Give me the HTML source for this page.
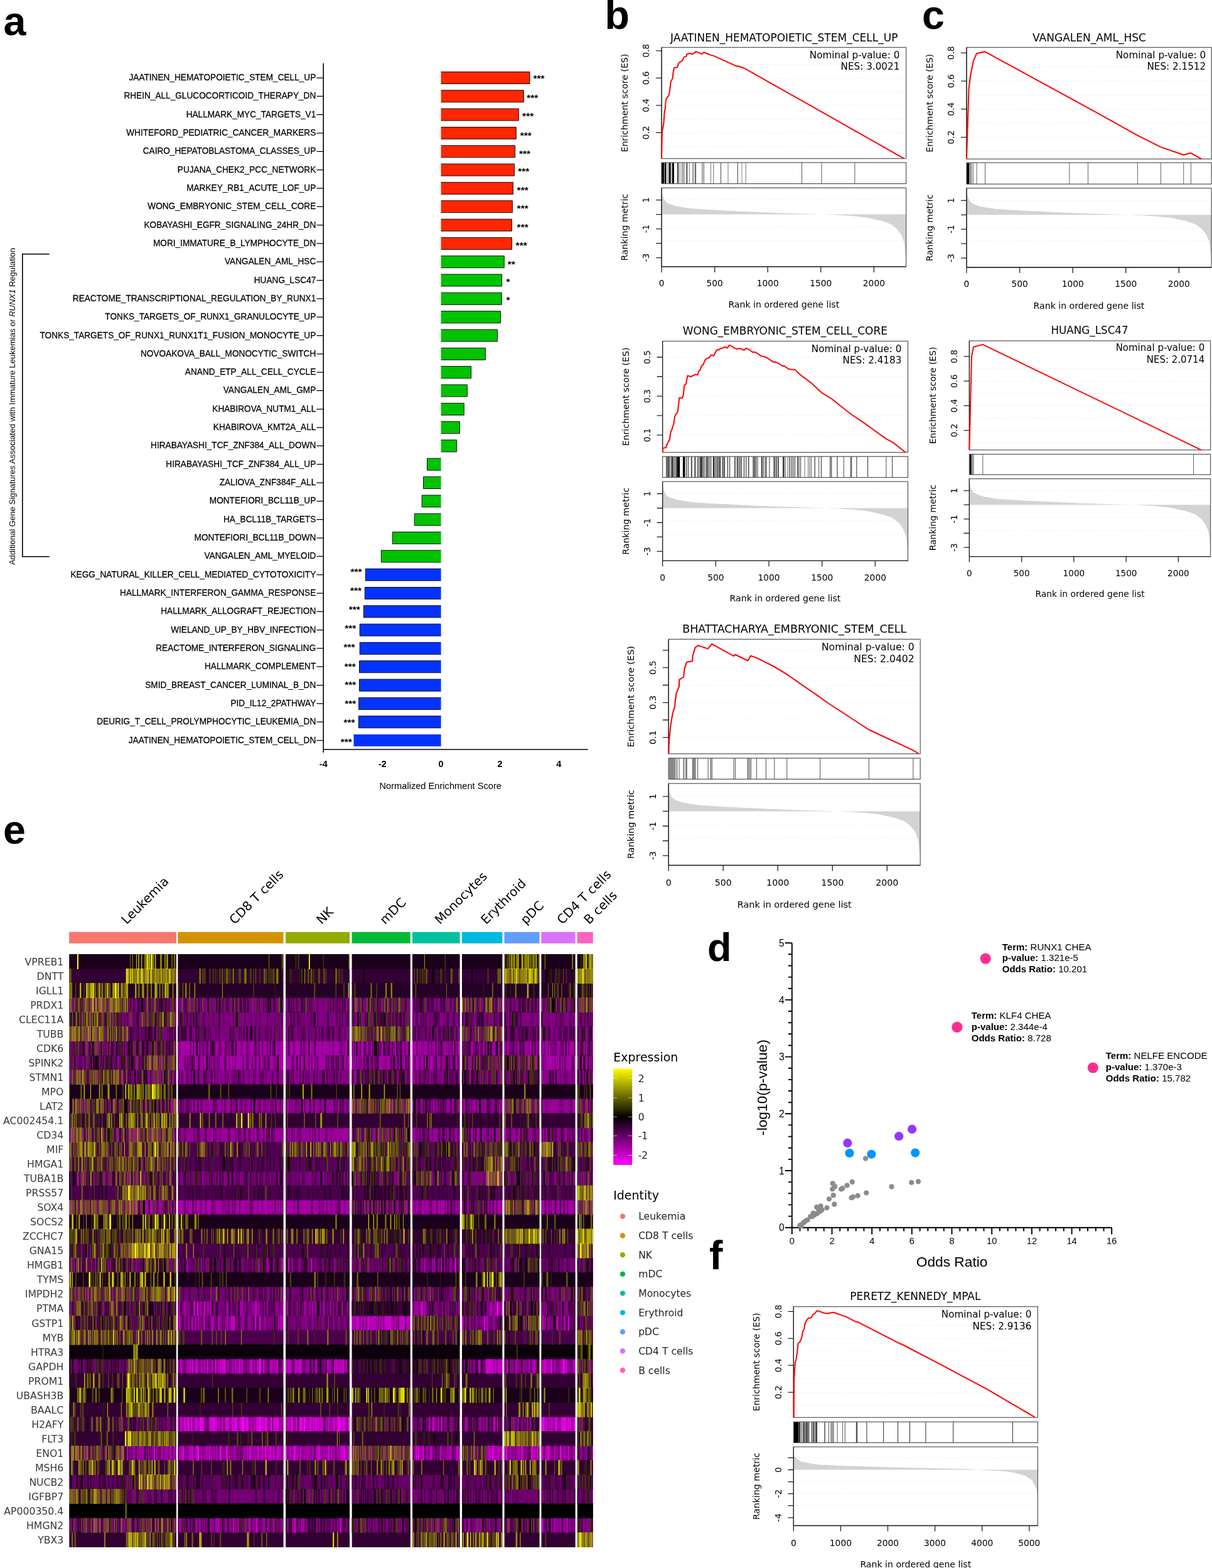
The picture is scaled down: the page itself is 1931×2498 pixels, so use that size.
<!DOCTYPE html>
<html><head><meta charset="utf-8"><title>Figure</title>
<style>html,body{margin:0;padding:0;background:#fff}svg{display:block}</style></head>
<body><svg width="1931" height="2498" viewBox="0 0 1931 2498">
<rect width="1931" height="2498" fill="#fff"/>
<text x="5.5" y="56.1" font-family="Liberation Sans, Arial, sans-serif" font-weight="bold" font-size="64.5">a</text>
<g font-family="Liberation Sans, Arial, sans-serif" font-size="14" text-anchor="end" fill="#000" stroke="#000" stroke-width="0.25" transform="translate(503.3 0) scale(0.975 1)">
<text x="0" y="128.1">JAATINEN_HEMATOPOIETIC_STEM_CELL_UP</text>
<text x="0" y="157.4">RHEIN_ALL_GLUCOCORTICOID_THERAPY_DN</text>
<text x="0" y="186.7">HALLMARK_MYC_TARGETS_V1</text>
<text x="0" y="216.1">WHITEFORD_PEDIATRIC_CANCER_MARKERS</text>
<text x="0" y="245.4">CAIRO_HEPATOBLASTOMA_CLASSES_UP</text>
<text x="0" y="274.7">PUJANA_CHEK2_PCC_NETWORK</text>
<text x="0" y="304.0">MARKEY_RB1_ACUTE_LOF_UP</text>
<text x="0" y="333.3">WONG_EMBRYONIC_STEM_CELL_CORE</text>
<text x="0" y="362.7">KOBAYASHI_EGFR_SIGNALING_24HR_DN</text>
<text x="0" y="392.0">MORI_IMMATURE_B_LYMPHOCYTE_DN</text>
<text x="0" y="421.3">VANGALEN_AML_HSC</text>
<text x="0" y="450.6">HUANG_LSC47</text>
<text x="0" y="479.9">REACTOME_TRANSCRIPTIONAL_REGULATION_BY_RUNX1</text>
<text x="0" y="509.3">TONKS_TARGETS_OF_RUNX1_GRANULOCYTE_UP</text>
<text x="0" y="538.6">TONKS_TARGETS_OF_RUNX1_RUNX1T1_FUSION_MONOCYTE_UP</text>
<text x="0" y="567.9">NOVOAKOVA_BALL_MONOCYTIC_SWITCH</text>
<text x="0" y="597.2">ANAND_ETP_ALL_CELL_CYCLE</text>
<text x="0" y="626.5">VANGALEN_AML_GMP</text>
<text x="0" y="655.9">KHABIROVA_NUTM1_ALL</text>
<text x="0" y="685.2">KHABIROVA_KMT2A_ALL</text>
<text x="0" y="714.5">HIRABAYASHI_TCF_ZNF384_ALL_DOWN</text>
<text x="0" y="743.8">HIRABAYASHI_TCF_ZNF384_ALL_UP</text>
<text x="0" y="773.1">ZALIOVA_ZNF384F_ALL</text>
<text x="0" y="802.5">MONTEFIORI_BCL11B_UP</text>
<text x="0" y="831.8">HA_BCL11B_TARGETS</text>
<text x="0" y="861.1">MONTEFIORI_BCL11B_DOWN</text>
<text x="0" y="890.4">VANGALEN_AML_MYELOID</text>
<text x="0" y="919.7">KEGG_NATURAL_KILLER_CELL_MEDIATED_CYTOTOXICITY</text>
<text x="0" y="949.1">HALLMARK_INTERFERON_GAMMA_RESPONSE</text>
<text x="0" y="978.4">HALLMARK_ALLOGRAFT_REJECTION</text>
<text x="0" y="1007.7">WIELAND_UP_BY_HBV_INFECTION</text>
<text x="0" y="1037.0">REACTOME_INTERFERON_SIGNALING</text>
<text x="0" y="1066.3">HALLMARK_COMPLEMENT</text>
<text x="0" y="1095.7">SMID_BREAST_CANCER_LUMINAL_B_DN</text>
<text x="0" y="1125.0">PID_IL12_2PATHWAY</text>
<text x="0" y="1154.3">DEURIG_T_CELL_PROLYMPHOCYTIC_LEUKEMIA_DN</text>
<text x="0" y="1183.6">JAATINEN_HEMATOPOIETIC_STEM_CELL_DN</text>
</g>
<path d="M504.5 124.0H515M504.5 153.3H515M504.5 182.6H515M504.5 212.0H515M504.5 241.3H515M504.5 270.6H515M504.5 299.9H515M504.5 329.2H515M504.5 358.6H515M504.5 387.9H515M504.5 417.2H515M504.5 446.5H515M504.5 475.8H515M504.5 505.2H515M504.5 534.5H515M504.5 563.8H515M504.5 593.1H515M504.5 622.4H515M504.5 651.8H515M504.5 681.1H515M504.5 710.4H515M504.5 739.7H515M504.5 769.0H515M504.5 798.4H515M504.5 827.7H515M504.5 857.0H515M504.5 886.3H515M504.5 915.6H515M504.5 945.0H515M504.5 974.3H515M504.5 1003.6H515M504.5 1032.9H515M504.5 1062.2H515M504.5 1091.6H515M504.5 1120.9H515M504.5 1150.2H515M504.5 1179.5H515" stroke="#000" stroke-width="1.25" fill="none"/>
<path d="M515.2 100.8V1199M514.2 1194H936.6" stroke="#000" stroke-width="1.6" fill="none"/>
<rect x="702.6" y="114.5" width="141.4" height="19" fill="#ff2600"/>
<path d="M702.6 114.5H844.0V133.5H702.6" fill="none" stroke="#111" stroke-width="1"/>
<rect x="702.6" y="143.8" width="131.7" height="19" fill="#ff2600"/>
<path d="M702.6 143.8H834.3V162.8H702.6" fill="none" stroke="#111" stroke-width="1"/>
<rect x="702.6" y="173.1" width="123.7" height="19" fill="#ff2600"/>
<path d="M702.6 173.1H826.3V192.1H702.6" fill="none" stroke="#111" stroke-width="1"/>
<rect x="702.6" y="202.5" width="119.7" height="19" fill="#ff2600"/>
<path d="M702.6 202.5H822.3V221.5H702.6" fill="none" stroke="#111" stroke-width="1"/>
<rect x="702.6" y="231.8" width="118.0" height="19" fill="#ff2600"/>
<path d="M702.6 231.8H820.6V250.8H702.6" fill="none" stroke="#111" stroke-width="1"/>
<rect x="702.6" y="261.1" width="116.9" height="19" fill="#ff2600"/>
<path d="M702.6 261.1H819.5V280.1H702.6" fill="none" stroke="#111" stroke-width="1"/>
<rect x="702.6" y="290.4" width="114.9" height="19" fill="#ff2600"/>
<path d="M702.6 290.4H817.5V309.4H702.6" fill="none" stroke="#111" stroke-width="1"/>
<rect x="702.6" y="319.7" width="113.8" height="19" fill="#ff2600"/>
<path d="M702.6 319.7H816.4V338.7H702.6" fill="none" stroke="#111" stroke-width="1"/>
<rect x="702.6" y="349.1" width="112.9" height="19" fill="#ff2600"/>
<path d="M702.6 349.1H815.5V368.1H702.6" fill="none" stroke="#111" stroke-width="1"/>
<rect x="702.6" y="378.4" width="112.9" height="19" fill="#ff2600"/>
<path d="M702.6 378.4H815.5V397.4H702.6" fill="none" stroke="#111" stroke-width="1"/>
<rect x="702.6" y="407.7" width="100.7" height="19" fill="#00c300"/>
<path d="M702.6 407.7H803.3V426.7H702.6" fill="none" stroke="#111" stroke-width="1"/>
<rect x="702.6" y="437.0" width="97.0" height="19" fill="#00c300"/>
<path d="M702.6 437.0H799.6V456.0H702.6" fill="none" stroke="#111" stroke-width="1"/>
<rect x="702.6" y="466.3" width="96.7" height="19" fill="#00c300"/>
<path d="M702.6 466.3H799.3V485.3H702.6" fill="none" stroke="#111" stroke-width="1"/>
<rect x="702.6" y="495.7" width="95.0" height="19" fill="#00c300"/>
<path d="M702.6 495.7H797.6V514.7H702.6" fill="none" stroke="#111" stroke-width="1"/>
<rect x="702.6" y="525.0" width="89.9" height="19" fill="#00c300"/>
<path d="M702.6 525.0H792.5V544.0H702.6" fill="none" stroke="#111" stroke-width="1"/>
<rect x="702.6" y="554.3" width="70.8" height="19" fill="#00c300"/>
<path d="M702.6 554.3H773.4V573.3H702.6" fill="none" stroke="#111" stroke-width="1"/>
<rect x="702.6" y="583.6" width="48.1" height="19" fill="#00c300"/>
<path d="M702.6 583.6H750.7V602.6H702.6" fill="none" stroke="#111" stroke-width="1"/>
<rect x="702.6" y="612.9" width="41.8" height="19" fill="#00c300"/>
<path d="M702.6 612.9H744.4V631.9H702.6" fill="none" stroke="#111" stroke-width="1"/>
<rect x="702.6" y="642.3" width="36.7" height="19" fill="#00c300"/>
<path d="M702.6 642.3H739.3V661.3H702.6" fill="none" stroke="#111" stroke-width="1"/>
<rect x="702.6" y="671.6" width="29.9" height="19" fill="#00c300"/>
<path d="M702.6 671.6H732.5V690.6H702.6" fill="none" stroke="#111" stroke-width="1"/>
<rect x="702.6" y="700.9" width="25.1" height="19" fill="#00c300"/>
<path d="M702.6 700.9H727.7V719.9H702.6" fill="none" stroke="#111" stroke-width="1"/>
<rect x="680.5" y="730.2" width="22.1" height="19" fill="#00c300"/>
<path d="M702.6 730.2H680.5V749.2H702.6" fill="none" stroke="#111" stroke-width="1"/>
<rect x="674.5" y="759.5" width="28.1" height="19" fill="#00c300"/>
<path d="M702.6 759.5H674.5V778.5H702.6" fill="none" stroke="#111" stroke-width="1"/>
<rect x="672.2" y="788.9" width="30.4" height="19" fill="#00c300"/>
<path d="M702.6 788.9H672.2V807.9H702.6" fill="none" stroke="#111" stroke-width="1"/>
<rect x="660.3" y="818.2" width="42.3" height="19" fill="#00c300"/>
<path d="M702.6 818.2H660.3V837.2H702.6" fill="none" stroke="#111" stroke-width="1"/>
<rect x="625.3" y="847.5" width="77.3" height="19" fill="#00c300"/>
<path d="M702.6 847.5H625.3V866.5H702.6" fill="none" stroke="#111" stroke-width="1"/>
<rect x="607.4" y="876.8" width="95.2" height="19" fill="#00c300"/>
<path d="M702.6 876.8H607.4V895.8H702.6" fill="none" stroke="#111" stroke-width="1"/>
<rect x="582.3" y="906.1" width="120.3" height="19" fill="#0433ff"/>
<path d="M702.6 906.1H582.3V925.1H702.6" fill="none" stroke="#111" stroke-width="1"/>
<rect x="581.3" y="935.5" width="121.3" height="19" fill="#0433ff"/>
<path d="M702.6 935.5H581.3V954.5H702.6" fill="none" stroke="#111" stroke-width="1"/>
<rect x="579.3" y="964.8" width="123.3" height="19" fill="#0433ff"/>
<path d="M702.6 964.8H579.3V983.8H702.6" fill="none" stroke="#111" stroke-width="1"/>
<rect x="573.2" y="994.1" width="129.4" height="19" fill="#0433ff"/>
<path d="M702.6 994.1H573.2V1013.1H702.6" fill="none" stroke="#111" stroke-width="1"/>
<rect x="573.2" y="1023.4" width="129.4" height="19" fill="#0433ff"/>
<path d="M702.6 1023.4H573.2V1042.4H702.6" fill="none" stroke="#111" stroke-width="1"/>
<rect x="572.5" y="1052.7" width="130.1" height="19" fill="#0433ff"/>
<path d="M702.6 1052.7H572.5V1071.7H702.6" fill="none" stroke="#111" stroke-width="1"/>
<rect x="572.5" y="1082.1" width="130.1" height="19" fill="#0433ff"/>
<path d="M702.6 1082.1H572.5V1101.1H702.6" fill="none" stroke="#111" stroke-width="1"/>
<rect x="571.7" y="1111.4" width="130.9" height="19" fill="#0433ff"/>
<path d="M702.6 1111.4H571.7V1130.4H702.6" fill="none" stroke="#111" stroke-width="1"/>
<rect x="571.4" y="1140.7" width="131.2" height="19" fill="#0433ff"/>
<path d="M702.6 1140.7H571.4V1159.7H702.6" fill="none" stroke="#111" stroke-width="1"/>
<rect x="563.5" y="1170.0" width="139.1" height="19" fill="#0433ff"/>
<g font-family="Liberation Sans, Arial, sans-serif" font-weight="bold" font-size="15.5" fill="#000">
<text x="849.4" y="129.7">***</text>
<text x="839.3" y="161.0">***</text>
<text x="832.1" y="190.1">***</text>
<text x="828.8" y="221.4">***</text>
<text x="826.9" y="250.2">***</text>
<text x="825.2" y="277.5">***</text>
<text x="823.6" y="307.9">***</text>
<text x="823.6" y="336.8">***</text>
<text x="823.6" y="367.2">***</text>
<text x="821.6" y="396.1">***</text>
<text x="808.8" y="425.7">**</text>
<text x="806.4" y="453.8">*</text>
<text x="806.4" y="483.1">*</text>
<text x="576.6" y="915.7" text-anchor="end">***</text>
<text x="576.1" y="945.9" text-anchor="end">***</text>
<text x="573.9" y="976.2" text-anchor="end">***</text>
<text x="567.3" y="1005.9" text-anchor="end">***</text>
<text x="565.6" y="1036.2" text-anchor="end">***</text>
<text x="566.9" y="1066.6" text-anchor="end">***</text>
<text x="567.3" y="1095.5" text-anchor="end">***</text>
<text x="567.3" y="1126.3" text-anchor="end">***</text>
<text x="565.6" y="1156.3" text-anchor="end">***</text>
<text x="560.8" y="1186.8" text-anchor="end">***</text>
</g>
<g font-family="Liberation Sans, Arial, sans-serif" font-weight="bold" font-size="14.5" text-anchor="middle">
<text x="515.3" y="1221.6">-4</text>
<text x="609.4" y="1221.6">-2</text>
<text x="702.6" y="1221.6">0</text>
<text x="796.5" y="1221.6">2</text>
<text x="890.3" y="1221.6">4</text>
</g>
<text x="701.7" y="1256.8" font-family="Liberation Sans, Arial, sans-serif" font-size="14.65" text-anchor="middle">Normalized Enrichment Score</text>
<path d="M78.6 404.7H35.8V886.8H78.6" stroke="#000" stroke-width="1.6" fill="none"/>
<text transform="translate(23.6 647.5) rotate(-90)" font-family="Liberation Sans, Arial, sans-serif" font-size="13" text-anchor="middle">Additional Gene Signatures Associated with Immature Leukemias or <tspan font-style="italic">RUNX1</tspan> Regulation</text>
<text x="963.5" y="46" font-family="Liberation Sans, Arial, sans-serif" font-weight="bold" font-size="64.5">b</text>
<text x="1469" y="46" font-family="Liberation Sans, Arial, sans-serif" font-weight="bold" font-size="64.5">c</text>
<path d="M1056.1 233.2H1441.6M1056.1 211.4H1441.6M1056.1 189.7H1441.6M1056.1 167.9H1441.6M1056.1 146.2H1441.6M1056.1 124.4H1441.6M1056.1 102.7H1441.6M1056.1 318.5H1441.6M1056.1 362.2H1441.6M1056.1 383.1H1441.6" stroke="#efefef" stroke-width="1" stroke-dasharray="4 3" fill="none"/>
<polygon points="1054.1,341.6 1054.1,306.0 1054.2,306.2 1054.4,307.0 1054.7,308.2 1055.2,310.0 1055.8,312.2 1056.5,314.2 1057.4,315.9 1058.4,317.9 1059.5,320.1 1060.7,321.2 1062.1,322.3 1063.6,323.4 1065.3,324.4 1067.0,325.0 1068.9,325.6 1070.9,326.3 1073.1,327.0 1075.3,327.8 1077.7,328.4 1080.2,328.8 1082.8,329.3 1085.5,329.7 1088.4,330.2 1091.3,330.6 1094.3,331.1 1097.5,331.6 1100.8,332.2 1104.1,332.4 1107.6,332.6 1111.1,332.8 1114.8,333.0 1118.5,333.3 1122.4,333.5 1126.3,333.8 1130.3,334.0 1134.4,334.3 1138.5,334.5 1142.8,334.7 1147.1,335.0 1151.5,335.2 1155.9,335.4 1160.4,335.7 1165.0,335.9 1169.6,336.2 1174.3,336.4 1179.1,336.6 1183.8,336.9 1188.7,337.1 1193.5,337.3 1198.4,337.5 1203.4,337.7 1208.4,338.0 1213.4,338.2 1218.4,338.4 1223.4,338.6 1228.5,338.8 1233.6,339.0 1238.7,339.2 1243.8,339.4 1248.8,339.5 1253.9,339.7 1259.0,339.9 1264.1,340.1 1269.2,340.2 1274.3,340.4 1279.3,340.6 1284.3,340.7 1289.3,340.9 1294.3,341.0 1299.3,341.2 1304.2,341.3 1309.0,341.4 1313.9,341.6 1318.6,341.8 1323.4,342.0 1328.1,342.2 1332.7,342.4 1337.3,342.7 1341.8,343.0 1346.2,343.3 1350.6,343.5 1354.9,343.8 1359.2,344.2 1363.3,344.7 1367.4,345.1 1371.4,345.5 1375.3,345.9 1379.2,346.3 1382.9,347.1 1386.6,347.9 1390.1,348.7 1393.6,349.5 1396.9,350.2 1400.2,350.9 1403.4,351.7 1406.4,352.6 1409.3,353.6 1412.2,354.5 1414.9,355.5 1417.5,356.4 1420.0,357.8 1422.4,359.6 1424.6,361.3 1426.8,362.9 1428.8,364.6 1430.7,367.1 1432.4,369.4 1434.1,371.5 1435.6,373.5 1437.0,376.8 1438.2,380.1 1439.3,383.0 1440.3,385.6 1441.2,392.0 1441.9,398.1 1442.5,403.1 1443.0,407.2 1443.3,410.4 1443.5,412.3 1443.6,412.9 1443.6,341.6" fill="#d3d3d3"/>
<rect x="1053.70" y="259.0" width="4.20" height="33.6" fill="#000000"/>
<rect x="1058.30" y="259.0" width="0.80" height="33.6" fill="#727272"/>
<rect x="1059.10" y="259.0" width="2.50" height="33.6" fill="#000000"/>
<rect x="1063.70" y="259.0" width="1.20" height="33.6" fill="#727272"/>
<rect x="1065.80" y="259.0" width="2.90" height="33.6" fill="#000000"/>
<rect x="1070.10" y="259.0" width="0.80" height="33.6" fill="#505050"/>
<rect x="1071.00" y="259.0" width="0.80" height="33.6" fill="#000000"/>
<rect x="1072.00" y="259.0" width="2.00" height="33.6" fill="#000000"/>
<rect x="1079.00" y="259.0" width="0.9" height="33.6" fill="#000000"/>
<rect x="1080.60" y="259.0" width="0.9" height="33.6" fill="#000000"/>
<rect x="1083.40" y="259.0" width="0.80" height="33.6" fill="#727272"/>
<rect x="1086.50" y="259.0" width="0.9" height="33.6" fill="#161616"/>
<rect x="1089.30" y="259.0" width="0.9" height="33.6" fill="#161616"/>
<rect x="1093.10" y="259.0" width="0.9" height="33.6" fill="#272727"/>
<rect x="1094.70" y="259.0" width="0.9" height="33.6" fill="#272727"/>
<rect x="1098.30" y="259.0" width="0.80" height="33.6" fill="#505050"/>
<rect x="1103.30" y="259.0" width="0.80" height="33.6" fill="#3f3f3f"/>
<rect x="1105.20" y="259.0" width="0.80" height="33.6" fill="#727272"/>
<rect x="1107.00" y="259.0" width="0.80" height="33.6" fill="#727272"/>
<rect x="1108.20" y="259.0" width="0.80" height="33.6" fill="#0c0c0c"/>
<rect x="1118.40" y="259.0" width="0.9" height="33.6" fill="#383838"/>
<rect x="1120.80" y="259.0" width="0.9" height="33.6" fill="#383838"/>
<rect x="1131.90" y="259.0" width="0.80" height="33.6" fill="#505050"/>
<rect x="1136.50" y="259.0" width="0.80" height="33.6" fill="#505050"/>
<rect x="1148.20" y="259.0" width="0.80" height="33.6" fill="#1d1d1d"/>
<rect x="1159.60" y="259.0" width="0.80" height="33.6" fill="#505050"/>
<rect x="1174.80" y="259.0" width="0.80" height="33.6" fill="#0c0c0c"/>
<rect x="1181.60" y="259.0" width="0.80" height="33.6" fill="#616161"/>
<rect x="1187.80" y="259.0" width="0.80" height="33.6" fill="#505050"/>
<rect x="1277.00" y="259.0" width="0.80" height="33.6" fill="#2e2e2e"/>
<rect x="1308.60" y="259.0" width="0.80" height="33.6" fill="#2e2e2e"/>
<rect x="1361.50" y="259.0" width="0.80" height="33.6" fill="#2e2e2e"/>
<g fill="none" stroke="#555" stroke-width="1.2"><rect x="1054.1" y="75.5" width="389.5" height="177.1"/><rect x="1054.1" y="259.0" width="389.5" height="33.6"/><rect x="1054.1" y="299.3" width="389.5" height="125.6"/></g>
<path d="M1054.1 75.5V252.6M1054.1 299.3V424.9H1443.6M1045.1 211.4H1054.1M1045.1 167.9H1054.1M1045.1 124.4H1054.1M1045.1 80.9H1054.1M1045.1 318.6H1054.1M1045.1 341.6H1054.1M1045.1 364.6H1054.1M1045.1 387.6H1054.1M1045.1 410.6H1054.1M1054.1 424.9V433.9M1138.7 424.9V433.9M1223.2 424.9V433.9M1307.8 424.9V433.9M1392.4 424.9V433.9" stroke="#222" stroke-width="1.3" fill="none"/>
<polyline points="1054.1,252.6 1054.9,210.5 1057.4,196.8 1058.4,181.3 1059.9,172.0 1060.9,158.3 1065.5,152.1 1067.1,144.6 1068.6,130.3 1071.7,124.7 1072.6,114.7 1074.2,107.9 1079.2,107.3 1081.1,101.1 1082.9,99.2 1086.7,97.0 1089.8,90.9 1093.2,89.9 1094.7,86.1 1098.5,85.3 1103.4,86.1 1105.9,84.6 1109.0,82.1 1118.4,86.1 1121.5,83.3 1132.1,87.6 1137.0,88.9 1174.4,105.8 1175.6,105.0 1188.0,109.8 1439.9,252.4" fill="none" stroke="#ff0000" stroke-width="2.00" stroke-linejoin="round"/>
<text x="1249.2" y="65.8" font-family="DejaVu Sans, Verdana, sans-serif" font-size="17.00" text-anchor="middle">JAATINEN_HEMATOPOIETIC_STEM_CELL_UP</text>
<g font-family="DejaVu Sans, Verdana, sans-serif" font-size="15.20" text-anchor="end"><text x="1433.3" y="92.7">Nominal p-value: 0</text><text x="1433.3" y="111.1">NES: 3.0021</text></g>
<g font-family="DejaVu Sans, Verdana, sans-serif" font-size="14.10" text-anchor="middle"><text transform="translate(1000.0 164.1) rotate(-90)">Enrichment score (ES)</text><text transform="translate(1000.0 362.1) rotate(-90)">Ranking metric</text><text x="1248.8" y="490.2">Rank in ordered gene list</text></g>
<g font-family="DejaVu Sans, Verdana, sans-serif" font-size="13.80" text-anchor="middle"><text transform="translate(1034.0 211.4) rotate(-90)">0.2</text><text transform="translate(1034.0 167.9) rotate(-90)">0.4</text><text transform="translate(1034.0 124.4) rotate(-90)">0.6</text><text transform="translate(1034.0 80.9) rotate(-90)">0.8</text><text transform="translate(1034.0 318.6) rotate(-90)">1</text><text transform="translate(1034.0 364.6) rotate(-90)">-1</text><text transform="translate(1034.0 410.6) rotate(-90)">-3</text><text x="1054.1" y="456.4">0</text><text x="1138.7" y="456.4">500</text><text x="1223.2" y="456.4">1000</text><text x="1307.8" y="456.4">1500</text><text x="1392.4" y="456.4">2000</text></g>
<path d="M1542.0 241.0H1928.1M1542.0 218.7H1928.1M1542.0 196.3H1928.1M1542.0 173.9H1928.1M1542.0 151.5H1928.1M1542.0 129.2H1928.1M1542.0 106.8H1928.1M1542.0 319.3H1928.1M1542.0 363.0H1928.1M1542.0 384.0H1928.1" stroke="#efefef" stroke-width="1" stroke-dasharray="4 3" fill="none"/>
<polygon points="1540.0,342.3 1540.0,306.7 1540.1,307.0 1540.3,307.7 1540.6,309.0 1541.1,310.8 1541.7,313.0 1542.4,315.0 1543.3,316.7 1544.3,318.6 1545.4,320.8 1546.6,322.0 1548.0,323.0 1549.5,324.2 1551.2,325.1 1553.0,325.7 1554.8,326.4 1556.9,327.0 1559.0,327.8 1561.3,328.5 1563.6,329.2 1566.1,329.6 1568.7,330.0 1571.5,330.4 1574.3,330.9 1577.3,331.4 1580.3,331.8 1583.5,332.4 1586.7,332.9 1590.1,333.1 1593.6,333.3 1597.1,333.5 1600.8,333.8 1604.5,334.0 1608.4,334.2 1612.3,334.5 1616.3,334.7 1620.4,335.0 1624.6,335.2 1628.8,335.5 1633.1,335.7 1637.5,335.9 1642.0,336.2 1646.5,336.4 1651.1,336.6 1655.7,336.9 1660.4,337.1 1665.2,337.4 1669.9,337.6 1674.8,337.8 1679.7,338.0 1684.6,338.2 1689.5,338.5 1694.5,338.7 1699.5,338.9 1704.5,339.1 1709.6,339.3 1714.7,339.5 1719.7,339.7 1724.8,339.9 1729.9,340.1 1735.0,340.3 1740.2,340.4 1745.3,340.6 1750.4,340.8 1755.4,340.9 1760.5,341.1 1765.6,341.3 1770.6,341.4 1775.6,341.6 1780.6,341.7 1785.5,341.9 1790.4,342.0 1795.3,342.1 1800.2,342.3 1804.9,342.5 1809.7,342.7 1814.4,342.9 1819.0,343.1 1823.6,343.4 1828.1,343.7 1832.6,344.0 1837.0,344.2 1841.3,344.5 1845.5,344.9 1849.7,345.4 1853.8,345.8 1857.8,346.2 1861.7,346.6 1865.6,347.0 1869.3,347.7 1873.0,348.6 1876.5,349.4 1880.0,350.1 1883.4,350.9 1886.6,351.6 1889.8,352.3 1892.8,353.2 1895.8,354.2 1898.6,355.2 1901.4,356.2 1904.0,357.0 1906.5,358.4 1908.8,360.2 1911.1,361.9 1913.2,363.5 1915.3,365.3 1917.1,367.7 1918.9,370.0 1920.6,372.2 1922.1,374.1 1923.5,377.4 1924.7,380.7 1925.8,383.6 1926.8,386.2 1927.7,392.6 1928.4,398.7 1929.0,403.7 1929.5,407.8 1929.8,410.9 1930.0,412.8 1930.1,413.4 1930.1,342.3" fill="#d3d3d3"/>
<rect x="1540.00" y="259.2" width="4.00" height="34.0" fill="#000000"/>
<rect x="1544.50" y="259.2" width="0.80" height="34.0" fill="#1d1d1d"/>
<rect x="1546.00" y="259.2" width="0.80" height="34.0" fill="#2e2e2e"/>
<rect x="1548.00" y="259.2" width="0.80" height="34.0" fill="#3f3f3f"/>
<rect x="1550.50" y="259.2" width="0.80" height="34.0" fill="#505050"/>
<rect x="1555.70" y="259.2" width="0.80" height="34.0" fill="#3f3f3f"/>
<rect x="1569.00" y="259.2" width="0.80" height="34.0" fill="#3f3f3f"/>
<rect x="1703.50" y="259.2" width="0.80" height="34.0" fill="#3f3f3f"/>
<rect x="1733.10" y="259.2" width="0.80" height="34.0" fill="#3f3f3f"/>
<rect x="1811.90" y="259.2" width="0.80" height="34.0" fill="#3f3f3f"/>
<rect x="1849.20" y="259.2" width="0.80" height="34.0" fill="#3f3f3f"/>
<rect x="1885.40" y="259.2" width="0.80" height="34.0" fill="#3f3f3f"/>
<rect x="1897.20" y="259.2" width="0.80" height="34.0" fill="#3f3f3f"/>
<g fill="none" stroke="#555" stroke-width="1.2"><rect x="1540.0" y="75.5" width="390.1" height="177.8"/><rect x="1540.0" y="259.2" width="390.1" height="34.0"/><rect x="1540.0" y="299.8" width="390.1" height="126.2"/></g>
<path d="M1540.0 75.5V253.3M1540.0 299.8V426.0H1930.1M1531.0 218.7H1540.0M1531.0 173.9H1540.0M1531.0 129.2H1540.0M1531.0 84.4H1540.0M1531.0 319.4H1540.0M1531.0 342.3H1540.0M1531.0 365.2H1540.0M1531.0 388.2H1540.0M1531.0 411.1H1540.0M1540.0 426.0V435.0M1624.6 426.0V435.0M1709.2 426.0V435.0M1793.7 426.0V435.0M1878.3 426.0V435.0" stroke="#222" stroke-width="1.3" fill="none"/>
<polyline points="1540.0,253.3 1543.6,140.7 1546.5,118.5 1551.0,96.3 1556.0,85.3 1569.3,82.3 1739.0,174.8 1813.1,216.2 1850.1,234.6 1885.7,246.7 1897.5,243.8 1914.4,253.3" fill="none" stroke="#ff0000" stroke-width="2.00" stroke-linejoin="round"/>
<text x="1735.5" y="65.8" font-family="DejaVu Sans, Verdana, sans-serif" font-size="17.00" text-anchor="middle">VANGALEN_AML_HSC</text>
<g font-family="DejaVu Sans, Verdana, sans-serif" font-size="15.20" text-anchor="end"><text x="1921.2" y="92.7">Nominal p-value: 0</text><text x="1921.2" y="111.1">NES: 2.1512</text></g>
<g font-family="DejaVu Sans, Verdana, sans-serif" font-size="14.10" text-anchor="middle"><text transform="translate(1486.0 164.4) rotate(-90)">Enrichment score (ES)</text><text transform="translate(1486.0 362.9) rotate(-90)">Ranking metric</text><text x="1735.0" y="491.5">Rank in ordered gene list</text></g>
<g font-family="DejaVu Sans, Verdana, sans-serif" font-size="13.80" text-anchor="middle"><text transform="translate(1520.0 218.7) rotate(-90)">0.2</text><text transform="translate(1520.0 173.9) rotate(-90)">0.4</text><text transform="translate(1520.0 129.2) rotate(-90)">0.6</text><text transform="translate(1520.0 84.4) rotate(-90)">0.8</text><text transform="translate(1520.0 319.4) rotate(-90)">1</text><text transform="translate(1520.0 365.2) rotate(-90)">-1</text><text transform="translate(1520.0 411.1) rotate(-90)">-3</text><text x="1540.0" y="457.4">0</text><text x="1624.6" y="457.4">500</text><text x="1709.2" y="457.4">1000</text><text x="1793.7" y="457.4">1500</text><text x="1878.3" y="457.4">2000</text></g>
<path d="M1057.6 693.2H1444.5M1057.6 662.1H1444.5M1057.6 631.1H1444.5M1057.6 600.0H1444.5M1057.6 569.0H1444.5M1057.6 786.4H1444.5M1057.6 830.0H1444.5M1057.6 851.0H1444.5" stroke="#efefef" stroke-width="1" stroke-dasharray="4 3" fill="none"/>
<polygon points="1055.6,809.5 1055.6,773.9 1055.7,774.1 1055.9,774.9 1056.2,776.2 1056.7,777.9 1057.3,780.2 1058.0,782.1 1058.9,783.8 1059.9,785.8 1061.0,788.0 1062.3,789.2 1063.6,790.2 1065.2,791.4 1066.8,792.3 1068.6,792.9 1070.5,793.5 1072.5,794.2 1074.6,795.0 1076.9,795.7 1079.3,796.3 1081.8,796.7 1084.4,797.2 1087.1,797.6 1090.0,798.1 1092.9,798.5 1096.0,799.0 1099.2,799.5 1102.4,800.1 1105.8,800.3 1109.3,800.5 1112.8,800.7 1116.5,801.0 1120.3,801.2 1124.1,801.4 1128.0,801.7 1132.1,801.9 1136.2,802.2 1140.3,802.4 1144.6,802.7 1148.9,802.9 1153.3,803.1 1157.8,803.3 1162.3,803.6 1166.9,803.8 1171.6,804.1 1176.3,804.3 1181.0,804.6 1185.8,804.8 1190.7,805.0 1195.5,805.2 1200.5,805.4 1205.4,805.7 1210.4,805.9 1215.4,806.1 1220.5,806.3 1225.5,806.5 1230.6,806.7 1235.7,806.9 1240.8,807.1 1245.9,807.3 1251.0,807.4 1256.2,807.6 1261.3,807.8 1266.4,808.0 1271.5,808.1 1276.6,808.3 1281.6,808.5 1286.7,808.6 1291.7,808.8 1296.7,808.9 1301.6,809.1 1306.6,809.2 1311.4,809.3 1316.3,809.5 1321.1,809.7 1325.8,809.9 1330.5,810.1 1335.2,810.3 1339.8,810.6 1344.3,810.9 1348.8,811.2 1353.2,811.4 1357.5,811.7 1361.8,812.1 1365.9,812.6 1370.0,813.0 1374.1,813.4 1378.0,813.8 1381.8,814.2 1385.6,815.0 1389.3,815.8 1392.8,816.6 1396.3,817.3 1399.7,818.1 1402.9,818.8 1406.1,819.5 1409.2,820.4 1412.1,821.5 1415.0,822.4 1417.7,823.4 1420.3,824.3 1422.8,825.7 1425.2,827.5 1427.5,829.2 1429.6,830.8 1431.6,832.5 1433.5,835.0 1435.3,837.3 1436.9,839.4 1438.5,841.4 1439.8,844.7 1441.1,847.9 1442.2,850.9 1443.2,853.5 1444.1,859.8 1444.8,865.9 1445.4,871.0 1445.9,875.0 1446.2,878.2 1446.4,880.1 1446.5,880.7 1446.5,809.5" fill="#d3d3d3"/>
<rect x="1061.26" y="727.3" width="1.19" height="33.3" fill="#1d1d1d"/>
<rect x="1062.44" y="727.3" width="1.19" height="33.3" fill="#505050"/>
<rect x="1063.98" y="727.3" width="1.43" height="33.3" fill="#1d1d1d"/>
<rect x="1066.00" y="727.3" width="0.9" height="33.3" fill="#000000"/>
<rect x="1068.66" y="727.3" width="0.9" height="33.3" fill="#000000"/>
<rect x="1069.55" y="727.3" width="0.9" height="33.3" fill="#161616"/>
<rect x="1071.03" y="727.3" width="0.9" height="33.3" fill="#161616"/>
<rect x="1071.92" y="727.3" width="0.9" height="33.3" fill="#050505"/>
<rect x="1074.14" y="727.3" width="0.9" height="33.3" fill="#050505"/>
<rect x="1076.36" y="727.3" width="0.9" height="33.3" fill="#050505"/>
<rect x="1077.25" y="727.3" width="1.78" height="33.3" fill="#505050"/>
<rect x="1079.03" y="727.3" width="4.15" height="33.3" fill="#000000"/>
<rect x="1087.91" y="727.3" width="3.56" height="33.3" fill="#000000"/>
<rect x="1093.25" y="727.3" width="0.9" height="33.3" fill="#000000"/>
<rect x="1095.91" y="727.3" width="0.9" height="33.3" fill="#000000"/>
<rect x="1100.95" y="727.3" width="1.78" height="33.3" fill="#3f3f3f"/>
<rect x="1106.28" y="727.3" width="0.9" height="33.3" fill="#161616"/>
<rect x="1107.76" y="727.3" width="0.9" height="33.3" fill="#161616"/>
<rect x="1111.02" y="727.3" width="0.9" height="33.3" fill="#383838"/>
<rect x="1112.50" y="727.3" width="0.9" height="33.3" fill="#383838"/>
<rect x="1114.57" y="727.3" width="0.9" height="33.3" fill="#000000"/>
<rect x="1116.05" y="727.3" width="0.9" height="33.3" fill="#000000"/>
<rect x="1116.94" y="727.3" width="0.9" height="33.3" fill="#050505"/>
<rect x="1118.42" y="727.3" width="0.9" height="33.3" fill="#050505"/>
<rect x="1119.91" y="727.3" width="0.9" height="33.3" fill="#000000"/>
<rect x="1122.42" y="727.3" width="0.9" height="33.3" fill="#000000"/>
<rect x="1124.94" y="727.3" width="0.9" height="33.3" fill="#000000"/>
<rect x="1126.42" y="727.3" width="1.78" height="33.3" fill="#3f3f3f"/>
<rect x="1128.79" y="727.3" width="0.9" height="33.3" fill="#383838"/>
<rect x="1130.71" y="727.3" width="0.9" height="33.3" fill="#383838"/>
<rect x="1132.64" y="727.3" width="0.9" height="33.3" fill="#383838"/>
<rect x="1135.90" y="727.3" width="1.78" height="33.3" fill="#1d1d1d"/>
<rect x="1137.68" y="727.3" width="0.9" height="33.3" fill="#000000"/>
<rect x="1139.90" y="727.3" width="0.9" height="33.3" fill="#000000"/>
<rect x="1142.12" y="727.3" width="0.9" height="33.3" fill="#000000"/>
<rect x="1143.60" y="727.3" width="1.78" height="33.3" fill="#505050"/>
<rect x="1145.97" y="727.3" width="0.9" height="33.3" fill="#050505"/>
<rect x="1147.45" y="727.3" width="0.9" height="33.3" fill="#050505"/>
<rect x="1150.71" y="727.3" width="1.55" height="33.3" fill="#2e2e2e"/>
<rect x="1153.08" y="727.3" width="0.9" height="33.3" fill="#383838"/>
<rect x="1154.20" y="727.3" width="0.9" height="33.3" fill="#383838"/>
<rect x="1159.00" y="727.3" width="0.9" height="33.3" fill="#000000"/>
<rect x="1162.26" y="727.3" width="0.9" height="33.3" fill="#000000"/>
<rect x="1170.26" y="727.3" width="1.43" height="33.3" fill="#1d1d1d"/>
<rect x="1173.82" y="727.3" width="1.78" height="33.3" fill="#2e2e2e"/>
<rect x="1176.78" y="727.3" width="1.78" height="33.3" fill="#505050"/>
<rect x="1179.74" y="727.3" width="1.78" height="33.3" fill="#3f3f3f"/>
<rect x="1185.07" y="727.3" width="0.9" height="33.3" fill="#000000"/>
<rect x="1188.33" y="727.3" width="0.9" height="33.3" fill="#000000"/>
<rect x="1192.18" y="727.3" width="1.19" height="33.3" fill="#1d1d1d"/>
<rect x="1199.29" y="727.3" width="1.19" height="33.3" fill="#3f3f3f"/>
<rect x="1201.07" y="727.3" width="0.9" height="33.3" fill="#161616"/>
<rect x="1202.54" y="727.3" width="0.9" height="33.3" fill="#161616"/>
<rect x="1204.03" y="727.3" width="1.19" height="33.3" fill="#505050"/>
<rect x="1206.40" y="727.3" width="1.19" height="33.3" fill="#505050"/>
<rect x="1212.91" y="727.3" width="0.9" height="33.3" fill="#050505"/>
<rect x="1214.39" y="727.3" width="0.9" height="33.3" fill="#050505"/>
<rect x="1216.47" y="727.3" width="1.19" height="33.3" fill="#505050"/>
<rect x="1219.43" y="727.3" width="1.78" height="33.3" fill="#2e2e2e"/>
<rect x="1225.36" y="727.3" width="1.19" height="33.3" fill="#505050"/>
<rect x="1232.46" y="727.3" width="0.9" height="33.3" fill="#000000"/>
<rect x="1233.94" y="727.3" width="0.9" height="33.3" fill="#000000"/>
<rect x="1236.02" y="727.3" width="1.78" height="33.3" fill="#505050"/>
<rect x="1238.98" y="727.3" width="1.78" height="33.3" fill="#3f3f3f"/>
<rect x="1247.27" y="727.3" width="1.78" height="33.3" fill="#000000"/>
<rect x="1250.24" y="727.3" width="1.00" height="33.3" fill="#1d1d1d"/>
<rect x="1254.39" y="727.3" width="1.00" height="33.3" fill="#727272"/>
<rect x="1257.35" y="727.3" width="1.00" height="33.3" fill="#000000"/>
<rect x="1260.07" y="727.3" width="0.9" height="33.3" fill="#383838"/>
<rect x="1262.14" y="727.3" width="0.9" height="33.3" fill="#383838"/>
<rect x="1264.22" y="727.3" width="0.9" height="33.3" fill="#383838"/>
<rect x="1266.29" y="727.3" width="0.9" height="33.3" fill="#383838"/>
<rect x="1270.14" y="727.3" width="1.78" height="33.3" fill="#505050"/>
<rect x="1272.75" y="727.3" width="1.00" height="33.3" fill="#505050"/>
<rect x="1275.12" y="727.3" width="1.00" height="33.3" fill="#3f3f3f"/>
<rect x="1281.64" y="727.3" width="1.00" height="33.3" fill="#727272"/>
<rect x="1287.32" y="727.3" width="0.9" height="33.3" fill="#494949"/>
<rect x="1289.84" y="727.3" width="0.9" height="33.3" fill="#494949"/>
<rect x="1292.35" y="727.3" width="0.9" height="33.3" fill="#494949"/>
<rect x="1297.64" y="727.3" width="1.00" height="33.3" fill="#0c0c0c"/>
<rect x="1304.15" y="727.3" width="1.00" height="33.3" fill="#505050"/>
<rect x="1307.94" y="727.3" width="1.00" height="33.3" fill="#2e2e2e"/>
<rect x="1322.27" y="727.3" width="0.9" height="33.3" fill="#000000"/>
<rect x="1324.34" y="727.3" width="0.9" height="33.3" fill="#000000"/>
<rect x="1333.54" y="727.3" width="1.00" height="33.3" fill="#1d1d1d"/>
<rect x="1343.84" y="727.3" width="1.00" height="33.3" fill="#505050"/>
<rect x="1354.86" y="727.3" width="0.9" height="33.3" fill="#272727"/>
<rect x="1356.34" y="727.3" width="0.9" height="33.3" fill="#272727"/>
<rect x="1364.34" y="727.3" width="1.00" height="33.3" fill="#2e2e2e"/>
<rect x="1382.11" y="727.3" width="1.00" height="33.3" fill="#2e2e2e"/>
<rect x="1411.38" y="727.3" width="1.00" height="33.3" fill="#505050"/>
<rect x="1421.21" y="727.3" width="1.00" height="33.3" fill="#2e2e2e"/>
<g fill="none" stroke="#555" stroke-width="1.2"><rect x="1055.6" y="543.5" width="390.9" height="177.1"/><rect x="1055.6" y="727.3" width="390.9" height="33.3"/><rect x="1055.6" y="767.2" width="390.9" height="126.2"/></g>
<path d="M1055.6 543.5V720.6M1055.6 767.2V893.4H1446.5M1046.6 693.2H1055.6M1046.6 662.1H1055.6M1046.6 631.1H1055.6M1046.6 600.0H1055.6M1046.6 569.0H1055.6M1046.6 786.5H1055.6M1046.6 809.5H1055.6M1046.6 832.5H1055.6M1046.6 855.4H1055.6M1046.6 878.4H1055.6M1055.6 893.4V902.4M1140.3 893.4V902.4M1225.0 893.4V902.4M1309.7 893.4V902.4M1394.4 893.4V902.4" stroke="#222" stroke-width="1.3" fill="none"/>
<polyline points="1056.0,720.4 1056.0,714.1 1061.2,712.9 1063.1,706.7 1066.8,700.5 1068.7,688.0 1070.5,684.3 1073.6,674.3 1074.9,664.4 1076.7,660.0 1079.2,657.5 1080.5,650.7 1082.3,633.9 1087.3,633.9 1088.6,629.6 1090.4,613.4 1092.9,612.1 1095.4,598.4 1101.0,600.3 1102.9,598.4 1105.4,598.4 1107.2,596.6 1111.6,597.2 1113.2,591.6 1115.3,589.7 1117.8,582.9 1120.3,581.0 1124.0,572.3 1127.8,570.5 1130.2,569.8 1132.7,565.5 1137.1,566.7 1140.8,559.3 1142.7,557.1 1145.8,557.4 1147.7,554.9 1150.8,554.7 1154.5,552.7 1158.9,554.3 1162.0,549.9 1166.3,551.8 1170.7,554.9 1173.8,556.1 1175.7,555.5 1179.4,555.2 1185.6,558.0 1188.7,554.7 1193.1,556.8 1199.3,561.1 1203.0,561.1 1206.8,563.0 1213.0,567.6 1215.5,567.6 1220.4,569.2 1232.9,577.1 1235.4,576.7 1240.3,578.8 1246.6,583.3 1249.1,582.9 1256.5,587.9 1260.0,588.5 1266.6,588.9 1274.0,596.3 1291.8,609.6 1309.5,625.9 1324.3,634.8 1354.0,658.5 1382.1,677.7 1411.7,699.1 1422.1,704.4 1442.8,720.7" fill="none" stroke="#ff0000" stroke-width="2.00" stroke-linejoin="round"/>
<text x="1250.9" y="533.2" font-family="DejaVu Sans, Verdana, sans-serif" font-size="17.00" text-anchor="middle">WONG_EMBRYONIC_STEM_CELL_CORE</text>
<g font-family="DejaVu Sans, Verdana, sans-serif" font-size="15.20" text-anchor="end"><text x="1436.3" y="560.7">Nominal p-value: 0</text><text x="1436.3" y="579.1">NES: 2.4183</text></g>
<g font-family="DejaVu Sans, Verdana, sans-serif" font-size="14.10" text-anchor="middle"><text transform="translate(1001.5 632.0) rotate(-90)">Enrichment score (ES)</text><text transform="translate(1001.5 830.3) rotate(-90)">Ranking metric</text><text x="1251.0" y="957.6">Rank in ordered gene list</text></g>
<g font-family="DejaVu Sans, Verdana, sans-serif" font-size="13.80" text-anchor="middle"><text transform="translate(1035.5 693.2) rotate(-90)">0.1</text><text transform="translate(1035.5 631.1) rotate(-90)">0.3</text><text transform="translate(1035.5 569.0) rotate(-90)">0.5</text><text transform="translate(1035.5 786.5) rotate(-90)">1</text><text transform="translate(1035.5 832.5) rotate(-90)">-1</text><text transform="translate(1035.5 878.4) rotate(-90)">-3</text><text x="1055.6" y="925.0">0</text><text x="1140.3" y="925.0">500</text><text x="1225.0" y="925.0">1000</text><text x="1309.7" y="925.0">1500</text><text x="1394.4" y="925.0">2000</text></g>
<path d="M1546.4 705.4H1926.6M1546.4 685.7H1926.6M1546.4 666.0H1926.6M1546.4 646.4H1926.6M1546.4 626.8H1926.6M1546.4 607.1H1926.6M1546.4 587.5H1926.6M1546.4 781.1H1926.6M1546.4 824.0H1926.6M1546.4 845.0H1926.6" stroke="#efefef" stroke-width="1" stroke-dasharray="4 3" fill="none"/>
<polygon points="1544.4,804.2 1544.4,769.1 1544.5,769.3 1544.7,770.1 1545.0,771.3 1545.5,773.1 1546.0,775.3 1546.8,777.2 1547.6,778.9 1548.6,780.8 1549.7,783.0 1550.9,784.2 1552.3,785.2 1553.8,786.3 1555.4,787.2 1557.2,787.8 1559.0,788.5 1561.0,789.1 1563.1,789.9 1565.3,790.6 1567.7,791.2 1570.1,791.6 1572.7,792.0 1575.4,792.5 1578.2,792.9 1581.1,793.4 1584.1,793.9 1587.2,794.4 1590.4,794.9 1593.7,795.1 1597.2,795.3 1600.7,795.6 1604.3,795.8 1608.0,796.0 1611.7,796.2 1615.6,796.5 1619.6,796.7 1623.6,797.0 1627.7,797.2 1631.9,797.5 1636.1,797.7 1640.5,797.9 1644.8,798.1 1649.3,798.4 1653.8,798.6 1658.4,798.8 1663.0,799.1 1667.7,799.3 1672.4,799.6 1677.1,799.8 1681.9,800.0 1686.8,800.2 1691.7,800.4 1696.6,800.6 1701.5,800.8 1706.4,801.0 1711.4,801.2 1716.4,801.5 1721.4,801.7 1726.4,801.8 1731.5,802.0 1736.5,802.2 1741.5,802.3 1746.6,802.5 1751.6,802.7 1756.6,802.8 1761.6,803.0 1766.6,803.2 1771.5,803.3 1776.4,803.5 1781.3,803.6 1786.2,803.8 1791.1,803.9 1795.9,804.0 1800.6,804.2 1805.3,804.4 1810.0,804.6 1814.6,804.7 1819.2,805.0 1823.7,805.3 1828.2,805.5 1832.5,805.8 1836.9,806.1 1841.1,806.4 1845.3,806.8 1849.4,807.2 1853.4,807.6 1857.4,808.1 1861.3,808.5 1865.0,808.9 1868.7,809.6 1872.3,810.4 1875.8,811.2 1879.3,811.9 1882.6,812.7 1885.8,813.4 1888.9,814.1 1891.9,815.0 1894.8,816.0 1897.6,816.9 1900.3,817.9 1902.9,818.8 1905.3,820.1 1907.7,821.9 1909.9,823.6 1912.0,825.2 1914.0,826.9 1915.8,829.3 1917.6,831.6 1919.2,833.7 1920.7,835.6 1922.1,838.9 1923.3,842.1 1924.4,845.0 1925.4,847.5 1926.2,853.8 1927.0,859.9 1927.5,864.8 1928.0,868.8 1928.3,871.9 1928.5,873.8 1928.6,874.4 1928.6,804.2" fill="#d3d3d3"/>
<rect x="1544.40" y="723.6" width="3.60" height="32.6" fill="#000000"/>
<rect x="1549.20" y="723.6" width="0.80" height="32.6" fill="#1d1d1d"/>
<rect x="1550.70" y="723.6" width="0.80" height="32.6" fill="#3f3f3f"/>
<rect x="1565.50" y="723.6" width="0.80" height="32.6" fill="#3f3f3f"/>
<rect x="1901.10" y="723.6" width="0.80" height="32.6" fill="#3f3f3f"/>
<g fill="none" stroke="#555" stroke-width="1.2"><rect x="1544.4" y="543.0" width="384.2" height="173.8"/><rect x="1544.4" y="723.6" width="384.2" height="32.6"/><rect x="1544.4" y="762.7" width="384.2" height="123.9"/></g>
<path d="M1544.4 543.0V716.8M1544.4 762.7V886.6H1928.6M1535.5 685.7H1544.4M1535.5 646.4H1544.4M1535.5 607.1H1544.4M1535.5 567.8H1544.4M1535.5 781.6H1544.4M1535.5 804.2H1544.4M1535.5 826.9H1544.4M1535.5 849.5H1544.4M1535.5 872.2H1544.4M1544.4 886.6V895.5M1627.7 886.6V895.5M1710.9 886.6V895.5M1794.2 886.6V895.5M1877.4 886.6V895.5" stroke="#222" stroke-width="1.3" fill="none"/>
<polyline points="1544.4,716.8 1546.2,640.0 1548.0,568.1 1551.0,552.7 1565.8,548.9 1913.8,716.8" fill="none" stroke="#ff0000" stroke-width="1.97" stroke-linejoin="round"/>
<text x="1736.1" y="532.0" font-family="DejaVu Sans, Verdana, sans-serif" font-size="16.76" text-anchor="middle">HUANG_LSC47</text>
<g font-family="DejaVu Sans, Verdana, sans-serif" font-size="14.99" text-anchor="end"><text x="1919.2" y="559.2">Nominal p-value: 0</text><text x="1919.2" y="577.6">NES: 2.0714</text></g>
<g font-family="DejaVu Sans, Verdana, sans-serif" font-size="13.90" text-anchor="middle"><text transform="translate(1491.0 629.9) rotate(-90)">Enrichment score (ES)</text><text transform="translate(1491.0 824.7) rotate(-90)">Ranking metric</text><text x="1736.5" y="950.8">Rank in ordered gene list</text></g>
<g font-family="DejaVu Sans, Verdana, sans-serif" font-size="13.61" text-anchor="middle"><text transform="translate(1525.0 685.7) rotate(-90)">0.2</text><text transform="translate(1525.0 646.4) rotate(-90)">0.4</text><text transform="translate(1525.0 607.1) rotate(-90)">0.6</text><text transform="translate(1525.0 567.8) rotate(-90)">0.8</text><text transform="translate(1525.0 781.6) rotate(-90)">1</text><text transform="translate(1525.0 826.9) rotate(-90)">-1</text><text transform="translate(1525.0 872.2) rotate(-90)">-3</text><text x="1544.4" y="917.6">0</text><text x="1627.7" y="917.6">500</text><text x="1710.9" y="917.6">1000</text><text x="1794.2" y="917.6">1500</text><text x="1877.4" y="917.6">2000</text></g>
<path d="M1067.2 1174.8H1464.2M1067.2 1147.0H1464.2M1067.2 1119.3H1464.2M1067.2 1091.5H1464.2M1067.2 1063.7H1464.2M1067.2 1035.9H1464.2M1067.2 1268.8H1464.2M1067.2 1313.0H1464.2M1067.2 1335.0H1464.2" stroke="#efefef" stroke-width="1" stroke-dasharray="4 3" fill="none"/>
<polygon points="1065.2,1292.4 1065.2,1255.9 1065.3,1256.2 1065.5,1256.9 1065.8,1258.2 1066.3,1260.0 1066.9,1262.3 1067.7,1264.3 1068.6,1266.1 1069.6,1268.1 1070.7,1270.4 1072.0,1271.6 1073.5,1272.6 1075.0,1273.8 1076.7,1274.8 1078.5,1275.4 1080.5,1276.0 1082.5,1276.7 1084.7,1277.5 1087.1,1278.3 1089.5,1278.9 1092.1,1279.3 1094.7,1279.8 1097.5,1280.2 1100.5,1280.7 1103.5,1281.2 1106.6,1281.7 1109.9,1282.2 1113.2,1282.7 1116.7,1283.0 1120.3,1283.2 1123.9,1283.4 1127.7,1283.6 1131.5,1283.9 1135.5,1284.1 1139.5,1284.4 1143.6,1284.6 1147.8,1284.9 1152.1,1285.2 1156.5,1285.4 1160.9,1285.6 1165.5,1285.9 1170.0,1286.1 1174.7,1286.3 1179.4,1286.6 1184.1,1286.8 1189.0,1287.1 1193.8,1287.3 1198.8,1287.6 1203.7,1287.8 1208.8,1288.0 1213.8,1288.2 1218.9,1288.5 1224.0,1288.7 1229.2,1288.9 1234.3,1289.1 1239.5,1289.3 1244.7,1289.6 1250.0,1289.8 1255.2,1290.0 1260.5,1290.1 1265.7,1290.3 1270.9,1290.5 1276.2,1290.6 1281.4,1290.8 1286.7,1291.0 1291.9,1291.2 1297.1,1291.3 1302.2,1291.5 1307.4,1291.6 1312.5,1291.8 1317.6,1291.9 1322.6,1292.1 1327.7,1292.2 1332.6,1292.4 1337.6,1292.6 1342.4,1292.8 1347.3,1293.0 1352.0,1293.2 1356.7,1293.5 1361.4,1293.8 1366.0,1294.1 1370.5,1294.4 1374.9,1294.7 1379.3,1295.1 1383.6,1295.5 1387.8,1296.0 1391.9,1296.4 1395.9,1296.8 1399.9,1297.2 1403.7,1298.0 1407.5,1298.8 1411.1,1299.7 1414.7,1300.4 1418.2,1301.2 1421.5,1302.0 1424.8,1302.7 1427.9,1303.6 1430.9,1304.7 1433.9,1305.7 1436.7,1306.6 1439.3,1307.5 1441.9,1309.0 1444.3,1310.8 1446.7,1312.6 1448.9,1314.2 1450.9,1316.0 1452.9,1318.5 1454.7,1320.9 1456.4,1323.0 1457.9,1325.1 1459.4,1328.5 1460.7,1331.8 1461.8,1334.8 1462.8,1337.5 1463.7,1344.0 1464.5,1350.3 1465.1,1355.4 1465.6,1359.6 1465.9,1362.8 1466.1,1364.8 1466.2,1365.4 1466.2,1292.4" fill="#d3d3d3"/>
<rect x="1065.34" y="1207.8" width="0.9" height="33.5" fill="#000000"/>
<rect x="1067.27" y="1207.8" width="0.9" height="33.5" fill="#000000"/>
<rect x="1069.20" y="1207.8" width="0.9" height="33.5" fill="#000000"/>
<rect x="1071.13" y="1207.8" width="0.9" height="33.5" fill="#000000"/>
<rect x="1073.06" y="1207.8" width="0.9" height="33.5" fill="#000000"/>
<rect x="1075.06" y="1207.8" width="0.9" height="33.5" fill="#050505"/>
<rect x="1077.92" y="1207.8" width="0.9" height="33.5" fill="#050505"/>
<rect x="1081.51" y="1207.8" width="1.00" height="33.5" fill="#505050"/>
<rect x="1089.15" y="1207.8" width="0.9" height="33.5" fill="#000000"/>
<rect x="1092.49" y="1207.8" width="0.9" height="33.5" fill="#000000"/>
<rect x="1093.66" y="1207.8" width="1.00" height="33.5" fill="#505050"/>
<rect x="1103.24" y="1207.8" width="0.9" height="33.5" fill="#000000"/>
<rect x="1105.15" y="1207.8" width="0.9" height="33.5" fill="#000000"/>
<rect x="1107.06" y="1207.8" width="0.9" height="33.5" fill="#000000"/>
<rect x="1111.14" y="1207.8" width="1.00" height="33.5" fill="#505050"/>
<rect x="1127.66" y="1207.8" width="1.00" height="33.5" fill="#505050"/>
<rect x="1131.65" y="1207.8" width="0.9" height="33.5" fill="#161616"/>
<rect x="1133.78" y="1207.8" width="0.9" height="33.5" fill="#161616"/>
<rect x="1168.47" y="1207.8" width="1.00" height="33.5" fill="#505050"/>
<rect x="1170.90" y="1207.8" width="1.00" height="33.5" fill="#505050"/>
<rect x="1190.68" y="1207.8" width="0.9" height="33.5" fill="#000000"/>
<rect x="1193.20" y="1207.8" width="0.9" height="33.5" fill="#000000"/>
<rect x="1195.72" y="1207.8" width="0.9" height="33.5" fill="#000000"/>
<rect x="1204.90" y="1207.8" width="1.00" height="33.5" fill="#505050"/>
<rect x="1219.96" y="1207.8" width="1.00" height="33.5" fill="#505050"/>
<rect x="1233.32" y="1207.8" width="1.00" height="33.5" fill="#505050"/>
<rect x="1253.24" y="1207.8" width="1.00" height="33.5" fill="#505050"/>
<rect x="1306.19" y="1207.8" width="1.00" height="33.5" fill="#505050"/>
<rect x="1383.92" y="1207.8" width="1.00" height="33.5" fill="#505050"/>
<rect x="1454.35" y="1207.8" width="1.00" height="33.5" fill="#505050"/>
<g fill="none" stroke="#555" stroke-width="1.2"><rect x="1065.2" y="1018.4" width="401.0" height="182.5"/><rect x="1065.2" y="1207.8" width="401.0" height="33.5"/><rect x="1065.2" y="1248.2" width="401.0" height="130.3"/></g>
<path d="M1065.2 1018.4V1200.9M1065.2 1248.2V1378.5H1466.2M1055.9 1174.8H1065.2M1055.9 1147.0H1065.2M1055.9 1119.3H1065.2M1055.9 1091.5H1065.2M1055.9 1063.7H1065.2M1055.9 1035.9H1065.2M1055.9 1268.9H1065.2M1055.9 1292.4H1065.2M1055.9 1316.0H1065.2M1055.9 1339.5H1065.2M1055.9 1363.1H1065.2M1065.2 1378.5V1387.8M1152.2 1378.5V1387.8M1239.2 1378.5V1387.8M1326.3 1378.5V1387.8M1413.3 1378.5V1387.8" stroke="#222" stroke-width="1.3" fill="none"/>
<polyline points="1065.3,1200.7 1066.1,1180.0 1068.5,1155.7 1071.7,1136.3 1075.1,1125.4 1075.8,1116.9 1077.5,1104.7 1081.9,1093.8 1082.3,1082.9 1089.1,1078.5 1090.4,1065.9 1094.0,1054.9 1103.2,1053.2 1103.7,1045.2 1107.4,1031.9 1112.2,1028.2 1128.0,1033.6 1134.1,1025.8 1168.8,1045.2 1171.2,1042.8 1191.2,1052.5 1193.1,1050.1 1196.0,1044.7 1204.5,1047.6 1232.5,1061.5 1251.9,1073.2 1302.9,1108.4 1319.9,1120.5 1384.3,1162.5 1453.5,1194.6 1463.7,1200.7" fill="none" stroke="#ff0000" stroke-width="2.06" stroke-linejoin="round"/>
<text x="1265.7" y="1007.8" font-family="DejaVu Sans, Verdana, sans-serif" font-size="17.51" text-anchor="middle">BHATTACHARYA_EMBRYONIC_STEM_CELL</text>
<g font-family="DejaVu Sans, Verdana, sans-serif" font-size="15.66" text-anchor="end"><text x="1456.8" y="1035.9">Nominal p-value: 0</text><text x="1456.8" y="1055.2">NES: 2.0402</text></g>
<g font-family="DejaVu Sans, Verdana, sans-serif" font-size="14.52" text-anchor="middle"><text transform="translate(1009.5 1109.7) rotate(-90)">Enrichment score (ES)</text><text transform="translate(1009.5 1313.3) rotate(-90)">Ranking metric</text><text x="1265.7" y="1445.8">Rank in ordered gene list</text></g>
<g font-family="DejaVu Sans, Verdana, sans-serif" font-size="14.21" text-anchor="middle"><text transform="translate(1044.6 1174.8) rotate(-90)">0.1</text><text transform="translate(1044.6 1119.3) rotate(-90)">0.3</text><text transform="translate(1044.6 1063.7) rotate(-90)">0.5</text><text transform="translate(1044.6 1268.9) rotate(-90)">1</text><text transform="translate(1044.6 1316.0) rotate(-90)">-1</text><text transform="translate(1044.6 1363.1) rotate(-90)">-3</text><text x="1065.2" y="1411.0">0</text><text x="1152.2" y="1411.0">500</text><text x="1239.2" y="1411.0">1000</text><text x="1326.3" y="1411.0">1500</text><text x="1413.3" y="1411.0">2000</text></g>
<path d="M1266.3 2239.6H1651.4M1266.3 2218.1H1651.4M1266.3 2196.7H1651.4M1266.3 2175.2H1651.4M1266.3 2153.8H1651.4M1266.3 2132.3H1651.4M1266.3 2110.8H1651.4M1266.3 2322.6H1651.4M1266.3 2360.8H1651.4M1266.3 2379.7H1651.4M1266.3 2398.9H1651.4" stroke="#efefef" stroke-width="1" stroke-dasharray="4 3" fill="none"/>
<polygon points="1264.3,2341.5 1264.3,2316.7 1264.4,2316.8 1264.6,2317.2 1264.9,2317.7 1265.4,2318.5 1266.0,2319.6 1266.7,2320.8 1267.6,2322.3 1268.6,2323.6 1269.7,2324.3 1270.9,2325.1 1272.3,2326.0 1273.8,2327.0 1275.5,2328.0 1277.2,2328.6 1279.1,2328.9 1281.1,2329.3 1283.3,2329.7 1285.5,2330.1 1287.9,2330.6 1290.4,2331.0 1293.0,2331.5 1295.7,2332.0 1298.5,2332.6 1301.5,2333.1 1304.5,2333.4 1307.7,2333.5 1310.9,2333.7 1314.3,2333.8 1317.7,2334.0 1321.3,2334.2 1324.9,2334.3 1328.7,2334.5 1332.5,2334.7 1336.4,2334.9 1340.4,2335.0 1344.5,2335.2 1348.7,2335.4 1352.9,2335.6 1357.2,2335.7 1361.6,2335.8 1366.0,2336.0 1370.5,2336.1 1375.1,2336.2 1379.7,2336.3 1384.4,2336.5 1389.1,2336.6 1393.9,2336.7 1398.7,2336.8 1403.6,2337.0 1408.5,2337.1 1413.4,2337.2 1418.4,2337.4 1423.4,2337.5 1428.4,2337.6 1433.5,2337.8 1438.5,2337.9 1443.6,2338.0 1448.7,2338.2 1453.8,2338.3 1458.8,2338.4 1463.9,2338.5 1469.0,2338.7 1474.1,2338.8 1479.2,2338.9 1484.2,2339.0 1489.3,2339.1 1494.3,2339.2 1499.3,2339.4 1504.3,2339.5 1509.2,2339.6 1514.1,2339.7 1519.0,2339.8 1523.8,2339.9 1528.6,2340.0 1533.3,2340.1 1538.0,2340.2 1542.6,2340.4 1547.2,2340.5 1551.7,2340.7 1556.1,2341.5 1560.5,2341.7 1564.8,2342.0 1569.0,2342.2 1573.2,2342.4 1577.3,2342.7 1581.3,2342.9 1585.2,2343.1 1589.0,2343.3 1592.8,2343.5 1596.4,2343.7 1600.0,2343.9 1603.4,2344.3 1606.8,2344.8 1610.0,2345.3 1613.2,2345.8 1616.2,2346.3 1619.2,2346.9 1622.0,2347.8 1624.7,2348.6 1627.3,2349.3 1629.8,2350.1 1632.2,2350.8 1634.4,2351.5 1636.6,2352.9 1638.6,2354.2 1640.5,2355.5 1642.2,2356.6 1643.9,2357.7 1645.4,2360.0 1646.8,2362.8 1648.0,2365.3 1649.1,2367.6 1650.1,2369.6 1651.0,2371.3 1651.7,2376.2 1652.3,2380.5 1652.8,2383.8 1653.1,2386.1 1653.3,2387.6 1653.4,2388.0 1653.4,2341.5" fill="#d3d3d3"/>
<rect x="1264.72" y="2265.2" width="7.89" height="33.2" fill="#000000"/>
<rect x="1273.22" y="2265.2" width="0.9" height="33.2" fill="#000000"/>
<rect x="1274.13" y="2265.2" width="0.9" height="33.2" fill="#000000"/>
<rect x="1276.37" y="2265.2" width="0.9" height="33.2" fill="#000000"/>
<rect x="1278.99" y="2265.2" width="0.9" height="33.2" fill="#000000"/>
<rect x="1280.50" y="2265.2" width="0.9" height="33.2" fill="#050505"/>
<rect x="1281.90" y="2265.2" width="0.9" height="33.2" fill="#050505"/>
<rect x="1283.66" y="2265.2" width="0.9" height="33.2" fill="#000000"/>
<rect x="1285.06" y="2265.2" width="0.9" height="33.2" fill="#000000"/>
<rect x="1286.58" y="2265.2" width="0.9" height="33.2" fill="#161616"/>
<rect x="1287.49" y="2265.2" width="0.9" height="33.2" fill="#161616"/>
<rect x="1288.66" y="2265.2" width="1.00" height="33.2" fill="#727272"/>
<rect x="1292.65" y="2265.2" width="0.9" height="33.2" fill="#000000"/>
<rect x="1294.78" y="2265.2" width="0.9" height="33.2" fill="#000000"/>
<rect x="1296.29" y="2265.2" width="0.9" height="33.2" fill="#000000"/>
<rect x="1298.42" y="2265.2" width="0.9" height="33.2" fill="#000000"/>
<rect x="1299.94" y="2265.2" width="0.9" height="33.2" fill="#050505"/>
<rect x="1300.85" y="2265.2" width="0.9" height="33.2" fill="#050505"/>
<rect x="1312.94" y="2265.2" width="1.00" height="33.2" fill="#727272"/>
<rect x="1314.16" y="2265.2" width="1.00" height="33.2" fill="#727272"/>
<rect x="1319.75" y="2265.2" width="1.00" height="33.2" fill="#505050"/>
<rect x="1323.50" y="2265.2" width="0.9" height="33.2" fill="#272727"/>
<rect x="1325.53" y="2265.2" width="0.9" height="33.2" fill="#272727"/>
<rect x="1327.57" y="2265.2" width="0.9" height="33.2" fill="#272727"/>
<rect x="1333.59" y="2265.2" width="1.00" height="33.2" fill="#616161"/>
<rect x="1342.09" y="2265.2" width="1.00" height="33.2" fill="#616161"/>
<rect x="1345.74" y="2265.2" width="1.00" height="33.2" fill="#505050"/>
<rect x="1363.82" y="2265.2" width="0.9" height="33.2" fill="#161616"/>
<rect x="1365.22" y="2265.2" width="0.9" height="33.2" fill="#161616"/>
<rect x="1380.47" y="2265.2" width="1.00" height="33.2" fill="#2e2e2e"/>
<rect x="1407.19" y="2265.2" width="1.00" height="33.2" fill="#2e2e2e"/>
<rect x="1430.02" y="2265.2" width="1.00" height="33.2" fill="#2e2e2e"/>
<rect x="1448.97" y="2265.2" width="1.00" height="33.2" fill="#2e2e2e"/>
<rect x="1474.47" y="2265.2" width="1.00" height="33.2" fill="#2e2e2e"/>
<rect x="1518.19" y="2265.2" width="1.00" height="33.2" fill="#2e2e2e"/>
<rect x="1612.92" y="2265.2" width="1.00" height="33.2" fill="#2e2e2e"/>
<g fill="none" stroke="#555" stroke-width="1.2"><rect x="1264.3" y="2081.6" width="389.1" height="176.6"/><rect x="1264.3" y="2265.2" width="389.1" height="33.2"/><rect x="1264.3" y="2305.0" width="389.1" height="125.5"/></g>
<path d="M1264.3 2081.6V2258.2M1264.3 2305.0V2430.5H1653.4M1255.3 2218.1H1264.3M1255.3 2175.2H1264.3M1255.3 2132.3H1264.3M1255.3 2089.4H1264.3M1255.3 2322.4H1264.3M1255.3 2341.5H1264.3M1255.3 2360.6H1264.3M1255.3 2379.6H1264.3M1255.3 2398.7H1264.3M1255.3 2417.8H1264.3M1264.3 2430.5V2439.5M1339.4 2430.5V2439.5M1414.5 2430.5V2439.5M1489.6 2430.5V2439.5M1564.7 2430.5V2439.5M1639.8 2430.5V2439.5" stroke="#222" stroke-width="1.3" fill="none"/>
<polyline points="1264.7,2258.4 1265.2,2196.4 1266.7,2172.2 1268.4,2164.9 1270.1,2155.2 1271.5,2140.6 1274.4,2137.7 1276.4,2133.3 1278.1,2127.2 1279.3,2119.9 1281.2,2117.5 1282.2,2110.2 1284.6,2104.1 1287.8,2099.8 1292.6,2099.3 1295.1,2094.4 1298.2,2092.5 1301.2,2088.4 1303.6,2088.4 1313.3,2092.0 1319.4,2092.5 1323.0,2091.5 1327.9,2090.8 1335.2,2093.2 1343.7,2096.4 1347.3,2097.3 1364.3,2106.1 1366.7,2106.1 1391.0,2118.7 1429.9,2138.6 1439.6,2143.0 1497.9,2173.4 1570.8,2212.2 1648.5,2257.7" fill="none" stroke="#ff0000" stroke-width="2.00" stroke-linejoin="round"/>
<text x="1458.4" y="2071.1" font-family="DejaVu Sans, Verdana, sans-serif" font-size="17.00" text-anchor="middle">PERETZ_KENNEDY_MPAL</text>
<g font-family="DejaVu Sans, Verdana, sans-serif" font-size="15.20" text-anchor="end"><text x="1643.3" y="2098.8">Nominal p-value: 0</text><text x="1643.3" y="2117.5">NES: 2.9136</text></g>
<g font-family="DejaVu Sans, Verdana, sans-serif" font-size="14.10" text-anchor="middle"><text transform="translate(1210.0 2169.9) rotate(-90)">Enrichment score (ES)</text><text transform="translate(1210.0 2367.8) rotate(-90)">Ranking metric</text><text x="1458.8" y="2496.8">Rank in ordered gene list</text></g>
<g font-family="DejaVu Sans, Verdana, sans-serif" font-size="13.80" text-anchor="middle"><text transform="translate(1245.0 2218.1) rotate(-90)">0.2</text><text transform="translate(1245.0 2175.2) rotate(-90)">0.4</text><text transform="translate(1245.0 2132.3) rotate(-90)">0.6</text><text transform="translate(1245.0 2089.4) rotate(-90)">0.8</text><text transform="translate(1245.0 2341.5) rotate(-90)">0</text><text transform="translate(1245.0 2379.6) rotate(-90)">-2</text><text transform="translate(1245.0 2417.8) rotate(-90)">-4</text><text x="1264.3" y="2462.5">0</text><text x="1339.4" y="2462.5">1000</text><text x="1414.5" y="2462.5">2000</text><text x="1489.6" y="2462.5">3000</text><text x="1564.7" y="2462.5">4000</text><text x="1639.8" y="2462.5">5000</text></g>
<g fill="none" stroke-width="23.93">
<path stroke="#e600e6" d="M283.4 2268.88h168.1m3.6 0h101.9m305.4 0h54.2"/>
<path stroke="#cc00cc" d="M560.6 2107.66h93.2"/>
<path stroke="#b200b2" d="M283.4 2176.76h168.1m3.6 0h101.9m179.0 0h38.6m0.0 0h25.8m3.1 0h56.0m2.9 0h54.2m3.1 0h25.1"/>
<path stroke="#a600a6" d="M110.2 1670.10h170.7m2.5 0h168.1m3.6 0h101.9m3.6 0h93.2m3.2 0h75.6m3.4 0h64.4m3.1 0h56.0m2.9 0h54.2m3.1 0h25.1m-834.6 23.03h119.5m0.0 0h51.2m2.5 0h168.1m3.6 0h101.9m3.6 0h93.2m3.2 0h75.6m3.4 0h64.4m3.1 0h56.0m2.9 0h54.2m3.1 0h25.1m-834.6 230.30h111.0m0.0 0h59.7m2.5 0h168.1m3.6 0h101.9m3.6 0h93.2m3.2 0h75.6m3.4 0h45.1m0.0 0h19.3m3.1 0h56.0m2.9 0h54.2m3.1 0h25.1"/>
<path stroke="#990099" d="M110.2 1762.22h170.7m2.5 0h168.1m3.6 0h101.9m3.6 0h93.2m3.2 0h75.6m3.4 0h64.4m3.1 0h56.0m2.9 0h54.2m3.1 0h25.1m-834.6 46.06h170.7m2.5 0h168.1m3.6 0h101.9m3.6 0h93.2m3.2 0h75.6m3.4 0h64.4m3.1 0h56.0m2.9 0h54.2m3.1 0h25.1m-834.6 506.66h88.8m0.0 0h81.9m2.5 0h168.1m3.6 0h101.9m3.6 0h93.2m3.2 0h75.6m3.4 0h38.6m0.0 0h25.8m3.1 0h56.0m2.9 0h54.2m3.1 0h25.1m-834.6 115.15h170.7m2.5 0h168.1m3.6 0h101.9m3.6 0h93.2m3.2 0h75.6m3.4 0h64.4m3.1 0h56.0m2.9 0h54.2m3.1 0h25.1"/>
<path stroke="#8c008c" d="M110.2 1716.16h85.4m0.0 0h85.3m2.5 0h168.1m3.6 0h101.9m3.6 0h93.2m3.2 0h75.6m3.4 0h64.4m3.1 0h56.0m2.9 0h54.2m3.1 0h25.1"/>
<path stroke="#800080" d="M110.2 1601.01h93.9m0.0 0h76.8m2.5 0h168.1m3.6 0h101.9m3.6 0h93.2m3.2 0h75.6m3.4 0h64.4m3.1 0h56.0m2.9 0h54.2m3.1 0h25.1m-834.6 23.03h81.9m0.0 0h34.1m0.0 0h54.6m2.5 0h168.1m3.6 0h101.9m3.6 0h93.2m3.2 0h75.6m3.4 0h64.4m3.1 0h56.0m2.9 0h54.2m3.1 0h25.1m-834.6 23.03h93.9m0.0 0h76.8m2.5 0h168.1m3.6 0h101.9m3.6 0h93.2m3.2 0h75.6m3.4 0h64.4m3.1 0h56.0m2.9 0h54.2m3.1 0h25.1m-834.6 230.30h170.7m2.5 0h168.1m3.6 0h101.9m3.6 0h93.2m3.2 0h75.6m3.4 0h38.6m0.0 0h25.8m3.1 0h56.0m2.9 0h54.2m3.1 0h25.1m-661.4 207.27h168.1m3.6 0h101.9m100.0 0h22.7m0.0 0h52.9m3.4 0h38.6m0.0 0h25.8m3.1 0h56.0m2.9 0h54.2m3.1 0h25.1m-661.4 23.03h168.1m3.6 0h101.9m100.0 0h75.6m3.4 0h64.4m3.1 0h56.0m2.9 0h54.2m3.1 0h25.1m-834.6 69.09h93.9m356.5 92.12h93.2m3.2 0h75.6m3.4 0h64.4m3.1 0h56.0m60.2 0h25.1"/>
<path stroke="#730073" d="M110.2 2061.61h170.7m2.5 0h168.1m3.6 0h101.9m3.6 0h93.2m3.2 0h75.6m3.4 0h64.4m3.1 0h56.0m2.9 0h54.2m3.1 0h25.1m-834.6 322.42h90.5m0.0 0h29.0m0.0 0h51.2m2.5 0h25.2m0.0 0h142.9m3.6 0h101.9m3.6 0h93.2m3.2 0h75.6m3.4 0h64.4m3.1 0h56.0m2.9 0h54.2m3.1 0h25.1"/>
<path stroke="#660066" d="M283.4 2015.55h168.1m3.6 0h101.9m3.6 0h93.2m3.2 0h75.6m3.4 0h64.4m3.1 0h56.0m2.9 0h54.2m3.1 0h25.1m-740.7 161.21h76.8m-170.7 92.12h85.4m0.0 0h85.3m-170.7 92.12h85.4m0.0 0h25.6m0.0 0h59.7m2.5 0h168.1m3.6 0h101.9m3.6 0h93.2m3.2 0h75.6m3.4 0h64.4m3.1 0h56.0m2.9 0h54.2m3.1 0h25.1"/>
<path stroke="#590059" d="M110.2 1854.34h170.7m2.5 0h168.1m3.6 0h101.9m3.6 0h93.2m3.2 0h75.6m3.4 0h38.6m0.0 0h25.8m3.1 0h56.0m2.9 0h54.2m3.1 0h25.1m-834.6 161.21h170.7m-170.7 69.09h170.7m-170.7 23.03h170.7"/>
<path stroke="#4c004c" d="M110.2 1831.31h170.7m2.5 0h67.2m0.0 0h100.9m3.6 0h101.9m3.6 0h93.2m3.2 0h75.6m3.4 0h64.4m3.1 0h56.0m2.9 0h19.0m0.0 0h35.2m3.1 0h25.1m-834.6 69.09h85.4m0.0 0h37.6m0.0 0h47.8m2.5 0h168.1m3.6 0h101.9m3.6 0h93.2m3.2 0h75.6m3.4 0h64.4m3.1 0h56.0m2.9 0h54.2m3.1 0h25.1m-834.6 92.12h85.4m0.0 0h85.3m2.5 0h168.1m3.6 0h101.9m3.6 0h93.2m3.2 0h75.6m3.4 0h64.4m3.1 0h56.0m2.9 0h54.2m3.1 0h25.1m-834.6 138.18h170.7m2.5 0h11.8m0.0 0h156.3m3.6 0h101.9m3.6 0h93.2m3.2 0h75.6m3.4 0h64.4m3.1 0h56.0m2.9 0h54.2m3.1 0h25.1m-384.2 46.06h93.2m3.2 0h75.6"/>
<path stroke="#400040" d="M560.6 2084.63h93.2"/>
<path stroke="#330033" d="M110.2 1554.95h90.5m0.0 0h80.2m2.5 0h33.6m0.0 0h134.5m3.6 0h101.9m3.6 0h93.2m3.2 0h75.6m3.4 0h51.5m0.0 0h12.9m3.1 0h56.0m2.9 0h54.2m3.1 0h25.1m-834.6 230.30h85.4m0.0 0h85.3m2.5 0h168.1m3.6 0h101.9m3.6 0h93.2m3.2 0h75.6m3.4 0h64.4m3.1 0h56.0m2.9 0h54.2m3.1 0h25.1m-834.6 184.24h170.7m2.5 0h168.1m3.6 0h101.9m3.6 0h93.2m3.2 0h75.6m3.4 0h64.4m3.1 0h56.0m2.9 0h54.2m3.1 0h25.1m-834.6 230.30h90.5m0.0 0h80.2m2.5 0h168.1m3.6 0h101.9m3.6 0h93.2m3.2 0h75.6m3.4 0h64.4m3.1 0h56.0m2.9 0h54.2m3.1 0h25.1m-834.6 46.06h90.5m0.0 0h37.6m0.0 0h42.7m2.5 0h168.1m3.6 0h101.9m3.6 0h93.2m3.2 0h75.6m3.4 0h64.4m3.1 0h22.4m0.0 0h33.6m2.9 0h54.2m3.1 0h25.1m-834.6 46.06h88.8m0.0 0h81.9m2.5 0h168.1m3.6 0h101.9m3.6 0h93.2m3.2 0h75.6m3.4 0h64.4m3.1 0h56.0m2.9 0h54.2m3.1 0h25.1m-834.6 46.06h170.7m2.5 0h168.1m3.6 0h101.9m3.6 0h93.2m3.2 0h75.6m3.4 0h32.2m0.0 0h32.2m3.1 0h56.0m2.9 0h54.2m3.1 0h25.1m-834.6 115.15h90.5m0.0 0h32.4m0.0 0h47.8m2.5 0h168.1m3.6 0h101.9m3.6 0h93.2m3.2 0h75.6m3.4 0h64.4m3.1 0h56.0m2.9 0h54.2m3.1 0h25.1"/>
<path stroke="#260026" d="M110.2 1577.98h93.9m0.0 0h76.8m2.5 0h20.2m0.0 0h147.9m3.6 0h101.9m3.6 0h93.2m3.2 0h75.6m3.4 0h64.4m3.1 0h56.0m2.9 0h54.2m3.1 0h25.1"/>
<path stroke="#1a001a" d="M110.2 1531.92h93.9m0.0 0h76.8m2.5 0h168.1m3.6 0h101.9m3.6 0h93.2m3.2 0h75.6m3.4 0h64.4m3.1 0h56.0m2.9 0h54.2m3.1 0h10.0m0.0 0h15.1m-834.6 207.27h85.4m0.0 0h68.3m0.0 0h17.1m2.5 0h168.1m3.6 0h101.9m3.6 0h93.2m3.2 0h75.6m3.4 0h64.4m3.1 0h56.0m2.9 0h54.2m3.1 0h25.1m-834.6 207.27h170.7m2.5 0h33.6m0.0 0h134.5m3.6 0h101.9m3.6 0h93.2m3.2 0h75.6m3.4 0h19.3m0.0 0h45.1m3.1 0h56.0m2.9 0h54.2m3.1 0h25.1m-834.6 92.12h170.7m2.5 0h168.1m3.6 0h101.9m3.6 0h93.2m3.2 0h75.6m3.4 0h29.0m0.0 0h35.4m3.1 0h56.0m2.9 0h54.2m3.1 0h25.1m-834.6 184.24h90.5m0.0 0h80.2m2.5 0h168.1m3.6 0h101.9m3.6 0h93.2m3.2 0h75.6m3.4 0h45.1m0.0 0h19.3m3.1 0h56.0m2.9 0h54.2m3.1 0h25.1"/>
<path stroke="#0d000d" d="M110.2 2153.72h102.4m0.0 0h6.8m0.0 0h61.5m2.5 0h168.1m3.6 0h101.9m3.6 0h93.2m3.2 0h75.6m3.4 0h64.4m3.1 0h56.0m2.9 0h54.2m3.1 0h25.1"/>
<path stroke="#000000" d="M110.2 2407.05h90.0m0.0 0h1.4m0.0 0h79.4m2.5 0h168.1m3.6 0h101.9m3.6 0h93.2m3.2 0h75.6m3.4 0h64.4m3.1 0h56.0m2.9 0h54.2m3.1 0h25.1"/>
<path stroke="#ff00ff" stroke-opacity="0.45" d="M284.9 2107.66h2.5m17.3 0h2.5m31.6 0h2.0m77.9 69.09h1.5m-193.2 138.18h1.0m100.8 0h1.8m67.9 0h2.0m34.1 0h2.5m12.0 0h1.2m54.1 0h1.0m2.2 0h1.0m11.9 0h1.0m151.5 0h1.2m151.4 0h1.5m28.4 0h2.5m10.6 0h1.0"/>
<path stroke="#ff00ff" stroke-opacity="0.7" d="M350.5 2176.76h1.5m29.4 0h2.0m394.4 0h2.5m3.7 0h1.0m-387.3 138.18h0.8m19.2 0h1.5m12.8 0h0.8m36.1 0h2.0m35.5 0h1.2m15.4 0h2.5m148.7 0h1.5m108.2 0h1.5m106.3 0h1.5m11.3 0h2.0"/>
<path stroke="#ff00ff" d="M791.3 2084.63h2.5m-490.3 92.12h1.0m1.5 0h0.8m35.7 0h1.2m65.4 0h1.0m2.8 0h2.0m359.7 0h2.0m16.7 0h0.8m121.8 0h0.7m-530.1 92.12h2.5m23.8 0h2.5m61.8 0h0.8m44.8 0h1.0m15.5 0h2.0m-296.5 46.06h2.0m66.1 0h0.8m1.5 0h2.0m151.0 0h0.8m78.3 0h2.5m5.5 0h1.0m106.6 0h1.2m2.5 0h1.5"/>
<path stroke="#f200f2" stroke-opacity="0.45" d="M663.8 2015.55h1.0m-280.1 69.09h2.0m-51.2 23.03h1.5m38.2 69.09h1.2m39.5 0h0.8m42.7 0h2.5m84.2 0h1.5m-276.4 138.18h2.0m205.2 0h2.0m235.9 0h2.5m11.7 0h2.1m115.7 0h1.0m13.1 0h2.5m8.5 0h1.0m23.3 0h0.8"/>
<path stroke="#f200f2" stroke-opacity="0.7" d="M285.9 2084.63h1.0m39.1 0h0.8m9.7 0h1.0m444.4 0h1.5m-472.7 23.03h1.5m12.0 0h2.5m43.7 0h0.8m-16.8 69.09h1.5m432.9 0h1.0m-105.9 92.12h1.5m-394.7 46.06h2.5m150.2 0h1.2m385.7 0h1.5m14.5 0h2.0"/>
<path stroke="#f200f2" d="M450.6 2084.63h0.9m219.5 0h1.5m-222.6 23.03h1.5m-94.7 69.09h1.2m42.7 0h1.0m495.5 0h2.5m-611.9 92.12h1.5m141.6 0h1.2m29.0 0h1.0m2.7 0h1.8m16.9 0h2.0m217.7 0h1.0m-343.7 46.06h2.5m47.8 0h1.5m42.9 0h2.0m270.2 0h2.0m163.9 0h1.0"/>
<path stroke="#e600e6" stroke-opacity="0.45" d="M460.1 2015.55h1.5m29.7 0h1.2m9.8 0h1.0m162.5 0h1.0m-358.6 69.09h0.8m9.5 0h1.2m4.3 0h1.0m36.2 0h1.5m-62.5 23.03h1.5m484.7 0h1.2m-461.6 69.09h1.5m77.9 0h1.2m24.1 0h1.0m348.6 0h1.2m-11.6 92.12h1.5m-513.7 46.06h1.0m8.2 0h0.8m104.2 0h1.0m118.5 0h1.0m283.7 0h0.8m20.2 0h2.5m-261.6 115.15h0.8"/>
<path stroke="#e600e6" stroke-opacity="0.7" d="M310.0 2015.55h1.2m115.2 0h1.5m244.6 69.09h1.5m124.5 0h1.9m-394.4 23.03h2.5m62.7 69.09h1.0m395.0 0h2.5m-178.1 92.12h0.8m-435.7 46.06h1.0m43.6 0h1.0m127.7 0h2.0m29.1 0h2.0m206.9 0h1.5m29.0 0h2.0m110.7 0h1.2m60.0 0h2.0"/>
<path stroke="#e600e6" d="M353.2 2015.55h0.8m58.1 0h1.5m35.3 0h1.0m-136.4 69.09h2.5m91.5 0h1.5m15.9 0h1.2m-55.7 92.12h1.5m64.2 0h1.2m4.0 0h1.2m435.7 0h2.0m-678.2 138.18h1.5m25.5 0h1.0m119.9 0h2.2m38.3 0h1.2m50.8 0h1.0m2.7 0h1.5m61.0 0h1.5m22.1 0h1.0m12.0 0h1.0m260.3 0h1.5"/>
<path stroke="#d900d9" stroke-opacity="0.45" d="M726.7 2015.55h1.0m-437.3 69.09h1.0m-8.0 23.03h1.5m28.9 69.09h1.2m32.5 0h1.0m192.4 0h1.5m243.4 0h1.5m10.8 0h0.8m-56.4 92.12h2.0m-392.4 46.06h1.0m84.8 0h1.2m355.8 0h1.2"/>
<path stroke="#d900d9" stroke-opacity="0.7" d="M495.0 2015.55h2.5m209.9 0h1.5m-393.2 92.12h1.5m68.3 0h0.8m26.7 0h2.5m8.1 0h1.2m351.0 0h1.5m109.3 0h2.5m-601.7 69.09h1.0m22.9 0h2.5m15.7 0h2.5m1.5 0h1.0m24.2 0h1.2m116.8 0h2.5m43.0 0h1.2m12.5 0h1.0m10.7 0h0.8m155.7 92.12h0.8m-308.0 46.06h0.8m42.4 0h1.5m338.8 0h1.2m23.9 0h1.0m-264.5 115.15h1.5"/>
<path stroke="#d900d9" d="M458.6 2015.55h1.5m228.8 0h1.0m34.3 0h2.5m-325.7 69.09h1.0m393.0 0h1.0m-437.4 23.03h1.0m86.8 0h2.5m287.1 0h2.5m32.6 0h2.0m-398.9 69.09h1.0m423.7 0h1.5m-329.8 92.12h1.5m65.6 0h1.5m5.3 0h1.2m8.2 0h1.0m231.5 0h1.2m-551.1 46.06h1.2m68.1 0h1.5m108.6 0h0.8m5.3 0h2.5m52.9 0h1.0m38.4 0h1.0m10.0 0h1.2m14.2 0h2.0m140.6 0h1.5m98.1 0h1.5m84.5 0h2.0m-404.3 115.15h2.0m392.5 0h1.5m37.9 0h1.0m11.8 0h0.8"/>
<path stroke="#cc00cc" stroke-opacity="0.45" d="M365.0 2015.55h1.2m40.5 0h1.2m389.3 0h1.0m-466.9 69.09h2.5m142.7 0h2.0m-191.1 23.03h2.0m5.3 0h1.0m462.7 0h1.5m21.6 69.09h2.5m65.6 0h2.5m-631.6 138.18h1.0m82.8 0h1.5m30.3 0h1.5m50.0 0h2.0m122.0 0h1.5m148.2 0h1.5m202.1 0h1.2m17.1 0h1.0m-535.9 115.15h2.0m24.6 0h1.5m90.2 0h1.0m431.2 0h1.2"/>
<path stroke="#cc00cc" stroke-opacity="0.7" d="M385.4 2015.55h1.5m158.7 69.09h1.5m-200.3 23.03h1.0m39.3 0h1.0m359.5 0h2.0m117.8 0h2.5m19.2 0h1.2m8.7 0h2.0m-106.9 69.09h1.5m-102.0 92.12h1.0m-375.0 46.06h1.2m167.6 0h1.5m13.0 0h1.5m1.0 0h1.0m280.5 0h1.5m43.4 0h1.5m48.9 0h1.0m-558.2 115.15h0.8m156.9 0h0.8m399.5 0h1.2"/>
<path stroke="#cc00cc" d="M465.3 2015.55h1.0m66.2 0h1.0m1.8 0h1.0m139.5 0h1.5m25.3 0h1.5m206.1 0h0.8m-602.0 69.09h2.5m100.7 0h1.5m-52.1 23.03h1.5m8.1 0h2.7m368.1 0h0.8m121.1 0h2.5m38.6 0h2.0m-522.8 69.09h2.0m25.7 0h1.0m2.0 0h1.0m486.0 0h1.0m-439.4 92.12h1.2m24.2 0h1.0m4.8 0h2.5m191.9 0h2.5m96.0 0h2.0m-476.0 46.06h1.5m17.8 0h2.0m6.2 0h0.8m323.6 0h1.0m111.4 0h2.5m13.0 0h1.5m56.9 0h1.5m-482.7 115.15h1.5m6.3 0h1.5m17.3 0h1.2m9.4 0h2.7m55.1 0h1.0"/>
<path stroke="#bf00bf" stroke-opacity="0.45" d="M401.5 2015.55h1.0m-13.8 69.09h1.0m13.3 0h1.0m80.7 0h1.5m183.3 0h1.5m108.4 0h2.5m-384.6 23.03h1.0m36.4 0h1.2m343.7 0h1.0m-229.2 69.09h1.0m243.2 0h2.5m-461.3 92.12h2.0m116.3 0h1.2m406.9 0h1.2m-654.9 46.06h1.0m78.7 0h1.5m118.5 0h1.5m60.2 0h1.5m12.5 0h1.5m305.5 0h1.5m-448.6 115.15h2.0"/>
<path stroke="#bf00bf" stroke-opacity="0.7" d="M477.3 2015.55h1.0m237.9 0h1.5m25.7 0h1.5m-230.0 69.09h2.5m-164.2 92.12h1.2m36.0 0h1.2m42.1 0h1.2m98.5 0h2.5m6.5 0h1.2m352.0 0h1.5m-591.0 92.12h0.8m109.9 0h2.5m15.9 0h0.8m378.0 0h1.5m-539.3 46.06h2.5m89.3 115.15h0.8m3.3 0h0.8"/>
<path stroke="#bf00bf" d="M878.2 1670.10h1.0m-554.2 414.54h1.0m0.8 0h1.0m2.5 0h1.0m3.7 0h1.5m339.5 0h1.5m111.4 0h1.2m-422.2 23.03h2.5m81.0 0h0.1m127.6 0h0.8m12.8 0h1.5m13.5 0h2.5m5.3 0h1.5m23.0 0h2.5m111.9 0h0.8m19.4 0h1.2m-487.4 69.09h1.5m88.0 0h1.5m75.7 0h1.5m13.1 0h1.5m9.0 0h1.0m258.9 0h1.0m79.7 0h0.8m72.5 0h1.5m-612.2 92.12h1.0m98.1 0h1.0m20.8 0h1.0m131.4 0h1.0m159.9 0h1.5m76.5 0h1.5m14.8 0h1.5m-492.9 46.06h0.8m1.0 0h2.0m88.8 0h2.0m29.4 0h1.0m2.0 0h2.5m108.7 0h1.0m234.9 0h1.5m51.0 0h1.2m41.3 0h0.8m43.4 0h1.2m-457.1 115.15h1.5"/>
<path stroke="#b200b2" stroke-opacity="0.45" d="M146.8 2015.55h1.0m55.9 0h1.0m16.0 0h2.0m92.0 0h1.5m131.2 0h1.5m230.4 0h1.5m34.6 0h0.8m-376.2 69.09h2.0m106.8 0h1.0m41.4 0h2.5m294.0 0h1.2m-495.0 23.03h0.8m91.6 0h0.8m24.9 0h1.0m223.0 0h2.5m-293.2 161.21h1.2m22.2 0h1.0m-83.5 46.06h0.8m1.0 0h1.2m111.3 0h1.0m1.5 0h2.5m9.2 0h1.2m105.6 0h1.5m156.0 0h1.5m101.1 0h1.5m-489.1 115.15h1.5m256.3 0h1.5"/>
<path stroke="#b200b2" stroke-opacity="0.7" d="M768.2 2015.55h1.0m-468.8 69.09h1.5m17.8 0h1.5m83.8 0h2.5m34.6 0h1.5m1.5 0h1.2m-109.3 23.03h1.0m73.3 161.21h1.5m2.5 0h1.5m12.4 0h0.8m62.4 0h1.5m25.8 0h2.0m277.9 0h0.8m44.1 0h1.5m28.9 0h2.0m-665.6 46.06h1.2m74.5 0h1.0m75.7 0h1.2m130.0 0h1.0m44.8 0h2.5m138.1 0h1.2m107.9 0h1.5m108.1 0h2.0m-613.9 115.15h1.0m22.7 0h3.0m32.0 0h1.5m50.1 0h1.2m141.2 0h1.2m218.9 0h1.5m1.0 0h1.0m21.0 0h1.0m104.9 0h1.5"/>
<path stroke="#b200b2" d="M291.6 1670.10h2.0m94.1 0h0.8m11.4 0h1.0m12.7 0h1.5m58.2 0h1.5m76.2 0h0.8m24.1 0h2.0m13.0 0h2.0m22.7 0h1.0m83.7 0h1.0m106.7 0h0.8m66.2 0h1.0m22.9 0h1.5m-600.0 23.03h1.0m19.7 0h2.0m44.1 0h2.5m15.4 0h0.8m48.7 0h1.0m13.7 0h1.5m28.3 0h2.0m7.7 0h1.0m72.6 0h1.5m23.8 0h1.5m95.9 0h2.0m188.5 0h2.5m-391.5 69.09h1.0m43.0 0h1.2m159.5 0h1.5m46.4 0h1.2m-508.3 161.21h2.0m5.3 0h2.5m48.3 0h1.0m23.8 0h3.3m4.3 0h1.2m8.2 0h3.3m41.2 0h1.0m44.6 0h2.5m7.8 0h0.8m38.9 0h1.0m12.5 0h1.0m185.7 0h2.5m28.6 0h1.0m1.0 0h0.8m19.3 0h1.0m-588.0 92.12h1.0m76.2 0h1.5m80.3 0h1.5m136.2 0h1.0m97.3 0h1.0m184.2 0h1.0m179.7 0h1.0m-607.0 69.09h1.5m202.0 0h2.5m-161.4 23.03h0.8m9.0 0h2.5m70.6 0h1.2m20.8 0h2.5m146.3 0h1.0m-291.3 161.21h1.5m61.1 0h1.2m92.6 0h1.2m30.9 0h1.5m5.8 0h1.5m380.2 0h1.0m-631.2 46.06h2.0m60.6 0h1.5m31.6 0h2.5m6.2 0h0.8m52.6 0h1.5m50.3 0h0.8m14.8 0h2.0m21.5 0h2.0m52.3 0h2.5m158.9 0h1.0m41.9 0h1.0m76.3 0h1.0m15.0 0h2.5"/>
<path stroke="#a600a6" stroke-opacity="0.45" d="M155.1 2015.55h1.0m15.9 0h2.0m300.8 0h2.5m416.1 0h1.0m17.4 0h2.0m-617.9 69.09h2.5m195.3 0h2.0m387.5 0h2.0m-418.4 23.03h1.0m18.4 0h1.5m106.5 0h2.5m26.8 0h0.8m-134.1 69.09h2.5m31.9 0h2.5m281.4 0h2.0m-536.0 92.12h1.0m60.1 0h1.2m62.0 0h1.0m105.9 0h2.5m210.8 0h1.0m43.7 0h1.2m-550.9 46.06h2.0m80.2 0h2.0m248.0 0h1.0m338.5 0h2.0m-545.4 115.15h2.5m13.9 0h2.5"/>
<path stroke="#a600a6" stroke-opacity="0.7" d="M184.0 2015.55h1.0m264.9 0h1.6m105.4 0h0.1m113.8 0h2.5m-310.6 69.09h1.2m110.1 0h1.0m8.5 0h1.2m1.5 0h2.0m172.8 0h1.5m2.5 0h1.5m235.6 0h2.5m-539.0 23.03h1.5m15.6 0h2.0m10.6 0h2.0m202.7 0h2.5m21.8 0h1.5m-325.5 69.09h1.2m201.2 0h2.5m321.2 0h1.0m-530.0 92.12h1.5m63.1 0h1.0m26.0 0h1.5m30.0 0h1.5m86.2 0h1.0m38.8 0h1.2m215.7 0h1.5m19.0 0h1.0m-544.5 46.06h2.0m293.3 0h1.5m118.3 0h1.0m125.1 0h0.8m114.6 0h1.5m-583.0 115.15h2.5m76.7 0h1.0m147.3 0h1.0m229.7 0h1.2m91.5 0h1.0"/>
<path stroke="#a600a6" d="M286.4 1716.16h1.2m5.7 0h1.5m104.2 0h1.2m164.6 0h2.5m365.5 0h0.8m-661.5 46.06h4.5m56.3 0h1.5m28.1 0h1.0m16.5 0h1.5m77.8 0h1.2m34.6 0h0.8m5.8 0h1.0m47.5 0h0.8m120.0 0h2.5m37.9 0h1.0m7.5 0h1.5m50.3 0h1.2m27.4 0h0.1m73.7 0h1.0m4.3 0h1.0m33.7 0h0.8m-577.8 46.06h1.2m33.6 0h0.8m33.4 0h1.5m22.2 0h1.5m26.8 0h1.0m91.4 0h1.5m106.0 0h1.2m72.2 0h1.2m18.3 0h2.0m8.6 0h1.5m40.5 0h2.0m76.7 0h1.2m54.3 0h2.5m-822.5 207.27h1.5m153.1 0h1.5m46.2 0h1.5m270.9 0h0.8m14.6 0h0.8m82.3 0h2.5m-408.5 69.09h1.0m9.0 0h1.0m64.3 0h1.0m21.5 0h2.0m72.9 0h2.0m41.0 0h2.5m22.6 0h1.2m135.6 0h2.5m13.5 0h1.2m-281.4 23.03h1.5m63.5 0h1.0m58.0 0h1.2m127.3 0h1.2m242.7 0h1.5m-544.2 69.09h1.2m14.2 0h1.5m10.5 0h2.0m476.7 0h1.0m15.6 0h1.0m8.7 0h1.0m-632.8 92.12h1.0m111.5 0h1.5m10.8 0h2.5m25.3 0h3.5m35.5 0h1.0m53.4 0h0.8m46.2 0h0.8m194.0 0h2.0m93.2 0h1.5m64.9 0h2.2m-640.6 46.06h3.2m57.9 0h2.0m46.1 0h1.5m1.0 0h2.0m28.1 0h1.0m13.5 0h1.0m45.6 0h1.5m4.3 0h1.5m41.7 0h1.2m185.7 0h1.0m84.9 0h2.0m-503.8 115.15h1.5m103.6 0h1.5m25.9 0h3.0m13.2 0h1.5m43.7 0h1.0m263.7 0h2.5m130.4 0h1.2"/>
<path stroke="#990099" stroke-opacity="0.45" d="M478.3 2015.55h1.0m312.6 0h0.8m-353.6 69.09h1.5m80.8 0h1.5m206.3 0h1.5m63.2 0h1.2m-298.3 23.03h2.5m24.3 0h1.5m9.8 0h1.0m117.0 0h1.0m-196.4 69.09h2.0m-204.2 92.12h1.5m2.0 0h1.0m8.3 0h1.2m169.1 0h2.5m340.6 0h1.5m55.8 0h1.5"/>
<path stroke="#990099" stroke-opacity="0.7" d="M218.2 2015.55h1.5m103.6 0h1.0m196.9 0h1.5m47.9 0h2.5m214.2 0h0.8m-75.2 69.09h2.0m11.8 0h1.5m-361.1 23.03h0.8m32.9 0h2.5m15.2 0h1.2m68.0 0h2.0m-88.1 69.09h2.0m-94.3 92.12h2.0m84.4 0h0.8m116.7 0h1.5m310.2 0h2.5m12.8 0h1.5m70.9 0h1.5"/>
<path stroke="#990099" d="M299.3 1670.10h1.5m75.7 0h2.0m4.7 0h1.5m14.0 0h1.2m8.5 0h1.0m9.7 0h0.8m24.4 0h2.5m218.2 0h0.8m13.3 0h2.5m27.5 0h1.5m41.1 0h1.5m21.0 0h1.5m27.8 0h2.5m-518.9 23.03h1.5m29.5 0h3.0m96.7 0h1.5m233.4 0h1.1m13.5 0h0.8m29.5 0h2.5m166.3 0h0.8m13.1 0h1.5m30.8 0h1.5m-718.5 23.03h1.2m19.9 0h1.5m17.8 0h1.0m1.5 0h1.0m14.8 0h0.8m83.3 0h1.5m69.8 0h1.0m37.1 0h1.5m22.5 0h1.0m1.0 0h1.0m55.0 0h1.5m125.7 0h1.5m6.2 0h2.2m196.5 0h1.5m45.3 0h1.0m16.8 0h2.0m-653.6 207.27h2.0m17.6 0h2.0m12.5 0h1.5m106.6 0h1.0m56.5 0h1.0m9.5 0h1.0m10.8 0h1.5m4.6 0h1.0m20.1 0h2.0m1.5 0h2.5m19.1 0h1.0m-423.3 92.12h0.8m135.6 0h0.8m159.3 0h1.5m199.4 0h1.0m54.8 0h1.0m-266.2 69.09h1.2m286.8 0h1.5m13.4 0h0.8m-400.9 23.03h1.5m254.1 0h1.0m72.5 0h1.0m223.6 0h1.5m22.8 0h0.8m-79.6 69.09h1.2m9.8 0h1.2m17.5 0h1.5m21.6 0h2.5m13.7 0h2.0m-664.5 92.12h0.8m44.2 0h1.0m15.2 0h1.5m1.5 0h0.8m16.9 0h1.2m142.0 0h1.4m250.6 0h1.0m14.4 0h1.5m162.9 0h1.0m9.0 0h2.5m17.2 0h1.0"/>
<path stroke="#8c008c" stroke-opacity="0.45" d="M179.5 2015.55h1.0m89.8 0h2.0m29.2 0h1.2m257.9 0h1.0m1.0 0h2.0m200.6 0h1.5m-345.3 69.09h1.0m237.1 0h1.5m16.5 0h1.0m47.2 0h1.0m-530.7 23.03h2.5m398.2 0h1.5m165.4 0h1.5m-420.6 69.09h1.5m152.2 0h0.8m-280.3 92.12h1.2m16.5 0h2.5m12.7 0h1.0m89.4 0h1.2m26.4 0h0.8m65.5 0h0.8m-230.8 46.06h1.0m44.7 0h1.0m26.0 0h1.5m87.7 0h2.0m31.6 0h1.5m18.0 0h1.0m22.6 0h1.5m89.1 0h2.0m186.4 0h2.5m-404.1 115.15h2.0m11.3 0h2.0m28.2 0h2.5m524.8 0h2.5"/>
<path stroke="#8c008c" stroke-opacity="0.7" d="M697.3 1670.10h1.0m-302.5 253.33h1.5m44.6 0h1.2m-317.7 92.12h1.0m169.9 0h1.2m216.3 0h2.5m214.1 0h1.2m145.8 0h1.0m-525.7 69.09h1.0m61.5 0h1.2m263.3 0h0.8m2.0 0h1.2m24.7 0h1.0m65.3 0h0.8m-588.9 23.03h0.8m119.9 0h1.0m221.3 0h2.5m14.3 0h1.0m43.2 0h1.2m-292.2 69.09h0.8m145.7 0h1.0m2.2 0h2.3m325.1 0h1.2m-581.3 92.12h1.0m19.2 0h2.0m28.8 0h0.8m18.6 0h1.0m45.3 0h1.5m29.5 0h1.0m9.7 0h1.0m24.0 0h2.5m64.6 0h1.5m101.8 0h2.0m146.7 0h1.0m-406.9 46.06h2.0m121.5 0h1.0m1.5 0h0.8m79.4 0h1.0m12.7 0h1.5m214.7 0h1.2m80.9 0h0.8m-512.7 115.15h2.5m103.5 0h2.3m41.0 0h0.8m93.9 0h1.0m356.5 0h2.0"/>
<path stroke="#8c008c" d="M314.6 1601.01h1.0m3.0 0h1.5m179.1 0h2.5m2.7 0h0.8m13.5 0h0.8m171.8 0h1.0m117.0 0h1.0m6.2 0h0.8m-499.5 23.03h0.8m2.7 0h1.0m14.0 0h1.5m8.9 0h1.0m19.5 0h2.2m9.8 0h1.0m74.9 0h1.0m58.0 0h1.0m16.6 0h1.5m127.8 0h1.0m40.5 0h1.5m70.3 0h1.0m74.6 0h1.0m7.5 0h1.1m15.7 0h1.0m1.5 0h1.2m22.6 0h2.5m24.7 0h1.2m-715.8 23.03h1.0m225.7 0h0.8m76.5 0h0.8m212.8 0h0.9m200.9 0h1.5m-735.7 23.03h2.0m28.0 0h1.0m1.5 0h1.0m124.2 0h2.0m3.5 0h2.0m21.2 0h2.0m5.8 0h5.2m44.8 0h0.8m35.7 0h1.5m58.2 0h1.0m28.4 0h0.8m51.5 0h3.5m81.9 0h1.5m110.7 0h2.5m13.6 0h1.5m18.9 0h1.2m1.0 0h1.5m31.7 0h2.5m29.5 0h2.0m-628.7 23.03h2.0m9.0 0h1.2m22.3 0h2.5m55.9 0h1.0m127.8 0h1.2m10.2 0h1.0m20.8 0h1.0m60.3 0h2.5m140.2 0h1.5m-460.5 69.09h1.0m31.8 0h1.0m29.3 0h0.8m10.0 0h0.8m40.6 0h2.5m10.9 0h1.5m13.9 0h1.0m65.2 0h2.0m4.5 0h1.5m179.4 0h0.8m26.8 0h2.5m59.2 0h2.5m113.0 0h1.0m5.2 0h2.0m26.2 0h1.0m-800.7 46.06h1.0m50.6 0h1.5m189.3 0h3.5m2.5 0h1.0m8.7 0h1.0m30.9 0h1.0m10.5 0h1.5m13.7 0h1.2m14.6 0h1.2m21.0 0h1.2m9.7 0h1.5m29.4 0h2.0m23.7 0h1.5m82.9 0h0.8m18.5 0h2.5m39.8 0h1.5m8.4 0h1.2m58.2 0h2.5m69.7 0h2.5m-523.8 69.09h2.5m32.8 0h1.5m28.3 0h1.0m23.7 0h1.2m14.1 0h1.0m65.4 0h1.2m58.8 0h2.5m161.7 0h1.0m164.3 0h1.5m-660.5 46.06h1.5m66.8 0h1.5m14.8 0h1.2m18.8 0h1.2m12.8 0h1.2m8.8 0h2.5m2.0 0h2.0m30.5 0h2.0m2.3 0h1.0m74.5 0h1.5m76.8 0h1.5m65.5 0h2.3m13.6 0h1.5m43.0 0h2.5m37.1 0h1.5m6.8 0h0.8m3.0 0h2.0m140.9 0h1.0m5.7 0h1.5m10.2 0h1.0m10.7 0h1.5m-784.8 92.12h1.5m33.1 0h2.5m52.4 0h1.5m24.0 0h2.0m95.1 0h1.5m214.8 0h1.2m41.1 0h2.5m59.3 0h1.0m47.9 0h2.5m17.6 0h1.0m152.4 0h1.2m56.4 0h1.2m-473.8 69.09h1.5m56.1 0h1.2m33.4 0h0.8m117.4 0h1.5m6.0 0h2.0m46.6 0h1.5m6.6 0h1.5m24.7 0h1.2m39.4 0h1.0m71.7 0h1.0m-527.9 23.03h1.0m6.0 0h2.5m24.8 0h1.5m43.0 0h1.5m8.6 0h1.0m79.1 0h1.0m47.3 0h1.0m1.5 0h1.0m8.2 0h2.5m2.8 0h1.5m3.1 0h2.0m15.0 0h0.8m-465.5 69.09h0.8m210.7 0h1.5m2.0 0h1.0m163.0 0h1.0m2.5 0h1.5m9.4 0h2.5m254.6 0h0.8m19.2 0h1.5m17.1 0h2.8m-536.4 92.12h1.0m108.8 0h1.0m55.5 0h1.5m24.6 0h1.0m8.0 0h1.0m164.6 0h2.5m32.9 0h1.2m13.6 0h1.2m1.0 0h1.5m108.1 0h1.5m38.0 0h1.0m14.2 0h1.2m6.0 0h1.0m5.7 0h1.5m21.0 0h1.5m-581.0 46.06h1.5m25.6 0h1.5m21.2 0h2.5m67.4 0h1.2m11.6 0h2.0m63.9 0h0.8m141.7 0h1.5m30.5 0h1.0m3.8 0h0.8m67.8 0h1.0m34.3 0h1.0m74.5 0h2.0m-485.4 115.15h1.2m20.0 0h1.0m20.3 0h2.0m18.8 0h1.5m34.1 0h3.0m60.6 0h0.8m19.4 0h1.0m2.0 0h1.2m3.0 0h1.5m8.6 0h0.8m186.0 0h1.5m1.5 0h1.0m90.1 0h1.5"/>
<path stroke="#800080" stroke-opacity="0.45" d="M624.4 1693.13h1.5m279.1 23.03h1.2m-764.4 299.39h1.5m52.6 0h1.0m435.0 0h1.5m290.1 0h1.2m-736.5 69.09h1.2m-10.8 23.03h1.5m224.5 69.09h0.8m485.5 0h1.2m-681.4 92.12h1.5m32.9 0h0.8m106.6 0h1.5m49.3 0h1.0m42.0 0h0.8m62.1 0h2.5m12.0 0h1.5m354.7 0h1.0m-655.4 46.06h1.5m114.9 0h2.5m195.3 0h1.0m164.6 0h1.5m169.6 0h2.5m28.4 0h2.5m-590.3 115.15h1.0m31.8 0h1.5m31.9 0h1.0m478.4 0h0.8m20.8 0h0.8"/>
<path stroke="#800080" stroke-opacity="0.7" d="M365.5 1670.10h2.0m233.4 0h1.5m88.7 0h1.5m-319.1 23.03h0.8m267.0 0h1.5m-310.9 69.09h1.0m-120.7 253.33h2.5m134.5 0h1.5m243.7 0h1.5m-430.9 69.09h1.0m91.2 23.03h1.0m352.8 0h2.0m17.0 0h2.0m-210.3 69.09h2.5m13.9 0h1.2m-174.1 92.12h1.0m18.2 0h0.8m86.8 0h1.0m152.2 0h6.0m4.0 0h1.5m-317.2 46.06h1.0m77.7 0h0.8m9.8 0h2.5m28.8 0h1.0m33.3 0h1.0m157.8 0h1.0m303.6 0h1.0m73.0 0h2.0m29.0 0h1.5m-360.7 46.06h1.5m18.5 0h2.0m-487.4 69.09h2.0m74.5 0h2.5m358.6 0h1.2m239.1 0h1.2m138.6 0h2.0"/>
<path stroke="#800080" d="M157.2 1670.10h2.0m9.1 0h1.0m52.0 0h1.5m101.2 0h1.5m24.1 0h1.5m1.2 0h1.0m131.8 0h2.0m42.6 0h2.5m11.0 0h2.5m0.8 0h1.0m120.3 0h1.2m167.6 0h1.0m3.0 0h1.0m-499.0 23.03h1.0m4.0 0h1.5m25.2 0h1.5m43.5 0h1.5m14.8 0h4.0m1.2 0h0.8m48.2 0h1.0m15.1 0h2.0m29.2 0h1.5m32.1 0h2.0m23.6 0h1.2m70.6 0h1.5m5.6 0h0.8m16.1 0h2.5m19.0 0h1.5m185.0 0h2.0m-693.7 23.03h1.2m57.2 0h1.0m35.1 0h1.2m179.6 0h2.5m35.5 0h2.0m2.3 0h1.2m136.2 0h1.2m50.2 0h1.0m76.5 0h2.5m-493.3 46.06h1.0m2.3 0h1.0m63.1 0h1.0m18.9 0h2.0m2.7 0h1.5m8.1 0h1.0m30.8 0h3.2m10.7 0h2.0m45.0 0h1.0m35.9 0h1.0m14.6 0h1.0m1.6 0h1.0m111.3 0h1.5m72.4 0h2.0m66.5 0h2.0m39.3 0h1.5m80.0 0h1.5m-620.2 46.06h0.8m165.7 0h1.5m2.0 0h1.0m36.9 0h1.5m7.8 0h2.0m174.0 0h1.2m3.7 0h2.5m73.1 0h1.2m38.2 0h2.0m41.5 0h1.5m5.0 0h1.0m41.8 0h0.9m-597.5 115.15h3.5m32.2 0h2.0m2.0 0h2.5m41.8 0h1.2m12.3 0h2.0m90.9 0h1.5m16.6 0h1.5m27.1 0h0.8m19.1 0h2.0m42.4 0h2.0m38.0 0h2.0m4.5 0h1.0m11.3 0h0.8m2.5 0h1.0m0.8 0h1.5m4.6 0h0.8m107.3 0h1.5m70.3 0h1.2m41.6 0h2.5m-635.2 92.12h0.4m2.5 0h1.2m7.0 0h1.0m34.5 0h1.2m282.3 0h1.2m65.5 0h2.0m-190.3 46.06h0.8m24.3 0h1.2m9.1 0h1.0m73.4 0h2.0m81.5 0h2.5m33.0 0h1.5m2.3 0h0.8m-541.4 23.03h1.2m28.4 0h1.5m37.1 23.03h1.0m334.0 0h1.0m21.5 0h1.0m-311.4 69.09h1.2m37.0 0h2.5m34.9 0h1.5m3.0 0h1.5m59.4 0h0.8m57.6 0h2.5m276.4 0h0.0m57.5 0h1.0m8.3 0h1.2m50.5 0h1.0m15.8 0h2.5m-621.4 92.12h0.8m34.5 0h1.0m19.2 0h1.0m19.2 0h2.0m57.3 0h1.0m18.3 0h1.0m15.7 0h1.5m24.4 0h1.0m388.0 0h1.0m12.0 0h1.0m-623.2 46.06h1.5m11.0 0h0.7m42.4 0h1.5m108.0 0h0.8m257.4 0h2.5m128.1 0h1.2m11.5 0h3.5m52.9 0h1.0m4.0 0h2.0m4.3 0h2.5m27.0 0h1.5m1.6 0h2.0m-725.0 69.09h2.5m29.1 0h2.0m114.8 0h1.0m7.3 0h1.0m5.3 0h1.0m9.7 0h1.2m107.9 0h1.0m114.3 0h0.8m94.1 0h2.5m34.9 0h1.5m51.4 0h2.0m16.9 0h2.0m24.9 0h1.2m-512.6 46.06h0.8m46.3 0h1.0m34.1 0h0.8m63.3 0h1.0m42.2 0h1.5m1.5 0h1.2m112.1 0h2.0m1.5 0h2.0m290.6 0h1.2"/>
<path stroke="#730073" stroke-opacity="0.45" d="M809.0 1624.04h0.8m70.1 0h2.0m-555.6 46.06h2.5m243.9 23.03h2.5m34.5 0h1.5m-300.2 23.03h1.0m239.6 0h1.5m204.6 46.06h1.0m-419.4 161.21h1.0m86.3 0h1.5m230.9 0h1.5m-520.2 92.12h1.5m217.7 0h2.5m40.5 0h1.2m269.6 0h1.5m67.8 0h0.8m3.0 0h1.5m-626.7 69.09h1.0m74.4 0h1.0m252.2 0h0.8m411.8 0h2.5m6.3 0h1.0m-744.9 23.03h1.2m173.2 0h1.5m20.2 0h0.8m63.9 0h1.5m19.9 0h1.0m-17.4 69.09h1.0m91.1 0h1.0m15.3 0h1.2m284.6 0h1.5m26.4 0h2.0m19.2 0h2.5m13.2 0h1.0m-590.2 92.12h1.2m5.0 0h0.8m5.5 0h2.0m189.0 0h0.8m65.9 0h2.0m7.8 0h1.5m124.6 0h2.0m9.8 0h1.0m41.6 0h0.8m27.6 0h0.8m19.7 0h3.2m-476.6 46.06h1.5m34.4 0h1.2m12.3 0h1.5m4.0 0h0.8m57.5 0h2.5m72.7 0h1.0m7.5 0h1.5m53.3 0h1.0m108.6 0h1.0m47.8 0h2.5m102.8 0h1.0m9.4 0h0.8m-706.6 46.06h2.5m-11.3 69.09h0.8m67.3 0h1.5m35.8 0h0.8m53.7 0h1.0m66.2 0h1.0m62.5 0h3.5m195.0 0h2.5m282.4 0h1.0"/>
<path stroke="#730073" stroke-opacity="0.7" d="M355.9 1647.07h1.5m-9.8 23.03h2.0m215.5 0h1.0m83.3 0h1.5m43.9 0h1.5m114.0 0h1.0m-150.8 23.03h0.8m136.3 69.09h1.2m-293.9 115.15h2.5m-167.1 46.06h1.0m345.4 0h1.0m14.5 0h1.2m-357.2 92.12h1.5m42.2 0h1.0m45.3 0h2.5m236.1 0h1.0m43.9 0h2.0m-539.5 69.09h1.0m61.7 0h2.5m32.0 0h1.5m509.2 0h1.2m-493.6 23.03h2.5m154.9 0h2.0m45.4 0h2.5m60.3 0h1.5m193.1 0h1.2m-466.3 69.09h1.5m146.2 0h2.0m310.7 0h1.0m-554.3 92.12h2.0m62.3 0h0.8m57.8 0h1.5m393.7 0h0.8m32.7 0h0.8m-387.9 46.06h1.5m2.0 0h2.0m17.7 0h0.8m90.0 0h1.0m36.4 0h1.5m296.1 0h1.0m41.6 0h1.5m-478.4 46.06h1.5m388.6 69.09h2.0"/>
<path stroke="#730073" d="M128.7 1601.01h0.8m84.5 0h2.5m53.5 0h2.0m28.9 0h1.0m51.9 0h1.0m41.2 0h1.5m64.9 0h1.5m4.2 0h1.0m37.1 0h1.0m16.8 0h0.8m13.1 0h2.0m30.6 0h2.5m142.8 0h2.0m8.2 0h1.0m145.9 0h0.8m15.8 0h1.5m17.0 0h2.0m27.4 0h1.5m-636.3 23.03h0.8m110.8 0h1.2m16.9 0h1.5m3.5 0h2.5m31.5 0h1.5m18.8 0h2.5m52.9 0h1.5m117.7 0h1.0m21.2 0h2.5m17.6 0h1.5m60.3 0h1.5m72.6 0h2.5m10.7 0h0.8m54.3 0h2.5m-638.4 23.03h1.5m59.8 0h1.5m70.5 0h2.0m9.2 0h2.0m4.5 0h1.5m18.3 0h1.5m50.9 0h0.8m36.1 0h2.5m200.1 0h1.0m6.8 0h1.5m101.1 0h0.8m19.7 0h1.5m30.7 0h1.0m12.0 0h1.0m8.7 0h1.2m-643.1 23.03h1.0m125.0 0h1.2m14.3 0h2.0m72.5 0h2.0m11.7 0h0.8m67.5 0h2.5m2.5 0h4.5m113.4 0h1.5m11.7 0h1.5m42.5 0h0.8m49.0 0h2.0m18.3 0h1.5m33.0 0h1.2m-573.6 23.03h2.5m20.9 0h1.0m51.6 0h1.0m21.4 0h1.0m98.9 0h1.5m70.4 0h0.8m24.5 0h1.5m4.4 0h1.2m78.1 0h0.8m189.7 0h1.5m28.7 0h1.0m2.5 0h1.5m35.6 0h1.5m-637.9 23.03h1.0m30.3 0h1.5m91.2 0h2.5m17.7 0h0.8m64.8 0h0.8m36.5 0h1.2m1.5 0h2.5m16.7 0h1.5m61.8 0h1.0m46.6 0h1.5m42.7 0h2.0m84.2 0h1.0m63.5 0h1.0m3.9 0h1.5m23.0 0h1.5m34.5 0h1.2m-768.5 46.06h1.0m154.5 0h1.2m14.0 0h1.2m37.4 0h3.5m41.3 0h1.0m2.7 0h2.5m32.3 0h1.5m5.8 0h2.5m0.8 0h2.0m74.6 0h1.5m109.0 0h0.8m31.3 0h0.8m48.5 0h2.0m0.8 0h2.5m31.4 0h2.5m86.0 0h2.0m2.0 0h1.0m66.4 0h1.2m-652.0 46.06h0.8m21.1 0h1.5m29.7 0h2.0m4.4 0h1.0m0.8 0h0.8m12.3 0h1.5m8.6 0h1.5m7.0 0h2.0m2.5 0h1.0m7.4 0h2.5m6.0 0h1.0m55.0 0h1.5m5.4 0h2.0m23.9 0h1.0m26.1 0h2.0m135.0 0h1.0m13.0 0h1.5m15.5 0h2.0m14.2 0h1.2m108.5 0h0.8m83.7 0h1.0m35.6 0h1.5m-723.1 69.09h2.5m59.5 0h1.0m28.5 0h2.5m45.9 0h1.2m50.8 0h2.5m7.9 0h2.0m121.4 0h1.5m6.3 0h1.5m86.9 0h1.0m131.5 0h0.8m-469.6 46.06h1.5m40.8 0h1.0m23.0 0h1.0m3.0 0h2.7m3.5 0h1.0m60.7 0h2.5m15.4 0h2.5m10.0 0h1.5m25.8 0h2.0m14.9 0h1.2m6.4 0h2.0m27.5 0h1.0m166.8 0h1.2m37.6 0h1.5m-636.3 92.12h0.8m177.5 0h2.5m85.4 0h1.0m5.2 0h2.5m93.7 0h1.0m28.5 0h1.2m149.8 0h1.0m41.3 0h2.5m192.6 0h1.5m12.5 0h1.5m7.2 0h0.8m-779.2 69.09h2.0m21.5 0h1.0m88.2 0h2.5m36.2 0h1.8m11.3 0h2.5m23.5 0h2.0m9.7 0h1.5m54.6 0h1.2m44.1 0h1.0m10.2 0h2.0m2.2 0h2.0m31.4 0h1.0m49.7 0h2.0m111.4 0h1.5m26.9 0h2.5m60.2 0h0.8m106.5 0h0.8m1.5 0h1.5m29.9 0h1.2m-784.1 23.03h1.0m93.4 0h2.5m15.5 0h1.5m149.8 0h0.8m3.0 0h0.8m132.8 0h1.5m60.1 0h0.8m45.1 0h1.5m17.7 0h2.5m118.6 0h2.5m14.5 0h1.0m7.2 0h2.5m72.6 0h1.0m-746.7 69.09h2.0m5.5 0h0.8m4.5 0h1.0m15.0 0h2.5m51.9 0h0.2m100.4 0h1.5m12.2 0h1.2m12.6 0h1.5m32.4 0h1.5m56.8 0h1.5m2.5 0h1.5m35.2 0h2.5m0.8 0h1.5m38.8 0h1.0m47.1 0h0.4m235.3 0h1.0m45.6 0h2.5m3.2 0h1.5m35.6 0h1.2m-555.6 92.12h2.0m2.0 0h2.0m14.2 0h1.0m53.3 0h1.5m66.3 0h1.0m2.5 0h4.0m41.1 0h1.5m32.7 0h1.5m109.4 0h0.8m32.0 0h1.5m13.3 0h1.0m15.9 0h1.0m23.9 0h0.8m25.6 0h0.8m49.5 0h1.5m37.5 0h1.0m-641.4 46.06h1.0m88.1 0h1.5m28.3 0h1.5m30.5 0h1.5m3.7 0h1.0m72.0 0h1.2m231.5 0h1.2m129.4 0h1.2m101.6 0h0.8m-790.7 46.06h0.8m149.3 0h1.5m0.8 0h1.2m149.3 0h2.0m129.4 0h0.8m23.7 0h0.8m30.4 0h1.0m111.7 0h1.5m-426.7 69.09h1.0m15.5 0h2.0m87.0 0h2.0m99.5 0h1.0m7.4 0h2.5m81.9 0h1.5m32.7 0h2.4m260.1 0h1.0"/>
<path stroke="#660066" stroke-opacity="0.45" d="M331.3 1624.04h2.0m383.0 0h1.5m89.7 0h1.5m-351.9 46.06h2.5m367.2 0h1.5m-345.2 23.03h1.5m456.6 0h2.5m-591.7 23.03h2.5m131.8 0h1.0m216.1 0h1.2m17.8 0h1.0m-296.6 92.12h1.0m-95.9 69.09h1.2m58.2 46.06h1.5m-166.6 92.12h1.5m48.4 0h1.2m-107.8 69.09h2.0m28.6 0h2.5m152.6 0h1.5m37.1 0h2.0m346.7 0h1.0m14.6 0h1.0m-418.3 23.03h1.5m50.5 0h2.5m72.5 0h1.2m9.6 0h0.8m64.6 0h1.5m31.3 0h0.8m-404.5 69.09h0.8m116.0 0h1.2m23.9 0h2.0m206.4 0h1.2m-228.7 92.12h1.5m61.1 0h1.0m31.0 0h1.2m76.4 0h1.5m31.1 0h1.5m380.7 0h2.0m-632.2 46.06h1.0m5.0 0h1.5m35.0 0h1.0m429.9 0h1.2m179.2 0h0.8m-187.7 69.09h0.8m18.9 0h1.2m-318.4 46.06h1.2m110.4 0h1.0m2.3 0h1.0m385.5 0h1.0"/>
<path stroke="#660066" stroke-opacity="0.7" d="M489.1 1624.04h2.5m399.3 0h2.0m-82.9 23.03h1.2m83.7 0h1.2m-270.0 23.03h0.8m84.9 0h1.0m43.7 0h1.0m122.5 0h1.5m-246.2 23.03h2.0m-149.2 23.03h1.5m21.8 0h1.0m22.9 0h0.8m-243.7 46.06h1.2m50.5 0h1.2m330.7 0h1.5m10.3 0h2.5m-27.6 46.06h2.0m-340.5 69.09h1.0m75.9 0h1.2m33.5 0h1.0m30.0 0h2.5m30.1 0h2.5m15.0 0h2.0m-408.7 138.18h1.5m11.3 0h1.2m23.6 0h1.0m76.4 0h1.0m-60.2 69.09h2.0m183.7 0h1.0m22.2 0h1.2m515.0 0h1.5m-596.9 23.03h2.0m16.5 0h1.5m148.6 0h1.5m139.7 0h1.2m20.6 0h1.5m-510.6 69.09h2.5m73.0 0h1.0m114.1 0h2.5m12.2 0h1.0m69.6 0h2.5m-63.3 92.12h0.8m62.4 0h1.5m492.9 0h1.0m-573.3 46.06h1.0m65.5 0h2.5m72.5 0h1.0m245.7 0h1.5m171.4 0h1.0m52.3 0h0.8m-183.3 69.09h1.2m19.7 0h2.5m-635.4 46.06h2.5m56.2 0h1.5m35.5 0h1.0"/>
<path stroke="#660066" d="M242.4 1601.01h2.0m16.1 0h1.0m31.1 0h0.8m69.7 0h2.0m25.6 0h2.0m19.2 0h1.0m36.1 0h1.2m48.2 0h0.8m16.0 0h1.0m44.4 0h2.0m28.5 0h1.2m68.4 0h2.0m3.1 0h1.5m148.2 0h1.0m22.3 0h1.5m61.2 0h1.0m28.4 0h1.5m-716.0 23.03h1.5m81.2 0h1.0m1.5 0h1.0m11.1 0h0.8m7.8 0h1.5m1.0 0h2.5m12.1 0h1.5m88.4 0h1.0m35.8 0h1.5m9.7 0h2.0m4.3 0h1.5m11.5 0h2.0m42.1 0h2.5m61.0 0h1.5m29.6 0h1.0m20.7 0h1.0m4.0 0h2.2m26.7 0h0.8m14.5 0h1.5m24.1 0h0.8m21.0 0h1.2m35.2 0h1.2m130.0 0h1.5m16.0 0h2.0m-736.6 23.03h3.0m3.0 0h1.5m36.3 0h1.0m138.0 0h1.2m1.8 0h1.5m24.9 0h1.0m27.8 0h1.0m37.7 0h1.5m35.6 0h1.5m19.0 0h2.0m125.9 0h2.0m95.2 0h0.8m23.7 0h1.0m36.0 0h1.0m6.1 0h2.0m3.5 0h1.5m69.2 0h1.5m-797.6 23.03h1.5m1.2 0h2.0m71.9 0h1.0m132.7 0h0.8m33.7 0h2.5m54.6 0h2.0m63.6 0h1.2m40.8 0h0.8m23.0 0h1.0m63.6 0h1.5m13.8 0h0.8m69.1 0h1.0m28.0 0h1.5m12.7 0h2.0m2.2 0h1.0m68.8 0h2.5m33.0 0h1.5m14.8 0h1.2m10.7 0h0.8m4.9 0h2.5m7.0 0h1.0m-509.5 23.03h2.0m7.4 0h1.2m67.8 0h2.5m130.7 0h2.5m59.5 0h1.0m42.6 0h2.0m163.1 0h1.0m44.9 0h1.0m-718.4 23.03h1.5m136.6 0h1.5m33.1 0h1.0m17.8 0h1.5m16.9 0h1.0m33.3 0h1.5m17.4 0h2.0m30.4 0h1.0m7.7 0h1.5m30.8 0h1.2m8.6 0h0.8m289.2 0h1.2m76.9 0h2.0m-799.0 46.06h1.0m27.8 0h1.5m85.5 0h1.2m8.3 0h1.0m62.1 0h1.5m15.4 0h1.2m112.8 0h1.5m263.4 0h1.5m41.3 0h1.5m50.7 0h1.2m97.0 0h1.5m2.8 0h1.2m12.5 0h2.0m-718.2 46.06h0.8m91.0 0h2.5m121.4 0h2.0m40.1 0h0.3m22.8 0h2.0m1.5 0h2.0m39.4 0h0.8m159.0 0h2.0m19.5 0h1.0m108.0 0h2.0m56.4 0h1.5m9.0 0h1.8m5.7 0h2.0m25.3 0h2.5m14.8 0h1.0m1.0 0h2.5m-811.4 46.06h1.2m41.8 0h1.2m96.0 0h2.5m23.9 0h1.0m84.1 0h2.5m62.9 0h1.0m26.9 0h2.5m2.5 0h1.5m5.5 0h0.8m2.7 0h2.5m5.2 0h0.8m6.2 0h1.5m30.9 0h2.0m7.0 0h1.5m15.2 0h0.1m114.2 0h1.5m16.4 0h2.5m11.0 0h1.0m131.1 0h1.2m1.2 0h1.5m32.3 0h2.0m-683.9 23.03h1.5m105.4 0h1.5m4.5 0h1.0m48.9 0h1.5m41.5 0h1.0m14.5 0h1.2m1.2 0h1.5m24.6 0h0.8m11.2 0h0.7m11.8 0h2.5m11.3 0h1.5m10.0 0h1.0m17.8 0h1.2m135.2 0h1.0m160.2 0h1.2m52.3 0h1.0m-601.8 46.06h1.0m34.8 0h2.5m16.0 0h1.2m49.6 0h2.5m35.0 0h2.0m30.9 0h1.0m16.2 0h1.0m83.0 0h1.0m1.0 0h1.5m128.1 0h1.0m64.1 0h0.8m50.2 0h1.0m94.5 0h1.5m-739.6 92.12h0.8m33.7 0h2.0m26.7 0h1.0m4.5 0h1.0m-57.4 46.06h0.8m12.8 0h1.2m153.4 0h2.0m107.9 0h1.0m41.0 0h2.5m16.9 0h1.2m6.5 0h1.0m3.5 0h1.2m2.7 0h1.2m8.2 0h1.0m4.6 0h2.0m89.2 0h1.2m258.6 0h2.0m-762.2 23.03h2.0m1.5 0h2.0m88.6 0h2.5m2.3 0h1.5m46.6 0h1.2m72.4 0h1.2m45.9 0h1.0m35.7 0h1.5m282.3 0h3.0m1.5 0h1.0m42.1 0h1.5m2.5 0h1.2m9.2 0h2.5m-559.1 23.03h1.5m99.9 0h2.5m11.2 0h1.5m30.4 0h1.5m20.1 0h2.2m22.2 0h1.0m16.2 0h1.5m42.0 0h2.0m11.3 0h2.0m9.4 0h1.0m56.3 0h1.5m58.5 0h1.5m28.0 0h0.8m1.2 0h2.0m289.4 0h1.0m16.8 0h1.5m-796.4 69.09h1.2m50.2 0h2.0m125.8 0h1.0m36.4 0h1.0m40.7 0h1.5m81.1 0h1.0m24.3 0h2.5m10.1 0h0.8m318.2 0h1.2m32.9 0h1.5m-447.7 92.12h1.2m276.7 0h0.8m81.7 0h1.0m133.3 0h1.5m-695.7 46.06h2.0m36.7 0h1.5m108.2 0h1.2m7.5 0h1.5m46.0 0h1.0m7.5 0h1.5m76.4 0h1.5m192.8 0h1.0m145.3 0h2.5m12.1 0h1.5m28.6 0h1.0m29.5 0h1.5m-736.6 69.09h1.5m61.8 0h2.0m9.0 0h0.4m33.5 0h1.5m47.6 0h0.8m5.0 0h1.0m24.2 0h1.0m8.7 0h1.5m13.4 0h1.0m25.1 0h2.0m53.7 0h2.0m2.0 0h1.5m9.7 0h1.0m44.5 0h1.5m3.7 0h2.5m7.8 0h1.0m78.9 0h0.8m30.1 0h4.0m23.5 0h1.0m14.5 0h1.5m6.1 0h0.8m34.6 0h2.5m4.2 0h2.0m27.2 0h1.5m30.6 0h2.0m8.1 0h1.5m20.2 0h1.5m16.2 0h0.8m12.5 0h2.2m9.0 0h0.7m18.7 0h1.2m-753.9 46.06h2.5m15.8 0h1.5m6.9 0h0.8m104.7 0h1.2m14.1 0h1.2m48.6 0h0.8m83.9 0h1.0m7.0 0h3.0m59.9 0h1.5m77.1 0h2.0m137.1 0h1.5m150.3 0h1.5"/>
<path stroke="#590059" stroke-opacity="0.45" d="M364.7 1624.04h2.5m529.6 0h2.0m-565.7 23.03h1.2m67.6 0h1.5m97.4 0h1.5m-33.5 23.03h0.8m295.2 0h1.0m55.7 0h1.0m20.3 0h1.0m-262.1 23.03h2.0m105.9 0h2.5m170.3 0h2.5m55.8 0h2.5m-552.7 23.03h1.5m155.3 0h1.5m12.8 0h1.5m-186.1 46.06h1.0m317.0 0h1.0m27.2 0h1.5m45.7 0h2.5m15.8 0h2.0m-475.4 46.06h2.0m157.8 69.09h2.5m28.0 0h1.5m-10.0 46.06h1.0m43.3 0h1.2m3.6 92.12h2.5m125.0 0h0.1m32.3 0h2.0m1.8 0h1.0m2.5 0h1.2m34.3 0h1.5m76.6 0h2.0m76.7 0h1.5m-523.3 69.09h1.0m-73.0 23.03h2.0m110.9 0h1.2m13.7 0h1.2m167.8 0h1.0m-419.8 69.09h1.0m7.6 0h1.2m468.8 0h0.8m111.9 0h1.0m6.7 0h1.5m43.6 0h1.2m97.2 0h0.8m-682.8 92.12h1.0m619.5 0h2.5m17.9 0h2.3m33.1 0h0.8m-239.6 46.06h2.0m140.4 0h1.0m41.9 0h1.2m-667.4 46.06h1.0m178.5 0h2.0m22.8 0h1.5m115.2 0h2.0m39.8 0h1.0m91.9 0h0.8m2.7 0h1.2m32.6 0h1.0m-555.4 69.09h1.5m20.8 0h0.8m418.8 0h1.2m185.9 0h2.0m109.2 0h0.8m4.7 0h1.5"/>
<path stroke="#590059" stroke-opacity="0.7" d="M399.2 1624.04h2.0m541.7 0h1.9m-729.7 23.03h2.0m99.5 0h2.0m158.2 0h1.0m-166.0 23.03h1.2m469.9 0h1.5m151.3 0h2.5m1.5 23.03h1.5m-498.1 230.30h1.0m212.9 0h1.0m-266.1 92.12h1.2m366.6 0h2.5m164.0 0h2.5m-556.3 69.09h2.5m27.1 0h1.0m23.1 0h1.5m152.3 0h1.5m104.3 0h2.5m185.5 0h1.5m-544.5 23.03h1.0m113.7 0h1.0m58.6 0h1.5m14.8 0h1.0m33.0 0h1.0m224.3 0h2.5m10.7 0h0.8m-608.6 69.09h1.5m8.2 0h2.0m213.4 0h0.8m23.0 0h1.2m45.1 0h1.5m97.2 0h1.0m22.9 0h1.0m4.0 0h0.8m4.3 0h1.2m10.1 0h1.5m19.3 0h1.0m180.4 0h2.0m-536.8 92.12h0.8m14.7 0h1.2m117.7 0h2.2m30.8 0h1.0m233.6 0h1.5m18.9 0h2.5m73.6 0h0.8m49.8 0h0.8m-502.1 92.12h0.8m120.9 0h2.0m30.5 0h1.5m23.3 0h2.5m5.3 0h2.0m148.2 0h1.2m47.6 0h2.5m160.8 0h1.5m-222.1 23.03h2.0m-548.7 46.06h1.0m17.8 0h1.0m215.2 0h1.5m140.8 0h1.2m437.2 0h0.8"/>
<path stroke="#590059" d="M237.2 1601.01h2.5m25.3 0h1.5m18.1 0h1.0m67.2 0h1.0m18.5 0h0.8m46.3 0h1.5m39.0 0h1.0m83.0 0h1.0m10.6 0h1.5m125.8 0h2.0m4.0 0h1.5m69.2 0h2.5m22.4 0h0.8m3.7 0h1.5m43.9 0h1.0m5.0 0h0.8m78.6 0h1.5m-744.3 23.03h1.2m19.6 0h1.5m16.0 0h1.2m93.8 0h2.5m28.2 0h1.0m65.5 0h1.5m4.3 0h1.0m49.7 0h1.2m4.0 0h1.2m24.8 0h1.5m59.5 0h0.9m63.8 0h2.5m40.9 0h2.0m5.2 0h1.0m77.7 0h2.0m23.2 0h1.5m14.4 0h1.2m36.0 0h1.5m18.5 0h1.5m5.5 0h1.0m39.2 0h1.2m26.9 0h4.0m-781.8 23.03h1.0m70.2 0h2.0m5.2 0h0.8m88.2 0h0.8m28.5 0h2.5m26.3 0h2.0m51.9 0h2.5m16.5 0h0.8m22.2 0h1.0m5.5 0h1.5m20.0 0h1.2m5.8 0h2.5m6.5 0h1.0m27.1 0h1.0m8.7 0h1.5m107.4 0h1.2m2.4 0h1.2m13.6 0h2.5m6.8 0h1.2m20.2 0h1.0m95.4 0h2.0m25.3 0h0.8m52.5 0h0.8m4.5 0h1.5m12.7 0h1.5m-770.9 23.03h1.0m151.2 0h1.2m47.0 0h3.2m69.1 0h1.5m25.6 0h2.0m31.6 0h1.2m110.6 0h1.2m34.0 0h1.0m9.3 0h1.2m37.4 0h1.5m36.3 0h1.0m12.0 0h1.2m4.5 0h1.5m101.0 0h1.5m38.4 0h1.2m29.8 0h1.0m20.5 0h0.8m-756.3 23.03h2.0m136.8 0h1.2m37.0 0h1.5m11.2 0h0.8m10.0 0h0.8m4.5 0h1.0m26.9 0h1.2m26.5 0h2.0m1.5 0h1.0m1.2 0h0.8m39.5 0h1.5m3.5 0h1.0m28.7 0h1.2m2.0 0h1.2m17.4 0h1.5m2.0 0h2.5m5.0 0h0.8m17.0 0h0.8m30.8 0h2.0m36.7 0h2.0m22.2 0h2.0m12.7 0h0.8m39.5 0h1.5m21.5 0h1.0m-520.1 23.03h1.0m56.4 0h1.0m21.0 0h1.5m59.6 0h1.0m15.5 0h1.2m19.9 0h0.8m11.6 0h1.5m65.4 0h1.5m26.4 0h1.5m39.0 0h0.8m103.0 0h1.0m1.5 0h1.2m10.5 0h1.0m11.7 0h1.5m5.9 0h2.0m1.5 0h0.8m1.2 0h2.5m9.8 0h1.0m2.0 0h1.5m24.2 0h2.5m7.0 0h1.2m89.0 0h2.5m8.2 0h0.8m65.6 0h1.2m4.9 0h1.5m-600.7 46.06h2.0m12.5 0h2.7m3.9 0h2.0m18.2 0h2.0m2.4 0h1.0m25.5 0h1.5m97.8 0h1.0m6.8 0h1.2m19.3 0h2.3m45.2 0h1.5m125.1 0h1.5m116.1 0h1.5m-475.2 46.06h1.5m7.2 0h2.5m52.1 0h1.0m8.5 0h1.2m32.9 0h2.5m9.5 0h1.5m229.9 0h2.5m13.1 0h1.0m30.8 0h1.0m61.2 0h2.0m79.1 0h1.0m32.5 0h1.0m3.0 0h2.5m44.4 0h2.0m-825.5 23.03h0.8m17.3 0h2.5m32.0 0h1.0m15.5 0h1.5m10.0 0h2.0m138.1 0h1.5m63.2 0h1.0m11.8 0h1.5m17.0 0h1.0m2.5 0h0.8m37.3 0h1.2m35.6 0h1.0m40.9 0h0.7m78.3 0h0.8m29.6 0h2.5m15.0 0h1.0m2.5 0h1.2m3.7 0h2.0m23.1 0h2.0m110.0 0h1.5m2.5 0h2.0m1.5 0h1.2m49.5 0h1.2m9.3 0h1.2m14.0 0h1.0m-802.2 46.06h1.2m1.0 0h1.0m203.8 0h2.5m8.0 0h1.0m57.9 0h2.5m13.0 0h1.2m21.5 0h0.8m1.0 0h2.0m2.5 0h2.0m23.3 0h0.8m13.4 0h1.0m133.1 0h1.0m88.6 0h1.0m3.5 0h2.0m68.6 0h1.0m72.5 0h1.2m36.2 0h1.2m12.3 0h1.2m-781.8 23.03h1.0m28.4 0h1.0m20.0 0h1.5m6.5 0h1.5m80.9 0h2.0m15.1 0h0.8m16.0 0h2.5m33.4 0h1.0m29.6 0h2.7m43.0 0h2.5m17.9 0h1.0m47.9 0h0.8m28.8 0h1.5m19.5 0h1.5m26.9 0h1.2m70.3 0h0.8m8.1 0h1.8m25.2 0h1.2m2.5 0h1.5m8.8 0h1.0m79.2 0h0.8m5.7 0h1.0m8.0 0h0.8m2.5 0h1.2m18.9 0h1.5m51.3 0h1.5m27.3 0h1.2m19.1 0h2.0m11.7 0h1.5m4.5 0h1.0m1.5 0h1.0m-651.5 23.03h2.5m52.1 0h0.8m53.9 0h1.5m35.5 0h0.8m62.3 0h1.0m22.8 0h1.5m16.1 0h1.5m207.5 0h2.0m59.1 0h2.5m4.0 0h1.2m75.6 0h1.5m28.1 0h2.0m4.0 0h1.5m-777.5 69.09h0.8m30.0 0h1.2m126.4 0h2.5m12.8 0h1.2m17.2 0h0.8m178.9 0h1.2m105.3 0h2.0m8.6 0h1.5m4.7 0h1.0m63.5 0h2.0m15.0 0h1.2m92.9 0h2.2m77.0 0h1.5m16.7 0h1.0m-609.5 23.03h1.5m50.4 0h2.0m49.9 0h1.0m21.7 0h1.0m6.8 0h2.5m4.0 0h2.5m210.1 0h1.2m8.0 0h1.0m34.4 0h1.0m24.8 0h1.2m36.6 0h0.8m48.7 0h1.0m5.8 0h2.0m11.6 0h2.0m47.5 0h1.5m5.8 0h1.0m5.5 0h1.0m11.5 0h2.5m-781.7 46.06h2.0m170.2 0h2.0m39.1 0h2.5m57.4 0h1.2m14.0 0h1.5m16.5 0h3.0m14.1 0h0.8m38.4 0h2.5m196.9 0h1.2m7.8 0h1.5m26.0 0h1.5m64.9 0h2.5m92.7 0h1.5m-553.7 23.03h0.8m69.0 0h0.8m49.8 0h1.5m16.5 0h2.5m35.3 0h1.2m77.3 0h1.2m21.0 0h1.2m167.1 0h4.5m-452.2 23.03h1.2m11.3 0h1.5m45.4 0h0.8m8.7 0h1.2m17.7 0h1.0m53.0 0h0.8m286.3 0h1.0m39.5 0h1.2m109.7 0h2.5m10.8 0h1.2m23.4 0h0.8m-773.8 69.09h0.8m174.3 0h1.5m30.9 0h0.8m42.5 0h2.0m99.8 0h2.5m105.7 0h1.0m118.9 0h2.0m-463.4 92.12h1.0m30.1 0h1.2m11.8 0h2.0m66.7 0h0.8m31.2 0h0.8m84.9 0h2.5m3.5 0h1.0m137.6 0h2.0m4.3 0h2.5m7.8 0h1.0m48.4 0h1.5m21.0 0h1.5m71.4 0h1.2m118.6 0h1.2m-659.3 46.06h0.8m78.7 0h0.8m13.7 0h1.5m97.0 0h1.5m23.0 0h2.5m31.3 0h1.0m14.5 0h1.0m107.3 0h0.8m23.7 0h0.8m11.7 0h1.0m26.8 0h0.8m72.5 0h1.0m31.2 0h0.8m60.6 0h1.0m49.6 0h1.0m-779.5 46.06h1.0m124.1 0h0.8m30.7 0h1.5m11.9 0h1.5m3.2 0h1.2m14.8 0h1.5m68.4 0h1.5m59.0 0h1.2m38.6 0h1.0m1.0 0h2.5m5.7 0h1.2m41.1 0h1.2m16.5 0h1.0m8.7 0h1.0m4.5 0h2.5m78.0 0h2.5m5.7 0h2.0m9.3 0h1.6m43.6 0h4.5m13.5 0h2.5m105.6 0h1.0m-646.2 23.03h1.2m76.0 0h3.0m26.8 0h0.8m80.1 0h2.0m4.5 0h1.0m5.5 0h2.0m58.3 0h1.2m32.7 0h0.8m4.5 0h0.8m52.2 0h2.0m22.7 0h2.5m67.4 0h1.5m33.7 0h1.2m69.8 0h1.5m16.1 0h1.5m8.3 0h2.5m5.2 0h2.7m12.3 0h1.2m31.5 0h2.5m12.7 0h2.0m1.0 0h2.0m0.8 0h2.0m7.5 0h1.0m-760.7 46.06h2.5m30.3 0h1.0m23.9 0h1.2m105.9 0h2.5m114.0 0h1.2m64.5 0h2.5m57.0 0h2.5m37.0 0h2.0m59.2 0h1.5m92.0 0h1.0m42.7 0h1.0m5.2 0h1.5m83.0 0h1.0m12.4 0h0.8"/>
<path stroke="#4c004c" stroke-opacity="0.45" d="M813.5 1601.01h2.0m-471.3 23.03h1.0m333.9 0h2.0m29.9 0h0.8m40.3 0h1.5m-488.1 23.03h2.5m152.1 0h1.2m122.9 0h1.2m91.0 23.03h0.8m138.5 0h1.2m36.4 0h1.0m105.4 0h1.2m21.3 0h1.5m-741.8 23.03h2.0m411.0 0h1.5m4.5 0h1.5m94.7 0h1.0m205.1 0h1.0m-117.7 23.03h1.5m47.1 0h1.0m-371.3 46.06h0.8m307.0 0h0.8m64.0 46.06h1.0m-549.0 69.09h2.5m59.3 0h1.5m4.3 0h2.5m43.8 0h1.5m71.8 0h1.0m246.6 0h1.5m150.5 0h1.2m-177.2 46.06h2.5m-126.8 92.12h1.2m16.2 0h1.5m66.0 0h0.8m60.2 0h0.8m8.4 0h1.5m-560.9 69.09h2.5m25.4 0h1.2m400.6 0h0.8m16.8 0h1.0m194.3 0h2.5m-604.6 23.03h2.0m258.9 0h2.5m14.8 0h2.0m244.1 0h2.0m40.2 0h0.8m137.0 0h2.5m2.3 0h2.0m-820.5 69.09h2.5m21.6 0h1.5m617.1 0h0.8m66.9 0h0.8m-385.3 92.12h1.5m54.6 0h1.0m239.6 0h1.5m-88.0 46.06h1.5m270.0 0h1.2m-803.7 46.06h1.5m15.5 0h2.5m155.0 0h0.8m7.8 0h0.8m78.7 0h1.0m90.0 0h1.5m58.5 0h1.0m2.0 0h1.5m-433.4 69.09h2.5m58.0 0h0.8m30.1 0h1.0m168.0 0h2.0m43.4 0h0.8m9.9 0h1.5m318.7 0h1.0m129.1 0h2.5"/>
<path stroke="#4c004c" stroke-opacity="0.7" d="M505.8 1624.04h1.0m28.4 0h1.5m160.0 0h2.5m-328.8 23.03h1.0m321.7 0h1.5m128.8 0h1.5m5.1 0h0.8m-270.2 23.03h1.5m197.4 0h2.0m0.8 0h1.0m157.6 0h2.0m-736.6 23.03h1.2m219.5 0h1.5m112.8 0h2.0m57.4 0h1.0m-277.5 23.03h1.5m52.3 0h2.5m316.9 0h1.0m22.3 0h1.2m-388.0 92.12h1.0m540.0 0h1.0m-530.2 46.06h1.0m508.6 23.03h0.8m-499.3 46.06h2.5m436.9 0h1.5m-645.8 92.12h0.8m66.7 0h2.5m106.3 0h0.8m172.8 0h2.5m105.1 0h1.0m45.8 0h0.8m-505.8 69.09h0.8m486.7 0h0.8m14.1 0h1.0m-477.4 23.03h0.8m59.1 0h2.5m4.5 0h1.5m264.1 0h0.8m60.8 0h0.8m265.1 69.09h1.2m71.0 0h1.5m16.5 0h2.5m-607.0 92.12h1.2m45.9 0h2.5m3.5 0h2.5m108.8 0h0.8m46.6 0h1.0m-265.0 46.06h1.0m23.0 0h1.5m399.5 0h2.5m260.9 0h1.2m-784.0 46.06h2.0m136.5 0h2.5m28.1 0h1.2m35.5 0h3.0m79.6 0h0.8m271.4 0h0.8m3.8 0h1.5m34.8 0h1.5m-23.3 23.03h1.5m75.3 0h1.0m5.5 0h1.0m-558.6 46.06h1.5m181.4 0h1.2m139.2 0h2.0m11.3 0h1.0m24.8 0h1.0m302.9 0h1.2"/>
<path stroke="#4c004c" d="M229.7 1601.01h1.5m85.9 0h1.5m29.5 0h1.2m59.1 0h1.5m27.1 0h1.5m22.4 0h1.5m26.6 0h1.0m190.3 0h2.5m12.2 0h1.0m28.8 0h1.2m6.0 0h0.6m37.8 0h2.5m17.5 0h2.5m43.9 0h1.2m-551.9 23.03h4.8m23.6 0h1.0m8.3 0h1.0m31.4 0h1.0m165.7 0h1.5m26.1 0h1.5m0.8 0h2.5m46.4 0h2.5m20.6 0h1.5m15.8 0h2.5m41.0 0h0.8m12.8 0h0.8m21.3 0h2.0m7.0 0h1.5m142.6 0h0.8m17.7 0h1.5m13.3 0h0.8m26.7 0h2.5m-825.2 23.03h1.0m119.3 0h0.8m5.0 0h0.8m18.0 0h1.0m15.1 0h2.5m90.6 0h2.0m14.8 0h1.2m20.3 0h1.2m101.7 0h1.5m3.0 0h0.8m17.0 0h2.5m165.5 0h2.0m8.0 0h1.0m9.5 0h2.3m112.7 0h1.5m23.1 0h1.0m-665.2 23.03h2.0m121.5 0h2.0m39.5 0h1.0m4.5 0h1.0m2.8 0h1.5m1.0 0h2.0m56.6 0h0.8m71.2 0h2.0m38.8 0h1.0m60.2 0h1.0m94.9 0h1.0m66.7 0h2.0m108.2 0h1.0m46.7 0h2.0m-814.2 23.03h1.5m194.2 0h1.5m35.7 0h1.0m10.8 0h2.5m112.9 0h2.0m21.2 0h1.5m37.6 0h2.0m5.5 0h1.5m17.5 0h0.8m30.5 0h1.0m6.1 0h1.0m33.1 0h1.2m34.3 0h0.8m100.0 0h1.0m119.4 0h2.0m-694.6 23.03h2.5m97.0 0h1.5m29.3 0h1.0m11.8 0h1.5m33.1 0h1.2m9.9 0h1.2m25.2 0h1.5m1.2 0h2.0m38.4 0h2.5m13.7 0h1.0m13.5 0h0.8m28.5 0h1.2m11.0 0h1.0m6.3 0h2.0m24.5 0h1.2m114.6 0h0.8m73.2 0h2.5m12.0 0h1.0m3.0 0h1.5m102.7 0h1.2m-579.2 46.06h2.5m8.8 0h2.0m29.0 0h1.5m12.1 0h1.0m4.0 0h1.2m25.8 0h1.2m4.7 0h1.2m21.8 0h1.5m4.5 0h1.0m34.2 0h1.5m29.0 0h1.0m55.1 0h2.5m9.3 0h1.0m129.3 0h2.5m39.1 0h2.0m51.6 0h0.8m114.3 0h0.8m-714.0 46.06h2.5m100.8 0h1.0m23.1 0h1.5m53.5 0h0.8m15.1 0h1.5m17.4 0h1.0m33.2 0h2.5m21.8 0h1.5m39.8 0h1.0m3.0 0h1.0m214.0 0h1.0m94.8 0h1.2m69.5 0h2.5m19.0 0h0.8m-790.0 46.06h1.0m35.6 0h2.5m93.8 0h2.0m36.8 0h0.8m8.7 0h1.0m15.8 0h0.8m17.9 0h1.5m11.7 0h2.0m49.6 0h1.5m4.5 0h2.5m23.1 0h1.2m33.3 0h0.8m22.5 0h1.5m18.7 0h2.5m100.0 0h1.0m75.8 0h1.5m34.8 0h0.8m63.3 0h1.5m53.1 0h0.8m-693.9 23.03h1.0m96.1 0h0.8m6.7 0h1.5m48.8 0h2.0m23.0 0h1.0m61.4 0h2.0m1.0 0h1.5m46.8 0h1.2m17.1 0h1.0m1.6 0h0.8m18.3 0h1.5m37.8 0h2.0m127.9 0h2.5m188.5 0h1.5m54.1 0h1.0m8.3 0h1.5m-580.9 46.06h1.0m52.9 0h1.5m91.4 0h2.0m31.9 0h1.5m31.4 0h1.5m126.8 0h0.8m17.7 0h0.8m7.5 0h1.0m54.5 0h2.0m120.6 0h1.2m-729.5 92.12h1.0m2.8 0h1.2m7.6 0h0.8m135.9 0h1.2m80.4 0h1.5m37.9 0h0.8m17.5 0h0.8m8.2 0h2.0m27.9 0h1.5m10.5 0h1.0m62.8 0h0.8m51.2 0h1.0m44.6 0h1.0m104.8 0h2.5m8.7 0h1.5m15.9 0h1.5m10.1 0h2.5m36.1 0h1.5m107.9 0h1.0m-617.2 46.06h2.5m19.2 0h2.0m10.0 0h1.5m3.5 0h3.5m3.3 0h1.5m22.1 0h1.5m7.0 0h1.5m37.9 0h1.5m54.0 0h2.0m20.3 0h0.8m6.8 0h1.2m17.0 0h2.0m6.8 0h1.5m28.2 0h1.0m33.7 0h1.0m43.2 0h1.5m30.0 0h2.5m15.8 0h1.5m130.7 0h1.5m23.8 0h0.8m20.4 0h0.8m24.7 0h0.1m21.6 0h1.5m-704.0 23.03h1.2m34.5 0h2.5m14.0 0h1.5m81.0 0h2.0m62.2 0h1.5m32.2 0h1.0m26.4 0h1.2m218.8 0h1.2m1.2 0h1.2m21.2 0h0.8m-618.0 23.03h2.0m28.6 0h2.5m98.4 0h0.8m33.8 0h2.5m52.4 0h1.0m12.5 0h0.8m112.9 0h1.5m60.8 0h1.0m1.0 0h2.0m72.4 0h0.8m-426.0 69.09h1.0m262.2 0h1.0m43.5 0h1.0m17.8 0h1.2m239.7 0h0.8m-503.8 92.12h1.5m27.8 0h2.2m378.6 0h0.8m44.6 0h0.8m55.3 0h1.2m17.7 0h1.5m-572.9 46.06h1.0m486.5 0h0.8m65.5 0h1.2m77.3 0h1.2m86.8 0h1.5m-750.5 46.06h2.5m16.2 0h1.0m13.7 0h1.0m142.6 0h1.0m16.6 0h1.0m19.5 0h1.0m53.8 0h1.8m100.2 0h1.5m7.4 0h1.0m11.3 0h0.8m12.9 0h1.5m153.4 0h2.5m26.3 0h1.0m112.5 0h1.2m2.0 0h2.5m14.0 0h2.5m-686.9 23.03h3.0m16.6 0h2.5m76.7 0h1.2m17.4 0h2.5m20.2 0h0.8m105.6 0h2.0m13.9 0h1.5m88.8 0h1.0m16.8 0h2.3m14.3 0h1.5m13.3 0h2.0m24.5 0h2.0m69.1 0h1.0m23.9 0h1.5m19.4 0h1.5m18.2 0h2.5m35.7 0h1.2m16.2 0h1.0m8.0 0h1.0m6.8 0h3.0m16.5 0h2.0m22.7 0h1.0m9.2 0h1.5m13.6 0h0.8m12.2 0h1.0m-808.8 46.06h2.0m13.3 0h1.5m149.5 0h2.0m159.9 0h1.0m85.1 0h1.5m44.2 0h1.0m9.6 0h2.5m13.3 0h2.5m322.6 0h1.0"/>
<path stroke="#400040" stroke-opacity="0.45" d="M807.8 1601.01h1.5m-97.5 23.03h1.0m-486.2 23.03h2.5m159.8 0h1.0m334.8 0h1.0m-544.2 23.03h0.8m139.2 0h2.5m430.0 0h2.5m172.4 0h0.8m-815.5 23.03h1.0m31.4 0h0.8m75.6 0h2.5m100.6 23.03h1.5m54.0 0h1.2m310.9 0h2.0m47.8 0h1.2m25.2 0h1.0m106.9 0h1.2m22.5 0h2.0m-434.2 46.06h1.0m70.2 0h1.2m123.1 0h1.5m109.6 0h1.5m-330.2 92.12h1.5m64.2 0h1.2m-344.6 23.03h2.0m90.5 0h2.0m194.4 0h1.5m9.4 0h2.5m11.3 0h2.5m346.7 0h1.5m52.9 0h2.5m-312.4 23.03h1.5m138.9 0h2.0m-48.4 23.03h1.5m64.5 0h2.5m19.2 0h1.0m-626.8 92.12h1.0m214.0 0h1.5m58.7 0h1.0m295.2 0h0.8m98.6 0h1.5m51.5 46.06h1.5m-722.5 23.03h1.5m380.4 0h2.0m170.8 0h2.3m162.9 0h0.8m-585.3 23.03h1.0m161.3 0h1.5m343.4 0h1.5m131.4 0h0.8m-779.8 69.09h1.5m38.6 0h1.0m15.9 0h1.5m126.5 0h1.2m21.3 0h1.5m46.7 0h1.2m36.8 0h1.5m213.6 0h1.2m112.2 0h1.0m149.2 0h2.0m-685.0 92.12h1.0m39.2 46.06h1.0m441.8 0h0.8m-532.3 46.06h2.5m193.9 0h1.2m47.3 0h1.5m212.2 0h2.0m155.2 0h1.0m101.2 0h1.5m13.5 0h1.5m-333.9 23.03h1.5m-249.3 46.06h1.5m105.2 0h2.0m202.6 0h1.5m19.2 0h1.0m30.8 0h0.8m90.2 0h0.8m43.8 0h0.8m14.7 0h1.5"/>
<path stroke="#400040" stroke-opacity="0.7" d="M456.1 1624.04h0.8m338.5 0h1.2m-448.7 23.03h2.5m-162.6 23.03h2.5m70.7 0h1.0m376.7 0h2.5m-526.0 23.03h0.8m14.4 0h1.5m51.6 0h0.8m155.8 0h2.5m224.6 0h1.5m-185.9 23.03h0.8m393.8 0h2.5m50.7 0h2.5m-314.4 46.06h1.5m197.2 0h2.5m59.9 0h0.8m81.8 0h2.0m-399.8 46.06h1.2m254.9 0h2.5m116.5 0h1.5m22.2 0h1.5m66.6 0h1.0m-636.6 46.06h1.0m71.1 0h1.2m26.5 0h1.5m-270.4 23.03h0.8m226.9 0h1.5m380.0 0h0.8m66.7 23.03h2.0m28.5 0h1.0m-185.4 23.03h1.2m-377.0 92.12h0.8m234.2 0h1.5m152.5 0h1.0m57.9 0h1.0m122.1 0h1.0m-717.1 69.09h1.0m123.5 0h2.0m56.3 0h1.0m87.3 0h1.2m12.7 0h1.5m12.4 0h1.5m269.8 0h2.5m-487.3 23.03h2.0m29.3 0h1.5m98.4 0h1.5m32.3 0h1.0m60.6 0h1.0m352.9 0h1.0m-668.4 69.09h1.0m2.8 0h1.0m26.1 0h2.0m8.6 0h1.2m316.3 0h1.0m93.7 0h1.0m41.7 0h0.8m6.5 0h1.2m65.9 138.18h2.5m20.3 0h2.0m-392.2 46.06h1.2m148.8 0h0.8m385.2 0h2.0m-123.6 23.03h2.5m2.0 0h1.0m10.9 0h1.5m24.5 0h1.0m141.4 0h2.5m-701.1 46.06h1.5m83.3 0h1.0m52.8 0h0.8m202.2 0h1.2m126.2 0h1.0"/>
<path stroke="#400040" d="M253.6 1601.01h3.5m6.9 0h1.0m50.6 0h1.5m37.7 0h1.0m20.8 0h0.8m4.2 0h4.0m7.9 0h2.5m67.9 0h1.2m6.5 0h1.2m6.8 0h1.5m3.4 0h1.5m8.7 0h1.0m9.5 0h1.0m20.1 0h1.0m93.3 0h1.0m42.6 0h0.8m40.3 0h4.0m116.6 0h1.5m3.9 0h1.5m54.7 0h2.0m-659.0 23.03h1.0m65.1 0h1.5m5.3 0h1.5m32.9 0h0.8m9.1 0h2.5m39.7 0h1.0m34.7 0h1.2m40.8 0h1.5m4.7 0h2.5m68.4 0h1.5m61.5 0h1.2m17.4 0h1.0m65.9 0h2.5m17.1 0h2.0m8.5 0h1.5m71.8 0h0.8m1.5 0h1.2m20.4 0h1.5m40.4 0h2.5m75.8 0h1.0m-711.6 23.03h1.5m62.0 0h2.0m5.8 0h1.2m25.0 0h1.0m102.2 0h1.5m5.5 0h1.0m24.5 0h4.0m12.5 0h1.0m10.8 0h1.2m20.3 0h1.5m9.0 0h1.0m1.0 0h1.0m156.6 0h1.5m130.5 0h2.0m9.3 0h1.5m69.6 0h1.5m21.4 0h1.5m-794.7 23.03h1.2m101.8 0h1.5m21.0 0h2.0m85.5 0h2.5m262.8 0h1.5m293.3 0h2.5m-741.5 23.03h0.8m42.9 0h0.8m2.0 0h1.0m192.6 0h1.2m-86.5 23.03h1.2m101.8 0h1.0m155.9 0h2.0m88.8 0h2.5m211.1 0h1.0m-594.1 46.06h1.5m86.4 0h1.5m281.7 0h1.0m8.0 0h1.0m24.3 0h1.0m-274.5 46.06h1.5m87.3 0h0.8m165.8 0h1.5m161.0 0h2.5m32.2 0h1.0m34.3 0h1.5m-714.3 23.03h2.5m19.0 0h1.0m24.7 0h2.5m50.0 0h1.0m3.2 0h2.0m31.7 0h2.0m1.5 0h4.5m3.0 0h1.0m5.1 0h1.5m14.5 0h1.0m6.3 0h2.5m30.8 0h2.0m21.3 0h1.5m46.1 0h1.0m13.4 0h3.2m2.0 0h1.5m3.3 0h1.0m38.4 0h1.5m8.1 0h0.8m123.3 0h1.5m91.3 0h2.5m76.5 0h1.0m51.7 0h1.0m12.2 0h0.8m-774.3 23.03h1.0m25.3 0h1.0m125.6 0h1.2m17.3 0h2.5m2.3 0h2.5m9.7 0h1.0m3.2 0h1.5m46.4 0h1.5m8.2 0h1.2m11.5 0h2.0m8.8 0h1.2m54.2 0h1.2m2.5 0h1.5m30.7 0h2.5m24.6 0h0.8m137.5 0h2.5m22.4 0h1.2m13.3 0h1.0m6.3 0h2.0m45.6 0h1.5m64.6 0h0.8m8.7 0h2.5m41.5 0h1.0m-740.6 23.03h1.0m2.0 0h2.0m124.9 0h1.5m18.0 0h2.5m81.3 0h0.8m71.8 0h2.0m24.0 0h1.5m26.6 0h1.2m24.0 0h1.5m4.7 0h0.8m16.6 0h1.5m116.2 0h1.5m36.1 0h1.0m99.0 0h1.0m6.3 0h1.5m20.3 0h1.0m39.8 0h1.5m32.3 0h2.5m-785.6 23.03h2.0m34.2 0h1.0m25.1 0h2.5m48.3 0h2.0m7.0 0h2.5m15.3 0h1.0m1.8 0h2.0m29.6 0h1.0m9.5 0h1.5m14.5 0h2.0m1.5 0h1.0m17.0 0h2.0m10.4 0h1.2m83.9 0h1.5m43.0 0h1.5m6.0 0h0.8m11.7 0h1.0m9.8 0h2.7m11.7 0h2.0m43.0 0h0.8m17.2 0h1.0m16.0 0h1.0m51.4 0h1.5m32.1 0h2.5m1.0 0h1.2m22.8 0h2.0m23.1 0h2.0m7.5 0h1.5m17.7 0h1.5m11.2 0h3.3m49.5 0h0.8m4.2 0h2.0m5.5 0h1.2m17.5 0h1.0m3.2 0h1.5m28.4 0h1.2m-313.0 23.03h1.0m143.1 0h1.0m-636.8 69.09h1.0m8.8 0h1.0m175.7 0h1.5m12.0 0h1.5m1.2 0h1.5m53.4 0h2.5m4.0 0h0.8m4.0 0h1.0m11.0 0h2.0m42.5 0h1.2m3.0 0h1.0m8.9 0h0.3m36.5 0h1.0m7.3 0h1.0m37.4 0h1.5m48.3 0h1.5m50.7 0h1.2m5.0 0h4.0m6.5 0h0.4m3.2 0h0.8m1.0 0h1.0m7.2 0h2.0m37.3 0h1.0m11.0 0h2.8m27.2 0h2.0m57.5 0h1.5m24.4 0h1.5m6.5 0h1.5m19.2 0h2.0m5.0 0h2.0m34.7 0h1.8m-502.7 23.03h1.5m109.6 0h2.5m3.9 0h1.0m10.8 0h0.8m1.0 0h1.5m176.8 0h0.8m67.2 0h1.2m15.4 0h1.2m12.6 0h1.8m59.1 0h1.5m7.5 0h0.8m-685.0 46.06h1.5m14.8 0h1.0m75.4 0h2.0m20.9 0h1.2m17.0 0h1.5m58.6 0h1.0m20.0 0h1.5m65.3 0h1.5m29.7 0h2.5m41.3 0h1.0m12.2 0h1.0m49.7 0h1.5m31.8 0h1.0m17.4 0h1.5m7.0 0h1.2m134.8 0h0.8m46.1 0h1.2m50.9 0h2.0m-727.1 23.03h1.0m96.5 0h1.0m24.6 0h1.0m30.5 0h3.7m83.4 0h1.5m1.0 0h1.0m98.7 0h1.5m3.5 0h1.5m364.8 0h1.0m0.8 0h1.5m-653.9 23.03h0.8m48.4 0h1.5m22.0 0h1.5m6.5 0h0.8m46.2 0h1.0m42.1 0h1.2m12.4 0h0.8m483.5 0h1.2m2.5 0h1.0m-544.0 69.09h0.8m62.8 0h1.2m83.0 0h1.0m33.2 0h2.5m10.5 0h1.5m31.7 0h0.8m9.2 0h2.0m113.2 0h0.8m-528.0 92.12h1.2m572.1 0h2.5m-547.7 46.06h1.0m5.2 0h0.8m448.8 0h1.5m147.8 0h2.5m64.5 0h1.0m-732.5 46.06h1.5m8.3 0h1.0m188.3 0h1.2m23.5 0h1.0m20.8 0h1.0m39.2 0h2.5m88.6 0h1.0m22.7 0h2.0m37.2 0h2.5m81.0 0h2.0m88.9 0h1.5m74.6 0h0.8m3.0 0h3.0m-630.2 23.03h2.5m10.3 0h1.0m12.5 0h2.5m5.5 0h1.0m9.4 0h2.0m32.6 0h1.5m19.0 0h0.8m61.1 0h2.5m33.0 0h2.8m61.2 0h2.0m45.6 0h1.5m30.1 0h2.0m41.4 0h2.0m39.9 0h0.8m13.5 0h2.7m234.8 0h0.8m4.3 0h2.0m-814.8 46.06h2.0m93.1 0h2.5m11.3 0h1.5m19.1 0h2.5m93.8 0h1.5m388.9 0h1.4m119.0 0h2.0m70.9 0h1.2"/>
<path stroke="#330033" stroke-opacity="0.45" d="M673.8 1601.01h2.5m-442.7 46.06h2.5m132.5 0h0.8m28.0 0h2.0m268.7 0h1.2m18.6 0h1.0m140.1 0h1.0m-690.3 23.03h2.5m22.6 0h2.5m57.0 0h2.5m44.9 0h1.0m78.4 0h1.2m131.6 0h1.2m-306.3 23.03h3.5m9.9 0h1.2m229.1 23.03h0.8m16.5 0h1.2m137.1 0h1.0m166.8 46.06h0.8m195.0 0h1.0m-391.5 92.12h1.2m196.6 0h1.0m-624.2 23.03h1.0m25.2 0h1.5m114.3 0h2.5m50.6 0h0.8m115.1 0h1.0m307.9 0h1.0m70.1 0h1.5m-250.2 23.03h1.0m172.2 23.03h2.0m-607.6 92.12h0.8m105.9 0h1.0m226.6 0h0.8m398.8 0h1.5m-711.6 69.09h2.5m247.0 0h0.8m428.4 0h1.0m73.2 0h1.0m-777.0 23.03h2.0m28.4 0h1.2m38.0 0h0.8m28.8 0h0.8m205.3 0h1.2m16.6 0h1.0m292.9 0h1.0m-562.7 69.09h2.0m1.0 0h1.0m89.2 0h2.5m6.2 0h1.2m74.1 0h1.5m33.2 0h1.0m215.5 0h1.5m91.8 0h1.5m17.3 0h0.4m20.6 0h1.0m2.0 0h1.5m-631.5 92.12h1.0m35.8 0h1.5m571.5 0h2.0m33.4 0h1.0m-568.9 46.06h2.5m11.2 0h0.8m707.5 0h0.8m-792.2 46.06h1.5m197.7 0h1.0m36.3 0h2.0m48.6 0h1.2m199.4 0h1.5m10.3 0h1.5m37.5 0h1.0m42.3 0h1.0m82.1 0h1.4m64.7 0h1.5m59.6 0h1.0m-348.1 23.03h1.5m197.0 0h2.0m10.3 0h2.0m-631.9 46.06h2.3m26.3 0h0.8m75.0 0h2.0m148.4 0h1.5m365.1 0h2.5"/>
<path stroke="#330033" stroke-opacity="0.7" d="M548.2 1601.01h1.0m286.1 0h1.5m-300.1 23.03h1.0m92.1 0h2.0m4.5 0h2.0m185.2 0h2.5m-538.4 23.03h2.5m1.0 0h2.5m225.3 0h1.0m152.9 0h1.0m-557.1 23.03h1.2m49.4 0h1.0m38.7 0h2.5m54.7 0h1.0m298.9 0h1.0m281.7 0h2.7m3.0 0h1.5m-730.8 23.03h1.5m4.2 0h1.5m192.7 0h0.8m70.4 0h1.0m254.1 0h2.5m-363.1 23.03h2.5m359.0 0h1.2m55.6 0h2.5m77.3 0h1.0m152.8 0h1.0m-657.1 46.06h1.0m97.2 92.12h1.0m158.9 0h2.5m164.7 0h1.2m-574.4 23.03h2.5m463.2 0h1.0m249.6 0h1.0m26.0 0h1.5m-375.3 23.03h1.0m134.0 0h1.0m178.1 0h1.0m6.2 0h1.5m24.9 0h1.0m-82.4 23.03h1.2m126.9 69.09h1.5m-768.4 23.03h2.0m7.6 0h1.5m112.3 0h2.5m112.6 0h2.0m334.7 0h2.0m51.3 0h1.5m86.8 46.06h1.5m-382.7 23.03h1.2m93.6 0h0.8m39.7 0h1.0m210.3 0h1.0m60.8 0h1.0m-694.9 23.03h1.5m560.8 0h1.5m-419.1 69.09h1.0m218.9 0h1.5m39.0 0h1.0m94.8 0h1.5m26.2 0h1.0m8.5 0h1.0m-580.5 92.12h2.5m88.1 0h1.0m490.3 0h1.0m72.8 0h1.5m130.6 0h1.5m-808.2 92.12h1.5m66.6 0h1.5m306.5 0h2.0m40.8 0h2.0m20.2 0h1.0m34.3 0h1.5m14.2 0h2.5m-81.7 23.03h1.2m9.0 0h2.0m100.9 0h1.5m15.6 0h0.8m-361.4 46.06h0.8m204.7 0h0.8m161.9 0h1.0m62.0 0h2.5m76.1 0h2.5m10.7 0h1.0"/>
<path stroke="#330033" d="M429.7 1601.01h2.0m426.4 0h1.0m-656.2 23.03h0.8m14.2 0h2.5m475.3 0h1.0m103.4 0h0.3m21.6 0h1.5m-615.4 23.03h2.0m105.0 0h1.5m8.5 0h2.5m154.7 0h1.5m183.3 0h1.0m76.4 0h0.8m80.4 0h0.8m25.2 0h1.5m-730.8 23.03h1.2m25.1 0h1.5m30.5 0h0.8m35.3 0h2.0m211.4 0h1.5m425.0 0h1.0m-731.0 23.03h1.2m27.5 0h2.5m12.6 0h1.5m5.3 0h1.5m248.5 0h2.0m-114.3 23.03h1.2m87.8 0h1.2m110.4 0h1.0m124.7 0h1.5m78.6 0h1.0m4.2 0h1.0m17.1 0h1.5m107.9 0h1.0m1.0 0h1.5m-568.7 46.06h1.5m375.9 0h1.2m11.5 0h2.0m24.7 0h2.0m-392.8 46.06h1.5m448.1 0h2.5m-607.1 23.03h1.0m19.0 0h2.5m5.0 0h1.0m45.5 0h1.2m92.6 0h1.0m22.9 0h1.5m21.8 0h0.8m4.3 0h1.2m16.5 0h1.0m26.8 0h1.0m58.3 0h1.5m64.5 0h2.5m92.4 0h0.8m47.1 0h1.5m4.8 0h1.5m137.5 0h1.5m44.0 0h1.5m13.7 0h1.0m-617.2 23.03h1.5m10.0 0h1.0m16.3 0h1.5m4.3 0h2.5m15.4 0h1.0m13.7 0h0.8m2.5 0h1.5m11.1 0h1.5m42.5 0h1.5m4.7 0h3.5m24.0 0h2.0m4.0 0h1.2m39.2 0h1.2m138.8 0h2.5m45.8 0h2.5m10.2 0h2.0m182.0 0h1.5m-539.7 23.03h1.5m68.9 0h1.5m8.4 0h1.0m155.9 0h0.8m20.2 0h1.5m-479.9 23.03h1.0m16.6 0h2.0m10.5 0h2.5m8.0 0h1.0m2.5 0h2.5m24.9 0h1.2m4.1 0h1.0m89.4 0h1.0m15.0 0h1.5m4.3 0h2.2m5.5 0h1.0m28.2 0h0.8m3.0 0h1.2m20.9 0h1.8m2.5 0h2.0m9.7 0h1.0m17.8 0h2.0m4.7 0h2.0m2.0 0h1.5m1.2 0h2.5m23.7 0h1.5m13.7 0h1.5m2.0 0h2.0m4.0 0h2.5m0.8 0h2.0m1.0 0h1.2m1.0 0h1.5m19.8 0h1.5m3.8 0h0.8m15.2 0h2.0m26.9 0h1.5m12.5 0h2.0m15.7 0h0.8m18.0 0h1.5m3.5 0h2.0m5.5 0h2.5m74.4 0h2.5m8.9 0h1.2m11.3 0h1.0m9.3 0h0.8m13.0 0h0.8m15.2 0h1.2m18.0 0h2.8m13.1 0h0.8m23.9 0h1.0m17.7 0h1.0m36.4 0h1.5m13.9 0h2.0m21.9 0h2.5m-602.9 23.03h1.5m264.5 0h1.0m22.1 0h1.0m21.6 0h2.0m65.4 0h0.8m31.2 0h1.5m23.9 0h1.0m139.5 0h2.5m-772.6 69.09h1.0m59.5 0h1.5m107.7 0h2.5m87.4 0h2.5m30.3 0h1.5m3.5 0h2.0m7.0 0h1.0m46.6 0h1.0m6.0 0h1.0m7.8 0h1.0m34.3 0h1.5m5.5 0h2.0m12.4 0h2.5m5.0 0h0.8m41.3 0h2.5m36.6 0h1.5m5.3 0h1.0m26.1 0h1.0m31.8 0h2.5m15.5 0h1.0m37.2 0h2.0m34.7 0h1.2m1.0 0h2.0m17.4 0h0.8m9.0 0h1.5m76.7 0h1.0m-779.9 23.03h1.5m167.9 0h2.0m31.9 0h0.8m75.8 0h1.2m19.1 0h2.0m10.0 0h1.5m7.8 0h1.5m13.9 0h2.5m150.0 0h2.0m48.9 0h1.0m4.3 0h1.0m278.3 0h0.7m-767.6 46.06h1.0m137.3 0h2.0m54.0 0h1.2m43.9 0h1.5m102.8 0h1.5m8.2 0h1.2m214.4 0h1.5m21.7 0h1.5m75.1 0h2.0m1.5 0h1.0m41.3 0h1.0m-737.8 23.03h1.0m64.7 0h1.0m318.1 0h0.8m9.3 0h2.0m330.1 0h1.2m-679.7 23.03h1.5m26.1 0h1.0m19.1 0h2.0m3.2 0h0.8m153.3 0h1.5m496.5 0h1.5m-739.1 69.09h1.2m219.5 0h1.5m51.4 0h1.5m47.7 0h2.0m10.3 0h2.5m52.1 0h0.8m36.0 0h1.2m20.5 0h1.0m9.6 0h1.2m31.3 0h2.0m18.0 0h2.5m1.5 0h1.0m30.4 0h0.8m5.3 0h1.5m-537.1 92.12h0.8m36.9 0h1.2m2.5 0h1.0m523.8 0h1.2m-556.5 46.06h1.5m-61.4 46.06h2.5m30.4 0h1.0m16.1 0h1.0m7.4 0h1.0m101.2 0h1.0m7.8 0h1.5m51.0 0h1.0m10.5 0h0.8m19.5 0h1.2m26.1 0h1.0m94.9 0h2.5m43.0 0h1.0m13.8 0h2.5m2.0 0h1.2m45.4 0h0.8m62.8 0h1.5m11.0 0h2.5m38.9 0h1.0m0.8 0h1.0m17.0 0h1.5m14.8 0h2.0m60.2 0h2.0m50.2 0h1.2m3.8 0h1.0m28.5 0h1.0m-656.2 23.03h1.0m2.7 0h1.0m14.7 0h1.2m26.7 0h1.2m4.2 0h1.5m11.2 0h1.0m1.8 0h1.0m20.3 0h2.5m53.3 0h2.0m35.5 0h3.5m134.8 0h1.5m14.1 0h0.8m6.0 0h1.5m56.4 0h1.0m121.9 0h1.2m4.7 0h1.0m3.0 0h0.8m65.4 0h0.8m19.7 0h2.0m1.5 0h1.5m-766.0 46.06h1.5m82.2 0h2.0m76.3 0h0.8m452.7 0h1.0m86.8 0h1.5m104.2 0h1.1"/>
<path stroke="#260026" stroke-opacity="0.45" d="M539.9 1601.01h2.0m120.8 0h1.5m-371.3 23.03h1.5m278.8 0h2.5m356.0 0h1.5m-708.1 23.03h1.5m288.0 0h1.5m302.6 0h2.5m-709.8 23.03h0.8m57.1 0h2.0m31.5 0h1.0m366.1 0h1.0m103.5 0h1.0m6.2 0h2.5m211.3 0h2.5m-773.2 23.03h2.0m8.9 0h0.8m571.2 0h1.0m187.5 0h1.0m-525.1 23.03h2.5m58.3 0h2.5m69.0 0h2.0m213.6 0h1.5m33.5 0h2.5m167.1 0h2.0m-635.1 46.06h1.0m241.4 0h1.5m193.1 0h1.0m-436.6 46.06h2.5m369.4 0h1.0m10.5 0h2.0m32.2 0h1.0m63.4 0h1.5m5.2 0h2.0m-480.1 46.06h2.0m78.4 0h1.2m541.8 0h0.8m7.2 0h2.0m-768.5 23.03h1.2m38.9 0h1.0m16.3 0h2.0m113.4 0h1.0m159.8 0h1.0m359.5 0h1.5m-76.0 23.03h1.0m-346.7 115.15h1.2m88.1 0h1.0m109.2 0h1.5m94.3 0h1.0m9.4 0h0.8m-47.2 46.06h1.5m-512.6 23.03h1.2m60.8 0h0.8m236.5 0h1.5m28.2 0h2.0m1.5 0h1.0m91.0 0h1.0m225.8 0h2.5m34.5 0h0.8m30.4 0h2.5m-799.7 23.03h0.8m60.4 0h2.0m155.8 0h1.5m115.7 0h1.0m67.4 0h1.0m179.5 0h2.5m8.7 0h1.0m52.1 0h1.5m-628.3 69.09h2.5m26.1 0h1.0m195.0 0h1.5m311.3 0h2.5m-550.5 92.12h1.5m8.2 0h2.0m33.3 0h1.5m9.7 0h1.2m432.6 0h1.2m84.2 0h2.0m94.5 0h1.5m126.1 0h1.0m-776.9 92.12h1.5m13.0 0h2.5m139.3 0h1.5m72.5 0h2.5m158.5 23.03h1.0m2.0 0h0.8m87.6 0h0.8m309.4 0h1.2m-777.9 46.06h1.0m117.9 0h1.2m102.1 0h2.5m53.9 0h1.5m361.1 0h2.5m101.6 0h2.5m20.1 0h0.8"/>
<path stroke="#260026" stroke-opacity="0.7" d="M278.0 1601.01h1.0m41.1 0h1.5m345.7 0h2.5m59.7 0h2.5m-171.4 23.03h1.0m183.9 0h0.8m14.5 0h1.0m146.7 0h1.2m-639.2 23.03h2.0m12.4 0h1.2m126.0 0h2.7m114.3 0h1.0m275.4 0h1.5m132.3 0h2.5m-762.6 23.03h1.5m88.0 0h2.0m208.1 0h1.2m139.4 0h1.2m13.8 0h1.2m153.8 0h1.5m7.3 0h2.2m-658.3 23.03h1.0m41.2 0h1.0m26.6 0h2.0m11.6 0h2.5m55.4 0h1.2m294.6 0h1.5m140.9 0h1.5m-342.7 23.03h1.2m201.5 0h1.5m30.3 0h1.5m3.7 0h2.5m182.9 0h1.0m-47.8 46.06h1.0m62.0 46.06h1.2m-329.1 46.06h2.5m428.3 0h1.0m-651.2 23.03h1.0m248.7 0h2.0m73.8 0h1.0m8.8 0h1.5m252.7 0h0.8m-278.3 23.03h2.0m49.8 0h2.0m58.0 0h1.2m107.6 0h0.8m42.9 0h1.0m5.2 0h1.0m-107.9 23.03h1.5m28.2 0h1.4m-614.6 92.12h1.5m94.8 0h2.0m85.9 0h2.5m157.1 0h2.0m149.7 0h0.8m59.9 0h1.5m3.5 0h1.2m105.9 0h2.5m-680.3 69.09h1.5m277.6 0h1.5m103.0 0h1.5m14.5 0h0.4m27.4 0h1.5m36.2 0h1.2m18.1 0h1.0m5.2 0h1.0m3.3 0h1.5m102.3 0h1.2m118.3 0h2.5m-605.8 23.03h1.0m2.5 0h1.0m114.4 0h2.0m43.1 0h2.5m89.6 0h1.5m138.2 0h1.5m126.4 0h1.0m-651.3 69.09h1.5m145.8 0h1.0m114.5 0h1.0m144.8 0h1.5m7.5 0h1.0m5.0 0h1.5m30.7 0h1.5m97.0 0h2.0m1.8 0h1.0m66.0 0h1.5m90.5 0h0.8m-731.8 92.12h1.2m35.6 0h1.5m5.4 0h2.0m5.0 0h1.0m606.5 0h1.5m63.9 0h1.0m-645.5 46.06h0.8m35.4 0h2.0m671.0 0h2.0m6.1 0h1.0m-303.3 46.06h2.0m103.7 0h1.4m57.2 0h1.5m120.7 0h1.0m27.5 0h1.5m1.5 0h1.3m-728.2 23.03h2.5m283.8 0h2.0m73.2 0h1.0m183.8 0h1.5m-443.9 46.06h1.5m173.5 0h2.0m67.8 0h1.5m60.3 0h0.8m31.7 0h1.2m59.9 0h2.5m89.8 0h2.0m32.1 0h2.0m17.6 0h1.2"/>
<path stroke="#260026" d="M659.5 1601.01h1.2m9.1 0h2.0m161.0 0h1.5m-642.2 23.03h0.8m248.4 0h0.8m121.0 0h1.0m31.1 0h1.5m165.1 0h1.0m5.5 0h2.0m-563.2 23.03h1.0m127.2 0h0.8m52.0 0h0.8m133.5 0h1.2m155.3 0h0.8m165.7 0h1.0m66.4 0h2.0m-768.6 23.03h2.5m36.3 0h2.0m18.0 0h2.0m36.3 0h2.0m512.2 0h2.0m73.6 0h1.0m-690.0 23.03h2.5m155.8 0h0.8m2.5 0h1.5m8.7 0h1.2m16.1 0h1.2m184.7 0h1.0m10.2 0h2.0m179.3 0h2.0m7.0 0h1.0m17.2 0h1.5m-403.9 23.03h2.0m247.0 0h1.5m140.7 0h1.2m-51.3 46.06h1.5m3.0 0h0.8m94.6 0h0.8m151.8 0h1.2m-27.1 46.06h0.8m20.6 0h1.5m-545.8 23.03h1.5m106.8 0h1.5m6.7 0h0.8m172.2 0h1.2m168.5 0h2.5m40.0 0h1.5m9.5 0h1.5m-674.8 23.03h2.5m7.0 0h1.5m1.2 0h0.8m135.6 0h2.0m75.0 0h1.0m29.9 0h1.0m189.1 0h1.5m63.5 0h0.4m23.6 0h1.0m5.0 0h0.8m63.8 0h1.5m48.8 0h2.5m-761.8 23.03h2.5m61.0 0h2.0m262.5 0h1.5m14.4 0h0.8m47.9 0h1.0m23.7 0h2.5m44.3 0h1.0m39.5 0h1.0m-470.8 23.03h1.0m2.7 0h1.5m159.6 0h1.2m8.6 0h1.2m23.5 0h2.5m28.1 0h2.5m44.5 0h1.5m59.1 0h0.8m25.0 0h2.5m7.0 0h2.0m16.2 0h2.5m4.7 0h2.5m42.3 0h1.5m4.0 0h2.5m2.8 0h2.7m4.5 0h2.0m16.2 0h1.2m47.5 0h1.0m42.3 0h1.5m14.5 0h1.2m26.5 0h2.5m15.9 0h1.2m82.3 0h1.5m8.7 0h1.5m-659.9 23.03h1.5m415.1 0h2.0m-503.5 69.09h2.5m36.9 0h1.5m170.9 0h1.5m7.0 0h2.5m19.5 0h1.2m16.0 0h1.5m8.0 0h0.8m21.0 0h2.5m65.9 0h0.8m16.7 0h1.5m6.8 0h2.0m10.2 0h1.2m17.8 0h2.0m57.1 0h0.8m45.4 0h1.0m39.3 0h2.0m1.2 0h0.8m127.1 0h1.2m43.5 0h0.8m37.7 0h1.5m-429.6 23.03h1.0m183.5 0h1.0m0.2 46.06h1.0m-512.5 23.03h1.0m50.3 0h0.8m17.6 0h2.0m337.4 0h2.5m24.8 0h1.2m87.6 0h2.0m88.2 0h0.7m44.6 0h1.0m4.5 0h1.2m-578.2 23.03h1.5m6.4 0h0.8m16.5 0h2.5m127.9 0h1.5m278.0 0h2.0m46.0 0h1.8m148.8 0h1.2m-455.4 69.09h1.0m135.7 0h1.5m9.8 0h2.0m61.1 0h1.5m9.5 0h1.5m65.6 0h1.2m49.8 0h1.5m50.7 0h1.2m-637.7 92.12h1.0m88.4 0h2.0m355.2 0h2.5m31.9 0h2.5m93.4 0h1.0m-545.0 46.06h1.2m3.8 46.06h0.2m76.1 0h2.5m15.4 0h2.0m217.9 0h0.8m187.1 0h2.0m172.7 0h0.8m-642.0 23.03h1.5m227.7 0h1.2m295.7 0h1.5m-571.5 46.06h1.5m78.7 0h1.2m69.7 0h0.8m95.9 0h1.2m29.9 0h2.5m6.7 0h2.5m12.1 0h2.5m29.2 0h1.5m4.8 0h2.5m187.9 0h1.5"/>
<path stroke="#1a001a" stroke-opacity="0.45" d="M205.1 1601.01h0.8m87.5 0h2.5m139.1 0h2.0m13.2 0h1.3m234.3 0h2.0m130.3 0h1.0m31.3 0h1.2m-649.7 23.03h1.0m415.2 0h1.5m-408.0 23.03h2.5m90.0 0h2.0m74.3 0h1.5m309.0 0h1.2m14.0 0h1.0m175.0 0h0.8m8.0 0h1.0m-690.6 23.03h1.5m181.9 0h1.0m286.0 0h1.2m13.7 0h2.0m77.2 0h1.2m67.1 0h1.0m-695.7 23.03h1.5m49.8 0h1.5m439.9 0h1.2m96.1 0h2.5m32.2 0h1.0m63.5 0h2.5m112.6 0h1.1m-725.8 23.03h2.5m302.4 0h1.5m55.8 0h2.0m196.8 0h2.5m55.9 0h2.0m-579.2 46.06h1.5m32.5 0h1.0m126.0 0h1.5m36.9 0h1.5m238.7 0h2.5m71.7 0h1.0m-52.7 46.06h1.0m14.6 0h2.5m-439.4 46.06h1.5m612.2 0h1.0m-656.8 23.03h1.2m148.3 0h1.0m266.9 0h0.8m30.0 0h1.0m22.9 0h0.7m-112.5 23.03h1.0m-342.7 23.03h1.5m415.1 0h1.0m12.7 0h1.0m18.8 0h1.0m2.4 0h0.7m-569.4 92.12h1.5m189.3 0h1.5m115.3 0h1.5m268.7 0h0.8m53.4 0h2.0m140.5 0h1.0m-637.9 46.06h2.5m287.0 0h1.0m4.5 0h1.5m38.7 0h1.2m66.8 0h3.3m1.5 0h2.0m222.9 0h1.2m2.3 0h1.0m-823.0 23.03h1.5m365.3 0h1.5m103.4 0h2.0m16.7 0h2.5m42.3 0h1.5m60.0 0h1.0m227.4 0h1.5m-682.4 23.03h1.0m295.9 0h0.7m145.3 0h2.0m38.5 0h2.5m183.6 0h1.0m-568.5 69.09h1.0m26.5 0h1.5m162.0 0h1.5m62.7 0h2.5m41.6 0h1.5m66.5 0h1.5m155.2 0h2.0m-740.2 92.12h2.5m58.4 0h1.5m10.4 0h1.5m546.9 0h1.5m39.6 0h2.0m-580.0 46.06h1.5m-118.8 46.06h0.8m206.4 0h2.0m561.6 0h2.0m37.7 0h1.5m8.1 0h2.5m-463.5 23.03h2.5m148.4 0h1.0m98.2 0h1.5m-504.5 46.06h2.5m29.8 0h1.5m6.3 0h1.2m99.5 0h2.5m46.8 0h1.0m82.5 0h1.5m124.6 0h2.5m20.7 0h1.5m25.9 0h1.2m84.8 0h1.2m4.5 0h1.0m169.8 0h1.2"/>
<path stroke="#1a001a" stroke-opacity="0.7" d="M895.2 1554.95h1.0m-684.0 46.06h1.0m6.5 0h2.5m26.7 0h1.5m279.9 0h1.0m186.5 0h1.2m177.2 0h1.2m-449.5 23.03h1.5m160.5 0h2.5m32.2 0h1.0m100.7 0h1.0m-507.9 23.03h3.0m422.9 0h1.0m60.4 0h1.5m131.0 0h0.3m-724.3 23.03h1.0m24.5 0h2.5m417.4 0h0.8m63.3 0h1.2m92.6 0h1.0m8.7 0h2.0m-613.8 23.03h1.0m702.0 0h0.8m43.8 0h1.0m-402.7 23.03h1.5m145.3 0h2.5m97.2 0h1.5m59.6 0h2.5m59.4 0h0.8m-155.2 46.06h1.0m243.4 46.06h1.0m-242.7 46.06h2.5m3.0 0h1.5m34.9 0h0.8m120.4 0h1.5m-703.2 23.03h1.0m16.3 0h2.5m13.4 0h1.5m407.2 0h1.5m114.3 0h1.0m-102.1 23.03h1.2m168.2 92.12h1.0m-583.8 23.03h1.0m86.9 0h1.5m32.0 0h1.0m500.0 0h1.0m-201.3 46.06h1.2m242.6 0h0.8m-608.4 23.03h1.2m128.0 0h0.8m119.2 0h1.5m61.4 0h0.8m5.5 0h1.5m6.0 0h2.5m2.5 0h1.0m7.2 0h2.5m37.8 0h2.5m100.6 0h2.0m72.7 0h2.5m-701.7 23.03h1.5m62.8 0h1.2m568.7 0h1.2m-575.2 69.09h1.5m316.3 0h2.5m133.8 0h1.0m56.8 0h1.0m-544.4 92.12h1.5m438.2 0h0.8m52.5 0h2.5m41.2 0h1.5m69.6 0h2.5m174.7 0h2.5m-531.8 92.12h0.8m21.5 0h0.8m122.4 0h0.8m169.0 0h0.8m-127.1 23.03h1.5m57.6 0h0.3m260.6 0h1.5m-239.5 46.06h1.0m236.9 0h1.5"/>
<path stroke="#1a001a" d="M207.9 1601.01h0.8m15.8 0h2.5m255.7 0h0.8m328.8 0h1.2m33.6 0h1.5m34.8 0h1.8m-664.8 23.03h0.8m-1.0 23.03h1.5m61.6 0h1.5m26.9 0h1.5m347.1 0h1.2m178.0 0h1.0m26.3 0h1.0m-597.2 23.03h1.0m519.2 0h2.5m-587.5 23.03h1.0m199.3 0h0.8m178.7 0h2.0m92.8 0h1.0m255.7 0h1.0m-733.8 23.03h1.0m24.3 0h2.0m1.0 0h2.0m207.7 0h1.0m70.1 0h2.0m83.2 0h1.5m13.0 0h0.8m8.5 0h1.0m117.4 0h2.5m183.0 0h1.5m-663.1 46.06h1.2m265.7 0h1.0m12.9 0h1.2m395.8 0h1.0m-156.5 46.06h2.5m-472.7 46.06h1.0m429.8 0h1.2m97.9 0h1.5m32.2 0h1.0m-721.6 23.03h1.5m99.5 0h1.0m23.9 0h1.0m94.1 0h0.8m10.5 0h1.0m162.4 0h1.3m27.9 0h2.0m1.0 0h2.5m6.7 0h0.8m14.5 0h1.5m43.1 0h0.8m1.8 0h3.5m160.2 0h1.5m6.0 0h1.5m34.6 0h1.5m-699.6 23.03h1.5m289.8 0h1.0m184.4 0h1.5m25.0 0h2.0m89.2 0h2.0m45.1 0h1.5m-221.7 23.03h0.8m78.1 69.09h1.2m167.0 0h1.5m9.0 0h1.5m5.8 0h2.0m-726.3 23.03h1.2m65.0 0h2.5m94.7 0h1.0m79.1 0h1.0m200.4 0h0.8m71.3 0h1.0m9.8 0h1.0m7.3 0h2.0m69.7 0h2.5m87.1 0h1.0m-253.5 46.06h1.0m-336.7 23.03h1.5m2.0 0h1.5m25.3 0h1.2m66.1 0h2.5m18.7 0h1.5m5.7 0h1.0m57.0 0h1.0m135.7 0h1.0m61.7 0h2.5m6.0 0h0.8m13.8 0h1.2m40.6 0h2.0m128.2 0h0.8m17.5 0h1.5m13.7 0h1.2m19.1 0h1.5m5.8 0h1.0m-675.5 23.03h1.0m37.4 0h0.8m552.4 0h2.0m32.2 23.03h1.0m-720.6 46.06h1.0m397.3 0h2.0m18.9 0h0.8m61.7 0h2.5m40.9 0h2.0m70.1 0h1.5m8.5 0h0.8m16.8 0h0.8m73.7 0h1.5m121.2 0h1.5m-722.5 92.12h2.0m348.9 0h2.5m112.3 0h1.2m71.2 0h0.8m76.3 0h2.0m24.1 0h1.5m87.7 0h2.1m-714.8 46.06h1.5m153.1 46.06h0.8m15.2 0h1.5m55.5 0h1.5m437.6 0h1.0m-668.2 23.03h0.2m225.4 0h2.5m124.8 0h1.0m-345.7 46.06h0.8m33.6 0h2.0m223.4 0h2.0m12.8 0h1.5m91.3 0h1.0m228.2 0h1.0m40.6 0h1.2"/>
<path stroke="#0d000d" stroke-opacity="0.45" d="M329.0 1554.95h1.5m285.4 46.06h1.2m211.5 0h1.2m100.1 23.03h0.8m-661.7 23.03h1.5m166.1 0h1.2m219.2 0h1.0m47.1 0h1.0m15.6 0h1.5m134.0 0h1.0m15.9 0h2.5m-750.8 23.03h1.5m59.7 0h0.8m141.8 0h2.5m260.8 0h1.5m-466.5 23.03h1.0m40.8 0h0.8m80.7 0h1.0m462.9 0h2.0m58.8 0h2.0m153.8 0h1.5m-715.1 23.03h0.8m12.8 0h1.0m94.8 0h1.0m367.1 0h1.5m66.2 0h1.0m-646.9 46.06h1.5m10.7 0h1.0m2.5 0h0.8m75.2 0h1.0m23.5 0h1.2m0.8 0h0.8m700.0 0h2.5m-374.1 46.06h2.5m8.1 0h1.8m65.7 0h1.0m207.2 0h2.5m57.0 0h2.5m-483.2 46.06h2.0m277.1 0h0.8m-595.3 23.03h1.2m155.5 0h0.8m152.7 0h1.2m115.4 0h2.5m137.6 0h1.5m30.2 0h1.0m93.8 0h0.8m66.1 0h2.0m-738.1 23.03h2.5m442.6 0h2.5m255.0 0h1.5m-576.7 23.03h1.5m2.0 0h2.0m126.6 0h2.0m46.6 0h1.0m152.7 0h0.8m21.1 0h1.0m8.3 0h0.8m18.8 69.09h2.0m222.5 0h1.5m-699.4 23.03h1.5m366.3 0h2.5m21.1 0h1.2m74.6 0h1.5m125.7 0h1.5m169.0 0h1.2m-408.0 46.06h1.0m45.5 0h1.0m27.0 0h1.5m183.2 0h2.5m30.7 0h2.0m-681.5 23.03h1.0m118.7 0h1.5m31.7 0h1.0m119.5 0h1.5m5.2 0h1.0m93.8 0h1.0m94.6 0h0.8m9.0 0h1.5m3.8 0h0.8m13.2 0h1.8m288.1 0h0.8m-740.8 23.03h1.0m39.9 0h1.5m586.5 0h1.0m3.5 0h1.0m97.0 0h2.5m-270.2 23.03h2.0m-554.0 46.06h1.0m14.0 0h1.0m16.4 0h1.2m35.9 0h1.5m286.2 0h0.8m178.8 0h1.5m57.7 0h1.0m-597.0 92.12h1.5m102.5 0h1.0m16.2 0h1.5m13.0 0h0.8m12.9 0h0.8m415.6 0h0.8m165.6 0h0.8m-707.5 46.06h1.0m116.9 0h2.0m241.4 46.06h2.5m124.7 0h1.2m37.0 0h1.2m-120.3 23.03h1.2m28.2 0h0.8m180.6 0h1.2m-568.3 46.06h1.5m1.8 0h2.0m161.4 0h1.2m257.1 0h2.0m74.7 0h0.8m205.7 0h1.2"/>
<path stroke="#0d000d" stroke-opacity="0.7" d="M497.3 1554.95h1.5m216.9 0h2.0m156.2 0h1.0m4.7 0h2.5m28.8 0h2.5m-564.1 46.06h2.5m107.1 0h1.0m102.7 0h1.5m36.8 0h2.0m2.3 0h1.0m246.4 0h2.0m-333.2 23.03h1.5m274.5 0h1.5m-375.6 23.03h1.2m483.1 0h1.2m1.0 0h1.5m-733.6 23.03h1.5m17.8 0h0.8m67.4 0h1.0m37.1 0h1.0m101.1 0h1.5m146.4 0h2.5m54.8 0h2.5m7.5 0h0.8m15.8 0h1.5m12.2 0h2.0m93.8 0h1.5m32.7 0h2.0m23.1 0h1.2m-634.4 23.03h2.0m124.6 0h1.0m112.4 0h2.0m130.8 0h2.5m208.5 0h2.5m9.3 0h2.0m26.9 0h2.0m13.0 0h1.5m42.4 0h2.0m-358.7 23.03h1.5m238.0 0h2.0m178.7 0h2.5m-756.5 46.06h2.0m2.0 0h2.5m29.7 0h2.5m48.7 0h2.5m3.0 0h2.5m443.6 0h1.0m12.2 46.06h1.0m-556.4 69.09h1.0m68.7 0h1.2m33.4 0h1.0m27.1 0h1.0m271.2 0h1.0m69.2 0h2.5m98.2 0h1.2m-158.6 23.03h1.5m55.1 0h1.0m-67.7 23.03h0.8m11.8 0h0.8m4.7 0h1.5m5.0 0h0.8m177.8 0h1.5m140.5 0h0.9m-747.6 92.12h1.5m24.6 0h0.8m58.5 0h1.5m111.1 0h1.0m64.9 0h1.5m27.2 0h1.2m60.9 0h2.5m91.4 0h1.2m41.7 0h1.5m42.9 0h2.5m108.2 0h2.0m-469.4 46.06h1.0m155.5 0h1.5m56.4 0h1.0m82.7 0h1.5m52.2 0h1.5m133.5 0h1.5m91.9 0h2.5m-762.9 23.03h1.5m119.9 0h1.0m14.3 0h2.5m310.7 0h0.8m7.1 0h2.0m115.7 0h0.8m87.4 0h2.5m13.7 0h1.5m-729.2 23.03h0.8m28.4 0h2.5m10.1 0h2.5m564.3 0h2.0m-533.1 69.09h2.0m355.7 0h1.2m11.3 0h1.0m63.2 0h1.2m26.2 0h1.2m44.7 0h0.8m-569.8 92.12h2.5m1.0 0h2.5m58.7 0h0.8m54.8 0h1.0m318.3 0h1.5m27.0 0h1.5m-493.8 46.06h0.8m34.3 0h1.5m-37.1 46.06h2.5m52.6 0h1.5m217.1 0h1.5m41.6 0h1.0m92.4 0h0.8m135.8 0h1.5m185.3 0h1.0m-578.3 23.03h1.5m201.6 0h1.2m51.5 0h2.7m22.1 0h1.0m82.2 0h1.5m93.6 0h1.5m9.1 0h1.0m29.4 0h1.2m22.8 0h1.0m-669.7 46.06h2.5m116.3 0h2.5m51.0 0h1.2m158.4 0h2.0m20.7 0h1.2m31.7 0h0.8m18.7 0h1.5m51.8 0h1.5"/>
<path stroke="#0d000d" d="M360.5 1601.01h1.0m119.6 0h0.8m94.6 0h1.5m109.8 0h1.0m13.5 0h1.5m123.6 0h1.2m85.4 0h1.5m-452.6 23.03h1.0m35.9 0h2.5m110.1 0h1.5m149.9 0h1.5m1.5 0h1.5m-490.0 23.03h1.2m113.4 0h1.5m319.2 0h1.5m91.9 0h1.0m5.7 0h1.5m-588.4 23.03h2.5m78.5 0h1.0m66.5 0h1.2m115.1 0h1.5m80.3 0h1.0m127.9 0h2.0m124.0 0h0.8m109.9 0h1.0m-821.8 23.03h1.0m34.7 0h1.5m9.3 0h1.0m98.5 0h1.0m457.9 0h1.5m84.9 0h2.0m33.5 0h1.2m64.9 0h1.5m-705.4 23.03h1.2m170.7 0h1.2m86.5 0h1.2m64.0 0h1.2m27.3 0h1.0m8.2 0h1.5m71.5 0h1.5m106.6 0h1.5m65.7 0h2.0m2.0 0h1.2m34.3 0h1.9m26.0 0h1.5m-710.1 46.06h2.5m57.1 0h1.0m4.0 0h1.5m133.8 0h1.2m26.2 0h2.5m110.2 0h1.8m140.8 0h3.0m80.2 0h1.2m19.3 0h2.0m143.6 0h0.8m-569.3 46.06h1.0m47.9 0h1.0m315.2 0h2.5m8.2 0h0.8m112.5 0h1.5m91.1 0h0.8m-567.4 46.06h3.7m2.5 0h1.0m19.2 0h1.0m164.9 0h1.5m204.0 0h2.0m126.4 0h1.0m2.8 0h2.5m46.1 0h0.8m-824.6 23.03h1.2m127.5 0h1.2m11.3 0h1.2m194.7 0h1.5m91.8 0h0.8m34.0 0h1.0m15.2 0h1.5m100.9 0h1.5m24.7 0h2.5m80.8 0h1.5m21.8 0h2.0m112.8 0h1.0m-395.5 23.03h1.0m43.8 0h1.5m-365.5 23.03h3.2m6.0 0h1.5m300.3 0h0.8m95.9 0h1.2m-70.2 69.09h1.5m-259.1 23.03h1.0m26.7 0h0.8m43.2 0h2.5m235.6 0h1.0m19.7 0h1.0m54.1 0h2.0m77.3 0h1.0m42.7 0h1.0m10.5 0h1.0m27.7 0h1.0m30.9 0h1.2m43.3 0h0.8m-294.3 46.06h2.5m4.6 0h1.0m98.9 0h1.5m6.3 0h1.0m-539.2 23.03h1.2m200.6 0h0.8m87.5 0h1.5m82.5 0h1.5m135.3 0h1.0m186.2 0h1.2m17.4 0h1.0m-812.5 23.03h0.8m333.8 0h1.2m204.2 0h1.0m10.6 23.03h2.0m56.2 0h0.3m-617.9 46.06h2.0m67.5 0h0.8m327.7 0h0.8m89.1 0h1.2m54.7 0h1.0m4.7 0h2.0m74.9 0h2.5m14.1 0h1.0m1.0 0h1.5m-647.7 92.12h1.0m505.1 0h1.5m125.7 0h2.0m28.3 0h2.0m161.4 0h1.0m-250.6 23.03h2.5m-492.9 23.03h1.5m734.6 0h2.5m-780.8 46.06h2.0m153.4 0h1.5m2.0 0h1.2m57.0 0h2.0m124.2 0h2.5m7.0 0h2.5m22.3 0h2.5m28.2 0h1.0m104.0 0h1.0m42.1 0h1.2m160.5 0h1.0m-628.7 23.03h1.5m258.2 0h1.0m42.6 0h2.0m30.6 0h1.0m11.8 0h1.5m72.8 0h1.0m22.2 0h1.5m-534.1 46.06h1.2m167.8 0h2.5m318.4 0h1.6m7.0 0h2.5m15.1 0h1.2m109.0 0h2.5"/>
<path stroke="#000000" stroke-opacity="0.45" d="M455.1 1554.95h2.0m-253.0 46.06h1.0m13.6 0h1.0m2.5 0h0.8m87.6 0h2.0m58.2 0h1.5m15.1 0h1.0m24.5 0h1.0m122.5 0h1.5m94.8 0h2.0m37.1 0h2.0m192.1 0h1.5m-193.8 23.03h2.0m60.4 0h2.0m21.3 0h1.5m26.0 0h1.2m-87.9 23.03h2.5m110.1 0h1.0m37.0 0h1.0m85.6 0h2.0m-810.8 23.03h1.0m68.3 0h1.5m66.9 0h2.5m6.5 0h1.2m116.1 0h1.0m181.7 23.03h1.0m57.1 0h0.8m146.6 0h1.5m5.3 0h1.0m48.9 0h2.0m-636.1 23.03h1.2m7.2 0h0.8m381.5 0h0.8m5.5 0h1.0m25.8 0h2.0m62.6 0h2.0m-294.2 46.06h1.2m108.7 0h2.0m197.5 0h2.5m-487.1 46.06h1.5m30.4 0h2.0m319.1 0h3.0m117.5 0h1.5m-123.1 46.06h1.5m43.8 0h1.5m207.9 0h1.0m30.5 0h0.8m21.4 0h0.8m-665.0 23.03h2.5m425.2 0h1.5m53.4 0h1.5m-150.0 23.03h1.5m68.7 0h1.5m14.0 0h1.0m142.4 0h0.8m-213.1 23.03h1.5m67.0 0h2.5m132.9 0h1.0m-295.2 69.09h2.5m124.3 0h1.5m28.6 0h1.0m34.3 0h2.5m140.9 0h0.8m-602.7 23.03h1.0m37.7 0h1.0m79.9 0h0.8m279.7 0h1.0m217.0 0h2.0m-402.9 46.06h0.8m318.5 0h1.5m64.8 0h1.0m-683.8 23.03h0.8m120.7 0h2.5m69.1 0h1.0m257.1 0h1.0m137.2 0h0.8m183.0 0h2.0m3.5 0h1.0m-772.5 23.03h1.5m322.4 0h1.0m11.0 0h0.8m74.7 0h2.0m357.5 0h1.5m-313.2 23.03h1.0m49.2 0h1.5m-495.5 46.06h0.8m16.6 0h1.5m306.5 0h2.5m96.7 0h2.5m26.0 0h1.2m82.5 0h1.5m55.8 0h1.0m83.0 0h1.0m105.1 0h2.5m-822.8 92.12h2.0m43.8 0h1.2m29.4 0h1.5m7.8 0h1.2m365.9 0h0.8m17.4 0h2.5m30.7 0h1.0m111.6 0h2.5m52.9 0h1.0m-684.2 46.06h2.0m143.5 0h1.0m488.8 0h2.0m-459.8 46.06h2.5m522.8 0h2.0m22.6 0h1.0m-633.4 23.03h1.0m500.9 0h3.5m38.1 0h0.8m-380.7 46.06h1.0m72.3 0h1.0m81.1 0h2.0m66.0 0h2.0m39.9 0h1.0m13.1 0h1.0m53.5 0h1.0m108.5 0h0.8m2.0 0h0.8"/>
<path stroke="#000000" stroke-opacity="0.7" d="M405.1 1554.95h1.0m40.0 0h1.5m84.5 0h2.5m43.8 0h2.5m-323.8 46.06h1.2m37.6 0h1.2m298.2 0h1.2m306.0 0h1.5m-787.6 23.03h3.0m518.9 0h1.5m-403.7 23.03h2.5m7.3 0h2.0m47.7 0h1.5m5.5 0h1.5m533.0 0h2.5m53.3 0h1.0m6.2 0h2.5m28.4 0h1.5m9.3 0h1.2m-810.0 23.03h1.2m8.0 0h2.2m27.9 0h2.0m163.5 0h2.5m119.3 0h1.5m155.5 0h1.0m76.2 0h1.0m48.7 0h1.0m73.5 0h1.0m10.1 0h1.5m107.6 0h0.8m-400.4 23.03h1.5m87.0 0h2.5m107.2 0h2.0m12.9 0h1.2m94.5 0h2.5m-636.2 23.03h1.0m391.1 0h1.5m221.8 0h1.5m50.9 0h0.8m52.5 0h2.0m-792.3 46.06h2.0m39.9 0h1.5m305.2 0h2.0m313.6 0h0.8m-610.8 46.06h2.5m546.2 0h2.5m-349.7 46.06h1.0m58.1 0h1.5m31.8 0h1.2m274.2 0h0.8m-581.8 23.03h2.0m53.1 0h1.0m91.0 0h0.8m33.8 0h2.5m68.4 0h2.0m217.2 0h0.8m8.2 0h0.8m24.4 0h1.0m123.8 23.03h2.5m81.1 0h1.0m-333.1 23.03h1.2m41.4 0h2.5m98.0 0h2.0m39.1 0h2.0m4.0 0h1.0m-272.2 92.12h1.0m367.5 0h1.0m20.6 0h1.5m23.5 0h1.0m31.8 0h1.5m-475.4 46.06h1.5m116.8 0h1.0m212.2 0h1.5m73.0 0h1.5m-628.4 23.03h2.0m365.7 0h0.8m70.6 0h2.0m42.4 0h0.8m47.2 0h1.0m147.6 0h1.0m-421.8 23.03h1.0m218.9 0h1.5m83.7 0h2.0m20.6 0h1.5m-101.1 23.03h2.0m-543.3 46.06h1.5m75.4 0h1.5m6.8 0h1.5m584.9 0h0.4m75.2 0h1.5m-818.0 92.12h1.5m13.9 0h0.8m511.8 0h1.5m3.0 0h2.5m150.3 0h2.0m50.5 0h2.5m74.2 0h2.0m-763.8 46.06h1.5m9.8 0h1.0m57.5 0h1.2m-114.9 46.06h0.8m231.0 0h0.8m206.0 0h1.0m27.3 0h2.5m121.3 0h2.0m115.9 0h1.0m-600.2 23.03h0.8m370.5 0h2.0m27.1 0h2.0m83.1 0h1.5m34.5 0h2.0m176.6 0h1.5m-417.7 46.06h1.5m12.9 0h0.8m71.6 0h2.5m18.3 0h1.0m34.4 0h1.5m261.7 0h1.5"/>
<path stroke="#000000" d="M688.4 1554.95h2.5m60.4 0h1.5m116.6 0h2.5m-644.9 46.06h1.2m116.6 0h1.0m44.1 0h0.8m36.0 0h1.5m157.8 0h0.8m291.9 0h3.5m-634.3 23.03h1.0m63.8 0h1.0m255.5 0h2.5m-172.3 23.03h2.5m138.5 0h1.0m307.3 0h1.2m-631.1 23.03h1.5m93.7 0h1.0m121.8 0h1.5m157.6 0h2.5m4.0 0h1.0m194.0 0h0.8m-649.8 23.03h1.5m43.5 0h1.5m1.5 0h1.0m0.8 0h1.2m33.0 0h1.2m95.1 0h2.0m307.4 0h2.0m103.7 0h1.2m15.6 0h2.0m58.8 0h1.0m-598.4 23.03h1.5m35.6 0h0.8m11.0 0h1.2m185.1 0h0.8m17.7 0h1.0m114.6 0h0.8m-482.3 46.06h2.5m83.2 0h4.5m44.1 0h2.5m231.6 0h2.0m-291.2 46.06h1.5m37.9 0h1.0m42.6 0h0.8m4.3 0h1.5m319.1 0h1.0m38.1 0h1.2m28.3 23.03h2.5m41.0 0h2.5m-256.1 23.03h1.2m153.0 0h1.0m111.1 0h1.2m164.8 0h1.0m22.7 0h1.5m-799.8 23.03h2.0m161.6 0h1.0m117.9 0h0.8m309.9 0h1.5m114.3 0h2.0m20.8 0h2.0m16.3 0h1.0m-756.7 23.03h1.2m669.8 0h1.2m-216.3 23.03h1.2m10.8 0h1.0m48.4 0h2.0m12.8 0h1.0m7.5 0h1.2m87.3 0h2.0m151.0 0h1.2m-179.4 46.06h1.2m-30.7 23.03h2.5m94.4 0h2.0m75.0 0h1.0m-652.3 23.03h1.0m19.5 0h2.5m30.6 0h2.0m78.2 0h2.5m31.7 0h1.5m246.3 0h0.8m7.3 0h0.8m20.8 0h1.0m82.3 0h1.5m92.6 0h1.2m6.0 0h2.5m101.9 0h1.2m-321.1 46.06h2.0m33.2 0h1.5m44.5 0h1.0m64.4 0h1.0m-571.8 23.03h2.5m37.8 0h2.0m125.0 0h1.0m13.8 0h1.2m97.6 0h1.5m24.9 0h2.5m39.7 0h1.2m44.6 0h1.0m173.0 0h1.5m35.1 0h2.0m7.1 0h2.5m30.3 0h2.5m48.2 0h1.5m-228.4 23.03h0.8m135.0 0h0.8m24.1 0h2.0m5.0 0h0.8m44.9 0h2.5m-756.1 69.09h2.0m117.9 0h1.5m17.5 0h0.8m446.2 0h1.5m140.2 0h1.5m-719.2 92.12h1.0m11.3 0h1.0m63.1 0h1.5m348.9 0h2.0m53.5 0h1.0m18.1 0h2.5m2.5 0h1.0m7.0 0h0.6m157.7 0h2.5m-86.9 23.03h1.0m-586.6 23.03h1.0m621.8 0h1.2m-636.2 46.06h2.5m153.1 0h0.8m79.4 0h1.5m36.5 0h1.5m22.1 0h1.0m43.6 0h1.5m353.9 0h2.0m69.8 0h2.0m-416.3 23.03h1.5m14.2 0h1.0m74.2 0h1.0m137.0 0h1.5m205.1 0h1.2m-280.3 46.06h1.5m81.1 0h2.5m94.4 0h1.0m5.9 0h2.0m14.4 0h2.5m28.0 0h2.0"/>
<path stroke="#0d0d00" stroke-opacity="0.45" d="M330.5 1554.95h2.0m-74.2 46.06h1.0m127.3 0h0.8m431.7 0h1.0m70.9 0h1.2m-628.7 23.03h0.8m33.8 0h1.0m282.6 0h2.5m24.7 0h1.0m21.9 0h2.5m109.7 0h1.5m-526.4 23.03h1.2m186.8 0h1.0m208.8 0h1.0m-357.9 23.03h1.0m510.7 0h2.5m40.1 0h1.2m-682.4 23.03h2.5m26.6 0h2.5m475.4 0h1.2m124.8 0h1.5m-558.0 23.03h0.8m67.0 0h2.5m292.1 0h2.0m74.2 0h1.0m60.3 0h2.5m221.5 0h1.2m-815.8 46.06h1.0m658.2 0h0.8m8.6 0h2.5m37.7 0h2.5m11.7 0h1.0m-659.6 46.06h1.5m674.5 0h0.1m-133.3 23.03h0.8m92.0 0h0.8m-404.1 23.03h1.0m18.8 0h2.0m149.7 0h2.0m268.2 0h1.2m-738.3 23.03h3.0m86.1 0h2.5m187.2 0h2.0m136.5 0h1.5m61.8 0h1.5m17.5 0h2.5m68.3 0h1.5m54.5 0h0.8m110.4 23.03h1.6m-685.5 23.03h1.2m33.8 0h1.5m388.9 0h1.2m22.9 0h1.0m-20.5 69.09h0.8m36.6 0h1.5m195.8 0h2.0m-592.3 23.03h2.5m18.4 0h1.0m148.1 0h1.0m79.6 0h1.0m50.9 0h3.5m260.4 0h0.8m7.8 0h1.5m37.5 0h1.0m16.5 0h1.2m-420.8 46.06h2.0m144.5 0h1.5m3.8 0h1.5m124.9 0h1.0m-568.0 23.03h2.5m31.1 0h1.2m41.1 0h1.5m362.5 0h2.5m2.0 0h2.0m22.0 0h1.5m175.5 0h1.5m66.8 0h1.5m-728.7 23.03h2.0m61.1 0h1.5m21.6 0h1.2m493.1 0h2.0m69.8 0h1.0m-201.7 23.03h1.5m19.7 0h0.8m254.5 0h0.8m-657.8 46.06h0.8m385.2 0h1.5m16.7 0h1.0m42.4 0h1.5m80.5 0h1.0m-574.1 92.12h1.5m12.0 0h2.0m376.4 0h0.8m17.6 0h1.2m16.6 0h1.0m136.4 0h0.8m-573.5 46.06h1.5m17.4 0h1.5m440.6 0h2.5m-313.8 46.06h1.0m57.8 0h2.5m30.0 0h0.8m148.2 0h1.0m300.0 0h2.0m57.8 0h0.8m-454.2 23.03h1.0m53.3 0h1.5m2.2 0h0.8m-379.3 46.06h2.5m98.4 0h0.8m188.8 0h1.0m85.9 0h1.0m5.1 0h2.0m56.7 0h0.8m27.8 0h1.0m87.8 0h3.5m99.9 0h1.0"/>
<path stroke="#0d0d00" stroke-opacity="0.7" d="M505.0 1554.95h1.5m-293.3 46.06h0.8m116.5 0h2.5m212.7 0h1.5m2.0 0h0.8m95.3 0h1.2m43.8 0h1.0m149.8 0h2.0m-151.4 23.03h1.5m110.3 0h2.5m-474.9 23.03h1.0m127.2 0h2.0m24.0 0h1.0m-253.5 23.03h1.5m78.7 0h1.0m14.8 0h0.8m553.1 0h1.0m22.2 0h0.8m34.5 0h1.0m-823.0 23.03h0.8m102.2 0h0.8m19.8 0h1.2m357.0 0h2.5m22.4 0h1.2m18.7 0h0.8m172.8 0h2.0m-599.9 23.03h1.5m297.4 0h1.5m-373.3 46.06h1.0m8.0 0h2.0m28.4 0h0.8m178.8 0h1.5m76.9 0h1.0m89.6 0h1.0m298.2 0h0.8m-694.0 46.06h0.8m15.2 0h2.5m103.7 0h2.5m98.4 0h1.0m195.0 0h2.5m34.5 0h1.0m99.7 0h1.2m56.0 0h2.5m168.0 0h1.0m-209.3 23.03h1.0m93.8 0h2.0m5.3 0h1.0m-226.1 23.03h1.2m0.8 0h1.5m38.6 0h1.0m126.7 0h2.5m0.8 0h1.5m142.3 0h1.5m22.7 0h1.2m-797.3 23.03h0.8m98.6 0h2.0m21.9 0h0.8m149.4 0h1.5m208.7 0h2.5m95.8 0h1.5m130.8 0h2.5m-660.8 46.06h1.5m64.0 0h1.5m296.9 0h0.8m12.4 0h0.8m42.1 0h0.8m101.9 0h0.8m45.8 0h1.5m-38.2 46.06h1.0m-66.5 23.03h1.2m94.6 0h0.8m1.5 0h1.2m61.3 0h2.5m-646.4 23.03h1.5m213.6 0h0.8m34.0 0h1.0m147.0 0h1.2m176.6 0h2.0m114.9 0h0.8m2.5 0h1.0m-248.2 46.06h2.5m97.9 0h1.0m59.5 0h2.5m71.0 0h1.5m-405.5 23.03h2.0m111.3 0h1.0m146.2 0h2.5m13.4 0h1.5m195.3 0h1.2m-808.7 23.03h2.0m83.5 0h0.8m333.9 0h0.8m172.1 0h1.0m93.9 0h2.0m4.2 0h1.0m18.7 0h2.5m-147.7 23.03h1.2m110.8 0h1.0m-680.8 46.06h1.0m13.9 0h1.5m595.0 0h2.5m197.6 0h1.0m-809.5 92.12h1.2m28.1 0h1.0m17.6 0h1.5m92.4 0h1.5m574.5 0h2.5m82.2 0h1.0m-800.2 46.06h0.8m7.2 0h1.0m780.2 0h1.5m-737.6 46.06h1.5m103.1 0h0.8m82.4 0h1.0m35.8 0h1.2m26.8 0h1.5m21.4 0h1.0m208.0 0h1.5m34.5 0h1.2m66.5 0h0.8m56.3 0h1.2m-535.5 23.03h2.0m257.7 0h0.7m219.4 0h1.2m20.5 0h1.0m89.3 0h1.0m-587.4 46.06h2.5m95.1 0h1.2m37.0 0h1.0m18.3 0h0.8m4.7 0h2.0m226.6 0h2.0m110.3 0h1.0m64.4 0h2.5"/>
<path stroke="#0d0d00" d="M458.3 1554.95h0.8m22.4 0h2.5m-37.5 46.06h2.5m138.6 0h1.5m36.3 0h1.0m255.8 0h1.2m-759.7 23.03h2.0m61.6 0h0.8m187.6 0h2.5m206.8 0h1.0m155.5 0h2.5m-453.9 23.03h1.0m314.0 0h1.0m82.8 0h2.0m126.3 0h1.5m108.8 0h2.0m-797.5 23.03h1.0m70.8 0h1.2m4.5 0h2.0m22.8 0h2.0m133.5 0h1.0m196.8 0h1.5m29.3 0h2.5m17.7 0h0.8m12.3 0h1.5m143.7 0h2.5m-628.0 23.03h2.5m55.0 0h3.0m265.7 0h1.5m112.8 0h1.0m101.7 0h1.5m14.0 0h1.5m95.4 0h2.5m6.1 0h2.0m5.8 0h1.0m99.8 0h2.5m-712.1 23.03h2.0m47.2 0h1.5m43.1 0h2.5m13.6 0h1.5m283.7 0h2.5m6.6 0h1.2m115.9 0h1.5m21.4 0h2.5m79.9 0h2.5m32.5 0h1.5m-607.9 46.06h1.2m167.9 0h1.2m325.0 0h1.0m23.9 0h1.0m27.9 0h2.5m-686.2 46.06h1.2m9.8 0h1.5m23.2 0h1.0m456.4 0h1.5m18.8 0h4.0m29.1 0h1.5m83.7 0h0.8m126.6 0h1.5m-187.2 23.03h2.0m139.2 0h2.5m-314.7 23.03h2.5m104.9 0h1.0m14.4 0h1.0m23.4 0h1.2m188.0 0h1.5m-599.2 23.03h1.5m233.5 0h2.0m37.5 0h0.8m8.9 0h2.5m166.3 0h1.0m159.8 0h0.8m7.4 0h1.5m-302.8 23.03h1.5m20.7 0h0.8m-45.5 23.03h1.5m31.3 0h2.0m137.9 69.09h1.0m-589.1 23.03h1.5m175.2 0h0.8m20.3 0h2.5m196.4 0h1.0m293.4 0h1.0m-415.1 46.06h1.0m7.3 0h1.0m36.4 0h1.0m68.5 0h2.5m7.7 0h1.0m164.3 0h1.5m87.9 0h1.2m20.0 0h1.0m71.5 0h2.5m-780.5 23.03h1.2m134.3 0h1.2m376.2 0h1.5m114.7 0h0.8m4.0 0h1.0m86.2 0h1.5m-724.9 23.03h1.0m39.5 0h1.2m62.7 0h1.5m31.8 0h2.5m423.4 0h1.5m28.1 0h1.0m101.0 0h2.5m42.5 0h1.5m24.8 0h1.0m24.5 0h1.0m-303.4 23.03h2.5m12.8 0h1.0m78.2 0h0.8m95.7 0h1.5m-673.0 46.06h1.5m12.7 0h0.8m23.2 0h1.5m57.2 0h1.0m20.7 0h2.5m327.0 0h2.0m20.7 0h0.8m29.4 0h1.0m61.6 0h1.0m40.2 0h1.5m85.5 0h1.5m-670.6 92.12h1.5m79.9 0h1.0m339.1 0h0.8m17.9 0h1.2m7.5 0h2.0m61.1 0h2.5m37.4 0h1.5m119.7 0h1.0m-659.3 46.06h0.8m6.0 0h1.0m26.5 46.06h2.5m99.5 0h1.0m40.3 0h0.8m44.8 0h1.0m5.6 0h1.5m58.9 0h1.5m145.0 0h1.0m160.5 0h1.5m64.7 0h2.5m11.9 0h0.8m-654.3 23.03h1.0m420.3 0h1.2m255.8 0h1.2m-754.0 46.06h1.5m311.1 0h0.8m201.5 0h1.2m155.8 0h1.3m25.6 0h1.0m69.5 0h0.8"/>
<path stroke="#1a1a00" stroke-opacity="0.45" d="M261.5 1601.01h2.5m72.5 0h1.0m24.8 0h0.8m11.5 0h2.0m61.9 0h1.0m432.6 0h0.8m39.1 0h1.0m-793.6 23.03h1.5m23.5 0h1.2m13.1 0h1.0m29.9 0h1.2m-7.0 23.03h1.2m5.4 0h2.0m128.7 0h1.5m275.0 0h1.5m186.9 0h2.0m67.7 0h1.5m15.9 0h1.0m-760.9 23.03h1.2m99.6 0h0.8m379.6 0h1.5m148.6 0h1.2m127.3 0h2.0m22.9 0h1.0m-640.2 23.03h2.5m139.0 23.03h0.8m360.4 0h2.0m51.2 0h1.0m-626.9 46.06h1.0m220.7 0h1.0m185.9 0h1.0m0.8 0h1.5m21.4 0h0.8m-503.3 46.06h2.0m42.0 0h0.8m67.0 0h1.5m178.3 0h2.0m151.0 0h0.8m283.1 0h2.0m-265.8 23.03h2.5m120.5 0h1.5m11.0 0h2.5m13.8 0h1.0m90.7 0h1.0m106.8 0h1.2m-663.9 23.03h2.5m234.0 0h0.8m-375.7 23.03h1.5m120.9 0h1.5m40.6 0h1.5m43.7 0h2.5m251.3 0h2.0m319.8 0h1.5m-726.2 23.03h0.6m636.0 0h2.5m17.7 0h1.0m-680.7 23.03h2.0m74.4 0h4.5m376.6 0h0.8m133.2 0h2.5m-430.9 92.12h0.8m67.8 0h1.5m123.5 0h2.0m59.7 0h1.0m1.8 0h1.2m330.3 0h1.5m-550.0 46.06h1.5m398.0 0h1.0m10.2 0h1.2m65.9 0h1.0m-631.8 23.03h1.5m25.2 0h2.5m348.9 0h0.8m54.9 23.03h1.5m14.0 0h2.0m-104.1 23.03h1.5m293.0 0h2.0m-750.2 46.06h1.5m19.6 0h1.0m43.9 0h1.5m35.0 0h1.0m499.0 0h1.5m201.5 0h2.0m-779.3 92.12h0.8m41.4 0h1.0m7.5 0h1.0m388.1 46.06h1.2m175.3 0h1.2m11.7 0h0.6m-473.8 46.06h1.5m32.0 0h1.0m47.3 0h2.0m13.8 0h1.2m301.0 0h1.0m-532.9 23.03h2.0m28.7 0h0.8m100.9 0h1.5m160.0 0h1.5m139.8 0h0.8m99.1 0h0.8m82.0 0h0.8m-620.9 46.06h1.5m122.3 0h1.0m89.4 0h1.5m11.0 0h1.5m17.6 0h2.5m70.7 0h2.0m137.6 0h1.0m43.4 0h1.2m30.5 0h1.5m24.5 0h1.0m49.2 0h1.2m53.7 0h2.0m65.7 0h1.0m18.7 0h1.5"/>
<path stroke="#1a1a00" stroke-opacity="0.7" d="M356.0 1554.95h1.5m68.8 0h1.5m16.5 0h1.0m-168.3 46.06h1.0m91.8 0h1.0m57.4 0h1.5m62.8 0h1.2m171.3 0h0.8m-537.4 23.03h1.5m39.7 0h0.8m14.7 0h1.2m130.7 0h0.8m282.9 0h1.0m146.8 0h0.8m80.6 0h1.0m-637.5 23.03h1.5m170.7 0h1.0m225.0 0h1.5m17.5 0h0.8m137.4 0h3.0m79.8 0h2.0m-704.1 23.03h2.5m280.1 0h1.5m-263.7 23.03h1.5m113.8 0h1.5m38.0 0h1.0m467.7 0h2.5m58.5 0h2.0m-698.0 23.03h2.5m129.0 0h1.0m316.0 0h1.0m-373.4 46.06h1.5m350.5 0h1.2m357.3 23.03h1.2m15.4 0h1.5m-825.6 23.03h1.0m34.8 0h1.2m480.9 0h2.5m116.2 0h1.2m-401.0 23.03h1.5m455.2 0h2.5m4.0 0h1.5m89.3 0h1.5m-792.1 23.03h1.2m149.4 0h2.0m94.7 0h1.5m59.8 0h1.0m33.5 0h2.5m55.6 0h1.5m193.2 0h1.0m55.7 0h1.0m70.6 0h1.0m-493.6 23.03h2.5m70.7 0h0.8m106.3 0h3.5m103.2 0h1.0m35.6 0h0.8m148.6 0h1.0m-201.4 23.03h0.8m-466.4 23.03h1.0m36.9 0h1.0m624.7 0h1.2m29.5 0h1.2m75.4 0h1.5m10.2 0h1.0m-269.9 46.06h2.5m17.5 0h1.5m-543.4 23.03h1.0m213.2 0h1.0m146.7 0h2.0m-261.1 23.03h1.0m65.8 0h1.5m222.4 0h2.0m367.4 0h0.8m23.2 0h1.2m-705.4 46.06h2.0m3.0 0h2.0m174.8 0h1.0m277.4 0h1.5m51.5 0h1.2m-162.3 23.03h1.5m13.2 0h2.5m116.8 0h1.2m139.3 0h2.0m-598.0 23.03h2.0m256.4 0h1.5m282.2 0h1.5m-235.6 23.03h1.0m160.4 0h1.5m-565.6 46.06h2.0m473.3 0h2.5m51.1 0h1.0m106.9 0h1.5m-221.1 92.12h2.5m138.9 0h1.0m195.9 0h1.0m-757.9 92.12h1.5m337.3 0h1.5m66.3 0h1.0m155.8 0h1.0m66.8 0h2.5m9.5 0h1.0m98.0 0h2.0m29.8 0h1.2m-815.8 23.03h2.5m157.2 0h1.0m226.2 0h2.0m67.8 0h1.0m-393.0 46.06h1.0m89.7 0h0.8m8.2 0h1.2m215.9 0h2.0m14.8 0h1.2m195.7 0h0.8m47.0 0h1.5m4.0 0h2.0m8.7 0h1.5m39.0 0h0.8m10.1 0h1.5"/>
<path stroke="#1a1a00" d="M874.9 1554.95h2.0m-453.2 46.06h1.0m42.2 0h1.2m154.3 0h1.0m123.1 0h1.5m5.0 0h2.5m29.7 0h1.2m108.3 0h1.5m-784.0 23.03h2.0m18.2 0h1.0m34.2 0h2.0m77.3 0h1.0m13.1 0h2.5m43.9 0h2.0m40.8 0h1.0m27.0 0h1.0m217.5 0h2.5m6.5 0h2.0m69.4 0h0.8m134.4 0h1.0m2.2 0h2.5m67.7 0h1.2m-708.8 23.03h0.8m9.1 0h1.2m42.4 0h1.2m397.5 0h2.5m232.1 0h2.0m-690.4 23.03h1.2m64.1 0h1.5m15.5 0h1.2m464.0 0h1.5m190.2 0h0.8m-748.3 23.03h1.5m6.1 0h1.5m8.0 0h1.0m34.9 0h1.0m5.8 0h1.5m43.1 0h0.8m5.0 0h1.0m162.2 0h2.5m40.5 0h1.5m189.9 0h1.0m2.0 0h1.5m3.0 0h0.8m83.3 0h0.8m89.8 0h1.2m69.8 0h2.5m-769.5 23.03h1.5m14.6 0h1.0m49.0 0h1.5m9.7 0h1.5m20.9 0h1.0m334.7 0h1.2m2.5 0h0.8m36.7 0h2.5m40.6 0h1.0m29.2 0h2.0m-563.1 46.06h2.0m75.0 0h2.0m18.5 0h0.8m318.4 0h1.0m15.0 0h2.5m17.6 0h1.5m8.7 0h1.0m-480.7 46.06h1.0m16.5 0h1.5m13.0 0h2.5m3.2 0h2.0m28.8 0h1.5m28.5 0h1.0m46.7 0h0.4m47.7 0h0.8m99.4 0h1.0m157.2 0h2.5m31.6 0h1.5m4.3 0h1.5m45.1 0h1.2m54.7 0h1.0m68.8 0h0.8m11.5 0h1.2m61.2 0h2.5m64.6 0h0.8m-557.6 23.03h1.2m182.5 0h1.2m30.1 0h1.5m104.0 0h2.5m63.2 0h2.0m-646.1 23.03h1.5m53.0 0h1.0m104.6 0h1.0m277.0 0h1.5m132.2 0h1.0m123.7 0h2.0m85.8 0h2.0m-549.9 23.03h2.5m132.4 0h1.0m46.3 0h2.0m67.0 0h2.0m131.6 0h1.5m129.4 0h0.8m-711.4 23.03h1.0m478.2 0h1.0m173.3 0h1.0m-678.5 23.03h1.2m115.2 0h1.0m332.9 0h1.0m175.9 0h1.5m60.1 0h2.0m10.5 0h1.0m11.9 0h1.0m-567.1 69.09h0.8m396.4 0h2.0m-509.1 23.03h2.0m57.2 0h1.2m123.8 0h0.8m119.3 0h2.0m31.7 0h1.2m398.5 0h1.5m-790.5 46.06h0.8m460.8 0h2.0m21.7 0h1.5m180.3 0h0.8m15.4 0h1.5m109.4 0h1.0m5.0 0h2.0m-670.7 23.03h0.8m212.0 0h1.5m102.6 0h0.8m40.4 0h1.0m85.6 0h1.5m23.8 0h0.4m4.9 0h1.5m2.3 0h1.2m1.8 0h1.2m14.4 0h1.2m64.8 0h0.8m-682.1 23.03h2.5m377.9 0h1.0m161.8 0h1.5m118.5 0h2.5m-196.7 23.03h1.2m107.7 0h0.8m19.9 0h1.2m-600.6 46.06h1.5m14.8 0h1.5m489.2 0h1.5m34.9 0h1.2m77.8 0h1.2m157.8 0h1.5m-762.2 92.12h2.5m72.9 0h1.0m12.7 0h1.5m9.0 0h1.0m368.2 0h1.5m93.9 0h2.5m-416.3 23.03h1.2m9.5 0h1.0m102.2 0h0.8m161.5 0h2.0m-428.8 23.03h2.0m438.2 0h1.5m-484.6 46.06h2.0m20.1 0h1.2m49.3 0h1.4m20.7 0h1.2m195.0 0h2.5m90.7 0h1.0m154.9 0h1.0m3.9 0h1.2m112.0 0h1.5m70.7 0h1.0m48.7 0h1.2m-763.1 23.03h2.5m33.1 0h1.2m122.2 0h1.0m179.4 0h2.5m53.9 0h1.0m19.1 0h0.8m45.6 0h2.0m125.5 0h1.5m9.6 0h1.5m58.3 0h0.1m-626.6 46.06h1.0m134.5 0h1.5m44.2 0h1.0m68.5 0h1.0m36.1 0h1.0m88.4 0h0.8m19.5 0h1.5m56.1 0h1.5m16.8 0h1.0m2.5 0h1.5m20.5 0h1.5m61.8 0h1.2m32.0 0h2.0m27.1 0h0.8m5.4 0h1.2m47.9 0h1.0m67.4 0h1.5"/>
<path stroke="#262600" stroke-opacity="0.45" d="M149.5 1601.01h0.8m101.3 0h2.0m219.2 0h2.0m139.1 0h2.0m257.8 0h1.0m61.2 0h1.5m-749.3 23.03h1.5m74.7 0h2.7m1.2 0h1.5m101.7 0h1.0m247.2 0h1.2m-378.4 23.03h2.0m74.2 0h1.5m2.5 0h2.5m264.0 0h1.0m3.0 0h1.5m325.1 0h0.8m3.0 0h0.8m-812.1 23.03h1.0m123.1 0h2.5m24.4 0h1.0m14.7 0h1.2m455.9 0h2.5m40.9 0h1.5m150.8 0h2.5m-720.3 23.03h2.5m35.8 0h1.0m539.3 0h4.0m-667.6 23.03h1.0m11.0 0h1.5m436.7 0h2.0m8.8 0h2.5m227.7 0h2.0m-565.0 46.06h1.5m364.2 0h1.0m20.7 0h2.0m85.4 0h0.7m88.9 0h1.5m4.0 0h0.8m6.4 0h1.5m11.6 23.03h1.5m-701.0 23.03h2.5m89.7 0h1.5m331.2 0h0.8m169.4 0h1.0m-451.0 23.03h1.2m36.4 0h1.5m249.1 0h0.8m59.8 0h3.2m1.6 0h1.2m267.9 0h1.0m-756.8 23.03h1.0m118.5 0h0.8m25.3 0h0.8m298.8 0h0.8m137.0 0h2.0m76.8 0h1.2m13.1 0h1.2m-695.6 23.03h1.5m154.4 0h1.5m18.0 0h1.5m157.9 0h0.8m170.0 0h1.0m50.9 0h1.0m138.1 0h3.7m10.2 0h1.0m50.7 0h1.5m30.2 0h1.2m-302.1 23.03h1.5m-417.3 23.03h2.5m375.7 0h2.5m5.1 46.06h0.8m42.7 0h1.0m147.1 0h1.5m-357.3 23.03h1.0m140.8 23.03h0.8m-449.4 46.06h2.5m35.4 0h1.0m9.8 0h2.0m197.0 0h1.0m314.3 0h1.0m61.7 0h1.0m6.7 0h1.5m43.1 0h2.5m-684.3 23.03h1.5m445.9 0h0.8m57.5 0h1.0m-496.5 23.03h2.0m95.5 0h2.0m7.5 0h0.8m16.7 0h2.0m455.7 0h0.8m167.4 0h2.0m27.4 0h1.0m-358.3 23.03h1.5m40.7 0h2.5m174.7 0h2.0m-523.9 46.06h1.0m5.0 0h2.0m9.6 0h2.4m311.5 0h1.5m59.4 0h1.0m37.1 0h1.2m53.5 0h1.5m2.8 0h2.0m-134.0 92.12h1.0m103.9 0h1.2m33.0 0h1.0m49.5 0h2.5m-447.4 23.03h1.5m160.3 0h1.0m-362.5 23.03h2.0m403.2 0h1.2m14.3 0h1.5m173.4 0h1.5m4.0 0h0.8m-472.5 46.06h1.0m27.1 0h1.5m36.4 0h1.0m9.8 0h0.8m90.7 0h1.0m368.8 0h1.0m88.8 0h2.5m-762.8 23.03h2.5m47.0 0h1.2m350.5 0h1.0m305.3 0h2.5m-689.6 46.06h2.0m168.5 0h2.0m330.0 0h1.5m67.4 0h2.0m101.4 0h0.8"/>
<path stroke="#262600" stroke-opacity="0.7" d="M913.4 1554.95h2.0m-794.0 46.06h2.5m7.1 0h0.8m9.7 0h1.5m13.6 0h1.0m82.1 0h1.5m26.3 0h2.5m263.9 0h1.0m74.8 0h1.2m30.1 0h1.0m4.5 0h1.5m89.5 0h1.2m171.3 0h2.0m-759.1 23.03h0.8m39.2 0h1.5m42.5 0h2.0m241.3 0h0.8m132.8 0h1.2m172.9 0h2.0m-645.3 23.03h1.2m260.2 0h1.0m149.5 0h0.4m17.6 0h1.5m133.0 0h2.0m29.4 0h1.0m3.8 0h1.0m95.8 0h0.8m25.0 0h2.5m56.1 0h1.0m-783.1 23.03h1.0m18.6 0h0.8m74.0 0h2.0m498.7 0h2.0m-621.5 23.03h2.0m67.7 0h1.0m40.2 0h1.5m572.6 0h2.0m-266.4 23.03h1.0m176.8 0h1.5m132.7 0h1.5m75.9 0h2.8m-785.3 46.06h1.0m452.1 0h2.0m24.7 0h2.5m38.7 0h2.5m185.7 0h2.0m-748.5 46.06h1.2m474.6 0h1.0m54.5 0h1.5m9.7 0h1.1m153.7 0h1.0m-448.8 23.03h1.5m38.5 0h1.5m248.7 0h1.0m28.5 0h1.0m77.4 0h1.0m-627.0 23.03h1.0m17.5 0h1.0m14.3 0h1.0m1.2 0h1.5m92.3 0h1.2m395.2 0h2.5m36.1 0h1.5m112.4 0h2.0m43.9 0h1.0m-477.4 46.06h2.5m41.7 0h0.8m390.8 0h2.0m-632.1 23.03h2.0m569.3 0h1.5m9.0 0h2.0m46.2 0h1.5m29.9 0h1.5m89.1 0h1.2m-363.0 46.06h1.0m43.6 0h1.0m4.7 0h2.5m-514.0 23.03h2.0m728.0 0h2.0m-556.1 23.03h1.0m292.3 0h1.5m159.5 0h1.5m-527.1 46.06h1.0m185.6 0h1.2m202.7 0h0.8m-82.2 23.03h1.2m98.2 0h1.5m220.1 0h2.5m-345.4 23.03h1.5m197.3 0h1.2m108.8 0h1.2m118.4 0h1.5m-648.0 23.03h1.5m630.6 23.03h0.8m-730.8 23.03h1.2m385.5 0h1.2m6.0 0h2.5m8.5 0h2.0m1.2 0h2.5m43.4 0h1.5m7.3 0h0.5m44.3 0h1.5m73.8 0h1.2m-647.4 92.12h2.0m114.8 0h1.2m393.5 0h1.5m65.5 0h1.5m-589.4 46.06h1.0m11.7 0h2.0m431.8 0h0.8m30.2 0h1.5m151.5 0h2.0m1.2 0h2.5m5.5 0h0.8m9.2 0h2.5m-434.3 46.06h1.5m15.6 0h2.0m2.8 0h1.5m85.9 0h1.2m234.5 0h1.2m102.9 0h1.0m-494.4 23.03h0.8m270.4 0h1.2m26.1 0h1.0m33.1 0h1.5m279.4 0h2.0m-654.7 46.06h2.0m17.9 0h2.5m105.6 0h2.5m45.8 0h2.0m235.5 0h1.5m48.9 0h1.5m201.3 0h0.8"/>
<path stroke="#262600" d="M317.0 1554.95h0.8m41.2 0h1.5m116.0 0h1.2m6.3 0h1.2m185.5 0h2.7m-545.5 46.06h0.8m107.5 0h1.0m22.1 0h1.2m270.8 0h0.8m191.2 0h1.5m149.9 0h1.5m-709.8 23.03h1.2m5.3 0h1.5m38.1 0h1.2m456.7 0h1.0m-484.4 23.03h1.0m336.6 0h1.0m59.0 0h2.0m32.3 0h1.2m22.3 0h2.5m66.2 0h1.0m5.0 0h1.5m66.4 0h1.0m-671.6 23.03h0.8m75.1 0h1.5m28.5 0h1.0m29.0 0h2.5m19.9 0h2.5m651.7 0h2.0m-746.6 23.03h1.2m13.9 0h0.8m573.2 0h2.0m49.0 0h1.0m-706.9 23.03h1.2m6.5 0h1.0m34.3 0h1.5m14.3 0h1.5m80.8 0h1.0m377.5 0h1.5m108.6 0h1.0m26.4 0h0.8m29.1 0h2.0m3.3 0h0.8m4.0 0h1.0m35.2 0h2.0m-640.8 46.06h1.0m8.5 0h2.5m11.9 0h0.8m15.6 0h1.0m13.8 0h1.5m343.9 0h1.0m21.3 0h2.0m88.1 0h1.5m15.5 23.03h1.0m92.7 0h1.0m20.7 0h1.5m-683.8 23.03h2.0m13.9 0h1.0m236.9 0h1.0m155.0 0h1.0m7.0 0h1.5m30.8 0h0.8m119.0 0h2.0m51.3 0h2.0m34.5 0h2.5m44.0 0h2.0m-567.0 23.03h1.2m250.0 0h1.5m39.3 0h1.5m11.1 0h1.5m50.6 0h1.2m5.5 0h0.8m84.5 0h1.5m32.5 0h1.5m55.2 0h1.5m-739.4 23.03h1.0m370.4 0h2.5m98.6 0h2.5m58.4 0h1.5m29.8 0h2.5m41.7 0h2.0m33.8 0h0.8m92.7 0h1.5m16.5 0h1.2m55.5 0h2.2m-774.3 23.03h2.5m151.9 0h3.5m303.0 0h1.5m213.9 0h1.5m15.5 0h1.2m5.5 0h1.0m32.5 0h2.5m40.4 0h1.5m-528.1 23.03h1.2m214.2 0h2.0m215.5 0h1.2m-722.4 23.03h2.5m10.2 0h0.8m141.4 0h2.5m554.7 0h1.5m-227.3 46.06h1.2m22.2 0h3.5m112.2 0h2.5m26.5 0h2.5m-354.8 23.03h2.5m96.7 0h1.0m52.0 0h2.7m41.9 0h1.0m57.6 0h1.5m-529.2 23.03h0.8m3.7 0h1.8m36.0 0h2.0m119.1 0h2.5m30.0 0h1.5m38.0 0h1.2m53.3 0h2.0m-312.3 46.06h0.8m134.1 0h1.5m227.7 0h1.5m260.7 0h0.8m10.2 0h1.2m12.3 0h1.0m18.4 0h0.8m141.1 0h1.0m-708.8 23.03h1.0m308.4 0h1.5m22.5 0h1.5m2.5 0h0.8m37.2 0h1.0m141.4 0h2.5m91.2 0h1.2m78.6 0h1.0m12.5 0h1.0m-278.0 23.03h2.0m18.0 0h0.8m13.5 0h1.0m10.7 0h2.5m17.6 0h1.2m127.1 0h1.5m59.1 0h1.1m23.1 0h1.5m3.5 0h0.1m-315.5 23.03h1.5m184.8 0h1.5m-676.8 46.06h0.8m90.8 0h0.8m36.0 0h2.0m303.0 0h1.5m31.6 0h2.0m3.6 0h1.5m13.8 0h2.0m27.3 0h1.5m90.1 0h0.8m105.2 0h2.0m-579.2 92.12h1.2m299.6 0h1.5m257.4 0h1.5m10.8 0h1.5m-468.7 23.03h2.5m55.6 0h1.0m15.7 0h1.0m461.6 0h1.2m-741.0 23.03h2.3m9.5 0h0.8m379.8 0h1.5m27.5 0h0.8m330.1 23.03h1.5m-738.2 23.03h2.0m110.1 0h1.0m102.8 0h1.0m57.7 0h1.2m3.0 0h0.8m78.1 0h2.0m195.1 0h0.8m74.4 0h1.2m106.8 0h0.8m-807.1 23.03h1.5m13.4 0h2.0m32.3 0h0.8m19.7 0h2.5m89.0 0h1.5m12.7 0h2.5m305.4 0h1.0m34.0 0h2.0m-461.4 46.06h1.0m81.8 0h1.2m53.9 0h1.0m39.5 0h1.0m11.9 0h1.0m6.3 0h1.0m124.0 0h1.0m49.9 0h3.7m5.5 0h1.5m24.4 0h0.8m13.1 0h1.0m12.0 0h1.5m34.7 0h0.8m45.6 0h1.0m6.0 0h1.5m116.3 0h1.5m109.7 0h1.5"/>
<path stroke="#333300" stroke-opacity="0.45" d="M465.4 1554.95h1.5m238.0 0h1.0m86.2 0h0.8m-23.5 23.03h2.0m-651.2 23.03h1.2m73.0 0h0.8m236.5 0h0.8m319.5 0h1.0m9.0 0h1.2m-603.5 23.03h2.0m20.9 0h1.5m2.2 0h1.0m52.9 0h1.2m9.5 0h2.5m66.4 0h1.5m320.0 0h0.8m-380.6 23.03h1.2m319.7 0h1.2m3.0 0h2.5m7.0 0h1.5m40.3 0h4.5m2.5 0h2.5m107.9 0h1.5m22.7 0h1.5m45.0 23.03h0.8m-619.9 23.03h1.0m577.6 0h1.0m56.7 0h1.0m-732.0 23.03h1.0m73.3 0h0.8m5.0 0h1.2m459.5 0h0.8m-401.5 46.06h0.8m446.8 0h0.8m221.0 0h2.5m-95.3 23.03h1.5m-651.9 23.03h1.2m348.7 23.03h1.5m80.0 0h2.0m25.8 0h1.0m-524.5 23.03h1.5m24.8 0h2.0m29.3 0h1.5m40.8 0h1.2m352.1 0h1.5m12.3 0h1.0m41.6 0h1.2m281.6 0h1.0m-627.2 23.03h0.5m26.5 0h2.0m92.9 0h1.0m355.4 0h1.2m182.7 0h2.2m-711.7 23.03h1.5m113.5 0h1.0m-236.4 23.03h0.8m12.0 0h2.5m4.5 0h1.0m21.3 0h1.5m26.9 0h2.5m28.3 0h1.0m352.3 0h2.0m14.6 0h2.5m159.9 0h1.2m175.2 0h2.5m-802.7 69.09h2.0m52.7 0h2.5m455.0 0h1.0m-97.9 23.03h2.0m66.0 0h2.0m16.0 0h1.2m159.8 0h2.5m52.5 0h1.0m-719.9 46.06h1.5m117.7 0h1.2m80.7 0h2.5m247.6 0h1.5m4.5 0h2.5m53.9 0h1.5m109.2 0h1.0m64.3 0h1.0m8.5 0h2.5m-685.5 23.03h1.5m23.5 0h1.0m20.2 0h1.5m45.5 0h1.0m649.3 0h1.5m-738.6 23.03h1.2m533.4 0h2.5m16.3 0h1.0m135.1 0h1.0m-125.7 23.03h1.0m220.2 0h1.0m-765.5 46.06h1.0m37.0 0h1.0m466.8 0h2.0m-555.7 92.12h1.2m1.5 0h1.5m506.7 0h0.8m166.7 0h1.2m-335.0 23.03h1.0m481.4 0h0.8m-819.3 23.03h2.5m23.3 0h2.0m422.3 0h1.5m2.3 0h1.2m11.7 0h1.5m144.7 0h1.5m17.0 0h1.0m-301.9 46.06h1.5m359.9 0h2.5m57.4 0h2.0m-338.8 23.03h2.0m20.5 0h1.5m68.7 0h1.0m-417.9 46.06h2.0m12.0 0h0.8m4.0 0h1.0m11.8 0h3.7m104.3 0h1.2m219.3 0h2.5m115.4 0h2.0"/>
<path stroke="#333300" stroke-opacity="0.7" d="M345.3 1554.95h1.5m2.0 0h1.2m46.9 0h2.0m44.4 0h1.0m57.2 0h1.0m193.2 0h1.2m181.2 0h1.5m-762.4 46.06h1.0m51.5 0h2.0m29.6 0h1.5m1.2 0h0.1m2.8 0h1.0m115.9 0h1.2m20.8 0h0.8m174.9 0h2.5m49.0 0h1.5m69.8 0h1.0m161.0 0h1.5m40.8 0h0.8m20.7 0h2.0m27.9 0h1.5m-761.6 23.03h1.5m14.8 0h2.5m67.0 0h0.5m58.6 0h1.2m47.2 0h1.5m226.8 0h1.5m254.9 0h2.5m-693.0 23.03h2.5m4.5 0h1.2m32.9 0h2.0m2.5 0h2.0m2.0 0h1.0m196.8 0h1.5m121.6 0h1.0m293.0 0h0.8m-649.7 46.06h1.0m30.7 0h1.0m98.6 0h1.0m477.5 0h2.2m-598.0 23.03h1.2m5.4 0h1.0m9.1 0h1.5m4.0 0h1.0m9.0 0h1.5m393.8 0h0.8m2.5 0h1.0m18.4 0h2.5m35.5 0h1.5m26.9 0h1.2m62.6 0h1.5m84.3 0h1.0m10.0 0h1.0m9.7 0h4.0m87.8 0h1.5m-764.1 46.06h1.5m16.2 0h0.8m17.5 0h0.8m60.1 0h1.0m666.5 23.03h1.0m-801.6 23.03h2.0m460.6 0h1.0m-315.2 23.03h2.5m316.8 0h1.5m288.2 0h1.0m20.2 0h0.0m15.3 0h1.0m-731.4 23.03h2.3m2.5 0h1.0m2.3 0h2.0m80.8 0h1.5m30.3 0h1.5m11.2 0h2.5m160.9 0h1.5m235.2 0h2.5m-586.0 23.03h2.5m43.9 0h1.5m133.5 0h2.5m302.4 0h1.5m33.9 0h2.0m24.8 0h1.0m103.2 0h0.8m62.9 0h2.5m32.8 0h1.5m-342.6 23.03h1.5m270.6 0h1.5m-714.2 23.03h2.0m9.0 0h1.5m51.7 0h1.0m2.5 0h1.5m411.7 0h1.5m3.5 0h2.5m247.1 0h0.5m-704.2 69.09h1.0m-29.9 23.03h2.0m95.3 0h1.5m18.2 0h2.0m10.5 0h1.2m10.0 0h1.2m146.3 0h1.5m124.7 0h0.8m92.6 0h2.0m147.6 0h1.0m61.0 0h1.0m-677.7 46.06h0.8m20.3 0h1.5m46.1 0h1.5m217.3 0h1.0m106.0 0h1.0m9.0 0h2.0m6.0 0h1.0m89.9 0h0.8m-470.7 23.03h2.5m359.8 0h1.2m7.8 0h1.2m34.8 0h1.5m215.3 0h1.0m-663.2 23.03h0.8m12.1 0h1.2m330.9 0h0.8m201.2 0h2.5m26.5 0h1.5m8.6 0h2.0m-317.1 23.03h2.5m170.6 0h1.0m1.5 0h2.5m132.3 0h1.0m-634.7 46.06h2.5m128.9 0h0.8m18.5 0h1.5m15.5 0h1.0m407.5 0h2.0m14.0 0h1.0m106.6 0h2.0m-676.9 23.03h2.0m472.3 46.06h1.5m-407.0 23.03h1.0m15.6 0h2.5m335.7 0h2.5m24.8 0h1.5m34.2 0h1.0m10.3 0h0.8m207.6 0h1.2m-169.5 23.03h1.5m-557.7 23.03h1.0m500.1 0h1.2m5.0 0h0.8m18.0 0h2.5m88.6 0h1.0m147.6 23.03h1.5m44.1 0h1.0m-472.1 23.03h1.0m58.5 0h0.8m20.5 0h1.5m235.7 0h1.0m9.7 0h1.0m2.5 0h1.2m55.3 0h1.5m72.9 0h2.5m17.3 0h1.5m-638.4 23.03h1.2m-186.1 46.06h2.0m348.9 0h1.5m204.8 0h1.0m5.4 0h2.5m155.9 0h1.2"/>
<path stroke="#333300" d="M540.6 1554.95h2.0m126.1 0h2.0m218.9 0h2.0m-78.7 23.03h0.8m72.3 0h1.0m-757.5 23.03h1.5m67.0 0h0.8m296.9 0h1.2m95.4 0h2.0m34.7 0h1.2m-516.0 23.03h1.2m19.5 0h2.5m10.5 0h2.5m1.5 0h1.0m100.5 0h1.0m1.5 0h0.8m187.9 0h0.8m140.6 0h1.0m162.3 0h0.8m180.6 0h1.0m-751.6 23.03h1.5m69.6 0h2.5m1.2 0h2.5m184.2 0h1.2m177.3 0h1.0m137.7 0h1.5m7.0 0h1.5m-647.9 23.03h1.5m1.2 0h1.0m34.6 0h1.5m22.8 0h1.5m7.8 0h1.2m60.8 0h2.0m539.1 0h1.5m147.1 0h0.3m-777.6 23.03h1.0m26.7 0h1.5m7.5 0h1.2m598.4 0h1.5m12.6 0h1.0m13.3 0h2.5m-643.6 23.03h1.5m73.1 0h1.5m300.5 0h1.0m24.1 0h0.8m30.4 0h2.0m186.5 0h1.5m128.1 0h1.5m-816.7 46.06h1.0m465.2 0h0.8m2.3 0h1.5m29.0 0h1.0m100.1 0h1.0m120.1 0h2.0m-623.7 46.06h1.5m340.1 0h1.0m2.5 0h0.8m12.1 0h1.2m26.1 0h1.0m3.5 0h1.0m124.5 0h0.8m93.3 0h1.0m-415.2 23.03h1.5m172.7 0h1.5m124.5 0h2.0m36.1 0h1.2m34.4 0h2.0m36.8 0h1.5m-715.1 23.03h1.5m28.7 0h1.0m3.5 0h1.0m456.5 0h2.5m136.2 0h1.2m5.5 0h1.5m108.4 0h0.8m-756.8 23.03h1.0m25.6 0h1.5m51.3 0h1.5m42.9 0h2.5m7.0 0h2.5m344.7 0h2.5m15.6 0h1.2m37.2 0h1.2m99.4 0h1.5m66.6 0h1.5m103.6 0h1.5m-247.2 23.03h2.0m145.1 0h1.5m-657.8 23.03h1.0m5.7 0h1.2m386.0 0h1.5m184.6 0h1.5m68.7 0h1.2m31.9 0h1.5m-279.8 46.06h1.2m131.4 0h1.2m-540.1 23.03h2.0m2.5 0h2.5m213.1 0h0.8m46.5 0h2.5m195.8 0h1.0m27.9 0h1.0m-425.1 23.03h2.5m250.1 0h1.0m73.3 0h0.8m71.6 0h2.5m110.0 0h1.5m15.7 0h1.5m83.1 0h1.5m3.0 0h1.0m73.9 0h2.5m-772.8 46.06h2.5m9.5 0h1.0m15.0 0h0.8m11.0 0h1.5m14.3 0h1.0m565.7 0h1.5m-645.7 23.03h1.5m74.8 0h2.5m378.8 0h1.5m149.9 0h1.5m137.7 0h2.0m39.8 0h0.8m-796.6 23.03h1.5m54.3 0h1.5m52.4 0h1.0m14.8 0h1.2m455.8 0h2.0m82.2 0h1.0m46.0 0h1.5m-182.7 23.03h2.5m-512.9 46.06h2.5m16.6 0h0.8m99.5 0h1.5m285.7 0h1.5m41.9 0h2.0m59.4 0h2.5m52.0 0h1.2m206.8 0h2.5m-766.3 69.09h0.8m289.4 0h1.5m-205.8 23.03h0.8m374.7 0h1.5m309.3 0h0.8m-574.4 23.03h2.0m317.1 0h1.5m257.1 0h1.2m-768.6 23.03h1.0m399.9 0h0.8m166.9 0h1.5m30.0 23.03h2.0m-556.5 23.03h1.5m486.4 0h0.8m95.4 0h2.0m40.8 0h1.5m89.0 0h2.5m-478.2 23.03h1.5m69.0 0h1.0m101.7 0h1.0m112.2 0h1.2m185.1 0h1.5m-672.1 46.06h1.2m314.6 0h1.5m86.3 0h1.2m7.2 0h1.2m100.0 0h1.0m78.0 0h2.5m67.8 0h0.8"/>
<path stroke="#404000" stroke-opacity="0.45" d="M708.4 1554.95h1.5m85.2 0h1.0m-380.7 46.06h1.5m209.5 0h1.0m9.8 0h0.8m60.3 0h1.0m-472.0 23.03h1.2m151.7 0h2.5m208.0 0h1.0m35.6 0h2.5m-474.9 23.03h2.5m43.5 0h0.8m401.4 0h2.0m4.0 0h1.5m-395.8 23.03h2.0m-106.6 23.03h2.5m25.7 0h1.0m26.3 0h1.5m615.0 0h0.8m3.5 0h1.0m1.0 0h1.5m35.6 0h2.0m-211.2 23.03h1.0m206.9 0h2.0m9.0 0h1.5m-700.3 46.06h2.0m693.0 0h1.2m94.3 0h1.5m-788.5 46.06h1.0m449.3 0h1.5m14.3 0h2.5m167.7 0h1.0m50.9 0h1.2m107.1 0h1.2m-487.2 23.03h1.0m244.4 0h1.5m96.5 0h2.0m109.7 0h1.2m-722.5 23.03h1.2m67.1 0h1.5m5.5 0h1.0m138.1 0h1.5m56.4 0h1.5m286.7 0h1.0m60.7 0h2.0m34.4 0h1.5m-596.0 23.03h2.0m464.8 0h1.0m112.6 0h2.0m6.3 0h1.0m-162.9 23.03h2.5m68.5 0h1.5m81.3 0h1.5m-591.9 23.03h0.8m351.5 0h2.0m39.7 0h1.0m291.6 0h0.8m-272.5 46.06h0.3m125.8 0h1.5m-624.8 23.03h2.0m249.3 0h2.5m366.9 0h2.0m-224.6 23.03h1.5m-414.1 46.06h1.0m53.4 0h1.0m64.9 0h1.2m42.5 0h2.0m129.4 0h1.5m28.1 0h1.0m281.4 0h2.0m115.9 0h1.2m-643.6 23.03h1.0m694.0 0h0.8m-755.2 23.03h1.5m291.5 0h1.2m56.8 0h1.0m-317.5 23.03h2.0m10.5 0h0.8m561.7 0h2.0m-623.0 46.06h1.0m21.4 0h0.8m24.7 0h1.2m34.6 0h2.0m7.4 0h2.0m478.8 0h1.0m-15.8 23.03h0.8m-557.7 69.09h2.5m25.6 0h1.5m734.1 0h2.5m3.0 0h1.0m-782.9 46.06h2.0m15.1 0h2.0m431.4 0h1.5m18.1 0h1.5m10.2 0h1.0m-421.1 46.06h2.0m393.3 23.03h1.5m14.4 0h1.2m-222.8 46.06h1.5m38.3 0h0.8m129.0 0h1.0m115.8 0h1.2m21.4 0h1.5"/>
<path stroke="#404000" stroke-opacity="0.7" d="M423.0 1554.95h0.8m8.2 0h1.0m28.6 0h2.0m211.6 0h2.5m206.9 0h2.5m-543.8 46.06h1.5m14.2 0h1.5m186.7 0h1.0m48.3 0h2.0m39.5 0h2.0m136.4 0h2.5m65.7 0h1.0m-667.5 23.03h0.8m2.2 0h1.5m48.9 0h1.0m16.4 0h2.0m397.7 0h1.5m128.2 0h2.5m-190.7 23.03h1.5m22.3 0h1.5m5.7 0h1.2m-375.0 23.03h1.5m-111.4 23.03h1.0m19.5 0h1.5m12.6 0h0.8m69.0 0h1.0m547.2 0h1.5m39.6 0h0.8m8.3 0h1.0m-723.5 23.03h2.5m16.7 0h1.5m45.7 0h1.2m409.5 0h2.8m4.5 0h1.5m245.4 0h0.8m-718.1 46.06h1.5m34.5 0h2.0m34.7 0h3.3m355.1 0h1.2m250.0 0h1.5m110.7 0h0.8m-185.7 46.06h0.8m99.9 0h1.0m76.7 0h1.5m19.0 0h0.8m-351.6 23.03h1.0m90.0 0h2.0m5.5 0h1.2m97.6 0h1.2m42.3 0h1.0m-682.4 23.03h1.5m12.5 0h0.8m91.5 0h1.5m309.3 0h1.5m59.1 0h1.5m95.2 0h1.2m6.8 0h1.0m85.1 0h1.5m-161.0 23.03h1.0m184.5 0h0.8m-660.1 23.03h1.2m67.0 0h1.5m505.0 0h1.5m88.7 0h1.0m-669.5 23.03h0.8m-0.5 46.06h1.0m503.3 0h2.0m62.2 0h1.5m-566.5 23.03h1.5m642.0 0h1.5m-467.2 23.03h1.5m81.9 0h2.0m203.3 0h1.0m196.1 0h2.5m-642.1 46.06h1.0m166.0 0h1.0m11.2 0h1.0m226.4 0h1.2m4.8 0h1.0m9.9 0h1.0m33.3 0h2.5m220.3 0h1.0m22.7 0h2.0m-700.9 23.03h1.2m59.1 0h2.0m1.0 0h2.5m663.4 0h2.0m-768.9 23.03h1.5m30.9 0h2.5m452.7 0h2.0m34.8 0h2.0m160.1 0h1.5m-705.2 23.03h2.0m132.7 0h1.0m348.7 0h2.5m49.6 0h2.5m99.5 0h1.0m133.2 0h2.5m-772.3 46.06h2.3m430.8 92.12h1.2m-482.2 23.03h1.5m470.6 23.03h1.0m21.3 0h2.0m37.3 0h0.8m-124.5 46.06h1.0m406.3 0h2.5m-787.4 23.03h1.5m78.2 0h2.5m78.0 0h2.3m180.8 0h1.2m124.2 0h1.5m-227.1 46.06h2.5m47.1 0h1.0"/>
<path stroke="#404000" d="M367.5 1554.95h0.8m24.1 0h0.8m309.4 0h1.5m226.5 23.03h1.0m-804.5 23.03h0.8m471.8 0h1.2m137.8 0h1.5m63.3 0h0.8m-624.4 23.03h1.2m51.4 0h1.5m7.4 0h2.5m47.0 0h2.0m306.3 0h1.5m15.9 0h1.5m-54.7 23.03h1.2m50.8 0h1.5m35.0 0h1.9m83.2 0h1.0m57.5 0h2.0m135.0 0h1.0m-823.3 23.03h1.2m8.5 0h1.0m-4.9 23.03h1.2m23.7 0h1.2m120.1 0h2.0m2.5 0h1.5m1.2 0h1.2m8.8 0h1.5m465.1 0h1.0m31.7 0h2.0m2.3 0h2.5m64.4 0h2.0m-731.7 23.03h1.5m24.7 0h1.5m18.0 0h1.2m35.2 0h1.0m385.6 0h1.0m195.0 0h2.0m-602.0 46.06h1.5m8.3 0h1.2m20.1 0h1.5m1.0 0h2.0m22.5 0h2.0m35.6 0h0.3m574.8 0h1.0m67.3 23.03h1.0m-799.2 23.03h1.0m50.2 0h1.5m85.4 0h0.8m7.0 0h1.0m328.9 0h0.8m7.7 0h2.0m22.3 0h1.0m-114.5 23.03h1.0m155.2 0h1.5m18.8 0h2.5m-483.6 23.03h2.0m75.6 0h1.0m160.2 0h1.5m85.1 0h1.0m28.2 0h0.8m39.6 0h1.0m51.2 0h1.5m10.4 0h1.0m207.2 0h1.0m9.1 0h2.5m-723.2 23.03h0.8m59.6 0h1.0m342.0 0h4.0m2.5 0h2.0m68.4 0h0.5m10.3 0h1.2m3.3 0h0.8m139.4 0h2.0m38.8 0h1.2m-262.4 23.03h1.5m36.3 0h1.0m17.5 0h0.8m-418.8 23.03h1.2m16.0 0h2.5m378.1 0h1.5m134.5 0h3.0m48.9 0h2.5m11.6 0h1.2m114.2 0h1.0m-825.7 46.06h2.5m486.8 0h1.5m79.0 0h1.5m69.2 0h1.5m109.2 0h2.5m-758.2 23.03h1.0m676.0 0h1.0m6.0 0h1.5m-482.0 23.03h1.5m91.2 0h2.0m6.0 0h1.5m209.2 0h1.5m214.2 0h1.5m8.0 0h1.5m-735.6 46.06h1.2m27.9 0h1.5m60.9 0h2.0m66.8 0h1.0m324.3 0h2.5m38.7 0h0.8m4.0 0h0.8m-503.6 23.03h1.5m106.2 0h1.0m10.5 0h0.8m8.4 0h1.0m477.3 0h1.5m145.6 0h0.8m20.4 0h1.5m-752.6 23.03h2.5m503.3 0h0.8m-91.8 23.03h1.2m38.4 0h1.5m170.9 0h1.5m43.4 0h2.0m9.3 0h1.5m23.5 0h1.0m61.8 0h1.5m-791.7 46.06h1.0m59.2 0h0.8m31.4 0h2.5m428.3 0h1.5m24.9 0h0.8m-592.2 23.03h1.0m30.4 0h1.5m175.4 46.06h0.8m64.7 0h1.5m152.0 0h1.0m-424.0 23.03h2.5m453.7 0h3.3m29.0 0h1.5m4.5 0h1.5m21.7 0h1.2m-515.2 23.03h2.5m301.7 0h1.0m510.6 0h2.5m-779.9 23.03h1.5m441.2 0h1.0m2.8 0h1.5m2.7 0h0.8m8.3 0h1.0m30.8 0h2.0m89.8 0h1.5m-107.2 23.03h2.0m-383.1 23.03h1.5m25.9 0h0.3m194.2 0h2.0m332.4 0h1.5m1.0 0h1.0m20.1 0h2.5m18.0 0h0.8m1.6 0h1.5m69.7 0h2.0m-795.5 23.03h2.5m57.0 0h2.5m287.3 0h1.2m32.9 0h2.5m50.7 0h1.5m32.9 0h1.5m11.3 0h0.8m1.5 0h1.2m317.0 0h1.0m-828.0 46.06h1.5m63.3 0h2.5m81.2 0h1.0m30.8 0h1.5m158.0 0h0.7m180.1 0h2.5m94.1 0h1.5m67.6 0h1.0m141.4 0h1.5"/>
<path stroke="#4c4c00" stroke-opacity="0.45" d="M365.5 1554.95h2.0m295.5 0h2.0m-43.8 23.03h2.0m226.0 0h2.5m73.2 0h1.2m-794.3 23.03h2.0m37.9 0h1.0m241.2 0h1.5m363.5 0h0.8m119.3 0h1.0m-789.8 23.03h2.0m116.3 0h1.0m404.8 0h1.0m15.6 0h2.5m-455.5 23.03h2.0m380.7 0h0.8m178.9 0h1.5m-607.1 23.03h2.5m17.1 0h1.2m23.9 23.03h2.5m27.6 0h0.2m535.4 0h1.0m-630.7 23.03h1.5m118.2 0h1.0m347.5 0h1.0m12.8 0h1.5m-443.2 46.06h1.2m13.8 0h1.2m25.6 0h1.0m7.0 0h2.5m21.3 0h1.0m392.7 0h1.5m185.8 0h1.2m-685.7 23.03h1.2m581.3 0h1.0m45.3 0h1.0m-577.9 23.03h1.0m2.5 0h0.8m49.7 0h2.5m361.4 0h1.0m176.6 0h1.5m-641.3 23.03h1.5m141.2 0h1.2m315.6 0h1.2m25.8 0h1.0m151.0 0h2.0m-612.1 23.03h1.5m8.2 0h1.0m567.7 0h1.2m104.8 0h1.2m41.7 0h1.5m-782.0 23.03h1.5m124.0 0h1.5m307.5 0h2.5m117.4 0h1.2m32.0 0h1.2m195.8 0h2.0m-325.3 23.03h2.0m35.3 0h2.0m259.1 0h1.0m45.1 0h1.2m-820.1 23.03h2.5m29.8 0h1.0m49.4 0h1.2m536.6 0h0.8m68.2 0h1.2m22.7 0h1.2m91.6 0h1.0m-155.3 46.06h1.0m114.8 0h1.5m26.4 0h1.0m-741.6 46.06h1.5m45.2 0h1.0m150.8 0h1.0m408.6 0h2.5m-429.5 23.03h1.0m-208.6 23.03h1.0m11.6 0h2.0m55.4 0h1.0m49.8 0h0.8m5.3 0h1.2m322.2 0h1.5m68.2 0h1.0m24.0 0h2.0m7.5 0h1.5m142.0 0h2.5m61.0 0h2.5m-680.8 23.03h1.0m586.9 0h0.8m11.8 0h2.5m9.0 0h2.5m78.8 0h1.0m-790.8 23.03h2.0m133.7 0h1.0m589.0 0h1.5m-709.5 23.03h1.0m26.4 0h1.5m107.6 0h1.0m215.2 0h0.8m147.4 0h2.0m76.0 0h1.5m-510.6 46.06h1.0m461.5 0h1.5m43.0 0h2.5m200.2 0h0.8m10.8 0h2.0m-3.8 23.03h1.5m-787.0 69.09h1.0m465.2 0h1.2m306.6 0h1.0m-767.5 23.03h1.0m145.9 0h1.2m86.1 0h1.0m28.5 0h2.5m495.8 0h1.2m8.8 0h0.8m-766.1 23.03h1.5m418.9 0h0.8m62.6 0h2.0m95.3 0h0.8m-515.3 46.06h1.0m11.7 0h2.5m23.9 0h2.5m531.7 0h1.0m-641.4 23.03h0.8m47.4 0h2.5m46.4 0h1.0m208.3 0h1.0m54.2 0h0.8m111.7 0h1.5m-512.8 46.06h2.5m32.3 0h1.0m49.6 0h1.5m414.8 0h1.2m217.5 0h2.5"/>
<path stroke="#4c4c00" stroke-opacity="0.7" d="M701.1 1554.95h1.5m199.1 0h1.5m-744.6 46.06h1.0m233.1 0h0.8m94.5 0h1.0m-298.2 23.03h1.3m401.6 0h1.5m28.1 0h1.5m20.8 0h0.8m-524.4 23.03h1.0m18.7 0h1.0m542.0 0h1.0m-474.2 23.03h2.5m4.9 23.03h1.5m34.8 0h2.5m492.8 0h1.2m39.8 0h1.0m-662.6 23.03h1.0m36.2 0h2.5m456.0 0h1.5m120.1 0h1.5m19.2 0h2.0m6.0 0h1.5m66.4 0h1.2m-695.5 46.06h1.5m111.6 0h0.8m316.3 0h4.0m48.6 0h1.5m14.5 0h1.0m187.2 0h1.5m-701.4 23.03h1.5m701.0 0h2.5m-647.4 23.03h2.0m435.7 0h2.5m-39.0 23.03h0.8m235.0 0h1.5m57.9 0h1.0m-755.5 23.03h1.2m6.7 0h1.2m100.9 0h1.0m28.2 0h2.5m316.4 0h1.5m24.6 0h1.2m26.6 0h2.0m122.7 0h1.2m22.1 0h1.5m2.0 0h0.8m95.8 0h1.0m41.8 0h2.5m-792.5 23.03h1.0m515.3 0h2.5m10.2 0h2.0m100.4 23.03h0.8m13.4 0h1.0m-641.8 23.03h1.0m103.9 0h1.5m326.2 0h1.0m64.6 0h0.8m-466.3 46.06h1.0m323.7 0h2.0m182.4 0h2.0m-373.9 23.03h1.2m488.5 0h1.0m-627.6 23.03h1.5m142.5 0h2.0m283.0 0h1.0m10.0 0h0.8m162.3 0h2.0m48.9 0h1.0m12.5 0h1.5m-701.7 46.06h1.5m47.1 0h2.5m74.8 0h0.9m76.5 0h0.8m202.4 0h1.0m359.1 0h1.0m-735.0 23.03h1.5m5.9 0h2.5m52.3 0h1.0m677.6 0h1.0m-238.2 23.03h1.5m-537.1 23.03h1.2m85.1 0h1.0m37.8 0h1.1m11.0 0h1.5m296.5 0h1.0m40.7 0h1.0m153.7 0h2.0m48.0 0h1.0m-673.9 23.03h1.0m756.9 0h1.5m-226.2 23.03h1.5m245.9 0h0.8m-717.8 92.12h2.5m418.2 0h1.0m-252.8 23.03h1.0m267.7 0h0.8m267.1 0h1.5m-764.1 23.03h1.0m417.9 0h1.5m24.6 0h1.5m-345.8 46.06h1.5m538.9 0h1.0m16.7 0h1.2m-601.6 23.03h1.2m267.1 0h2.5m29.2 0h1.0m16.5 0h0.8m-318.7 46.06h2.5m37.5 0h1.0m498.0 0h0.8m71.8 0h1.2"/>
<path stroke="#4c4c00" d="M925.4 1531.92h1.0m-546.3 23.03h1.8m48.9 0h1.2m2.0 0h2.5m505.6 23.03h1.5m-752.2 23.03h1.5m81.1 0h3.0m31.1 0h2.5m23.9 0h1.0m16.3 0h1.0m16.0 0h1.0m217.0 0h0.8m40.6 0h0.8m47.3 0h2.5m159.2 0h0.8m76.7 0h1.1m-793.7 23.03h0.8m101.0 0h1.0m31.9 0h0.8m317.2 0h1.5m9.8 0h2.5m63.9 0h0.4m-488.9 23.03h1.2m9.0 0h1.0m20.3 0h1.5m396.7 0h1.5m129.6 0h1.0m31.1 0h1.0m12.5 0h3.0m-551.5 23.03h1.5m37.7 0h1.2m-42.8 23.03h0.8m519.1 0h2.5m116.6 0h0.1m-698.5 23.03h1.2m7.4 0h1.2m56.7 0h0.8m15.5 0h2.0m4.3 0h1.5m512.9 0h1.0m22.5 0h2.0m7.0 0h2.0m28.2 0h2.0m-688.6 46.06h1.5m50.7 0h2.0m17.3 0h2.5m362.5 0h1.5m29.0 0h1.5m28.3 0h1.2m10.8 0h0.8m161.4 0h2.5m10.5 0h2.5m98.4 0h0.8m-186.3 23.03h1.0m-586.4 23.03h2.5m117.7 0h0.8m369.7 0h1.5m148.0 0h1.0m-575.8 23.03h0.8m251.4 0h2.0m134.6 0h1.2m166.8 0h1.0m156.2 0h0.8m-799.6 23.03h1.0m384.3 0h2.0m107.2 0h1.0m98.6 0h0.8m84.0 0h0.8m54.6 0h1.5m-300.3 23.03h1.5m154.8 0h2.5m37.4 0h1.0m161.6 0h1.0m-780.6 23.03h1.0m41.6 0h0.8m-56.4 23.03h1.5m4.7 0h0.8m420.1 0h1.2m16.5 0h1.5m60.2 0h2.0m184.8 0h1.0m94.9 0h1.2m4.5 0h1.0m-822.5 46.06h2.0m26.7 0h2.0m37.8 0h2.0m73.8 0h0.8m46.6 0h1.2m112.5 0h0.8m25.0 0h1.0m78.3 0h1.0m81.8 0h1.0m31.7 0h0.8m20.0 0h1.5m41.6 0h1.5m-515.9 23.03h2.5m376.9 0h1.5m31.9 0h2.0m122.6 0h2.5m89.8 0h1.2m-41.7 23.03h2.5m-441.5 23.03h1.5m-208.2 23.03h1.5m18.6 0h1.0m134.1 0h2.0m91.3 0h2.0m135.6 0h1.5m111.2 0h1.2m46.6 0h1.5m45.1 0h3.5m13.6 0h4.5m177.7 0h1.2m-746.9 23.03h1.0m-17.0 23.03h2.0m19.3 0h2.5m18.7 0h1.0m46.7 0h1.0m9.2 0h1.0m413.1 0h1.2m178.4 0h0.8m77.5 0h2.5m-811.9 23.03h0.8m50.5 0h1.5m11.3 0h1.2m10.3 0h1.2m59.4 0h2.5m8.0 0h1.0m357.6 0h1.0m30.2 0h1.2m269.7 0h1.0m-108.3 23.03h1.5m-619.7 23.03h0.8m14.5 0h2.5m468.9 0h1.5m14.1 0h1.2m21.8 0h2.0m199.0 0h1.0m-593.9 23.03h1.0m482.7 0h1.0m-275.6 23.03h2.0m-437.7 46.06h1.0m128.2 0h2.0m3.8 0h0.8m338.8 0h1.5m2.3 0h2.0m345.8 0h2.5m-562.2 23.03h1.5m546.6 0h0.8m-778.4 23.03h2.5m445.5 0h2.5m166.2 0h1.5m5.0 0h2.0m-218.6 23.03h1.0m283.4 23.03h1.0m-721.6 23.03h1.0m347.4 0h1.0m166.7 0h1.5m-411.4 46.06h1.0m355.6 0h1.5m81.3 0h2.0m93.1 0h1.0m60.2 0h2.5"/>
<path stroke="#595900" stroke-opacity="0.45" d="M333.5 1554.95h2.5m83.6 0h1.0m-136.0 23.03h1.5m518.6 0h2.0m99.1 0h2.5m-734.8 23.03h1.5m20.2 0h2.0m182.4 0h2.0m236.5 0h2.5m91.2 0h1.5m1.0 0h1.5m32.2 0h1.0m8.0 0h2.5m-637.6 23.03h1.0m85.8 0h1.5m-28.6 23.03h1.2m450.0 0h1.0m160.2 0h1.5m-538.7 23.03h2.0m21.3 0h0.8m-27.7 23.03h2.0m480.8 0h0.8m87.6 0h1.2m-711.4 23.03h0.8m342.1 23.03h1.5m461.1 0h1.5m-796.2 23.03h1.5m104.7 0h1.0m409.6 0h1.2m-518.4 23.03h2.5m193.0 0h2.5m-158.3 23.03h2.0m35.7 0h0.8m35.2 0h2.0m355.8 0h0.8m-478.1 23.03h0.8m93.6 0h1.5m119.6 0h1.5m80.4 0h0.8m47.6 0h1.0m225.3 0h1.0m46.4 0h0.8m30.6 0h1.0m-597.1 23.03h1.0m5.5 0h1.0m425.0 0h1.0m30.0 0h1.0m165.7 0h1.5m19.8 0h2.0m72.4 0h2.0m4.2 0h1.2m-775.7 23.03h1.0m64.3 0h1.2m32.8 0h2.0m383.7 0h1.0m-503.5 23.03h1.0m756.5 0h0.8m-705.7 23.03h1.0m3.5 0h1.5m464.8 0h1.0m9.3 0h1.0m166.8 0h0.8m32.9 0h2.0m-720.1 46.06h2.5m2.2 0h1.2m15.2 0h1.5m122.5 0h1.5m479.4 0h1.2m-646.0 46.06h1.2m161.7 0h1.5m425.3 23.03h0.8m-585.0 23.03h1.5m307.7 0h1.5m511.8 0h0.8m-84.3 23.03h1.2m-670.1 23.03h1.2m27.6 0h1.0m618.3 0h1.5m61.1 0h1.0m-768.4 23.03h2.0m31.4 0h0.8m121.1 0h1.5m171.5 0h1.2m-235.9 46.06h1.5m443.0 0h2.0m7.5 0h2.5m-450.4 23.03h2.5m493.4 0h1.5m125.5 0h1.2m-342.4 23.03h1.0m41.8 0h1.2m287.0 0h1.5m-620.5 23.03h1.0m-36.1 23.03h1.0m384.9 0h1.2m46.1 0h1.5m-390.6 23.03h1.0m686.9 0h0.8m-779.2 23.03h0.8m16.3 0h0.8m29.3 0h2.0m408.6 0h1.0m16.1 0h1.5m-421.8 23.03h1.0m155.3 0h0.8m138.1 0h2.5m438.9 0h1.0m-114.7 23.03h1.5m-534.1 23.03h1.0m-81.1 46.06h1.0m30.2 0h1.5m366.1 0h1.0m-374.0 23.03h1.0m471.2 0h1.5m8.0 0h0.8"/>
<path stroke="#595900" stroke-opacity="0.7" d="M364.0 1554.95h1.5m149.2 0h1.0m-396.3 46.06h0.8m192.4 0h1.0m450.8 0h1.5m131.5 0h0.8m23.0 0h1.5m9.7 0h1.5m5.0 0h2.5m-734.2 23.03h1.5m66.7 0h1.0m4.0 0h0.4m-88.5 23.03h1.0m442.7 0h1.0m-512.5 23.03h1.2m19.6 0h0.8m4.0 0h4.5m41.3 0h1.0m79.4 0h2.5m-43.8 23.03h1.5m3.7 0h1.5m-99.4 23.03h1.0m46.3 46.06h1.0m54.3 0h1.0m17.4 0h1.5m307.1 0h1.5m1.0 0h2.5m25.6 0h1.2m36.5 0h1.5m-488.0 23.03h0.8m72.8 0h0.8m125.5 0h1.5m-205.0 23.03h1.5m70.5 0h2.0m-75.9 23.03h1.0m106.5 0h2.0m402.4 0h1.2m126.4 0h1.5m32.4 0h2.5m78.8 0h2.5m-696.8 23.03h0.8m393.4 0h2.0m180.0 0h1.5m26.0 0h1.5m-675.7 69.09h2.0m24.5 0h1.2m36.7 0h1.5m618.4 0h2.7m-710.6 46.06h2.5m20.2 0h1.5m19.7 0h2.0m30.1 0h1.5m10.1 0h4.5m379.3 0h1.5m316.0 0h2.0m-319.6 23.03h0.8m-377.6 23.03h2.0m361.9 0h2.5m245.8 0h2.0m2.5 0h1.2m42.8 23.03h1.0m-613.6 23.03h1.5m269.3 0h1.5m318.4 0h1.5m44.8 0h2.0m-753.3 23.03h2.5m779.5 0h2.5m-759.5 23.03h1.2m554.7 0h1.2m117.6 0h2.5m-637.4 23.03h1.0m6.3 0h1.0m36.4 0h1.2m361.1 0h1.5m140.6 0h1.2m-547.9 46.06h2.0m58.5 0h1.2m652.3 0h1.0m-761.6 23.03h1.5m663.7 0h0.8m-318.4 23.03h0.8m393.9 0h1.2m-791.3 23.03h1.2m85.5 0h2.5m375.6 23.03h2.5m17.2 0h1.5m14.1 0h1.5m200.1 0h1.5m108.2 0h1.5m-709.3 23.03h0.8m29.1 0h2.0m8.6 0h1.0m-83.7 23.03h1.2m433.2 0h0.8m21.0 0h2.2m-401.9 23.03h1.0m532.6 0h0.9m26.2 0h1.5m53.4 0h1.5m-648.2 23.03h1.0m602.0 0h0.8m30.3 0h1.0m-659.6 23.03h2.5m20.2 0h1.0m20.4 0h1.2m303.2 0h1.0m-328.8 46.06h1.0m76.9 0h1.5m412.3 0h0.8m15.0 0h2.5m110.6 0h0.8m-562.2 23.03h1.2m2.7 0h0.8m499.0 0h1.0m20.8 0h1.2"/>
<path stroke="#595900" d="M343.0 1554.95h0.8m155.0 0h1.2m165.0 0h1.0m51.7 0h2.0m177.3 0h1.0m-614.6 23.03h1.2m-118.2 23.03h0.8m132.7 0h1.0m72.2 0h1.5m33.0 0h0.8m35.6 0h2.5m349.6 0h1.2m78.9 0h2.5m25.3 0h1.0m36.4 0h2.0m-817.7 23.03h1.5m116.7 0h1.5m24.3 0h1.5m298.9 23.03h1.2m27.8 0h1.5m-437.4 23.03h0.8m81.3 0h2.0m-17.6 23.03h1.2m582.9 0h1.0m-669.9 23.03h1.5m3.0 0h2.0m1.5 0h1.0m420.2 0h2.0m-460.9 46.06h0.8m7.5 0h1.5m21.5 0h1.0m77.0 0h1.0m12.0 0h2.0m351.7 0h1.5m2.3 0h0.8m40.0 0h1.5m-257.2 23.03h1.5m120.5 0h1.5m292.1 0h1.0m-671.7 23.03h0.8m50.2 0h1.0m31.5 0h1.0m27.3 0h1.2m7.5 0h2.5m6.2 0h2.0m333.3 0h0.8m27.3 0h1.5m3.5 0h1.5m19.9 0h1.2m-478.3 23.03h1.5m8.8 0h1.5m70.2 0h2.0m63.1 0h1.2m47.5 0h1.2m2.2 0h1.0m164.3 0h1.0m14.0 0h1.0m76.7 0h2.5m5.0 0h3.7m9.6 0h0.8m3.0 0h1.2m187.5 0h1.5m9.0 0h2.0m77.3 0h1.2m-151.2 23.03h0.8m10.0 0h0.8m26.0 0h2.5m1.5 0h2.0m58.8 0h1.0m-687.1 23.03h1.2m60.9 0h1.2m1.5 0h1.5m330.6 0h1.2m42.5 0h1.2m6.0 0h2.5m1.0 0h0.8m38.6 0h1.0m100.6 0h1.0m-513.7 23.03h1.0m503.9 0h1.2m-602.8 23.03h2.5m9.8 0h1.0m35.5 0h1.5m41.0 0h2.0m331.7 0h0.8m223.1 0h1.2m93.2 23.03h1.0m-774.3 23.03h2.0m34.3 0h0.8m104.4 0h2.0m294.2 0h1.0m12.6 0h0.8m144.1 0h1.0m-626.9 23.03h0.8m51.7 0h2.5m254.6 0h0.8m330.0 0h2.5m67.3 0h0.8m-616.5 23.03h1.0m373.2 0h1.5m32.9 0h3.2m-306.1 23.03h0.8m32.1 0h0.8m181.8 0h1.0m330.2 0h1.0m-651.4 23.03h0.8m153.7 0h0.8m4.2 0h1.0m410.5 0h1.5m13.7 0h1.0m97.4 0h2.0m-668.6 23.03h1.5m28.7 0h0.8m549.4 0h1.0m42.0 0h0.8m86.4 0h1.0m-272.8 23.03h2.5m14.3 0h1.0m128.7 0h2.0m30.4 0h1.5m1.2 0h2.5m-743.9 23.03h2.0m37.2 0h1.0m17.9 0h2.0m32.5 0h2.5m138.8 0h1.5m205.0 0h2.0m156.6 0h2.0m41.7 0h2.0m90.2 0h1.0m-613.4 46.06h1.0m43.0 0h0.8m432.4 0h1.0m225.3 0h1.5m-101.0 23.03h1.0m-680.5 23.03h1.5m301.3 0h1.0m24.3 0h2.0m-276.6 23.03h2.5m4.0 0h1.5m15.3 0h2.0m-105.6 23.03h1.0m72.5 0h2.0m28.1 0h2.5m11.9 0h1.0m319.0 0h0.8m92.7 23.03h1.2m49.8 0h1.5m5.0 0h1.0m-536.2 23.03h2.5m382.1 0h2.5m61.3 0h0.8m-497.5 23.03h1.5m100.5 0h1.5m655.0 0h1.5m-686.1 23.03h1.0m20.4 0h1.0m9.5 0h1.5m-112.0 23.03h2.5m46.8 0h1.2m1.5 0h1.5m110.7 0h1.2m-159.6 46.06h1.5m6.0 0h2.0m47.4 0h0.8m31.7 0h1.5m4.8 0h1.5m2.0 0h1.5m336.3 0h2.5m269.4 0h1.2m-159.5 23.03h2.0"/>
<path stroke="#666600" stroke-opacity="0.45" d="M326.5 1554.95h1.0m27.0 0h1.5m1.5 0h1.5m-125.9 23.03h1.5m202.8 0h0.8m494.9 0h2.0m-781.3 23.03h2.0m85.4 0h1.2m143.2 0h1.0m177.5 0h2.0m41.6 0h2.0m275.5 0h1.5m-641.3 23.03h1.5m518.6 23.03h1.0m-630.3 23.03h3.5m31.6 0h1.0m95.9 23.03h1.2m1.2 0h2.0m579.3 0h2.5m-744.2 23.03h2.0m137.1 0h0.8m210.1 23.03h2.0m468.2 0h1.5m-809.3 23.03h1.0m126.8 0h1.0m16.3 0h1.5m300.4 0h2.5m-336.9 23.03h1.5m509.8 0h1.0m-543.1 23.03h1.0m7.7 0h2.5m10.3 0h1.0m346.7 0h2.0m-454.6 23.03h2.0m1.8 0h1.0m91.2 0h2.0m122.6 0h1.5m4.6 0h1.5m223.3 0h1.2m235.4 0h2.0m8.8 0h1.0m72.3 0h0.8m-735.6 23.03h1.5m3.8 0h1.0m29.1 0h1.0m2.5 0h2.5m-25.9 23.03h1.5m8.0 0h1.0m80.5 0h2.0m378.8 0h1.5m-483.3 46.06h1.0m39.4 0h1.2m602.3 0h1.5m120.5 0h2.0m-790.8 46.06h0.8m48.0 0h1.0m170.2 0h1.5m201.9 0h3.5m133.8 0h1.5m-541.6 23.03h2.0m32.1 0h2.0m50.8 0h0.8m-60.8 23.03h2.0m2.8 0h2.0m594.0 0h0.8m-623.5 23.03h1.0m143.8 0h0.8m235.4 0h2.5m327.6 0h1.0m-714.1 23.03h1.0m41.3 0h1.5m126.8 0h2.0m47.9 0h2.5m266.2 0h0.2m14.7 0h1.5m55.9 0h1.0m36.8 0h2.0m11.0 0h2.5m101.2 0h1.2m-761.9 23.03h1.5m14.0 23.03h1.2m53.6 0h1.0m72.4 0h1.0m452.8 0h1.2m-590.6 23.03h1.0m55.5 0h2.0m32.0 0h2.0m13.2 0h1.0m19.2 0h1.5m96.0 0h2.5m253.4 0h1.5m-381.9 46.06h1.2m698.8 0h1.2m-727.2 23.03h0.8m-55.5 23.03h1.0m510.0 0h1.5m7.9 0h2.5m61.1 0h2.5m-95.8 23.03h1.0m-459.1 23.03h0.8m11.5 0h2.5m403.7 0h1.2m26.3 0h0.8m-446.0 23.03h1.5m379.7 23.03h2.5m27.2 0h1.2m-479.0 23.03h1.0m70.0 0h0.8m465.2 0h1.5m-423.8 23.03h2.5m2.5 0h0.8m-37.3 23.03h1.2m-27.9 46.06h1.0m516.3 0h2.5m119.4 0h4.0m-8.7 23.03h1.0"/>
<path stroke="#666600" stroke-opacity="0.7" d="M398.9 1554.95h1.5m23.4 0h1.5m2.5 0h1.5m230.7 0h1.0m-432.1 23.03h1.2m173.4 0h1.2m533.9 0h1.0m-829.4 23.03h1.5m462.8 0h2.0m310.2 0h0.8m4.7 0h2.5m-733.0 23.03h3.5m5.2 0h1.5m-60.2 23.03h0.8m715.1 46.06h1.0m-695.7 23.03h2.5m443.1 46.06h1.2m354.3 0h2.5m-741.0 23.03h1.0m46.6 0h0.8m9.8 0h1.0m177.2 0h1.0m-309.0 23.03h1.0m435.6 0h1.0m-449.2 23.03h0.8m39.2 0h1.0m254.3 0h1.5m48.9 0h1.2m127.4 0h1.5m173.3 0h1.2m26.7 0h2.5m23.6 0h2.0m-683.9 23.03h1.5m461.8 0h0.8m30.3 0h0.8m23.8 0h1.2m235.1 0h1.5m-713.6 23.03h1.2m610.8 0h1.5m-45.3 23.03h1.2m192.7 0h1.0m-806.4 23.03h1.0m7.0 0h1.5m136.9 0h1.0m312.0 0h1.2m58.7 0h1.0m173.9 0h1.2m-707.5 23.03h2.0m74.7 0h2.5m-88.4 23.03h2.5m13.8 0h1.0m32.3 0h1.2m18.7 0h1.0m69.3 0h2.5m344.0 0h1.0m123.5 0h0.8m121.3 0h1.0m41.1 0h1.0m8.9 0h0.8m-636.4 23.03h1.2m340.3 0h1.0m26.4 0h2.5m74.4 0h1.5m22.8 0h1.0m-605.2 69.09h1.0m93.4 0h2.0m22.0 0h1.5m354.5 0h2.5m38.9 0h1.5m113.3 0h1.2m182.3 0h2.5m-794.0 23.03h1.5m654.0 0h1.2m-637.5 23.03h1.0m49.4 0h1.5m59.5 0h0.3m569.5 0h1.2m-580.9 23.03h1.2m19.0 0h1.0m360.9 0h1.0m98.1 0h1.0m166.8 0h1.2m-198.0 46.06h0.8m-10.0 23.03h2.5m-443.5 23.03h0.8m294.9 0h1.2m-441.6 23.03h1.5m504.5 0h1.5m217.5 0h1.5m-286.9 23.03h0.8m39.6 0h1.0m39.7 0h2.0m-415.7 23.03h0.8m44.0 0h1.1m282.2 0h1.5m0.5 23.03h1.5m70.0 0h1.0m-234.9 23.03h1.0m3.1 0h0.8m173.0 0h1.5m165.6 0h1.5m-535.0 23.03h2.0m7.4 0h1.2m-88.7 23.03h1.2m62.8 0h0.5m1.7 46.06h1.5m2.2 0h1.2m518.4 0h1.5m104.3 0h0.8m-565.7 23.03h1.0m68.9 0h1.5m426.6 0h1.0"/>
<path stroke="#666600" d="M822.3 1531.92h0.8m-434.2 23.03h1.5m13.9 0h0.8m273.6 0h2.0m113.2 0h1.2m-658.1 46.06h2.0m47.6 0h1.5m45.6 0h2.5m9.2 0h3.5m40.7 0h1.5m10.8 0h1.5m19.2 0h1.2m163.2 0h1.0m440.9 0h2.0m-676.5 23.03h1.5m17.1 0h2.5m-155.0 23.03h1.5m41.4 0h1.5m411.2 0h2.0m1.0 0h1.5m37.3 0h1.0m119.1 0h1.5m4.0 0h1.0m12.3 0h1.0m17.7 0h1.5m11.0 0h2.0m6.5 46.06h0.8m2.0 0h1.1m36.0 0h1.0m-664.6 23.03h1.0m8.3 0h2.0m67.5 0h1.2m22.1 0h1.0m-121.9 46.06h1.0m7.0 0h1.5m442.8 0h1.2m1.5 0h1.0m194.5 0h1.2m114.0 0h2.0m2.5 0h1.2m18.3 0h1.1m-714.3 23.03h1.5m19.5 0h1.5m-73.2 23.03h1.2m31.1 0h1.0m15.3 0h2.0m339.1 0h2.5m36.7 0h1.5m125.9 0h2.8m-621.1 23.03h0.8m74.9 0h1.0m43.2 0h2.0m50.3 0h2.0m9.9 0h0.8m181.2 0h1.0m52.1 0h1.5m10.8 0h0.8m4.3 0h1.0m19.3 0h2.0m28.1 0h1.0m20.9 0h1.5m292.4 0h2.0m14.2 0h2.0m-801.4 23.03h1.0m4.2 0h1.5m34.8 0h1.0m3.5 0h1.0m15.4 0h0.8m377.2 0h1.0m22.0 0h0.8m169.8 0h1.5m78.6 0h1.5m-689.4 23.03h0.8m55.1 0h1.0m345.2 0h1.5m96.0 0h1.0m9.6 0h1.5m-410.2 23.03h2.5m155.2 0h1.5m-275.4 23.03h2.5m11.5 0h1.0m3.2 0h1.5m30.9 0h2.5m415.6 0h1.0m220.1 0h1.2m17.0 0h1.2m-546.2 23.03h1.5m-140.8 23.03h2.0m217.6 0h1.5m42.3 0h1.0m6.5 0h2.0m205.1 0h1.0m23.5 0h2.0m122.4 0h1.0m3.1 0h2.5m13.8 0h1.5m14.0 0h1.0m3.8 0h2.0m-658.9 23.03h1.0m80.0 0h2.0m222.8 0h1.5m106.5 0h1.5m2.0 0h2.5m-466.5 23.03h1.0m704.3 0h1.5m-692.0 23.03h1.2m169.2 0h1.5m547.7 0h2.5m-763.2 23.03h2.0m163.1 0h1.2m67.0 0h1.5m149.8 0h1.0m4.2 0h1.0m66.6 0h1.0m116.2 0h1.5m239.6 0h2.5m-795.2 23.03h1.5m18.8 0h1.5m780.0 0h2.5m-270.8 23.03h1.0m8.0 0h1.5m50.6 0h1.0m-556.0 23.03h1.5m145.7 0h2.0m277.1 0h1.0m40.2 0h0.8m37.7 0h2.5m76.8 0h2.5m59.7 0h1.2m26.4 0h1.0m77.5 23.03h1.0m-704.7 23.03h1.5m9.5 0h2.0m19.2 0h1.5m19.3 0h1.0m434.2 0h1.5m207.3 0h2.5m-779.1 23.03h1.5m11.4 0h0.8m49.7 0h2.5m499.4 0h1.0m32.1 0h1.5m-566.8 23.03h1.2m71.1 0h2.0m605.4 0h1.5m-638.7 23.03h1.2m9.1 0h1.0m610.9 0h2.0m-682.2 46.06h1.5m7.5 0h2.0m91.2 0h0.8m312.9 0h2.0m348.6 0h1.0m11.6 0h1.5m-772.2 23.03h0.8m410.7 0h2.5m43.8 0h1.2m9.5 0h1.0m-402.7 23.03h2.0m239.4 0h1.5m95.8 0h1.0m15.5 0h1.2m143.7 0h1.2m84.3 23.03h1.5m29.8 0h0.8m-715.2 23.03h1.2m8.0 0h1.0m6.8 0h2.0m14.8 0h1.0m14.5 0h1.0m303.4 0h0.8m44.7 0h2.0m-354.5 46.06h1.0m85.0 0h1.0m384.9 0h0.8m52.9 0h1.5m111.4 0h0.8m-561.0 23.03h2.0m555.6 0h2.0"/>
<path stroke="#737300" stroke-opacity="0.45" d="M474.4 1531.92h2.5m-198.1 23.03h0.8m97.0 0h0.8m161.7 0h1.5m315.5 0h2.5m-732.9 23.03h2.0m38.6 0h1.0m1.5 0h0.8m394.5 0h2.5m362.8 0h1.2m-787.6 23.03h1.2m19.7 0h2.5m13.8 0h2.5m583.2 0h0.8m-625.3 23.03h1.5m92.1 0h2.0m-66.4 23.03h1.0m14.4 0h1.0m554.5 0h2.0m2.8 0h1.0m29.7 0h1.0m19.5 0h1.5m0.8 0h0.6m-657.0 69.09h1.5m35.4 0h0.8m64.7 0h1.0m11.8 0h2.5m-127.1 46.06h2.5m686.5 0h1.5m-684.9 23.03h1.0m60.9 0h1.0m460.4 0h1.5m-550.3 23.03h2.5m52.1 0h1.0m468.1 0h0.8m-454.3 23.03h1.5m288.2 0h2.5m100.0 0h1.0m23.1 0h1.5m124.8 0h2.0m22.0 0h1.2m27.0 0h2.0m-593.2 23.03h1.5m37.1 0h1.5m400.7 0h0.8m4.7 0h1.5m256.4 0h1.5m-727.9 23.03h1.5m36.6 0h1.0m11.0 0h3.5m571.9 0h1.2m4.2 0h3.0m-577.8 23.03h0.8m666.6 0h1.2m-750.2 23.03h1.2m679.6 0h1.5m117.3 0h2.0m-755.5 23.03h2.5m551.1 0h1.0m5.0 0h1.5m10.8 0h1.0m-583.8 23.03h1.2m167.0 0h2.0m77.2 0h1.0m254.9 0h1.0m48.7 0h0.8m104.0 0h2.0m-706.0 23.03h1.5m12.5 0h1.5m58.8 0h1.2m73.6 46.06h2.5m399.6 0h1.0m-489.7 23.03h1.5m49.3 0h0.8m199.7 0h1.5m143.8 0h2.0m43.4 0h0.8m47.0 0h0.8m-563.6 23.03h1.0m139.0 0h1.5m549.0 0h2.4m18.6 0h1.5m-604.1 23.03h1.0m7.8 0h1.0m428.1 0h1.2m43.3 0h1.5m-599.3 23.03h1.5m16.1 0h0.8m80.2 0h1.5m469.0 0h1.2m121.0 0h2.5m-598.8 46.06h1.0m63.7 0h0.8m-94.4 23.03h1.5m93.2 0h1.5m581.9 0h1.0m-631.0 23.03h1.0m48.6 0h0.8m205.0 0h2.5m343.9 0h0.8m1.0 0h2.0m12.5 0h2.0m-672.6 46.06h1.2m14.8 0h1.0m378.3 0h1.5m65.0 0h2.0m-417.5 23.03h1.5m20.6 0h1.5m576.8 0h1.0m21.0 0h1.0m85.6 0h1.0m-703.3 46.06h1.0m292.7 0h1.0m46.5 0h1.0m-439.4 46.06h1.5m38.8 46.06h2.0m106.1 0h2.0m413.1 0h1.2m4.3 0h1.5m-359.8 23.03h1.2m50.4 0h1.0m283.2 0h1.5m101.7 0h2.5"/>
<path stroke="#737300" stroke-opacity="0.7" d="M824.1 1531.92h1.0m20.5 0h2.0m-407.8 23.03h1.0m74.9 0h2.0m1.2 0h1.0m24.7 0h1.0m287.8 0h1.0m-123.7 23.03h1.5m-588.3 23.03h3.2m275.2 0h0.8m208.8 0h2.0m136.6 0h1.5m28.7 0h1.0m11.2 0h1.0m104.3 0h0.8m-632.0 23.03h1.2m-145.2 23.03h2.5m435.1 0h2.0m15.5 0h1.0m32.3 0h2.5m12.9 0h1.5m-394.7 46.06h1.5m12.9 0h1.2m513.4 0h1.5m-605.8 23.03h1.2m-21.0 46.06h2.0m100.0 0h1.0m398.0 0h0.8m6.2 0h1.0m156.0 0h1.0m-622.9 23.03h1.5m89.5 0h2.0m163.8 0h0.8m-295.0 23.03h2.0m23.5 0h1.2m409.3 0h1.0m-434.4 23.03h1.5m66.0 0h1.5m56.8 0h2.0m260.2 0h2.0m18.4 0h1.0m45.9 0h2.5m7.2 0h1.0m90.3 0h1.5m138.2 0h1.5m44.7 0h1.5m-698.1 23.03h1.2m40.9 0h2.0m1.0 0h2.5m20.5 0h1.0m390.0 0h1.0m177.3 0h1.0m76.7 0h1.5m-229.1 23.03h1.5m-551.9 23.03h2.5m148.2 0h0.6m114.7 0h1.2m439.3 23.03h1.5m106.1 0h1.1m-666.8 23.03h1.5m482.5 0h1.5m-600.5 23.03h1.5m175.0 0h1.5m107.4 0h1.2m36.8 0h0.8m298.2 0h1.0m-626.9 23.03h2.0m-48.6 23.03h2.5m56.5 23.03h1.5m-41.9 23.03h2.0m50.7 0h2.0m40.6 0h2.0m218.7 0h1.5m88.1 0h2.0m-399.1 23.03h1.0m665.7 0h1.0m-118.4 23.03h1.0m157.6 0h1.0m-613.4 23.03h1.0m42.3 0h1.0m647.6 23.03h1.2m-698.7 23.03h1.0m701.3 0h1.0m-812.5 23.03h0.8m50.8 0h1.2m63.3 0h2.5m24.6 0h1.0m267.5 0h1.5m296.7 0h1.5m-638.0 23.03h1.5m26.3 0h2.5m244.6 0h0.8m183.6 0h0.4m19.6 0h1.5m177.3 23.03h0.8m-247.0 23.03h2.0m315.2 0h1.0m-715.2 23.03h1.5m29.3 0h1.5m29.4 0h1.0m6.6 0h1.5m-143.0 23.03h1.2m57.0 0h0.8m382.1 0h1.5m-73.8 23.03h2.0m-317.9 46.06h1.5m17.1 46.06h1.0m470.3 0h1.5m176.8 0h1.6m-625.4 23.03h1.0m62.0 0h1.5m51.7 0h2.0m330.1 0h1.0m101.2 0h1.5m82.8 0h1.2"/>
<path stroke="#737300" d="M815.0 1531.92h1.5m-603.2 23.03h0.8m31.6 0h1.0m78.8 0h1.0m26.8 0h1.2m137.0 0h0.8m-234.2 23.03h1.0m331.4 0h2.0m7.4 0h0.8m307.6 0h1.2m-343.4 23.03h1.0m57.3 0h1.0m9.3 0h2.5m89.8 0h2.5m194.2 0h1.2m1.5 0h1.5m-812.5 23.03h1.0m13.6 23.03h2.0m27.9 0h2.5m421.2 0h1.0m39.2 0h2.0m21.6 0h2.5m-403.9 46.06h1.0m28.4 0h2.0m481.7 0h1.5m17.3 0h0.8m32.8 0h0.8m2.5 0h0.8m3.0 0h0.8m26.8 0h1.2m-719.5 23.03h1.0m302.2 23.03h1.0m404.5 0h1.0m-695.6 23.03h1.0m38.9 0h1.5m48.8 0h1.5m42.9 0h4.0m317.7 0h0.8m240.4 0h1.5m-678.6 23.03h0.8m40.8 0h1.5m54.2 0h1.5m15.4 0h0.8m665.7 0h1.5m-758.2 23.03h1.0m57.1 0h1.0m14.7 0h1.2m5.8 0h2.5m360.2 0h2.0m-449.5 23.03h2.0m8.0 0h1.0m46.2 0h2.0m18.3 0h2.0m131.0 0h1.0m113.1 0h0.8m1.6 0h2.0m6.0 0h1.5m54.7 0h1.0m269.8 0h1.5m27.5 0h2.5m57.0 0h1.0m-748.4 23.03h1.0m20.8 0h1.5m49.3 0h1.5m312.1 0h1.5m10.0 0h1.0m26.1 0h1.0m11.7 0h0.8m295.9 0h1.2m-709.0 23.03h1.5m391.5 0h1.0m3.0 0h0.8m61.2 0h2.0m12.3 0h2.0m9.3 0h2.5m100.7 0h0.7m136.2 0h1.5m-750.9 23.03h1.5m51.2 0h0.8m683.0 0h3.7m-813.9 23.03h2.0m43.8 0h3.5m80.4 23.03h1.2m499.3 0h1.5m-579.2 23.03h1.0m32.5 0h1.0m145.2 0h2.5m4.7 0h1.2m80.3 0h1.5m133.4 0h1.5m236.7 0h1.0m-626.5 23.03h1.2m66.9 0h1.5m14.0 23.03h1.5m11.4 0h2.0m79.6 23.03h1.0m-194.5 23.03h2.5m63.7 0h1.5m110.7 0h1.2m230.4 0h1.5m281.3 23.03h0.1m-749.3 23.03h2.5m140.5 0h0.8m404.5 0h2.0m31.3 0h1.5m11.0 0h1.0m117.2 0h1.2m-708.0 23.03h1.5m124.8 0h1.0m231.7 0h0.8m126.6 0h2.5m36.5 0h1.0m55.6 0h0.8m27.3 0h1.5m128.6 0h0.8m84.7 0h0.8m-698.1 69.09h0.8m674.8 0h1.0m14.5 0h1.0m-726.9 23.03h1.5m39.7 0h1.2m21.8 0h1.0m49.0 0h2.5m281.2 0h1.0m313.0 0h1.5m-722.0 23.03h1.0m673.0 0h0.8m-742.9 23.03h1.0m19.6 0h0.8m25.4 0h1.5m50.6 23.03h1.5m25.9 0h1.0m15.1 0h1.0m534.3 0h1.5m45.2 0h0.8m-712.5 23.03h0.8m8.0 0h2.5m431.0 0h1.2m46.8 0h1.0m15.6 0h1.0m90.8 0h1.5m-614.1 23.03h2.0m10.5 0h1.5m22.5 0h0.8m2.3 0h2.5m19.1 0h1.5m35.3 0h1.0m39.8 0h2.0m6.7 0h1.0m126.1 0h0.8m149.6 0h0.6m53.6 0h1.0m3.5 0h1.0m207.3 0h1.5m-598.5 23.03h0.8m51.4 0h1.2m-168.6 23.03h2.0m1.2 0h2.0m32.2 0h1.5m13.3 0h2.5m-8.1 46.06h1.0m9.2 0h1.0m35.9 0h1.2m490.3 0h0.8m11.5 0h2.0m19.0 0h1.5m-463.6 23.03h1.5m24.5 0h1.5m128.9 0h1.5m259.4 0h1.5m7.4 0h1.0m82.6 0h0.8m80.6 0h0.7"/>
<path stroke="#808000" stroke-opacity="0.45" d="M839.6 1531.92h1.0m-728.6 23.03h2.5m442.3 0h0.2m-423.8 23.03h1.5m47.2 0h1.0m107.2 0h2.5m621.6 0h2.4m-782.8 23.03h2.0m3.2 0h2.5m14.3 0h0.8m410.5 0h1.2m15.7 0h2.0m154.2 0h1.0m202.2 0h1.4m-799.2 23.03h0.8m83.1 0h1.0m3.5 0h1.0m41.5 0h2.5m-147.0 23.03h1.5m4.2 0h2.5m441.2 0h1.0m191.9 0h1.2m-538.9 46.06h1.2m603.4 0h2.0m12.0 0h1.0m77.6 46.06h1.5m-679.7 23.03h1.5m306.9 0h2.5m22.7 0h2.0m61.4 0h1.2m155.7 0h2.0m-691.1 23.03h1.2m93.6 0h1.5m-73.4 23.03h1.0m117.1 0h2.5m317.4 0h2.5m-450.6 23.03h1.0m23.2 0h2.5m157.5 0h2.5m4.0 0h1.5m19.8 0h1.2m173.5 0h1.0m17.5 0h2.0m96.5 0h0.8m127.7 0h1.5m15.8 0h2.5m-608.9 23.03h2.5m87.5 0h1.0m10.5 0h1.5m289.6 0h2.0m54.1 0h1.5m168.1 0h1.5m-71.9 23.03h1.2m55.4 0h1.5m-507.0 23.03h2.0m652.3 0h0.8m-779.1 23.03h2.5m51.6 0h1.2m5.4 0h2.0m-67.8 23.03h1.0m117.6 0h1.5m-110.7 23.03h1.5m330.9 0h1.0m83.3 0h1.2m20.7 0h1.0m268.4 0h0.8m-664.8 23.03h1.5m66.2 0h2.5m10.8 0h0.4m640.8 0h2.0m-720.8 46.06h1.0m257.7 0h2.5m303.9 0h2.0m-614.4 23.03h1.0m48.6 0h1.5m581.4 0h2.0m-627.1 23.03h2.0m41.3 0h1.0m-89.1 23.03h2.0m593.8 0h1.2m9.9 0h1.5m107.3 0h1.5m-696.3 23.03h1.5m1.5 0h1.5m46.2 0h2.0m32.0 0h1.0m340.6 0h1.0m79.2 0h2.5m242.8 0h2.0m30.9 23.03h0.8m-684.3 23.03h0.8m9.3 0h1.5m13.8 23.03h0.8m-136.1 23.03h2.5m77.9 0h0.8m201.1 0h2.5m200.2 0h1.0m44.3 0h2.5m20.2 0h1.0m24.2 0h2.0m54.9 0h1.5m173.2 0h2.0m-811.5 23.03h2.5m80.0 0h4.0m19.6 0h1.5m131.4 0h1.5m-199.9 23.03h1.5m71.1 23.03h1.5m23.4 0h2.0m168.2 0h1.5m136.7 23.03h0.8m65.0 0h2.0m96.6 0h1.0m-594.1 23.03h1.5m124.5 0h1.0m164.0 0h1.0m-163.3 23.03h1.5m570.7 0h2.5m-659.6 23.03h1.0m-76.2 46.06h1.2m121.8 0h1.0m3.3 23.03h2.0m12.8 0h1.5m143.7 0h1.0m261.0 0h1.0m30.5 0h1.5"/>
<path stroke="#808000" stroke-opacity="0.7" d="M847.6 1531.92h1.5m-582.1 23.03h1.5m81.5 0h1.0m85.5 0h0.8m57.5 0h2.5m279.8 0h1.0m71.5 0h1.5m-67.2 23.03h2.0m-672.7 23.03h1.5m47.4 0h1.8m25.7 0h1.8m376.9 0h1.0m186.2 0h1.5m-610.6 23.03h1.5m24.0 0h1.0m16.3 23.03h1.2m443.4 0h1.5m-483.9 69.09h1.5m42.6 0h0.1m5.2 0h1.5m23.2 0h2.0m40.4 0h2.0m-45.3 23.03h2.0m28.9 0h1.5m-92.2 23.03h1.0m13.7 0h2.5m14.0 0h1.5m388.8 0h2.0m24.3 0h1.5m218.7 0h1.5m-699.1 23.03h1.5m77.1 0h1.5m537.2 0h1.0m-616.9 23.03h1.5m508.7 0h2.0m-480.3 23.03h1.5m16.0 0h1.5m2.5 0h1.5m288.9 0h2.0m26.3 0h0.8m9.5 0h1.0m10.0 0h1.5m47.0 0h1.2m15.0 0h0.8m2.3 0h1.5m59.3 0h1.0m121.7 0h1.5m142.0 0h2.5m-752.9 23.03h2.0m10.2 0h1.5m56.6 0h1.5m534.4 0h1.0m-584.1 23.03h2.5m6.0 0h2.5m17.6 23.03h1.0m10.9 0h1.0m-37.0 23.03h0.8m600.8 0h1.5m38.1 0h2.0m-680.6 46.06h1.5m48.8 0h1.5m16.6 0h2.5m253.6 0h2.0m104.2 0h2.5m40.3 0h0.8m302.2 0h2.0m-804.2 23.03h1.0m598.7 0h0.8m-479.7 23.03h1.2m539.1 23.03h0.5m101.5 0h2.5m-784.5 23.03h1.0m68.3 0h1.0m35.6 0h1.0m59.6 0h1.0m107.7 0h1.5m254.5 0h1.5m-540.4 23.03h1.0m12.0 0h1.5m696.0 0h2.0m-696.2 23.03h1.2m63.8 0h2.5m3.5 0h2.0m39.4 0h1.5m576.1 0h1.0m-671.9 23.03h0.8m114.8 0h1.5m299.2 0h1.5m287.5 0h1.5m84.5 0h2.5m-727.4 69.09h1.5m24.6 0h1.0m-105.9 23.03h2.0m339.8 0h1.0m50.9 0h1.0m329.4 23.03h0.2m-705.5 23.03h2.0m423.8 0h0.8m31.9 0h1.2m15.0 0h1.0m-415.5 23.03h1.2m60.6 0h0.8m559.6 0h1.5m-663.0 23.03h1.5m10.3 0h2.0m434.9 0h1.5m5.5 0h2.0m6.0 0h0.8m-496.5 23.03h1.0m38.6 0h1.0m29.6 0h1.0m37.5 0h2.0m555.4 0h0.8m-561.6 23.03h1.5m9.3 0h1.5m554.5 0h2.5m14.6 0h1.0m-699.9 69.09h1.5m75.2 23.03h2.5m8.2 0h2.0m463.8 0h1.2m28.0 0h1.0"/>
<path stroke="#808000" d="M851.1 1531.92h0.8m77.8 0h2.5m-687.6 23.03h1.0m16.1 0h1.0m11.7 0h1.0m47.5 0h1.0m46.8 0h2.0m34.3 0h0.8m12.7 0h1.2m19.0 0h2.5m276.4 0h1.0m72.2 0h1.0m23.5 0h1.0m30.2 0h1.0m1.5 0h1.0m-701.7 23.03h0.8m22.9 0h1.2m45.1 0h2.0m32.4 0h0.8m617.8 0h0.8m-695.5 23.03h1.5m3.7 0h1.2m13.7 0h2.5m572.6 0h2.5m-602.0 23.03h1.0m-41.9 23.03h1.0m41.6 0h1.0m385.5 0h0.8m58.9 0h1.5m112.2 0h1.0m-487.8 46.06h2.0m26.2 0h1.0m565.8 0h0.8m-674.2 23.03h2.0m34.5 23.03h0.8m53.4 0h2.4m9.3 0h1.5m220.9 0h2.0m65.6 0h1.5m-448.6 23.03h1.5m10.0 0h1.0m440.2 0h0.8m40.5 0h1.5m204.0 0h2.5m25.0 0h2.5m-727.6 23.03h1.0m2.7 0h1.0m47.5 0h1.0m1.2 0h0.8m18.1 0h1.5m219.9 0h1.5m191.1 0h1.2m198.1 0h1.2m-687.2 23.03h1.0m8.8 0h2.5m103.0 0h2.0m22.4 0h1.0m10.5 0h2.0m330.7 0h1.2m-459.7 23.03h2.0m98.2 0h0.8m204.6 0h1.0m91.4 0h2.5m8.9 0h1.0m23.3 0h0.8m84.1 0h0.8m47.4 0h1.0m2.5 0h2.5m108.6 0h1.2m-707.6 23.03h1.2m134.0 0h1.0m646.1 0h3.2m-186.0 23.03h0.8m6.2 0h1.5m-527.0 23.03h1.2m57.7 0h1.5m-113.2 23.03h0.8m31.1 0h1.5m30.1 0h1.5m597.2 0h1.2m-572.5 23.03h0.8m392.7 0h1.5m296.3 0h1.2m-720.1 23.03h2.0m5.5 0h2.0m18.3 0h2.3m184.5 0h1.0m47.2 0h1.0m82.5 0h0.4m13.8 0h1.5m35.7 0h0.8m184.6 0h1.5m41.4 0h2.0m105.9 0h0.6m-825.3 23.03h2.0m72.7 0h1.4m78.1 0h1.5m-44.9 23.03h1.0m-73.2 23.03h1.0m54.8 0h1.2m-19.8 23.03h1.0m52.6 0h2.5m318.3 0h2.5m19.2 0h1.0m5.0 0h1.5m33.9 0h1.0m-449.0 23.03h2.0m47.0 0h2.0m-10.1 23.03h2.0m42.3 0h1.0m7.7 0h2.0m404.2 0h2.0m-573.1 23.03h1.0m122.8 0h1.5m328.9 0h1.5m9.0 0h1.0m359.3 46.06h0.8m-686.4 23.03h1.5m602.8 0h1.2m-361.5 23.03h1.2m9.2 0h2.5m21.9 0h1.2m18.1 0h0.8m-359.5 23.03h1.5m397.1 0h0.8m246.5 0h1.5m15.4 0h1.0m-733.1 23.03h1.5m21.0 0h1.5m451.1 0h2.0m37.4 0h1.0m-427.0 23.03h2.5m46.7 0h1.0m1.8 0h2.0m151.5 0h1.2m7.5 0h1.0m379.1 0h2.0m8.8 0h1.0m25.8 0h1.0m-722.3 23.03h1.2m4.5 0h2.5m481.9 0h1.0m123.6 0h1.5m11.8 0h1.2m2.5 0h2.0m4.3 0h0.8m5.9 0h1.5m-402.3 23.03h2.0m17.3 0h1.5m231.8 0h2.5m195.3 0h1.5m1.5 0h3.0m30.2 0h1.5m-591.3 23.03h2.0m558.0 0h2.5m-643.8 23.03h1.5m-34.4 46.06h1.5m15.2 0h1.0m15.3 0h0.8m83.8 0h1.5m404.0 0h0.8m-429.9 23.03h1.5m475.5 0h1.2m47.1 0h0.8m20.7 0h0.8"/>
<path stroke="#8c8c00" stroke-opacity="0.45" d="M811.5 1531.92h2.5m-608.3 23.03h0.8m2.5 0h0.8m172.1 0h2.0m122.6 0h3.5m220.2 0h2.4m-577.8 23.03h2.5m18.0 0h1.0m15.4 0h1.2m307.1 0h2.5m32.0 0h1.5m-367.8 23.03h1.5m23.2 0h1.5m599.5 0h1.2m-665.2 23.03h2.5m1.0 0h1.5m65.0 23.03h1.0m436.2 0h0.8m-484.0 69.09h2.0m70.7 23.03h1.0m122.8 0h2.5m-224.3 23.03h1.2m1.0 0h1.0m31.8 0h1.2m428.8 0h1.5m22.5 0h2.0m10.3 0h2.5m6.2 0h1.0m168.2 0h1.0m-505.4 23.03h0.8m-147.1 23.03h1.5m46.8 0h1.2m9.0 0h0.8m4.0 0h2.0m53.2 0h0.8m-71.9 23.03h2.5m28.2 0h1.5m153.8 0h1.5m94.4 0h2.0m16.2 0h2.5m37.4 0h1.2m95.3 0h0.8m40.7 0h0.8m89.2 0h2.0m25.0 0h1.0m78.0 0h1.5m11.7 0h1.5m29.4 0h1.2m-753.4 23.03h1.5m61.8 0h1.0m32.7 0h1.0m516.0 23.03h1.5m4.5 0h1.0m-579.1 23.03h1.0m3.2 23.03h1.0m617.1 0h1.5m-603.7 23.03h2.5m-28.1 23.03h2.0m74.6 0h1.0m111.4 0h1.5m65.9 0h1.5m135.8 0h1.0m216.3 0h1.2m7.8 0h1.5m-710.8 23.03h2.0m89.9 0h1.0m38.7 0h1.0m684.1 0h1.5m4.8 0h2.0m-766.5 23.03h1.0m100.3 0h1.2m-124.0 23.03h2.5m-32.1 23.03h2.5m32.0 0h1.0m17.8 0h1.5m-27.8 46.06h2.0m565.5 0h1.2m138.8 0h0.1m-735.7 23.03h1.0m52.5 0h1.5m29.4 46.06h1.0m21.7 0h1.0m456.3 23.03h1.0m-542.2 23.03h2.0m423.4 0h2.0m16.5 0h2.0m51.5 0h1.0m-417.9 23.03h1.5m357.6 0h2.0m-395.2 23.03h2.2m38.4 23.03h1.0m11.8 0h2.5m562.5 0h2.0m16.8 0h1.0m10.0 0h1.0m3.2 0h1.5m-714.0 23.03h2.5m10.3 0h1.2m10.8 0h1.5m446.5 0h1.2m2.8 0h1.5m-406.5 23.03h2.0m18.3 0h1.5m1.0 0h1.5m37.3 0h1.5m88.0 0h1.0m131.9 0h1.0m320.7 0h1.0m-537.2 23.03h2.5m-156.9 23.03h1.0m40.7 0h1.5m4.3 0h1.0m8.5 0h0.8m-27.7 46.06h5.0m67.6 0h1.0m11.2 23.03h2.5m486.7 0h1.5m61.3 0h2.5"/>
<path stroke="#8c8c00" stroke-opacity="0.7" d="M247.7 1554.95h1.5m90.3 0h1.0m73.1 0h0.8m259.0 0h0.8m165.2 0h2.5m102.7 0h0.2m-740.8 23.03h0.1m55.0 0h1.0m-113.9 23.03h0.8m-30.0 46.06h1.5m532.2 0h1.2m-390.7 46.06h1.0m-85.4 23.03h1.5m82.2 23.03h1.0m295.0 0h0.6m-397.5 23.03h2.5m61.0 0h1.5m390.5 0h2.5m241.2 0h0.8m-610.3 46.06h2.5m-128.8 23.03h1.0m38.0 0h1.0m165.8 0h0.8m58.9 0h0.8m353.3 0h2.5m9.2 0h2.8m46.5 0h2.5m137.4 0h1.4m-741.0 23.03h2.5m12.8 0h1.5m22.0 0h2.0m25.7 0h2.5m301.9 0h1.5m-446.1 23.03h0.8m53.4 0h1.5m57.3 0h2.0m538.2 0h1.0m-587.0 23.03h2.5m13.4 0h1.0m32.5 0h1.5m607.1 23.03h1.5m79.9 0h1.0m-66.8 23.03h2.0m-547.6 23.03h1.2m145.4 0h1.2m337.4 0h2.5m43.8 0h1.2m6.4 0h1.5m50.2 0h0.5m14.7 0h3.5m-743.1 23.03h2.5m13.8 0h1.5m43.2 0h1.5m-132.6 23.03h1.5m122.4 0h1.5m-60.2 23.03h1.5m553.0 0h0.8m-476.4 23.03h2.0m-143.9 23.03h1.5m804.1 0h3.5m-237.0 23.03h1.0m-564.2 23.03h1.5m12.0 0h1.5m50.2 0h0.8m10.2 0h2.0m66.0 0h2.0m358.3 0h1.2m9.8 0h1.2m21.4 0h1.2m16.6 0h3.5m29.3 0h1.2m13.5 0h2.5m-552.0 69.09h1.2m51.6 0h0.8m28.1 23.03h1.0m326.7 0h1.5m106.9 0h0.8m37.0 0h1.5m192.6 0h2.0m-490.3 23.03h1.0m379.5 0h1.0m-716.7 23.03h0.8m286.9 23.03h1.5m419.7 0h2.5m-670.8 23.03h0.8m13.8 0h1.2m404.7 0h1.0m-301.6 23.03h1.2m294.7 0h2.5m264.1 0h1.0m46.3 0h0.8m-626.6 23.03h1.0m599.3 0h2.0m-742.3 23.03h1.0m10.5 0h1.0m27.7 0h1.0m32.8 0h1.0m-33.4 46.06h1.2m32.4 0h1.5m28.7 23.03h2.5m458.3 0h1.5m36.9 0h1.0m69.1 0h1.5"/>
<path stroke="#8c8c00" d="M244.1 1531.92h1.0m10.0 0h2.0m595.6 0h1.5m83.5 0h2.0m1.5 0h2.5m-725.9 23.03h1.2m32.4 0h2.5m1.5 0h0.8m61.5 0h2.0m70.6 0h2.0m98.3 0h0.8m43.1 0h2.0m259.5 0h1.5m143.5 0h2.0m-803.2 23.03h2.0m33.1 23.03h1.2m6.5 0h1.2m405.2 0h1.2m26.8 0h1.0m127.4 0h1.0m36.4 0h1.5m-647.0 23.03h2.5m10.5 0h1.5m-36.4 23.03h1.5m29.9 0h2.5m22.2 0h1.5m393.3 0h3.7m55.7 0h1.0m1.5 0h2.0m-392.5 46.06h2.5m-115.1 23.03h1.2m126.5 23.03h1.0m3.0 0h1.0m-137.9 23.03h2.5m30.5 0h1.0m1.0 0h2.5m50.2 0h1.5m440.9 0h2.5m188.4 0h1.0m-331.9 23.03h2.0m302.6 0h1.0m-688.9 23.03h1.5m12.7 0h1.5m-13.8 23.03h1.5m20.7 0h1.5m10.5 0h2.0m118.5 0h2.0m169.7 0h1.0m14.5 0h1.5m178.8 0h2.5m154.6 0h1.0m-654.2 23.03h1.0m5.0 0h2.0m31.9 0h2.5m363.4 0h1.0m37.6 0h1.5m15.1 0h2.5m159.7 0h2.5m-644.6 23.03h0.8m91.3 23.03h1.2m16.0 0h1.5m-51.3 46.06h1.2m417.0 0h2.0m19.8 0h1.0m-414.2 23.03h2.0m41.9 0h2.0m99.8 0h1.5m137.1 0h1.0m331.6 0h1.0m57.8 0h2.5m-753.1 23.03h0.8m1.0 0h2.5m11.9 0h2.5m15.2 0h0.8m212.6 0h1.2m174.5 0h1.0m7.2 0h2.0m-415.8 23.03h1.0m24.6 0h0.8m10.8 0h0.8m-50.1 46.06h1.5m74.7 0h2.0m10.5 0h1.2m0.8 0h2.5m7.5 0h2.0m-133.1 23.03h1.5m3.0 0h2.0m51.4 23.03h1.2m9.7 0h2.5m8.0 0h1.0m73.9 0h1.0m403.9 0h1.5m137.7 0h2.0m1.2 0h1.2m-681.3 23.03h1.5m10.8 0h0.8m48.6 0h1.5m10.5 0h1.0m-9.1 46.06h1.0m50.7 0h2.0m-123.8 23.03h1.5m17.0 0h2.0m63.2 0h1.5m479.9 0h1.0m-426.4 23.03h1.5m67.1 0h1.5m339.5 0h1.2m64.6 0h1.0m96.2 0h1.0m81.6 0h1.2m-424.6 23.03h1.0m-352.1 23.03h2.0m11.2 0h1.2m50.1 23.03h2.5m2.5 0h2.5m-111.7 23.03h2.5m66.4 0h1.0m412.4 0h1.0m-474.7 23.03h1.5m40.3 0h0.8m452.8 0h2.0m45.4 0h1.5m-423.0 23.03h1.0m603.7 0h0.8m-703.1 23.03h0.8m-16.7 46.06h0.8m35.0 0h1.0m78.7 0h1.0m4.2 23.03h1.0m158.9 0h1.2m354.4 0h1.2"/>
<path stroke="#999900" stroke-opacity="0.45" d="M279.4 1531.92h1.0m168.2 0h2.5m19.9 0h1.0m42.7 0h1.0m304.8 0h0.8m-399.5 23.03h1.2m395.4 0h1.0m112.8 0h1.2m-737.3 23.03h1.5m349.7 0h1.5m386.3 0h1.0m-791.9 23.03h2.0m626.7 0h1.0m-598.5 23.03h1.5m2.0 0h1.0m455.4 23.03h0.8m-392.1 46.06h2.0m1.0 0h1.0m-74.0 46.06h1.2m38.6 0h1.5m705.9 0h2.0m-299.4 23.03h2.5m226.7 0h1.5m-713.9 23.03h1.5m135.3 0h1.5m258.4 0h1.5m314.9 0h1.0m71.4 0h2.0m11.4 0h2.0m-735.1 23.03h2.0m-81.8 23.03h1.0m82.7 0h2.5m49.0 0h1.2m1.0 0h2.5m10.3 0h2.5m291.5 0h1.5m55.7 0h1.5m34.9 0h1.2m274.2 0h2.5m-717.8 23.03h2.0m352.1 0h2.5m-448.3 23.03h1.5m68.5 0h1.0m-1.9 23.03h1.2m-85.2 23.03h1.0m76.2 0h1.5m723.0 0h2.0m13.0 0h2.0m-627.4 23.03h1.5m436.7 0h2.0m-566.0 23.03h1.2m46.2 0h2.0m15.1 0h2.5m107.9 0h1.0m171.8 0h1.2m-331.4 23.03h2.5m43.6 0h1.2m102.1 0h1.0m587.1 0h1.0m-704.3 23.03h2.5m-92.6 23.03h1.5m72.7 0h0.8m380.8 0h2.0m164.3 0h0.8m18.2 0h1.5m-663.8 23.03h1.0m14.4 0h2.5m4.0 0h2.0m45.4 0h1.0m29.6 0h2.0m-84.8 23.03h1.0m32.0 0h1.0m-36.6 23.03h1.5m7.2 0h1.5m689.1 0h1.5m-687.3 23.03h2.0m10.9 0h2.5m57.5 0h2.5m344.6 0h4.0m15.0 0h1.0m149.1 0h1.2m57.5 0h0.7m140.0 69.09h1.2m-282.1 23.03h1.2m-135.9 23.03h1.2m-270.1 46.06h1.0m120.4 0h1.0m441.5 0h0.8m33.9 0h2.5m-741.5 23.03h0.8m511.8 0h2.5m-423.5 23.03h1.5m15.3 0h1.5m50.0 0h1.0m306.7 0h2.5m62.9 0h1.0m112.5 0h0.8m75.4 0h0.8m-722.6 46.06h0.8m545.9 69.09h1.2m113.9 0h1.2"/>
<path stroke="#999900" stroke-opacity="0.7" d="M830.3 1531.92h0.8m-470.6 23.03h2.5m117.5 0h1.0m-367.8 23.03h1.5m-3.5 23.03h1.5m29.7 23.03h1.5m5.0 23.03h1.5m31.9 0h1.0m380.8 0h0.8m6.7 0h2.5m-316.9 46.06h1.0m14.7 0h1.0m-87.1 23.03h1.0m82.0 23.03h0.8m290.5 23.03h1.2m25.4 0h1.0m-173.9 23.03h2.0m266.8 0h1.2m-562.3 23.03h1.0m118.5 0h2.0m-120.6 23.03h0.8m36.2 0h1.0m3.0 0h2.0m104.2 0h0.8m86.3 0h1.5m36.5 0h1.5m218.9 0h1.2m12.8 0h1.0m174.4 0h2.0m72.9 0h0.5m49.5 0h1.0m-819.2 23.03h1.5m148.6 0h1.0m376.5 0h1.0m-450.8 23.03h1.5m603.5 0h1.2m-595.7 23.03h1.0m15.2 0h1.2m38.8 0h1.5m-137.2 23.03h2.0m6.0 0h2.2m49.5 0h2.0m745.5 0h1.0m-739.8 23.03h2.0m-20.9 23.03h1.5m12.2 0h0.8m201.8 0h1.5m23.8 0h1.0m52.6 0h1.5m119.9 0h2.5m21.4 0h2.0m112.3 0h1.2m163.7 0h2.5m-695.6 23.03h2.0m39.6 0h1.0m-107.8 46.06h0.8m19.4 0h1.0m627.7 0h1.5m-669.5 23.03h2.0m54.7 0h1.5m75.9 0h1.5m6.5 0h2.0m1.5 0h1.0m-80.8 23.03h2.0m-32.4 23.03h0.8m128.0 0h1.2m566.6 0h1.2m-325.5 23.03h2.5m98.4 0h2.0m8.8 0h2.0m130.7 0h2.5m153.1 0h1.0m1.5 0h2.0m12.0 0h1.5m-721.9 46.06h1.2m44.2 23.03h1.5m459.8 0h1.0m-480.4 23.03h1.0m123.6 0h2.5m277.5 0h1.5m66.5 0h2.5m84.1 0h1.5m119.4 69.09h1.0m-801.9 23.03h2.0m73.3 0h0.2m530.8 23.03h1.5m-501.6 23.03h1.5m27.0 0h0.8m579.6 0h1.2m-726.6 23.03h1.2m7.8 0h2.5m29.7 0h1.0m15.3 0h1.5m1.8 0h1.2m65.8 46.06h1.0m517.1 23.03h1.0m5.5 0h2.5m59.9 0h0.8"/>
<path stroke="#999900" d="M210.7 1531.92h1.0m625.4 0h1.5m5.0 0h1.0m-630.5 23.03h1.5m17.9 0h1.0m250.7 0h1.0m440.0 0h1.0m6.2 0h0.8m5.9 0h1.0m-791.7 23.03h1.0m103.4 0h1.0m566.2 0h1.5m57.4 0h1.0m2.5 0h0.8m10.4 0h0.8m-717.7 23.03h1.0m9.4 0h1.5m592.1 0h1.2m151.0 0h2.0m-815.0 23.03h1.0m31.8 0h2.5m70.1 0h1.0m31.2 0h2.5m10.2 0h1.8m-162.8 23.03h1.5m45.7 0h2.5m2.5 0h1.0m31.5 0h1.5m369.0 0h1.0m195.4 0h1.2m36.0 0h0.8m-436.0 92.12h0.8m208.9 23.03h1.0m73.0 0h0.8m-534.1 23.03h1.5m57.4 0h2.0m2.0 0h1.5m40.1 0h1.5m178.4 0h1.2m280.6 0h1.0m5.0 0h1.2m-566.2 23.03h1.5m38.0 0h2.5m54.8 0h2.0m21.2 0h1.0m30.2 0h1.2m-132.5 23.03h2.5m114.0 0h1.0m61.0 0h1.0m140.9 0h1.5m2.0 0h1.0m49.1 0h2.0m43.2 0h3.3m58.4 0h1.0m203.2 0h1.2m-702.9 23.03h1.5m64.4 0h0.8m48.6 0h2.5m8.0 0h2.0m309.0 0h2.8m8.8 0h1.5m32.1 0h2.5m9.0 0h2.0m21.8 0h1.5m154.0 0h1.2m-654.8 23.03h2.0m-18.0 46.06h1.5m6.5 0h0.8m52.9 0h1.5m16.6 0h1.2m8.5 0h1.2m591.7 0h2.0m120.3 0h2.0m8.2 0h0.8m-647.4 23.03h1.2m324.1 0h2.0m-494.1 23.03h1.0m17.9 0h1.2m365.6 0h2.5m98.3 0h1.5m56.5 0h1.0m2.0 0h0.8m33.3 0h1.5m136.0 0h1.0m-698.0 23.03h1.2m67.5 0h1.5m1.5 0h2.5m-60.1 23.03h0.8m66.7 0h2.0m-119.8 23.03h0.8m128.1 0h2.0m-71.9 23.03h2.0m35.8 0h1.0m38.1 0h2.0m8.0 0h0.8m8.0 0h0.8m-156.2 46.06h2.5m105.4 0h1.5m633.8 0h1.5m-744.7 23.03h1.0m11.1 0h1.0m39.5 0h1.0m80.7 0h2.0m373.8 0h1.0m116.4 0h1.0m48.8 0h1.5m140.4 0h2.0m3.2 23.03h1.5m3.8 0h0.4m-719.1 23.03h1.0m1.2 0h1.2m24.3 0h1.5m23.9 23.03h1.0m431.1 0h2.0m221.1 0h1.2m-825.0 23.03h1.0m91.5 0h2.5m115.3 0h1.0m71.4 0h0.8m143.4 0h1.5m31.0 0h0.8m77.5 0h1.0m89.4 0h1.0m39.2 0h1.0m150.7 0h2.0m-94.8 23.03h1.0m91.8 0h2.0m-713.8 46.06h1.0m3.1 0h1.5m21.3 0h1.5m508.4 0h1.0m57.6 0h1.0m-619.0 23.03h1.5m369.3 0h1.0m85.6 0h0.6m-540.3 23.03h2.0m114.9 0h0.8m270.4 0h2.0m333.1 0h1.5m-568.4 23.03h0.8m-117.7 23.03h1.5m12.3 0h1.0m18.0 0h2.0m59.3 46.06h1.0m9.0 0h2.5m-47.1 23.03h2.5m55.2 0h1.5m403.4 0h1.2m1.5 0h2.0m57.5 0h2.0"/>
<path stroke="#a6a600" stroke-opacity="0.45" d="M919.7 1577.98h1.0m-802.5 23.03h1.2m53.3 0h0.8m10.6 23.03h1.0m-31.7 23.03h1.5m416.4 0h0.8m-445.7 69.09h1.5m65.6 0h2.0m58.5 23.03h1.5m349.9 23.03h1.0m231.7 0h1.5m-720.6 23.03h1.5m7.9 0h1.5m19.0 0h2.5m5.8 0h0.8m13.2 0h1.2m2.8 0h0.8m18.8 0h0.8m41.1 0h2.0m20.6 23.03h1.0m-140.1 23.03h0.8m357.9 0h1.5m18.2 0h2.5m152.4 0h0.4m105.0 0h1.5m103.6 0h1.0m-754.7 23.03h1.5m103.6 0h1.0m2.0 0h0.8m372.6 0h2.5m180.4 0h1.0m-643.7 23.03h1.0m52.9 0h1.2m599.8 0h2.0m-549.9 23.03h1.0m13.8 0h1.5m672.2 0h1.0m-818.2 23.03h2.5m32.3 0h2.0m10.3 0h2.0m55.7 0h1.5m629.6 0h1.0m-714.2 23.03h0.8m139.3 0h2.5m-79.3 23.03h2.5m343.9 0h1.0m264.9 0h2.0m27.8 0h0.8m-467.3 23.03h1.5m-244.1 23.03h1.5m25.4 0h1.5m72.2 23.03h1.0m3.5 23.03h1.5m3.5 0h0.8m-105.9 46.06h1.0m448.7 23.03h1.5m334.3 23.03h0.8m-705.0 23.03h1.5m413.1 46.06h1.5m126.9 0h1.5m180.0 23.03h1.5m-700.2 46.06h1.0m29.4 0h3.3m264.9 0h1.0m287.2 0h1.0m15.5 0h1.2m-707.8 23.03h2.5m52.0 0h2.5m376.3 0h1.0m19.2 0h0.8m-476.8 23.03h1.5m40.0 0h1.2m81.2 0h1.0m308.5 0h2.0m14.7 0h2.5m250.0 0h1.5m3.0 0h0.8m69.0 0h2.0m-638.2 23.03h1.0m-98.8 23.03h1.0m13.8 0h0.8m72.3 69.09h1.2m6.0 0h1.2m10.7 0h1.2m444.2 0h1.0m2.0 0h1.0m71.3 0h1.0m143.3 0h1.2"/>
<path stroke="#a6a600" stroke-opacity="0.7" d="M230.9 1531.92h2.5m322.1 0h1.5m-327.0 23.03h2.0m10.0 0h1.5m15.3 0h1.5m5.5 0h1.2m-105.7 23.03h3.0m30.8 0h1.0m65.5 0h2.0m3.9 0h1.5m472.2 23.03h1.0m-628.7 46.06h2.0m86.2 0h2.4m396.5 0h2.5m5.0 0h1.0m168.9 0h1.5m-657.8 69.09h2.5m112.9 23.03h1.5m394.0 0h1.0m-14.0 23.03h2.5m-421.7 23.03h1.2m729.4 0h1.2m-735.9 23.03h1.5m78.0 23.03h1.2m44.0 0h1.5m94.3 0h0.8m356.9 0h0.8m-563.6 23.03h2.5m17.5 0h1.2m-109.5 23.03h1.0m655.5 0h1.0m-551.6 23.03h2.5m585.5 23.03h1.5m-31.7 23.03h2.5m-548.1 23.03h1.0m60.7 0h1.5m24.4 0h1.5m126.1 0h1.5m61.6 0h1.0m62.4 0h1.0m339.6 0h1.0m-656.4 46.06h1.0m-29.5 23.03h1.2m593.6 0h0.8m-689.9 46.06h2.0m29.5 0h2.0m49.6 23.03h1.0m582.5 0h1.2m-679.2 23.03h2.5m24.1 0h2.5m19.6 0h1.5m153.3 0h1.0m424.2 0h2.5m160.1 0h2.5m-723.8 46.06h0.8m34.6 0h0.8m11.6 0h1.5m489.6 23.03h1.5m100.7 0h2.5m-628.1 23.03h0.8m46.2 23.03h1.2m-154.7 69.09h2.5m56.9 0h1.5m445.0 0h1.0m-439.2 23.03h0.8m49.7 0h1.5m74.4 0h1.5m299.0 0h1.5m-370.6 23.03h1.2m-129.5 23.03h1.0m7.5 69.09h1.5m96.7 0h1.2m31.9 0h1.0m144.3 0h1.5m260.2 0h2.0m6.3 0h1.0m253.4 0h2.0"/>
<path stroke="#a6a600" d="M932.2 1531.92h1.0m-822.0 23.03h0.8m94.5 0h1.5m7.6 0h0.8m24.6 0h1.0m20.8 0h1.0m543.0 0h1.0m51.6 0h0.1m83.6 0h1.5m-696.5 23.03h2.5m103.3 0h1.0m533.6 0h0.8m-686.5 23.03h1.2m532.0 0h1.5m42.2 0h1.0m-662.2 46.06h0.8m486.8 0h2.0m181.9 0h1.0m-660.1 69.09h2.0m52.4 0h1.2m1.8 0h1.0m-30.6 23.03h1.0m90.7 0h2.5m334.7 0h2.0m-29.1 23.03h1.0m-49.5 23.03h1.2m422.8 0h2.5m-825.2 23.03h0.8m2.5 0h0.8m-6.3 23.03h1.2m13.3 0h1.0m82.2 0h1.5m11.3 0h2.0m1.5 0h1.2m68.7 0h1.0m71.0 0h2.0m1.5 0h0.8m6.1 0h1.5m31.2 0h1.2m121.0 0h2.5m47.8 0h1.5m7.4 0h3.0m344.1 0h1.2m-810.1 23.03h0.8m15.4 0h2.8m121.5 23.03h1.0m0.8 0h0.8m-76.4 23.03h0.8m12.1 0h0.8m-17.6 23.03h1.5m12.4 0h1.2m632.0 0h3.3m10.2 0h2.0m-729.9 23.03h2.0m23.3 0h2.0m130.7 0h1.5m-64.3 23.03h0.8m43.7 0h1.0m3.5 0h1.0m130.7 0h1.5m110.4 0h2.0m380.7 0h1.2m-668.2 23.03h0.8m67.1 0h1.5m-130.2 23.03h1.0m16.0 0h1.0m54.2 0h1.0m5.7 0h1.5m-26.7 69.09h1.5m618.5 23.03h1.0m-724.0 23.03h1.0m264.7 0h1.0m104.5 0h1.2m434.5 23.03h0.8m-713.4 23.03h2.5m61.0 23.03h0.8m654.0 0h1.5m-753.1 23.03h1.0m47.5 0h2.0m5.1 0h1.5m6.7 0h0.8m275.9 0h3.2m89.5 0h2.5m19.2 0h1.0m86.3 0h2.5m-481.9 23.03h1.0m-6.3 46.06h1.5m569.2 0h0.8m121.4 0h1.5m-815.4 23.03h1.5m445.3 0h1.2m77.6 0h1.0m-500.8 23.03h0.8m30.6 0h2.0m356.4 0h0.8m300.5 0h1.5m16.1 0h2.0m67.9 0h2.0m18.3 0h1.5m-662.7 23.03h0.8m-143.2 23.03h1.0m46.3 0h1.0m14.5 23.03h1.4m117.4 46.06h2.5m349.6 0h1.0m19.6 0h1.2m236.6 0h1.0"/>
<path stroke="#b2b200" stroke-opacity="0.45" d="M708.8 1531.92h1.0m-486.7 23.03h1.2m12.7 0h0.8m575.8 0h1.2m10.8 0h1.8m8.5 0h1.0m84.3 0h1.5m-778.8 23.03h1.2m781.8 0h2.5m-778.5 69.09h2.5m-38.4 69.09h1.5m31.4 0h1.5m-33.7 69.09h1.2m123.7 0h2.5m689.0 0h4.0m-801.9 46.06h1.0m139.5 0h1.0m192.4 0h2.5m268.2 0h2.5m135.6 0h1.5m-721.6 23.03h1.5m617.3 23.03h2.0m-567.4 23.03h1.0m3.0 0h1.5m47.8 0h1.5m-95.5 23.03h1.0m712.5 23.03h2.5m-717.0 23.03h2.5m75.4 0h0.8m20.9 0h1.5m66.9 0h1.5m34.9 0h2.0m108.0 0h2.5m335.9 0h1.2m-550.1 23.03h1.2m653.8 0h0.8m-783.4 23.03h1.0m11.8 0h0.8m-10.3 23.03h1.2m100.8 0h2.5m101.5 0h1.5m150.2 0h1.0m11.8 0h0.8m270.5 0h1.5m-589.7 23.03h1.0m736.6 23.03h1.0m-191.4 46.06h1.5m186.2 23.03h2.5m-727.6 46.06h2.5m370.9 23.03h2.0m350.8 23.03h2.3m-88.7 46.06h1.2m-702.6 46.06h2.0m29.6 0h1.0m71.1 0h1.0m81.7 0h1.2m-70.0 23.03h0.8m-150.1 23.03h1.0m24.9 0h2.0m56.6 69.09h1.0m21.4 0h1.5m47.5 0h2.0"/>
<path stroke="#b2b200" stroke-opacity="0.7" d="M257.1 1531.92h1.0m577.0 0h2.0m-33.6 23.03h0.8m24.1 0h2.0m104.8 0h1.2m-737.6 23.03h1.5m-64.5 23.03h1.2m30.2 0h1.0m8.0 0h1.5m-51.0 46.06h0.8m8.2 0h1.0m6.0 0h2.0m34.2 0h1.2m603.4 0h1.5m-552.0 92.12h1.0m-2.1 46.06h1.2m122.1 0h0.8m485.5 0h1.2m-579.7 46.06h1.0m61.3 0h1.5m139.4 0h1.0m35.7 0h1.5m75.1 0h1.5m9.3 0h1.2m29.7 0h1.0m-421.8 23.03h1.0m591.1 0h1.0m-568.7 23.03h0.8m-2.2 23.03h2.5m5.7 0h1.4m706.8 0h1.2m-103.5 23.03h1.0m-591.4 46.06h0.8m261.7 0h1.5m88.3 0h1.0m218.5 0h0.8m119.2 0h0.8m-712.5 23.03h1.5m5.3 0h1.0m6.0 0h2.0m64.6 0h1.5m622.5 0h1.5m-681.3 23.03h1.5m472.7 23.03h0.8m55.8 0h1.0m-647.7 23.03h0.8m8.2 0h0.8m12.8 0h0.8m37.8 0h1.5m74.6 0h2.0m-154.1 69.09h1.0m133.0 0h2.5m14.2 0h1.0m503.9 0h1.0m17.9 0h1.5m124.7 0h1.5m-717.7 46.06h1.5m33.9 0h2.5m12.8 0h1.0m-31.9 23.03h2.5m23.1 0h1.2m677.0 0h2.0m-678.1 23.03h2.0m257.8 0h1.5m204.9 0h2.5m205.8 23.03h2.5m-784.8 92.12h1.5m30.6 0h1.2m594.3 0h1.0"/>
<path stroke="#b2b200" d="M224.9 1531.92h1.5m36.3 0h1.0m550.3 0h1.0m109.2 23.03h1.0m-302.0 23.03h1.5m215.0 0h2.5m-695.2 23.03h2.5m35.6 0h1.5m-67.3 46.06h1.2m5.0 0h1.2m13.5 0h1.5m43.3 0h1.0m463.9 0h0.8m130.3 0h2.5m-618.8 69.09h1.2m15.2 0h1.0m23.2 23.03h1.2m13.8 0h1.5m260.2 0h2.0m127.7 0h1.5m40.2 0h0.5m-461.1 46.06h2.0m14.3 0h2.0m1.5 0h1.2m-77.4 46.06h1.0m86.3 0h1.5m72.1 0h1.0m195.9 0h2.0m30.0 0h1.0m36.7 0h2.5m51.4 0h2.0m-489.2 23.03h1.2m57.7 0h1.2m32.2 23.03h2.0m-18.2 23.03h1.2m19.1 0h1.0m34.5 0h1.0m10.6 0h1.2m644.4 0h2.5m-116.0 23.03h1.5m-642.8 23.03h1.5m7.2 0h1.5m74.8 0h1.5m128.7 23.03h1.2m115.7 0h1.2m31.5 0h1.5m15.4 0h1.5m94.2 0h2.5m107.4 0h1.5m172.6 0h1.5m8.2 0h3.0m-814.8 46.06h1.2m12.1 0h1.0m22.2 0h2.5m633.7 23.03h2.0m-648.6 23.03h1.5m21.6 0h1.0m11.8 0h1.0m7.0 0h1.0m72.4 0h2.5m6.4 0h2.5m532.3 46.06h0.8m-694.9 23.03h1.5m53.1 0h1.0m61.7 0h1.0m31.7 0h2.5m89.0 0h1.0m402.1 0h1.0m-548.4 23.03h1.0m21.3 23.03h0.8m-89.4 23.03h2.5m83.7 0h2.5m-12.4 23.03h2.0m339.2 0h1.0m170.9 0h0.8m47.6 0h0.8m19.3 0h1.2m-690.2 23.03h1.0m87.0 0h1.2m14.7 0h1.5m604.5 0h1.5m18.8 0h2.0m-587.3 46.06h1.0m274.0 0h1.0m296.7 0h1.0m13.2 0h1.0m-228.7 23.03h2.5m-378.0 23.03h1.5m175.5 0h2.5m89.3 0h1.0m35.5 0h1.5m213.9 0h1.0m0.9 0h1.0m99.7 0h1.5m-627.2 23.03h1.0m16.3 0h2.5m-141.8 23.03h1.0m27.9 0h2.0m36.6 0h1.0m36.9 69.09h1.0m44.0 0h2.5m657.5 0h2.0m1.2 0h1.2"/>
<path stroke="#bfbf00" stroke-opacity="0.45" d="M228.8 1554.95h1.2m27.8 0h1.0m13.7 0h1.0m-163.3 184.24h1.2m124.7 0h1.0m10.9 0h1.5m690.1 0h1.5m-744.5 46.06h0.8m446.1 0h2.0m-475.5 46.06h2.0m36.1 69.09h1.5m26.0 0h1.5m-84.2 46.06h2.5m49.1 0h2.5m84.1 0h1.0m-155.5 23.03h1.0m234.5 0h1.0m442.4 0h2.5m12.0 0h1.0m46.9 0h1.0m-622.3 23.03h1.2m21.8 0h1.2m659.0 0h1.0m-146.6 46.06h1.0m-511.5 92.12h1.5m-90.5 69.09h1.2m22.9 0h0.8m41.3 0h1.0m-137.8 23.03h2.0m121.7 0h1.0m243.8 0h0.8m117.1 0h1.5m94.9 0h1.0m98.2 23.03h1.5m41.9 0h1.5m-624.2 46.06h2.5m608.9 0h1.2m-698.5 46.06h1.5m178.3 0h1.0m311.9 0h1.0m164.1 0h1.0m-555.2 23.03h1.5m59.4 92.12h2.5m361.2 0h1.0m19.8 0h2.0m9.2 0h2.5m8.5 0h2.0m42.3 0h1.0m178.9 0h2.5"/>
<path stroke="#bfbf00" stroke-opacity="0.7" d="M207.1 1531.92h0.8m599.8 0h1.0m40.4 0h2.0m-41.8 23.03h2.0m-509.9 23.03h1.2m-143.0 23.03h2.5m35.1 0h0.8m29.5 138.18h1.5m2.5 0h1.5m16.4 0h1.0m-108.3 46.06h1.2m67.8 0h1.5m13.7 0h1.2m-114.2 46.06h1.0m130.7 0h1.5m76.0 0h1.5m464.9 23.03h1.0m-7.5 23.03h1.0m-567.6 23.03h1.5m-6.7 46.06h1.5m541.4 0h1.8m-449.7 23.03h0.8m539.7 0h1.0m-595.4 23.03h1.0m677.1 0h2.0m-173.7 46.06h2.5m-574.2 92.12h0.8m333.1 69.09h2.5m-399.9 23.03h1.0m101.2 23.03h1.0m26.9 46.06h1.0m22.9 0h1.5m550.8 0h1.5m-610.0 46.06h2.3m377.2 0h2.0m104.0 0h1.0m37.3 0h0.8m-494.5 23.03h1.5m12.8 0h2.5m-59.8 92.12h1.2m18.7 0h1.5m500.7 0h0.8m11.6 0h1.0m184.2 0h2.0"/>
<path stroke="#bfbf00" d="M676.2 1531.92h0.8m161.6 0h1.0m1.0 0h2.0m86.3 0h0.8m-720.0 23.03h2.5m36.9 0h0.8m21.0 0h1.5m-93.2 23.03h1.0m22.2 0h1.5m11.4 0h2.0m10.0 0h1.5m17.7 0h1.5m-95.8 23.03h1.5m3.8 0h1.0m-29.8 138.18h1.0m74.2 0h1.2m370.4 0h1.5m-387.0 46.06h1.0m66.0 0h2.5m10.5 0h1.2m151.8 0h1.2m-289.3 46.06h1.2m3.5 0h1.5m77.5 0h1.0m268.4 0h1.2m18.3 0h0.8m353.8 0h1.5m12.0 0h1.0m-681.3 69.09h1.0m23.4 0h2.0m-21.4 46.06h1.5m533.9 0h2.5m187.4 0h1.0m-690.0 23.03h1.2m145.5 0h2.5m467.0 0h1.0m3.9 0h0.8m-640.5 23.03h2.0m22.8 0h0.8m692.5 0h2.0m-168.5 46.06h3.5m-648.7 92.12h2.0m93.5 0h2.0m-8.7 23.03h0.8m-80.0 46.06h1.5m-2.2 23.03h1.5m340.3 0h1.5m7.3 0h1.0m101.6 0h1.5m39.2 0h2.5m6.5 0h2.0m114.4 0h1.2m-582.8 23.03h1.0m35.3 0h1.5m22.8 0h2.0m418.0 0h1.0m-387.3 46.06h1.0m591.1 0h1.0m66.6 0h1.0m10.1 0h1.5m-748.7 46.06h2.5m699.1 0h1.5m-660.2 115.15h0.9m446.6 0h1.2m13.9 0h1.0m97.6 0h2.0"/>
<path stroke="#cccc00" stroke-opacity="0.45" d="M229.4 1531.92h1.5m628.0 0h0.6m84.2 0h1.1m-707.0 23.03h2.0m571.5 0h1.5m3.8 0h0.8m-619.8 23.03h1.2m68.5 161.21h2.0m62.7 0h2.5m105.8 0h0.8m-328.9 46.06h1.0m537.1 0h1.0m-478.4 46.06h0.8m619.9 23.03h1.0m-20.0 23.03h1.0m162.5 23.03h0.8m-681.4 46.06h1.0m1.5 0h0.8m34.5 0h1.0m477.9 0h1.0m165.7 0h2.5m-782.8 23.03h1.2m64.4 0h1.5m33.6 0h1.5m-41.0 23.03h1.5m-60.3 46.06h1.2m97.7 0h1.0m305.5 0h2.5m-369.1 92.12h1.0m28.2 0h1.5m-43.8 69.09h1.5m733.0 0h1.0m-692.2 23.03h0.8m225.4 0h1.0m146.5 0h1.5m128.8 0h1.5m25.0 0h1.5m174.2 0h2.0m-821.2 23.03h1.2m471.7 0h1.5m232.5 0h1.0m107.8 0h1.5m-735.2 46.06h1.5m54.4 0h2.0m680.1 0h0.8m-678.0 46.06h1.0m-10.6 23.03h1.0m-49.5 92.12h1.0m72.6 0h1.0"/>
<path stroke="#cccc00" stroke-opacity="0.7" d="M819.0 1531.92h1.5m-592.9 23.03h1.2m50.8 0h1.3m542.5 0h1.2m-711.9 23.03h1.0m120.9 0h1.5m59.2 0h2.0m12.3 0h1.5m-149.2 161.21h1.5m44.6 46.06h1.0m69.9 0h1.0m585.8 46.06h1.0m-84.2 23.03h2.5m-562.3 46.06h0.8m704.9 0h1.2m11.5 0h2.0m-787.9 46.06h1.2m378.1 0h2.0m-362.0 23.03h1.0m630.5 0h1.5m-593.5 23.03h1.2m43.4 0h1.5m9.7 0h1.2m673.1 0h0.8m-213.5 46.06h1.3m-536.8 92.12h2.0m77.7 69.09h1.0m-37.0 23.03h1.0m222.3 0h1.2m287.8 0h1.2m4.7 0h0.8m14.0 0h1.0m-553.6 23.03h1.0m723.1 0h0.8m-693.5 46.06h1.6m1.0 0h2.0m-129.5 46.06h1.0m530.6 0h1.0m-423.0 23.03h1.5m519.6 92.12h2.0m69.7 0h0.8"/>
<path stroke="#cccc00" d="M277.4 1531.92h1.0m544.7 0h1.0m1.0 0h1.5m113.1 0h1.5m-706.8 23.03h2.5m27.6 0h1.2m549.0 0h0.8m15.8 0h0.8m2.2 0h1.5m8.2 0h2.0m83.8 0h0.8m-778.7 23.03h0.8m34.9 0h2.0m11.6 0h1.2m72.8 0h1.0m-76.2 161.21h1.2m11.8 0h0.8m3.9 0h1.0m26.7 0h2.5m-14.8 46.06h2.0m29.6 0h1.5m-68.4 46.06h1.0m599.9 23.03h0.8m-539.4 46.06h0.8m661.2 0h1.5m-786.5 46.06h0.8m131.5 0h1.5m371.2 0h0.8m106.5 0h2.5m-524.3 23.03h1.2m27.9 0h1.5m20.0 0h1.5m69.6 0h1.5m4.2 0h2.5m486.0 0h1.5m82.7 0h1.0m-656.6 69.09h0.8m-0.1 92.12h1.2m-71.6 69.09h1.5m40.9 0h0.8m12.4 0h1.5m-107.1 23.03h1.2m51.5 0h1.5m62.5 0h2.0m155.7 0h1.0m38.6 0h1.5m92.6 0h2.5m89.3 0h1.0m-451.7 23.03h0.8m41.1 0h0.8m588.6 0h1.0m-628.9 46.06h1.5m15.2 0h0.8m-12.9 46.06h1.5m30.5 0h1.5m317.5 0h1.0m45.0 0h1.0m29.5 0h1.2m126.5 0h1.5m21.4 0h2.0m54.3 0h1.5m43.9 0h1.5m-669.7 23.03h2.5m10.3 0h2.0m18.7 0h1.5m12.1 0h1.5m-39.1 92.12h1.5m85.2 0h1.5m481.0 0h0.5m22.6 0h1.0m97.7 0h1.0"/>
<path stroke="#d9d900" stroke-opacity="0.45" d="M428.0 1531.92h1.2m415.4 0h1.0m-591.6 23.03h1.5m603.1 0h0.8m-659.1 23.03h1.0m334.4 161.21h0.8m100.5 0h1.0m-431.0 46.06h1.0m15.7 0h2.5m24.2 0h1.0m1.5 0h0.8m68.8 0h1.2m133.8 0h0.8m25.9 0h1.5m-369.1 46.06h1.0m28.2 0h1.0m83.5 0h2.0m632.5 0h0.8m-621.5 69.09h1.0m-9.3 46.06h2.0m-21.6 23.03h1.5m40.5 0h1.5m24.6 0h2.5m33.4 0h2.5m168.2 0h1.5m363.1 0h1.2m-594.0 23.03h1.5m-142.0 138.18h0.8m83.8 0h1.0m731.4 69.09h1.2m-438.6 23.03h1.0m115.8 0h2.0m42.6 0h1.2m10.5 0h1.2m-446.1 23.03h2.0m600.6 46.06h2.0m1.0 0h0.8m-684.5 46.06h1.0m498.1 0h1.2m91.2 0h1.0m-506.9 23.03h1.0m-9.4 92.12h0.8"/>
<path stroke="#d9d900" stroke-opacity="0.7" d="M867.9 1531.92h1.0m-608.6 23.03h1.5m570.4 0h1.2m-593.0 23.03h1.5m-84.2 161.21h1.0m12.8 0h2.5m36.0 0h1.0m27.5 0h1.2m595.3 0h1.5m-631.0 46.06h1.5m76.3 0h1.5m-154.7 46.06h1.5m104.9 0h1.0m632.6 0h2.0m-96.6 23.03h0.8m156.0 46.06h2.0m1.2 0h2.5m-658.6 46.06h1.4m347.2 0h1.5m-509.9 23.03h2.5m10.8 0h1.0m108.4 0h2.5m124.5 0h2.5m451.4 0h2.0m-613.8 23.03h2.5m52.3 0h1.0m666.0 0h1.0m-711.6 46.06h2.5m55.7 0h0.1m219.9 0h2.0m-362.2 92.12h1.5m8.3 0h1.5m91.1 0h1.0m31.6 0h1.2m-60.4 23.03h2.5m586.6 46.06h0.8m49.1 0h1.0m-497.8 23.03h1.0m318.0 0h1.0m16.2 0h1.5m232.4 0h1.5m-707.0 23.03h0.8m698.2 0h1.0m1.5 0h1.5m-710.8 46.06h1.0m50.3 0h2.0m562.9 0h1.0m-618.5 46.06h1.0m32.0 0h1.0m315.0 0h1.5m61.2 0h2.5m-332.2 115.15h1.0m361.9 0h0.8m66.0 0h2.0m205.8 0h1.2"/>
<path stroke="#d9d900" d="M216.9 1531.92h1.0m25.4 0h0.8m689.2 0h2.0m-732.6 23.03h2.0m20.4 0h2.5m28.7 0h1.5m17.7 0h0.8m566.8 0h1.0m-229.6 23.03h1.2m-380.4 161.21h0.8m82.5 46.06h1.5m23.4 0h0.8m50.4 0h2.5m-269.5 46.06h1.0m20.7 0h1.5m100.0 0h1.5m529.1 23.03h1.0m147.9 46.06h2.0m-345.6 46.06h1.2m-465.8 23.03h0.8m136.8 0h1.5m117.6 0h1.2m-104.9 23.03h1.2m1.5 0h1.5m-164.9 46.06h1.0m62.7 0h2.5m44.5 0h2.0m-73.2 92.12h0.8m25.1 0h2.0m30.8 23.03h1.0m-12.9 69.09h2.0m89.5 0h2.5m346.2 0h2.0m58.9 0h2.5m75.2 0h1.6m151.1 0h1.0m-93.3 23.03h1.0m9.8 0h1.5m2.3 0h0.8m-616.5 46.06h1.0m578.0 0h2.0m-362.2 46.06h1.5m58.3 0h2.0m120.4 0h1.5m113.7 0h2.5m54.3 0h2.0m34.5 0h1.0m-624.4 23.03h1.5m13.3 0h2.0m-35.0 92.12h1.0m10.4 0h1.0m174.7 0h1.5m141.9 0h1.2m210.4 0h1.5m3.3 0h1.0m35.8 0h1.5m130.8 0h0.8"/>
<path stroke="#e6e600" stroke-opacity="0.45" d="M212.3 1554.95h1.0m617.1 0h1.0m-605.5 23.03h1.5m434.6 0h1.0m-454.9 161.21h2.0m-62.2 46.06h1.0m97.1 0h1.0m1.0 0h2.5m150.9 0h2.5m464.3 46.06h2.0m72.9 69.09h1.5m-831.6 46.06h0.8m55.8 0h2.5m76.8 0h1.0m-5.0 23.03h1.5m567.4 0h1.5m31.8 0h1.5m72.6 0h1.5m-726.3 69.09h1.0m18.0 115.15h1.0m12.4 46.06h1.5m15.4 0h1.5m19.3 0h1.5m-37.0 23.03h1.0m35.2 0h1.0m235.8 0h2.0m249.2 0h1.0m-533.8 23.03h0.8m2.8 0h1.5m-11.1 46.06h2.0m631.4 0h1.5m-88.5 46.06h1.0m-649.6 115.15h2.0m84.5 0h2.0m469.3 0h1.5m45.1 0h1.2m223.7 0h1.3"/>
<path stroke="#e6e600" stroke-opacity="0.7" d="M246.6 1531.92h2.0m16.6 0h2.5m-63.0 23.03h1.0m647.9 0h2.5m66.6 0h1.5m-766.9 23.03h2.5m58.9 161.21h1.5m54.4 46.06h1.0m26.4 0h1.2m29.7 0h1.0m-127.1 46.06h1.2m58.5 0h2.0m-50.1 69.09h1.5m203.9 69.09h1.0m39.8 0h1.5m356.3 0h0.8m-664.3 69.09h2.0m66.1 0h1.2m-0.3 161.21h0.8m699.7 0h0.8m3.5 0h1.2m2.2 0h1.5m-809.1 23.03h1.0m47.8 0h1.5m425.0 0h0.8m59.7 0h1.2m201.1 0h2.0m67.5 23.03h1.5m-745.9 92.12h0.8m169.0 0h1.5m-196.7 115.15h1.5m70.7 0h1.5"/>
<path stroke="#e6e600" d="M491.9 1531.92h2.0m-285.9 23.03h1.0m610.4 0h1.0m99.3 0h1.5m-366.5 23.03h1.2m-422.3 161.21h1.2m108.1 0h2.5m-0.7 46.06h1.2m137.9 0h2.5m-165.7 46.06h1.0m24.7 0h2.5m23.0 0h0.8m504.9 46.06h1.2m165.8 23.03h0.2m-21.6 46.06h1.2m-633.7 23.03h1.0m70.7 0h1.0m31.2 0h1.2m106.7 0h2.0m1.0 0h1.0m321.8 0h1.5m21.3 0h0.8m76.9 0h1.5m-659.6 69.09h1.5m-25.0 161.21h1.5m5.9 0h1.0m-129.0 23.03h2.0m78.9 0h1.0m53.0 0h1.0m-26.5 23.03h0.8m-33.3 46.06h1.5m1.5 0h2.5m-83.6 46.06h1.0m20.5 0h1.5m30.3 0h2.0m7.1 0h1.5m569.2 0h1.0m70.2 0h2.0m-626.0 115.15h1.0m323.6 0h2.0m211.7 0h2.5m16.9 0h1.2"/>
<path stroke="#f2f200" stroke-opacity="0.45" d="M803.5 1531.92h1.5m11.5 0h2.5m-575.5 23.03h1.2m575.7 0h1.5m5.5 0h1.0m-648.1 23.03h0.8m40.6 161.21h2.8m-21.3 161.21h1.0m111.0 46.06h1.5m455.4 0h2.0m77.7 23.03h1.2m72.4 0h0.8m-719.5 23.03h1.2m711.8 0h2.0m6.5 0h1.5m-809.2 46.06h1.0m71.6 0h1.0m13.5 0h1.0m6.4 0h1.0m1.0 161.21h1.5m2.8 0h1.5m32.8 0h2.5m350.1 23.03h2.0m79.4 0h1.0m-484.4 23.03h1.5m649.6 0h2.0m-648.8 46.06h1.2m24.1 0h1.5m-82.1 46.06h1.0m112.0 0h2.0"/>
<path stroke="#f2f200" stroke-opacity="0.7" d="M831.1 1531.92h2.5m20.6 0h1.2m-18.5 23.03h2.5m2.5 0h1.2m91.1 0h1.0m-796.8 23.03h1.5m53.0 0h1.0m67.3 207.27h2.5m112.3 0h2.5m493.6 46.06h1.2m-705.8 115.15h2.0m430.7 0h1.5m-370.7 46.06h1.5m11.3 0h1.0m9.2 0h2.2m14.6 0h1.5m-40.6 46.06h1.0m29.7 184.24h1.2m539.8 69.09h2.5m20.6 0h1.5m24.4 0h2.0m-643.4 46.06h2.0m6.0 115.15h1.5m486.2 0h2.0m89.6 0h1.5m141.1 0h1.5"/>
<path stroke="#f2f200" d="M220.4 1531.92h1.2m11.8 0h1.0m-33.7 23.03h2.0m621.9 0h1.0m101.6 0h1.5m-801.0 23.03h1.5m8.0 0h1.2m4.5 0h1.0m119.7 0h1.5m1.2 0h1.2m612.4 253.33h1.0m-88.4 46.06h2.0m-679.7 69.09h2.0m110.6 0h1.5m2.0 0h1.5m14.0 0h2.5m11.9 0h2.5m331.5 0h1.0m246.3 23.03h1.5m6.0 0h1.5m-621.4 23.03h1.5m4.0 0h2.5m7.3 0h1.0m677.8 0h2.5m-745.6 46.06h0.8m10.7 0h1.0m13.3 0h1.2m52.8 0h1.5m513.8 0h1.5m-558.3 115.15h0.5m-15.5 46.06h2.5m45.8 0h0.8m6.5 0h1.0m1.0 0h0.8m-45.3 23.03h2.5m35.6 0h2.5m13.5 0h1.5m293.9 0h0.8m16.0 0h1.5m58.0 0h1.5m-435.2 23.03h1.5m645.6 0h1.0m-658.3 46.06h2.0m613.8 0h2.0m30.5 0h1.5m-654.7 46.06h1.2m82.1 0h1.5m-74.2 115.15h1.0m563.2 0h1.5m5.0 0h2.0"/>
<path stroke="#ffff00" stroke-opacity="0.45" d="M242.1 1531.92h1.2m18.6 0h0.8m10.5 0h1.5m583.2 0h1.0m52.2 0h2.0m-696.7 23.03h1.5m2.7 0h2.5m26.9 0h1.5m12.3 0h0.8m8.9 0h1.0m1.8 0h2.5m529.0 0h1.5m3.5 0h0.8m111.6 0h1.0m4.5 0h1.5m4.2 0h3.7m-829.9 23.03h2.5m7.7 0h0.8m46.1 0h1.5m0.8 0h0.8m15.8 0h1.5m6.2 0h1.2m0.4 161.21h1.0m2.5 0h1.0m666.6 92.12h1.5m-569.9 115.15h1.5m442.7 0h1.2m8.3 0h1.5m59.5 23.03h0.8m108.9 0h1.0m-719.0 23.03h2.0m10.4 0h1.2m7.5 0h1.5m5.3 0h1.5m25.9 0h1.5m14.8 0h1.5m-82.9 46.06h1.5m598.5 0h2.0m2.0 0h1.0m-593.2 184.24h0.8m362.9 0h2.0m32.3 0h1.0m161.3 0h3.2m156.0 23.03h1.5m-103.6 46.06h2.5m12.5 0h2.5m96.9 161.21h2.5"/>
<path stroke="#ffff00" stroke-opacity="0.7" d="M810.5 1531.92h1.0m-579.5 23.03h1.5m35.0 0h2.5m533.3 0h2.5m39.3 0h1.5m-677.2 23.03h2.5m12.3 0h1.0m-1.5 161.21h1.0m25.5 161.21h1.0m39.1 46.06h1.5m485.6 0h1.5m85.3 23.03h1.5m4.0 0h2.5m20.8 0h1.5m69.1 0h0.8m4.8 0h1.0m3.5 0h1.2m-690.0 23.03h1.2m679.1 0h1.2m-754.0 46.06h2.0m23.5 0h1.0m579.8 0h1.5m-570.7 161.21h1.0m31.1 0h1.5m-31.5 23.03h2.5m401.3 0h1.2m130.5 0h2.5m23.9 0h0.8m144.4 23.03h2.5m-63.4 46.06h0.7m-644.6 161.21h2.0m13.0 0h0.8m695.2 0h1.5m15.1 0h1.0"/>
<path stroke="#ffff00" d="M122.9 1531.92h2.0m109.5 0h2.0m1.0 0h1.5m1.2 0h2.0m-23.0 23.03h1.5m3.7 0h0.8m14.7 0h1.2m5.7 0h1.0m567.9 0h1.0m5.3 0h1.5m24.2 0h1.0m3.5 0h1.5m75.1 0h1.2m-784.8 23.03h1.5m0.8 0h2.0m31.7 0h0.8m1.0 0h2.3m-41.3 161.21h0.8m97.0 0h1.2m-38.7 161.21h2.5m-57.1 46.06h1.0m24.4 0h2.0m111.3 0h1.5m20.9 0h1.0m547.0 23.03h0.7m60.2 0h1.5m18.6 0h1.2m2.0 0h1.2m-733.8 23.03h1.0m3.7 0h2.0m20.5 0h1.5m18.4 0h1.0m677.2 0h0.8m-825.1 46.06h1.5m28.7 0h2.5m50.0 0h0.8m35.9 0h1.0m551.9 0h2.5m-537.5 161.21h1.2m-13.1 23.03h1.5m38.5 0h2.0m347.3 0h1.5m11.0 0h2.3m99.2 0h2.0m180.6 0h2.0m-1.5 23.03h1.5m16.8 0h1.5m-134.2 46.06h1.5m-601.4 161.21h1.0m713.6 0h2.4"/>
</g>
<rect x="110.2" y="1484.8" width="170.7" height="18.1" fill="#F8766D"/>
<rect x="283.4" y="1484.8" width="168.1" height="18.1" fill="#D39200"/>
<rect x="455.1" y="1484.8" width="101.9" height="18.1" fill="#93AA00"/>
<rect x="560.6" y="1484.8" width="93.2" height="18.1" fill="#00BA38"/>
<rect x="657.0" y="1484.8" width="75.6" height="18.1" fill="#00C19F"/>
<rect x="736.0" y="1484.8" width="64.4" height="18.1" fill="#00B9E3"/>
<rect x="803.5" y="1484.8" width="56.0" height="18.1" fill="#619CFF"/>
<rect x="862.4" y="1484.8" width="54.2" height="18.1" fill="#DB72FB"/>
<rect x="919.7" y="1484.8" width="25.1" height="18.1" fill="#FF61C3"/>
<g font-family="DejaVu Sans, Verdana, sans-serif" font-size="15.7" fill="#383838" text-anchor="end">
<text x="101.3" y="1537.7">VPREB1</text>
<text x="101.3" y="1560.7">DNTT</text>
<text x="101.3" y="1583.8">IGLL1</text>
<text x="101.3" y="1606.8">PRDX1</text>
<text x="101.3" y="1629.8">CLEC11A</text>
<text x="101.3" y="1652.9">TUBB</text>
<text x="101.3" y="1675.9">CDK6</text>
<text x="101.3" y="1698.9">SPINK2</text>
<text x="101.3" y="1722.0">STMN1</text>
<text x="101.3" y="1745.0">MPO</text>
<text x="101.3" y="1768.0">LAT2</text>
<text x="101.3" y="1791.0">AC002454.1</text>
<text x="101.3" y="1814.1">CD34</text>
<text x="101.3" y="1837.1">MIF</text>
<text x="101.3" y="1860.1">HMGA1</text>
<text x="101.3" y="1883.2">TUBA1B</text>
<text x="101.3" y="1906.2">PRSS57</text>
<text x="101.3" y="1929.2">SOX4</text>
<text x="101.3" y="1952.3">SOCS2</text>
<text x="101.3" y="1975.3">ZCCHC7</text>
<text x="101.3" y="1998.3">GNA15</text>
<text x="101.3" y="2021.3">HMGB1</text>
<text x="101.3" y="2044.4">TYMS</text>
<text x="101.3" y="2067.4">IMPDH2</text>
<text x="101.3" y="2090.4">PTMA</text>
<text x="101.3" y="2113.5">GSTP1</text>
<text x="101.3" y="2136.5">MYB</text>
<text x="101.3" y="2159.5">HTRA3</text>
<text x="101.3" y="2182.6">GAPDH</text>
<text x="101.3" y="2205.6">PROM1</text>
<text x="101.3" y="2228.6">UBASH3B</text>
<text x="101.3" y="2251.6">BAALC</text>
<text x="101.3" y="2274.7">H2AFY</text>
<text x="101.3" y="2297.7">FLT3</text>
<text x="101.3" y="2320.7">ENO1</text>
<text x="101.3" y="2343.8">MSH6</text>
<text x="101.3" y="2366.8">NUCB2</text>
<text x="101.3" y="2389.8">IGFBP7</text>
<text x="101.3" y="2412.9">AP000350.4</text>
<text x="101.3" y="2435.9">HMGN2</text>
<text x="101.3" y="2458.9">YBX3</text>
</g>
<g font-family="DejaVu Sans, Verdana, sans-serif" font-size="20" fill="#000">
<text transform="translate(201.8 1473.5) rotate(-45)">Leukemia</text>
<text transform="translate(373.8 1473.5) rotate(-45)">CD8 T cells</text>
<text transform="translate(512.4 1473.5) rotate(-45)">NK</text>
<text transform="translate(613.5 1473.5) rotate(-45)">mDC</text>
<text transform="translate(701.1 1473.5) rotate(-45)">Monocytes</text>
<text transform="translate(774.5 1473.5) rotate(-45)">Erythroid</text>
<text transform="translate(837.8 1473.5) rotate(-45)">pDC</text>
<text transform="translate(895.8 1473.5) rotate(-45)">CD4 T cells</text>
<text transform="translate(938.5 1473.5) rotate(-45)">B cells</text>
</g>
<text x="5" y="1343.5" font-family="Liberation Sans, Arial, sans-serif" font-weight="bold" font-size="64.5">e</text>
<defs><linearGradient id="eg" x1="0" y1="0" x2="0" y2="1"><stop offset="0" stop-color="#ffff00"/><stop offset="0.5" stop-color="#000"/><stop offset="1" stop-color="#ff00ff"/></linearGradient></defs>
<text x="977.2" y="1691" font-family="DejaVu Sans, Verdana, sans-serif" font-size="19">Expression</text>
<rect x="977.2" y="1702.4" width="30" height="153.5" fill="url(#eg)"/>
<path d="M977.2 1718h6M1001.2 1718h6M977.2 1748.9h6M1001.2 1748.9h6M977.2 1779.2h6M1001.2 1779.2h6M977.2 1809.4h6M1001.2 1809.4h6M977.2 1840.6h6M1001.2 1840.6h6" stroke="#fff" stroke-opacity="0.6" stroke-width="1"/>
<g font-family="DejaVu Sans, Verdana, sans-serif" font-size="15.6" fill="#222">
<text x="1016.7" y="1723.6">2</text>
<text x="1016.7" y="1754.5">1</text>
<text x="1016.7" y="1784.8">0</text>
<text x="1016.7" y="1815.0">-1</text>
<text x="1016.7" y="1846.2">-2</text>
</g>
<text x="977.2" y="1910.6" font-family="DejaVu Sans, Verdana, sans-serif" font-size="19">Identity</text>
<g font-family="DejaVu Sans, Verdana, sans-serif" font-size="15.6" fill="#222">
<circle cx="992" cy="1937.8" r="4.2" fill="#F8766D"/><text x="1017.2" y="1943.4">Leukemia</text>
<circle cx="992" cy="1968.5" r="4.2" fill="#D39200"/><text x="1017.2" y="1974.0">CD8 T cells</text>
<circle cx="992" cy="1999.1" r="4.2" fill="#93AA00"/><text x="1017.2" y="2004.7">NK</text>
<circle cx="992" cy="2029.8" r="4.2" fill="#00BA38"/><text x="1017.2" y="2035.3">mDC</text>
<circle cx="992" cy="2060.4" r="4.2" fill="#00C19F"/><text x="1017.2" y="2066.0">Monocytes</text>
<circle cx="992" cy="2091.1" r="4.2" fill="#00B9E3"/><text x="1017.2" y="2096.7">Erythroid</text>
<circle cx="992" cy="2121.7" r="4.2" fill="#619CFF"/><text x="1017.2" y="2127.3">pDC</text>
<circle cx="992" cy="2152.3" r="4.2" fill="#DB72FB"/><text x="1017.2" y="2157.9">CD4 T cells</text>
<circle cx="992" cy="2183.0" r="4.2" fill="#FF61C3"/><text x="1017.2" y="2188.6">B cells</text>
</g>
<text x="1127" y="1530.8" font-family="Liberation Sans, Arial, sans-serif" font-weight="bold" font-size="63">d</text>
<text x="1130" y="2022" font-family="Liberation Sans, Arial, sans-serif" font-weight="bold" font-size="64.5">f</text>
<path d="M1261.8 1502.2V1955.7H1771.2M1250.8 1955.7H1261.8M1255.8 1937.6H1261.8M1255.8 1919.4H1261.8M1255.8 1901.3H1261.8M1255.8 1883.1H1261.8M1250.8 1865.0H1261.8M1255.8 1846.9H1261.8M1255.8 1828.7H1261.8M1255.8 1810.6H1261.8M1255.8 1792.4H1261.8M1250.8 1774.3H1261.8M1255.8 1756.2H1261.8M1255.8 1738.0H1261.8M1255.8 1719.9H1261.8M1255.8 1701.7H1261.8M1250.8 1683.6H1261.8M1255.8 1665.5H1261.8M1255.8 1647.3H1261.8M1255.8 1629.2H1261.8M1255.8 1611.0H1261.8M1250.8 1592.9H1261.8M1255.8 1574.8H1261.8M1255.8 1556.6H1261.8M1255.8 1538.5H1261.8M1255.8 1520.3H1261.8M1250.8 1502.2H1261.8M1261.8 1955.7V1966.5M1274.5 1955.7V1961.5M1287.3 1955.7V1961.5M1300.0 1955.7V1961.5M1312.7 1955.7V1961.5M1325.5 1955.7V1966.5M1338.2 1955.7V1961.5M1351.0 1955.7V1961.5M1363.7 1955.7V1961.5M1376.4 1955.7V1961.5M1389.2 1955.7V1966.5M1401.9 1955.7V1961.5M1414.6 1955.7V1961.5M1427.4 1955.7V1961.5M1440.1 1955.7V1961.5M1452.8 1955.7V1966.5M1465.6 1955.7V1961.5M1478.3 1955.7V1961.5M1491.0 1955.7V1961.5M1503.8 1955.7V1961.5M1516.5 1955.7V1966.5M1529.3 1955.7V1961.5M1542.0 1955.7V1961.5M1554.7 1955.7V1961.5M1567.5 1955.7V1961.5M1580.2 1955.7V1966.5M1592.9 1955.7V1961.5M1605.7 1955.7V1961.5M1618.4 1955.7V1961.5M1631.1 1955.7V1961.5M1643.9 1955.7V1966.5M1656.6 1955.7V1961.5M1669.4 1955.7V1961.5M1682.1 1955.7V1961.5M1694.8 1955.7V1961.5M1707.6 1955.7V1966.5M1720.3 1955.7V1961.5M1733.0 1955.7V1961.5M1745.8 1955.7V1961.5M1758.5 1955.7V1961.5M1771.2 1955.7V1966.5" stroke="#000" stroke-width="1.9" fill="none"/>
<g font-family="Liberation Sans, Arial, sans-serif" font-size="15.6" text-anchor="end">
<text x="1249.8" y="1961.3">0</text>
<text x="1249.8" y="1870.6">1</text>
<text x="1249.8" y="1779.9">2</text>
<text x="1249.8" y="1689.2">3</text>
<text x="1249.8" y="1598.5">4</text>
<text x="1249.8" y="1507.8">5</text>
</g>
<g font-family="Liberation Sans, Arial, sans-serif" font-size="14.6" text-anchor="middle">
<text x="1261.8" y="1981.8">0</text>
<text x="1325.5" y="1981.8">2</text>
<text x="1389.2" y="1981.8">4</text>
<text x="1452.8" y="1981.8">6</text>
<text x="1516.5" y="1981.8">8</text>
<text x="1580.2" y="1981.8">10</text>
<text x="1643.9" y="1981.8">12</text>
<text x="1707.6" y="1981.8">14</text>
<text x="1771.2" y="1981.8">16</text>
</g>
<text x="1516.6" y="2017.7" font-family="Liberation Sans, Arial, sans-serif" font-size="22.7" text-anchor="middle">Odds Ratio</text>
<text transform="translate(1221.6 1732.6) rotate(-90)" font-family="Liberation Sans, Arial, sans-serif" font-size="22.7" text-anchor="middle">-log10(p-value)</text>
<g fill="#8c8c8c"><circle cx="1326.7" cy="1885.3" r="4.15"/><circle cx="1330.1" cy="1890.2" r="4.15"/><circle cx="1326.2" cy="1894.4" r="4.15"/><circle cx="1340.2" cy="1894.4" r="4.15"/><circle cx="1342.5" cy="1893.1" r="4.15"/><circle cx="1349.6" cy="1888.4" r="4.15"/><circle cx="1357.8" cy="1883" r="4.15"/><circle cx="1327.8" cy="1904.2" r="4.15"/><circle cx="1321" cy="1910.1" r="4.15"/><circle cx="1329.4" cy="1918.5" r="4.15"/><circle cx="1356.5" cy="1908.1" r="4.15"/><circle cx="1359.1" cy="1906.8" r="4.15"/><circle cx="1366.6" cy="1904.9" r="4.15"/><circle cx="1317.4" cy="1924.1" r="4.15"/><circle cx="1301.1" cy="1923.1" r="4.15"/><circle cx="1307.6" cy="1921.5" r="4.15"/><circle cx="1309.6" cy="1927.3" r="4.15"/><circle cx="1306.3" cy="1930" r="4.15"/><circle cx="1301.8" cy="1933.2" r="4.15"/><circle cx="1295.6" cy="1932.6" r="4.15"/><circle cx="1294.6" cy="1937.8" r="4.15"/><circle cx="1291" cy="1938.1" r="4.15"/><circle cx="1286.4" cy="1943.6" r="4.15"/><circle cx="1280.2" cy="1947.9" r="4.15"/><circle cx="1277" cy="1950.8" r="4.15"/><circle cx="1274.4" cy="1952.1" r="4.15"/><circle cx="1276.3" cy="1953.4" r="4.15"/><circle cx="1380.2" cy="1900.4" r="4.15"/><circle cx="1420.5" cy="1890.5" r="4.15"/><circle cx="1452.3" cy="1883.9" r="4.15"/><circle cx="1463" cy="1882.3" r="4.15"/><circle cx="1379.1" cy="1845.6" r="4.15"/><circle cx="1304" cy="1926" r="4.15"/><circle cx="1298" cy="1935" r="4.15"/><circle cx="1283" cy="1945.5" r="4.15"/></g>
<g fill="#0096ff"><circle cx="1353.5" cy="1837.1" r="7.1"/><circle cx="1388.4" cy="1838.8" r="7.1"/><circle cx="1458.2" cy="1836.6" r="7.1"/></g>
<g fill="#9437ff"><circle cx="1350.3" cy="1820.9" r="7.1"/><circle cx="1432.2" cy="1810.2" r="7.1"/><circle cx="1453.1" cy="1798.9" r="7.1"/></g>
<g fill="#ff2e8e"><circle cx="1570.2" cy="1527.1" r="8.6"/><circle cx="1524.9" cy="1636.3" r="8.6"/><circle cx="1741.3" cy="1701" r="8.6"/></g>
<g font-family="Liberation Sans, Arial, sans-serif" font-size="15.05"><text x="1596.7" y="1513.5"><tspan font-weight="bold">Term:</tspan> RUNX1 CHEA</text><text x="1596.7" y="1531.4"><tspan font-weight="bold">p-value:</tspan> 1.321e-5</text><text x="1596.7" y="1549.3"><tspan font-weight="bold">Odds Ratio:</tspan> 10.201</text></g>
<g font-family="Liberation Sans, Arial, sans-serif" font-size="15.05"><text x="1547.7" y="1623.0"><tspan font-weight="bold">Term:</tspan> KLF4 CHEA</text><text x="1547.7" y="1640.9"><tspan font-weight="bold">p-value:</tspan> 2.344e-4</text><text x="1547.7" y="1658.8"><tspan font-weight="bold">Odds Ratio:</tspan> 8.728</text></g>
<g font-family="Liberation Sans, Arial, sans-serif" font-size="15.05"><text x="1761.7" y="1687.2"><tspan font-weight="bold">Term:</tspan> NELFE ENCODE</text><text x="1761.7" y="1705.1"><tspan font-weight="bold">p-value:</tspan> 1.370e-3</text><text x="1761.7" y="1723.0"><tspan font-weight="bold">Odds Ratio:</tspan> 15.782</text></g>
</svg></body></html>
